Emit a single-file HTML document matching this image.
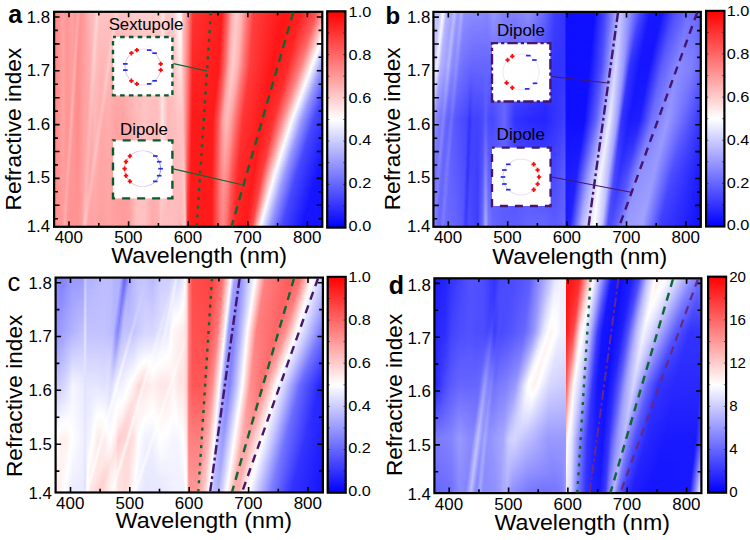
<!DOCTYPE html><html><head><meta charset="utf-8"><style>html,body{margin:0;padding:0;background:#fff;width:750px;height:540px;overflow:hidden}.hm{position:absolute;overflow:hidden}.hm i{position:absolute;left:0;width:100%;height:2.6px;display:block}svg{position:absolute;left:0;top:0}text{font-family:"Liberation Sans",sans-serif;fill:#000}</style></head><body><div class="hm" style="left:54.1px;top:11.8px;width:268.2px;height:215.0px"><i style="top:-1px;background:linear-gradient(90deg,#ff8585 -1px,#ff8585 0px,#ff8f8f 4px,#ffa3a3 9px,#ff9494 13px,#ffa3a3 18px,#ff9797 21.5px,#ff9797 22px,#ffa7a7 24.5px,#ff9696 26.5px,#ff9494 27px,#ff9898 29.5px,#ffb3b3 35px,#ffc0c0 40px,#ffd5d5 43px,#ffd4d4 43.5px,#ffc3c3 46px,#ffc2c2 46.5px,#ffc2c2 59.5px,#ffd6d6 62.5px,#ffc2c2 65.5px,#ffc2c2 70px,#ffcccc 82px,#ffcccc 104px,#ffd3d3 107px,#ffe4e4 109px,#ffd0d0 111px,#ffc8c8 113.5px,#ffcccc 119.5px,#ffcdcd 120px,#fff5f5 124px,#ffffff 125.4px,#f8f8ff 126.5px,#f8f8ff 127px,#ffffff 127.2px,#ffd0d0 128.5px,#ffc1c1 129px,#ff8d8d 134px,#ff3a3a 138.5px,#ff3333 139px,#ff1b1b 168px,#ff6868 174px,#ffaeae 178px,#ffcbcb 183px,#ffb1b1 188px,#ff7a7a 193px,#ff3d3d 200px,#ff1414 231px,#ff1f1f 246px,#ff4b4b 261.5px,#ff4e4e 262px,#ff9c9c 269px)"></i><i style="top:1px;background:linear-gradient(90deg,#ff8585 -1px,#ff8585 0px,#ff8f8f 4px,#ffa3a3 9px,#ff9494 13px,#ffa3a3 18px,#ff9797 21.5px,#ffa7a7 24px,#ffa6a6 24.5px,#ff9595 26.5px,#ff9898 29.5px,#ffb2b2 35px,#ffbfbf 40px,#ffd6d6 43px,#ffc2c2 46px,#ffc1c1 46.5px,#ffc1c1 59px,#ffd4d4 62px,#ffd4d4 62.5px,#ffc3c3 65px,#ffc1c1 65.5px,#ffc1c1 70px,#ffcccc 82px,#ffcccc 104px,#ffd3d3 107px,#ffe2e2 108.5px,#ffe4e4 109px,#ffd0d0 111px,#ffc8c8 113.5px,#ffcbcb 119.5px,#ffcdcd 120px,#fff5f5 124px,#ffffff 125.6px,#f9f9ff 126.5px,#fafaff 127px,#ffffff 127.2px,#ffd0d0 128.5px,#ffc1c1 129px,#ff8c8c 134px,#ff3a3a 138.5px,#ff3232 139px,#ff1a1a 167.5px,#ff1c1c 168px,#ff6262 173.5px,#ffa8a8 177.5px,#ffafaf 178px,#ffcaca 182.5px,#ffcbcb 183px,#ffb0b0 188px,#ff7878 193px,#ff3f3f 199.5px,#ff3d3d 200px,#ff1414 230.5px,#ff1f1f 245.5px,#ff4d4d 261px,#ff5050 261.5px,#ffa4a4 269px)"></i><i style="top:3px;background:linear-gradient(90deg,#ff8585 -1px,#ff8585 0px,#ff8f8f 4px,#ffa3a3 9px,#ff9494 13px,#ffa2a2 18px,#ff9797 21.5px,#ffa8a8 24px,#ff9494 26.5px,#ff9999 29.5px,#ffb2b2 35px,#ffc0c0 40px,#ffc9c9 41px,#ffd5d5 43px,#ffc1c1 46px,#ffc1c1 58.5px,#ffc1c1 59px,#ffd4d4 62px,#ffc1c1 65px,#ffc1c1 70px,#ffcbcb 82px,#ffcccc 104px,#ffd3d3 107px,#ffe2e2 108.5px,#ffe4e4 109px,#ffd0d0 111px,#ffc8c8 113.5px,#ffcbcb 119.5px,#ffcccc 120px,#fff4f4 124px,#ffffff 125.7px,#fafaff 126.5px,#fbfbff 127px,#ffffff 127.1px,#ffd0d0 128.5px,#ffc1c1 129px,#ff8b8b 134px,#ff3939 138.5px,#ff3232 139px,#ff1a1a 167.5px,#ff1e1e 168px,#ff6464 173.5px,#ffaaaa 177.5px,#ffafaf 178px,#ffcbcb 182.5px,#ffb3b3 187.5px,#ff7c7c 192.5px,#ff3e3e 199.5px,#ff1414 230px,#ff1f1f 245px,#ff4f4f 260.5px,#ff5353 261px,#ffacac 269px)"></i><i style="top:5px;background:linear-gradient(90deg,#ff8585 -1px,#ff8585 0px,#ff8f8f 4px,#ffa3a3 9px,#ff9494 13px,#ffa2a2 18px,#ff9797 21.5px,#ffa7a7 24px,#ff9393 26.5px,#ff9a9a 30px,#ffb2b2 35px,#ffbebe 39.5px,#ffd4d4 42.5px,#ffd4d4 43px,#ffc1c1 46px,#ffc0c0 58.5px,#ffd4d4 61.5px,#ffc1c1 64.5px,#ffc0c0 70px,#ffcbcb 82px,#ffcbcb 104px,#ffd3d3 107px,#ffe2e2 108.5px,#ffe4e4 109px,#ffd0d0 111px,#ffc6c6 114px,#ffcbcb 119.5px,#ffcccc 120px,#fff3f3 124px,#ffffff 125.9px,#fbfbff 126.5px,#fcfcff 127px,#ffffff 127.1px,#ffcfcf 128.5px,#ffc1c1 129px,#ff8b8b 134px,#ff3838 138.5px,#ff3131 139px,#ff1a1a 167.5px,#ff6565 173.5px,#ffacac 177.5px,#ffcccc 182.5px,#ffb2b2 187.5px,#ff7a7a 192.5px,#ff3d3d 199.5px,#ff1414 229.5px,#ff2020 244.5px,#ff5151 260px,#ff5555 260.5px,#ffb4b4 269px)"></i><i style="top:7px;background:linear-gradient(90deg,#ff8585 -1px,#ff8585 0px,#ff8f8f 4px,#ffa3a3 9px,#ff9494 13px,#ffa2a2 18px,#ff9898 21px,#ff9999 21.5px,#ffa6a6 23.5px,#ffa6a6 24px,#ff9595 26px,#ff9393 26.5px,#ff9a9a 30px,#ffb2b2 35px,#ffbdbd 39.5px,#ffd4d4 42.5px,#ffc1c1 45.5px,#ffc0c0 46px,#ffc0c0 58px,#ffc1c1 58.5px,#ffd2d2 61px,#ffd3d3 61.5px,#ffc0c0 64.5px,#ffc0c0 70px,#ffcaca 82px,#ffcbcb 104px,#ffd3d3 107px,#ffe2e2 108.5px,#ffe4e4 109px,#ffd0d0 111px,#ffc6c6 114px,#ffcbcb 119.5px,#ffcccc 120px,#fff2f2 124px,#ffffff 126.1px,#fdfdff 126.5px,#fdfdff 127px,#ffffff 127px,#ffcfcf 128.5px,#ffc1c1 129px,#ff8a8a 134px,#ff3737 138.5px,#ff3131 139px,#ff1a1a 167.5px,#ff6767 173.5px,#ffaeae 177.5px,#ffcaca 182px,#ffcbcb 182.5px,#ffb0b0 187.5px,#ff7979 192.5px,#ff3d3d 199.5px,#ff1414 229px,#ff2020 244px,#ff5454 259.5px,#ffbdbd 269px)"></i><i style="top:9px;background:linear-gradient(90deg,#ff8585 -1px,#ff8585 0px,#ff8f8f 4px,#ffa3a3 9px,#ff9494 13px,#ffa2a2 18px,#ff9898 21px,#ffa7a7 23.5px,#ff9494 26px,#ff9393 26.5px,#ff9a9a 30px,#ffb1b1 35px,#ffbdbd 39.5px,#ffcbcb 41px,#ffd5d5 42.5px,#ffc0c0 45.5px,#ffbfbf 58px,#ffd3d3 61px,#ffbfbf 64px,#ffbfbf 70px,#ffcaca 82px,#ffcbcb 104px,#ffd1d1 106.5px,#ffd4d4 107px,#ffe3e3 108.5px,#ffe4e4 109px,#ffcfcf 111px,#ffc6c6 114px,#ffcaca 119.5px,#ffcccc 120px,#fff1f1 124px,#ffffff 126.3px,#fefeff 126.5px,#ffffff 127px,#ffffff 127px,#ffcfcf 128.5px,#ffc1c1 129px,#ff8989 134px,#ff3636 138.5px,#ff3030 139px,#ff1a1a 167px,#ff1c1c 167.5px,#ff6969 173.5px,#ffa7a7 177px,#ffaeae 177.5px,#ffcbcb 182px,#ffcaca 182.5px,#ffb3b3 187px,#ff7c7c 192px,#ff3f3f 199px,#ff1414 228.5px,#ff2020 243.5px,#ff5656 259px,#ffc5c5 269px)"></i><i style="top:11px;background:linear-gradient(90deg,#ff8585 -1px,#ff8585 0px,#ff8f8f 4px,#ffa3a3 9px,#ff9494 13px,#ffa2a2 18px,#ff9898 21px,#ffa9a9 23.5px,#ff9393 26px,#ff9393 26.5px,#ff9b9b 30px,#ffb1b1 35px,#ffbcbc 39px,#ffbebe 39.5px,#ffcccc 41px,#ffd4d4 42.5px,#ffbfbf 45.5px,#ffbfbf 57.5px,#ffd1d1 60.5px,#ffd1d1 61px,#ffc0c0 63.5px,#ffbebe 64px,#ffbebe 70px,#ffcaca 82px,#ffcbcb 104px,#ffd1d1 106.5px,#ffd4d4 107px,#ffe3e3 108.5px,#ffe4e4 109px,#ffcfcf 111px,#ffc5c5 114px,#ffcaca 119.5px,#ffcbcb 120px,#fff0f0 124px,#ffffff 126.5px,#fffefe 127px,#ffcece 128.5px,#ffc1c1 129px,#ff8888 134px,#ff3535 138.5px,#ff3030 139px,#ff1a1a 167px,#ff1d1d 167.5px,#ff6363 173px,#ffa9a9 177px,#ffafaf 177.5px,#ffcccc 182px,#ffb3b3 187px,#ff7a7a 192px,#ff3d3d 199px,#ff1414 228px,#ff2121 243px,#ff5858 258.5px,#ffcdcd 269px)"></i><i style="top:13px;background:linear-gradient(90deg,#ff8585 -1px,#ff8585 0px,#ff8f8f 4px,#ffa3a3 9px,#ff9494 13px,#ffa2a2 18px,#ff9999 21px,#ffa8a8 23.5px,#ffa2a2 24px,#ff9292 26px,#ff9b9b 30px,#ffb1b1 35px,#ffbbbb 39px,#ffd3d3 42px,#ffd2d2 42.5px,#ffc1c1 45px,#ffbfbf 45.5px,#ffbfbf 57.5px,#ffd2d2 60.5px,#ffbebe 63.5px,#ffbebe 70px,#ffc9c9 82px,#ffcaca 104px,#ffd1d1 106.5px,#ffd4d4 107px,#ffe3e3 108.5px,#ffe4e4 109px,#ffcfcf 111px,#ffc5c5 114px,#ffcaca 119.5px,#ffcbcb 120px,#ffefef 124px,#fffefe 126.5px,#fffdfd 127px,#ffc1c1 129px,#ff8888 134px,#ff3535 138.5px,#ff2f2f 139px,#ff1a1a 167px,#ff6464 173px,#ffabab 177px,#ffcaca 181.5px,#ffcbcb 182px,#ffb1b1 187px,#ff7979 192px,#ff3d3d 199px,#ff1414 227.5px,#ff2222 243px,#ff5a5a 258px,#ffd6d6 269px)"></i><i style="top:15px;background:linear-gradient(90deg,#ff8585 -1px,#ff8585 0px,#ff8f8f 4px,#ffa3a3 9px,#ff9494 13px,#ffa1a1 18px,#ff9999 20.5px,#ff9a9a 21px,#ffa8a8 23px,#ffa7a7 23.5px,#ffa0a0 24px,#ff9494 25.5px,#ff9292 26px,#ff9b9b 30px,#ffb0b0 35px,#ffbbbb 39px,#ffcdcd 41px,#ffd4d4 42px,#ffbfbf 45px,#ffbfbf 45.5px,#ffbebe 57px,#ffd1d1 60px,#ffbebe 63px,#ffbdbd 70px,#ffc9c9 82px,#ffcaca 104px,#ffd1d1 106.5px,#ffe3e3 108.5px,#ffe4e4 109px,#ffcfcf 111px,#ffc5c5 114px,#ffc9c9 119.5px,#ffcbcb 120px,#ffeeee 124px,#fffcfc 126.5px,#fffcfc 127px,#ffc1c1 129px,#ff8787 134px,#ff3434 138.5px,#ff2f2f 139px,#ff1a1a 167px,#ff6666 173px,#ffadad 177px,#ffcbcb 181.5px,#ffcbcb 182px,#ffb4b4 186.5px,#ff7878 192px,#ff3f3f 198.5px,#ff3d3d 199px,#ff1414 227px,#ff2222 242.5px,#ff5a5a 257px,#ff5c5c 257.5px,#ffdede 269px)"></i><i style="top:17px;background:linear-gradient(90deg,#ff8585 -1px,#ff8585 0px,#ff8f8f 4px,#ffa3a3 9px,#ff9494 13px,#ffa1a1 18px,#ff9999 20.5px,#ffa9a9 23px,#ff9393 25.5px,#ff9292 26px,#ff9b9b 30px,#ffb0b0 35px,#ffbbbb 39px,#ffcece 41px,#ffd4d4 42px,#ffbebe 45px,#ffbebe 56.5px,#ffbfbf 57px,#ffcfcf 59.5px,#ffd0d0 60px,#ffbdbd 63px,#ffbdbd 70px,#ffc9c9 82px,#ffcaca 104px,#ffd1d1 106.5px,#ffe3e3 108.5px,#ffe4e4 109px,#ffd3d3 110.5px,#ffcfcf 111px,#ffc4c4 114px,#ffc9c9 119.5px,#ffcaca 120px,#ffeded 124px,#fffbfb 126.5px,#fffafa 127px,#ffc1c1 129px,#ff8686 134px,#ff3333 138.5px,#ff2f2f 139px,#ff1b1b 167px,#ff6868 173px,#ffaeae 177px,#ffcccc 181.5px,#ffb3b3 186.5px,#ff7b7b 191.5px,#ff3e3e 198.5px,#ff1414 226.5px,#ff2222 242px,#ff5c5c 256.5px,#ff5f5f 257px,#ffe6e6 269px)"></i><i style="top:19px;background:linear-gradient(90deg,#ff8585 -1px,#ff8585 0px,#ff8f8f 4px,#ffa3a3 9px,#ff9494 13px,#ffa1a1 18px,#ff9999 20.5px,#ffaaaa 23px,#ff9e9e 24px,#ff9292 25.5px,#ff9292 26px,#ff9b9b 30px,#ffb0b0 35px,#ffb9b9 38.5px,#ffd2d2 41.5px,#ffd2d2 42px,#ffbebe 45px,#ffbdbd 56.5px,#ffd1d1 59.5px,#ffbcbc 62.5px,#ffbcbc 70px,#ffc8c8 82px,#ffc9c9 104px,#ffd0d0 106.5px,#ffe4e4 108.5px,#ffe4e4 109px,#ffd3d3 110.5px,#ffcfcf 111px,#ffc4c4 114px,#ffc9c9 119.5px,#ffcaca 120px,#ffecec 124px,#fffafa 126.5px,#fff9f9 127px,#ffc1c1 129px,#ff8585 134px,#ff3232 138.5px,#ff2e2e 139px,#ff1a1a 166.5px,#ff1c1c 167px,#ff6262 172.5px,#ffa8a8 176.5px,#ffafaf 177px,#ffcccc 181.5px,#ffb2b2 186.5px,#ff7a7a 191.5px,#ff3d3d 198.5px,#ff1414 226px,#ff2323 241.5px,#ff5e5e 256px,#ff6262 256.5px,#ffefef 269px)"></i><i style="top:21px;background:linear-gradient(90deg,#ff8585 -1px,#ff8585 0px,#ff8f8f 4px,#ffa3a3 9px,#ff9494 13px,#ffa1a1 18px,#ff9a9a 20.5px,#ffa9a9 23px,#ff9c9c 24px,#ff9191 25.5px,#ff9b9b 30px,#ffb0b0 35px,#ffb9b9 38.5px,#ffd3d3 41.5px,#ffd1d1 42px,#ffbfbf 44.5px,#ffbebe 45px,#ffbdbd 56px,#ffcfcf 59px,#ffcfcf 59.5px,#ffbdbd 62px,#ffbcbc 62.5px,#ffbcbc 70px,#ffc8c8 82px,#ffc9c9 104px,#ffd0d0 106.5px,#ffe4e4 108.5px,#ffe4e4 109px,#ffd3d3 110.5px,#ffcfcf 111px,#ffc4c4 114px,#ffc9c9 119.5px,#ffcaca 120px,#ffebeb 124px,#fff8f8 126.5px,#fff8f8 127px,#ffc1c1 129px,#ff8585 134px,#ff3131 138.5px,#ff2e2e 139px,#ff1a1a 166.5px,#ff1e1e 167px,#ff6464 172.5px,#ffaaaa 176.5px,#ffb0b0 177px,#ffcaca 181px,#ffcbcb 181.5px,#ffb0b0 186.5px,#ff7878 191.5px,#ff3f3f 198px,#ff3d3d 198.5px,#ff1515 225.5px,#ff2323 241px,#ff6060 255.5px,#ff6464 256px,#fff7f7 269px)"></i><i style="top:23px;background:linear-gradient(90deg,#ff8585 -1px,#ff8585 0px,#ff8f8f 4px,#ffa3a3 9px,#ff9494 13px,#ffa1a1 18px,#ff9a9a 20px,#ff9b9b 20.5px,#ffa9a9 22.5px,#ffa8a8 23px,#ff9b9b 24px,#ff9191 25.5px,#ff9c9c 30px,#ffafaf 35px,#ffb9b9 38.5px,#ffd4d4 41.5px,#ffbdbd 44.5px,#ffbdbd 56px,#ffd0d0 59px,#ffbbbb 62px,#ffbbbb 70px,#ffc7c7 82px,#ffcaca 91px,#ffc9c9 104px,#ffd0d0 106.5px,#ffe4e4 108.5px,#ffe4e4 109px,#ffd2d2 110.5px,#ffcfcf 111px,#ffc4c4 114px,#ffc9c9 120px,#ffeaea 124px,#fff7f7 126.5px,#fff6f6 127px,#ffc1c1 129px,#ff8484 134px,#ff3131 138.5px,#ff2d2d 139px,#ff1a1a 166.5px,#ff6565 172.5px,#ffacac 176.5px,#ffcbcb 181px,#ffb3b3 186px,#ff7c7c 191px,#ff3e3e 198px,#ff1515 225px,#ff2323 240.5px,#ff6262 255px,#ffffff 269px,#ffffff 269px)"></i><i style="top:25px;background:linear-gradient(90deg,#ff8585 -1px,#ff8585 0px,#ff8f8f 4px,#ffa3a3 9px,#ff9494 13px,#ffa0a0 18px,#ff9a9a 20px,#ffaaaa 22.5px,#ffa6a6 23px,#ff9a9a 24px,#ff9292 25px,#ff9191 25.5px,#ff9c9c 30px,#ffafaf 35px,#ffb7b7 38px,#ffbaba 38.5px,#ffd1d1 41px,#ffd2d2 41.5px,#ffbdbd 44.5px,#ffbdbd 55.5px,#ffcfcf 58.5px,#ffbbbb 61.5px,#ffbbbb 70px,#ffc7c7 82px,#ffcaca 91px,#ffc9c9 104px,#ffd0d0 106.5px,#ffe4e4 108.5px,#ffe4e4 109px,#ffd2d2 110.5px,#ffcfcf 111px,#ffc3c3 114px,#ffc9c9 120px,#ffe9e9 124px,#fff6f6 126.5px,#fff5f5 127px,#ffc1c1 129px,#ff8383 134px,#ff3030 138.5px,#ff2d2d 139px,#ff1a1a 166.5px,#ff6767 172.5px,#ffaeae 176.5px,#ffcccc 181px,#ffb2b2 186px,#ff7a7a 191px,#ff3d3d 198px,#ff1515 225px,#ff2323 240px,#ff6565 254.5px,#ffffff 268.3px,#f7f7ff 269px)"></i><i style="top:27px;background:linear-gradient(90deg,#ff8585 -1px,#ff8585 0px,#ff8f8f 4px,#ffa3a3 9px,#ff9494 13px,#ffa0a0 18px,#ff9a9a 20px,#ffabab 22.5px,#ff9898 24px,#ff9090 25px,#ff9191 25.5px,#ff9c9c 30px,#ffafaf 35px,#ffb7b7 38px,#ffd2d2 41px,#ffd1d1 41.5px,#ffbfbf 44px,#ffbdbd 44.5px,#ffbcbc 55px,#ffbdbd 55.5px,#ffcdcd 58px,#ffcece 58.5px,#ffbaba 61.5px,#ffbaba 70px,#ffc7c7 82px,#ffc9c9 91px,#ffc8c8 104px,#ffd0d0 106.5px,#ffe5e5 108.5px,#ffe4e4 109px,#ffd2d2 110.5px,#ffcfcf 111px,#ffc3c3 114px,#ffc9c9 120px,#ffe8e8 124px,#fff5f5 126.5px,#fff4f4 127px,#ffc1c1 129px,#ff8282 134px,#ff2f2f 138.5px,#ff2c2c 139px,#ff1a1a 166px,#ff1c1c 166.5px,#ff6969 172.5px,#ffa7a7 176px,#ffafaf 176.5px,#ffcaca 180.5px,#ffcbcb 181px,#ffb0b0 186px,#ff7979 191px,#ff3d3d 198px,#ff1515 224.5px,#ff2424 239.5px,#ff6767 254px,#ffffff 267.6px,#f0f0ff 269px)"></i><i style="top:29px;background:linear-gradient(90deg,#ff8585 -1px,#ff8585 0px,#ff8f8f 4px,#ffa3a3 9px,#ff9494 13px,#ffa0a0 18px,#ff9b9b 20px,#ffa9a9 22px,#ffaaaa 22.5px,#ff9797 24px,#ff9090 25px,#ff9c9c 30px,#ffafaf 35px,#ffb7b7 38px,#ffd3d3 41px,#ffbdbd 44px,#ffbcbc 44.5px,#ffbbbb 47px,#ffbcbc 55px,#ffcfcf 58px,#ffb9b9 61px,#ffb9b9 70px,#ffc6c6 82px,#ffc9c9 91px,#ffc8c8 104px,#ffd0d0 106.5px,#ffe5e5 108.5px,#ffe4e4 109px,#ffd2d2 110.5px,#ffc3c3 114px,#ffc9c9 120px,#ffe7e7 124px,#fff3f3 126.5px,#fff3f3 127px,#ffc1c1 129px,#ff8282 134px,#ff2e2e 138.5px,#ff2c2c 139px,#ff1a1a 166px,#ff1d1d 166.5px,#ff6363 172px,#ffa9a9 176px,#ffafaf 176.5px,#ffcbcb 180.5px,#ffcaca 181px,#ffb3b3 185.5px,#ff7c7c 190.5px,#ff3f3f 197.5px,#ff1515 224px,#ff2424 239px,#ff6969 253.5px,#fffcfc 266.5px,#ffffff 266.8px,#e8e8ff 269px)"></i><i style="top:31px;background:linear-gradient(90deg,#ff8585 -1px,#ff8585 0px,#ff8f8f 4px,#ffa3a3 9px,#ff9494 13px,#ffa0a0 18px,#ff9b9b 19.5px,#ff9c9c 20px,#ffaaaa 22px,#ffa9a9 22.5px,#ff9595 24px,#ff9090 25px,#ff9c9c 30px,#ffb7b7 38px,#ffd3d3 41px,#ffbcbc 44px,#ffbaba 47px,#ffbcbc 54.5px,#ffcdcd 57.5px,#ffcdcd 58px,#ffbbbb 60.5px,#ffb9b9 61px,#ffb9b9 70px,#ffc6c6 82px,#ffc9c9 91px,#ffc8c8 104px,#ffd0d0 106.5px,#ffe5e5 108.5px,#ffe4e4 109px,#ffd2d2 110.5px,#ffc2c2 114px,#ffc8c8 120px,#ffe6e6 124px,#fff2f2 126.5px,#fff1f1 127px,#ffc1c1 129px,#ff8181 134px,#ff2d2d 138.5px,#ff2b2b 139px,#ff1a1a 166px,#ff6565 172px,#ffabab 176px,#ffcccc 180.5px,#ffb3b3 185.5px,#ff7b7b 190.5px,#ff3d3d 197.5px,#ff1515 223.5px,#ff2424 238.5px,#ff6b6b 253px,#ffffff 266px,#ffffff 266px,#e0e0ff 269px)"></i><i style="top:33px;background:linear-gradient(90deg,#ff8585 -1px,#ff8585 0px,#ff8f8f 4px,#ffa3a3 9px,#ff9494 13px,#ffa0a0 18px,#ff9b9b 19.5px,#ffabab 22px,#ffa7a7 22.5px,#ff9494 24px,#ff9090 24.5px,#ff9090 25px,#ff9d9d 30px,#ffb5b5 37.5px,#ffb8b8 38px,#ffd0d0 40.5px,#ffd2d2 41px,#ffbcbc 44px,#ffbaba 47px,#ffbcbc 54.5px,#ffcece 57.5px,#ffb8b8 60.5px,#ffb8b8 70px,#ffc6c6 82px,#ffc9c9 91px,#ffc7c7 104px,#ffd0d0 106.5px,#ffe5e5 108.5px,#ffe3e3 109px,#ffd1d1 110.5px,#ffc2c2 114px,#ffc8c8 120px,#ffe5e5 124px,#fff1f1 126.5px,#fff0f0 127px,#ffc1c1 129px,#ff8080 134px,#ff2c2c 138.5px,#ff2b2b 139px,#ff1a1a 166px,#ff6666 172px,#ffadad 176px,#ffcbcb 180.5px,#ffb1b1 185.5px,#ff7979 190.5px,#ff3d3d 197.5px,#ff1515 223px,#ff2626 238.5px,#ff6b6b 252px,#ff6e6e 252.5px,#fffcfc 265px,#ffffff 265.3px,#d9d9ff 269px)"></i><i style="top:35px;background:linear-gradient(90deg,#ff8585 -1px,#ff8585 0px,#ff8f8f 4px,#ffa3a3 9px,#ff9494 13px,#ff9f9f 18px,#ff9b9b 19.5px,#ffacac 22px,#ff9393 24px,#ff8f8f 24.5px,#ff9d9d 30px,#ffb5b5 37.5px,#ffd1d1 40.5px,#ffd0d0 41px,#ffbdbd 43.5px,#ffbaba 46.5px,#ffbbbb 54px,#ffcdcd 57px,#ffcbcb 57.5px,#ffb9b9 60px,#ffb8b8 60.5px,#ffb8b8 70px,#ffc5c5 82px,#ffc9c9 91px,#ffc7c7 104px,#ffd0d0 106.5px,#ffe5e5 108.5px,#ffe3e3 109px,#ffd1d1 110.5px,#ffc2c2 114px,#ffc8c8 120px,#ffe4e4 124px,#ffefef 126.5px,#ffefef 127px,#ffc1c1 129px,#ff7f7f 134px,#ff2c2c 138.5px,#ff2a2a 139px,#ff1b1b 166px,#ff6868 172px,#ffaeae 176px,#ffcaca 180px,#ffcbcb 180.5px,#ffb4b4 185px,#ff7878 190.5px,#ff3f3f 197px,#ff3d3d 197.5px,#ff1515 222.5px,#ff2626 238px,#ff6d6d 251.5px,#ff7070 252px,#ffffff 264.5px,#ffffff 264.5px,#d1d1ff 269px)"></i><i style="top:37px;background:linear-gradient(90deg,#ff8585 -1px,#ff8585 0px,#ff8f8f 4px,#ffa3a3 9px,#ff9494 13px,#ff9f9f 18px,#ff9c9c 19.5px,#ffaaaa 21.5px,#ffabab 22px,#ff9191 24px,#ff8f8f 24.5px,#ff9d9d 30px,#ffb5b5 37.5px,#ffd1d1 40.5px,#ffbcbc 43.5px,#ffb9b9 46.5px,#ffbaba 53.5px,#ffbbbb 54px,#ffcccc 56.5px,#ffcdcd 57px,#ffb8b8 60px,#ffb7b7 70px,#ffc5c5 82px,#ffc8c8 91px,#ffc7c7 104px,#ffd0d0 106.5px,#ffe6e6 108.5px,#ffe3e3 109px,#ffd1d1 110.5px,#ffc2c2 114px,#ffc7c7 120px,#ffe3e3 124px,#ffeeee 126.5px,#ffeeee 127px,#ffc0c0 129px,#ff7f7f 134px,#ff2b2b 138.5px,#ff2a2a 139px,#ff1a1a 165.5px,#ff1c1c 166px,#ff6262 171.5px,#ffa8a8 175.5px,#ffafaf 176px,#ffcbcb 180px,#ffb3b3 185px,#ff7b7b 190px,#ff3e3e 197px,#ff1515 222px,#ff2626 237.5px,#ff6f6f 251px,#ff7373 251.5px,#fffcfc 263.5px,#ffffff 263.8px,#cacaff 269px)"></i><i style="top:39px;background:linear-gradient(90deg,#ff8585 -1px,#ff8585 0px,#ff8f8f 4px,#ffa3a3 9px,#ff9494 13px,#ff9e9e 17.5px,#ff9d9d 19.5px,#ffabab 21.5px,#ffaaaa 22px,#ff9090 24px,#ff8e8e 24.5px,#ffb3b3 37px,#ffb5b5 37.5px,#ffd0d0 40.5px,#ffbcbc 43.5px,#ffb9b9 46.5px,#ffbaba 53.5px,#ffcdcd 56.5px,#ffb8b8 59.5px,#ffb7b7 70px,#ffc4c4 82px,#ffc8c8 91px,#ffc7c7 104px,#ffd0d0 106.5px,#ffe6e6 108.5px,#ffe3e3 109px,#ffd1d1 110.5px,#ffc1c1 114px,#ffc7c7 120px,#ffe2e2 124px,#ffeded 126.5px,#ffecec 127px,#ffc0c0 129px,#ff7e7e 134px,#ff2a2a 138.5px,#ff1a1a 165.5px,#ff1e1e 166px,#ff6464 171.5px,#ffaaaa 175.5px,#ffb0b0 176px,#ffcccc 180px,#ffb2b2 185px,#ff7a7a 190px,#ff3d3d 197px,#ff1515 221.5px,#ff2626 237px,#ff7171 250.5px,#ffffff 263px,#ffffff 263px,#c2c2ff 269px)"></i><i style="top:41px;background:linear-gradient(90deg,#ff8585 -1px,#ff8585 0px,#ff8f8f 4px,#ffa3a3 9px,#ff9494 13px,#ff9e9e 17.5px,#ff9c9c 19px,#ffacac 21.5px,#ffa8a8 22px,#ff8f8f 24px,#ff8e8e 24.5px,#ffb3b3 37px,#ffcece 40px,#ffcfcf 40.5px,#ffbbbb 43.5px,#ffb8b8 46.5px,#ffb9b9 53px,#ffcccc 56px,#ffcbcb 56.5px,#ffb7b7 59.5px,#ffb6b6 70px,#ffc4c4 82px,#ffc8c8 91px,#ffc6c6 104px,#ffcfcf 106.5px,#ffe6e6 108.5px,#ffe3e3 109px,#ffd1d1 110.5px,#ffc1c1 114px,#ffc7c7 120px,#ffe1e1 124px,#ffecec 126.5px,#ffebeb 127px,#ffc0c0 129px,#ff7d7d 134px,#ff2929 138.5px,#ff1a1a 165.5px,#ff6565 171.5px,#ffacac 175.5px,#ffcaca 179.5px,#ffcbcb 180px,#ffb0b0 185px,#ff7878 190px,#ff3d3d 197px,#ff1515 221px,#ff2727 236.5px,#ff7373 250px,#fffcfc 262px,#ffffff 262.3px,#babaff 269px)"></i><i style="top:43px;background:linear-gradient(90deg,#ff8585 -1px,#ff8585 0px,#ff8f8f 4px,#ffa3a3 9px,#ff9494 13px,#ff9e9e 17.5px,#ff9c9c 19px,#ffadad 21.5px,#ff8d8d 24px,#ffb2b2 37px,#ffcfcf 40px,#ffcccc 41px,#ffbcbc 43px,#ffb8b8 46.5px,#ffb9b9 53px,#ffcdcd 56px,#ffb7b7 59px,#ffb5b5 70px,#ffc4c4 82px,#ffc8c8 91px,#ffc6c6 104px,#ffcfcf 106.5px,#ffe6e6 108.5px,#ffe3e3 109px,#ffd1d1 110.5px,#ffc1c1 114px,#ffc6c6 120px,#ffe0e0 124px,#ffeaea 126.5px,#ffeaea 127px,#ffc0c0 129px,#ff7c7c 134px,#ff2929 138.5px,#ff1a1a 165.5px,#ff6767 171.5px,#ffaeae 175.5px,#ffcbcb 179.5px,#ffb3b3 184.5px,#ff7c7c 189.5px,#ff3e3e 196.5px,#ff1515 220.5px,#ff2727 236px,#ff7676 249.5px,#ffffff 261.5px,#ffffff 261.5px,#b3b3ff 269px)"></i><i style="top:45px;background:linear-gradient(90deg,#ff8585 -1px,#ff8585 0px,#ff8f8f 4px,#ffa3a3 9px,#ff9494 13px,#ff9e9e 17.5px,#ff9d9d 19px,#ffabab 21px,#ffacac 21.5px,#ff8d8d 24px,#ffb2b2 37px,#ffcfcf 40px,#ffcbcb 41px,#ffbbbb 43px,#ffb7b7 46.5px,#ffb8b8 52.5px,#ffcccc 55.5px,#ffcaca 56px,#ffb7b7 58.5px,#ffb6b6 59px,#ffb5b5 70px,#ffc3c3 82px,#ffc8c8 91px,#ffc6c6 104px,#ffd0d0 106.5px,#ffe6e6 108.5px,#ffe3e3 109px,#ffd1d1 110.5px,#ffc0c0 114px,#ffc6c6 120px,#ffdfdf 124px,#ffe9e9 126.5px,#ffe9e9 127px,#ffc0c0 129px,#ff7b7b 134px,#ff2828 138.5px,#ff1a1a 165px,#ff1c1c 165.5px,#ff6969 171.5px,#ffa7a7 175px,#ffafaf 175.5px,#ffcccc 179.5px,#ffb2b2 184.5px,#ff7a7a 189.5px,#ff3d3d 196.5px,#ff1515 220px,#ff2727 235.5px,#ff7878 249px,#fffcfc 260.5px,#ffffff 260.8px,#ababff 269px)"></i><i style="top:47px;background:linear-gradient(90deg,#ff8585 -1px,#ff8585 0px,#ff8f8f 4px,#ffa3a3 9px,#ff9494 13px,#ff9e9e 17.5px,#ff9e9e 19px,#ffacac 21px,#ffabab 21.5px,#ff9090 23.5px,#ff8d8d 24px,#ffb0b0 36.5px,#ffb3b3 37px,#ffcbcb 39.5px,#ffcece 40px,#ffc9c9 41px,#ffbbbb 43px,#ffb6b6 47px,#ffb9b9 52.5px,#ffcbcb 55px,#ffcccc 55.5px,#ffb6b6 58.5px,#ffb4b4 70px,#ffc3c3 82px,#ffc7c7 91px,#ffc6c6 104px,#ffd0d0 106.5px,#ffe6e6 108.5px,#ffe3e3 109px,#ffd1d1 110.5px,#ffc0c0 114px,#ffc6c6 120px,#ffdede 124px,#ffe8e8 126.5px,#ffe7e7 127px,#ffc0c0 129px,#ff7b7b 134px,#ff2828 138.5px,#ff1a1a 165px,#ff1d1d 165.5px,#ff6363 171px,#ffa9a9 175px,#ffafaf 175.5px,#ffcaca 179px,#ffcbcb 179.5px,#ffb1b1 184.5px,#ff7979 189.5px,#ff3d3d 196.5px,#ff1515 219.5px,#ff2727 235px,#ff7a7a 248.5px,#ffffff 260px,#ffffff 260px,#a4a4ff 269px)"></i><i style="top:49px;background:linear-gradient(90deg,#ff8585 -1px,#ff8585 0px,#ff8f8f 4px,#ffa3a3 9px,#ff9494 13px,#ff9e9e 17.5px,#ff9d9d 18.5px,#ffadad 21px,#ffa9a9 21.5px,#ff8f8f 23.5px,#ff8d8d 24px,#ffb0b0 36.5px,#ffcccc 39.5px,#ffcdcd 40px,#ffc8c8 41px,#ffbcbc 42.5px,#ffbbbb 43px,#ffb6b6 47px,#ffb7b7 52px,#ffcccc 55px,#ffb6b6 58px,#ffb4b4 61px,#ffb4b4 70px,#ffc3c3 82px,#ffc7c7 90.5px,#ffc5c5 104px,#ffd0d0 106.5px,#ffe6e6 108.5px,#ffe3e3 109px,#ffd1d1 110.5px,#ffc0c0 114px,#ffc5c5 120px,#ffdddd 124px,#ffe7e7 126.5px,#ffe6e6 127px,#ffc0c0 129px,#ff7a7a 134px,#ff2727 138.5px,#ff1a1a 165px,#ff6565 171px,#ffabab 175px,#ffcbcb 179px,#ffcaca 179.5px,#ffb3b3 184px,#ff7c7c 189px,#ff3f3f 196px,#ff1515 219px,#ff2828 234.5px,#ff7979 247.5px,#ff7d7d 248px,#ffffff 259.3px,#fdfdff 259.5px,#9c9cff 269px)"></i><i style="top:51px;background:linear-gradient(90deg,#ff8585 -1px,#ff8585 0px,#ff8f8f 4px,#ffa3a3 9px,#ff9494 13px,#ff9d9d 17.5px,#ff9c9c 18.5px,#ffaeae 21px,#ff8e8e 23.5px,#ff8d8d 24px,#ffb0b0 36.5px,#ffcdcd 39.5px,#ffc7c7 41px,#ffbbbb 42.5px,#ffb5b5 47px,#ffb7b7 51.5px,#ffcaca 54.5px,#ffcbcb 55px,#ffb5b5 58px,#ffb3b3 61px,#ffb3b3 70px,#ffc2c2 82px,#ffc7c7 90.5px,#ffc5c5 104px,#ffd0d0 106.5px,#ffe6e6 108.5px,#ffe3e3 109px,#ffd1d1 110.5px,#ffc0c0 114px,#ffc4c4 119.5px,#ffc5c5 120px,#ffdcdc 124px,#ffe5e5 126.5px,#ffe5e5 127px,#ffc0c0 129px,#ff7979 134px,#ff2727 138.5px,#ff1a1a 165px,#ff6666 171px,#ffadad 175px,#ffcccc 179px,#ffb3b3 184px,#ff7b7b 189px,#ff3d3d 196px,#ff1515 218.5px,#ff2a2a 234.5px,#ff7b7b 247px,#ff7f7f 247.5px,#fffefe 258.5px,#ffffff 258.6px,#9696ff 269px)"></i><i style="top:53px;background:linear-gradient(90deg,#ff8585 -1px,#ff8585 0px,#ff8f8f 4px,#ffa3a3 9px,#ff9494 13px,#ff9d9d 18.5px,#ffacac 20.5px,#ffadad 21px,#ff9393 23px,#ff8d8d 23.5px,#ff8d8d 24px,#ffaeae 36px,#ffb0b0 36.5px,#ffcccc 39.5px,#ffc6c6 41px,#ffbbbb 42.5px,#ffb5b5 47px,#ffb7b7 51.5px,#ffcccc 54.5px,#ffb5b5 57.5px,#ffb2b2 61px,#ffb3b3 70px,#ffc2c2 82px,#ffc7c7 90.5px,#ffc5c5 104px,#ffd0d0 106.5px,#ffe6e6 108.5px,#ffe3e3 109px,#ffd1d1 110.5px,#ffbfbf 114px,#ffc4c4 119.5px,#ffc5c5 120px,#ffdcdc 124px,#ffe4e4 126.5px,#ffe4e4 127px,#ffc0c0 129px,#ff7878 134px,#ff2e2e 138px,#ff2626 138.5px,#ff1a1a 164.5px,#ff1b1b 165px,#ff6868 171px,#ffaeae 175px,#ffcbcb 179px,#ffb1b1 184px,#ff7979 189px,#ff3d3d 196px,#ff1515 218px,#ff2a2a 234px,#ff7d7d 246.5px,#ffffff 257.8px,#fdfdff 258px,#9c9cff 267.5px,#9191ff 269px)"></i><i style="top:55px;background:linear-gradient(90deg,#ff8585 -1px,#ff8585 0px,#ff8f8f 4px,#ffa3a3 9px,#ff9494 13px,#ff9f9f 18.5px,#ffadad 20.5px,#ffacac 21px,#ff9191 23px,#ff8d8d 23.5px,#ff8c8c 24px,#ffaeae 36px,#ffc9c9 39px,#ffcbcb 39.5px,#ffc5c5 41px,#ffbaba 42.5px,#ffb5b5 47px,#ffb6b6 51px,#ffcaca 54px,#ffc9c9 54.5px,#ffb6b6 57px,#ffb5b5 57.5px,#ffb2b2 61px,#ffb2b2 70px,#ffc1c1 82px,#ffc6c6 90.5px,#ffc4c4 104px,#ffd0d0 106.5px,#ffe6e6 108.5px,#ffe3e3 109px,#ffd1d1 110.5px,#ffbfbf 114px,#ffc4c4 119.5px,#ffc5c5 120px,#ffdbdb 124px,#ffe3e3 126.5px,#ffe2e2 127px,#ffc0c0 129px,#ff7878 134px,#ff2d2d 138px,#ff2626 138.5px,#ff1a1a 164.5px,#ff1e1e 165px,#ff6464 170.5px,#ffaaaa 174.5px,#ffcaca 178.5px,#ffcaca 179px,#ffb2b2 183.5px,#ff7b7b 188.5px,#ff3e3e 195.5px,#ff1515 217.5px,#ff2a2a 233.5px,#ff7f7f 246px,#fffefe 257px,#ffffff 257.1px,#9a9aff 267px,#8c8cff 269px)"></i><i style="top:57px;background:linear-gradient(90deg,#ff8585 -1px,#ff8585 0px,#ff8f8f 4px,#ffa3a3 9px,#ff9494 13px,#ff9d9d 18px,#ffaeae 20.5px,#ffaaaa 21px,#ff9090 23px,#ff8c8c 24px,#ff9f9f 30px,#ffaeae 36px,#ffcaca 39px,#ffc6c6 40.5px,#ffbaba 42.5px,#ffb4b4 47px,#ffb6b6 51px,#ffcaca 54px,#ffb5b5 57px,#ffb1b1 61px,#ffb1b1 70px,#ffc1c1 82px,#ffc6c6 90.5px,#ffc4c4 104px,#ffd0d0 106.5px,#ffe2e2 108px,#ffe5e5 108.5px,#ffe3e3 109px,#ffd1d1 110.5px,#ffbfbf 114px,#ffc4c4 120px,#ffdada 124px,#ffe1e1 126.5px,#ffe1e1 127px,#ffc0c0 129px,#ff7777 134px,#ff2c2c 138px,#ff2525 138.5px,#ff1a1a 164px,#ff1a1a 164.5px,#ff6767 170.5px,#ffadad 174.5px,#ffcaca 178.5px,#ffb0b0 183.5px,#ff7878 188.5px,#ff3c3c 195.5px,#ff1515 217.5px,#ff2b2b 233px,#ff7d7d 245px,#ff8181 245.5px,#ffffff 256.3px,#fdfdff 256.5px,#9c9cff 266px,#8787ff 269px)"></i><i style="top:59px;background:linear-gradient(90deg,#ff8585 -1px,#ff8585 0px,#ff8f8f 4px,#ffa3a3 9px,#ff9494 13px,#ff9d9d 18px,#ffafaf 20.5px,#ff8f8f 23px,#ff8c8c 24px,#ff9f9f 30px,#ffadad 36px,#ffcbcb 39px,#ffc3c3 41px,#ffbbbb 42px,#ffb4b4 47px,#ffb5b5 50.5px,#ffcaca 53.5px,#ffb5b5 56.5px,#ffb4b4 57px,#ffb1b1 61px,#ffb1b1 69.5px,#ffc1c1 82px,#ffc6c6 90.5px,#ffc4c4 104px,#ffd0d0 106.5px,#ffe2e2 108px,#ffe5e5 108.5px,#ffe3e3 109px,#ffd1d1 110.5px,#ffbebe 114px,#ffc4c4 120px,#ffd9d9 124px,#ffe0e0 126.5px,#ffe0e0 127px,#ff7676 134px,#ff2b2b 138px,#ff2525 138.5px,#ff1a1a 164px,#ff1d1d 164.5px,#ff6262 170px,#ffa9a9 174px,#ffaeae 174.5px,#ffc9c9 178px,#ffc9c9 178.5px,#ffb1b1 183px,#ff7a7a 188px,#ff3d3d 195px,#ff1515 217px,#ff2c2c 232.5px,#ff8484 245px,#ffffff 255.6px,#fbfbff 256px,#9a9aff 265.5px,#8282ff 269px)"></i><i style="top:61px;background:linear-gradient(90deg,#ff8585 -1px,#ff8585 0px,#ff8f8f 4px,#ffa3a3 9px,#ff9494 13px,#ff9d9d 17.5px,#ffadad 20px,#ffaeae 20.5px,#ff8e8e 23px,#ff8c8c 24px,#ff9f9f 30px,#ffabab 35.5px,#ffaeae 36px,#ffc7c7 38.5px,#ffcaca 39px,#ffc2c2 41px,#ffbaba 42px,#ffb3b3 47px,#ffb6b6 50.5px,#ffc8c8 53px,#ffc8c8 53.5px,#ffb4b4 56.5px,#ffb0b0 61px,#ffb0b0 69.5px,#ffc0c0 82px,#ffc6c6 90.5px,#ffc4c4 104px,#ffd0d0 106.5px,#ffe2e2 108px,#ffe5e5 108.5px,#ffe3e3 109px,#ffd0d0 110.5px,#ffbebe 114px,#ffc4c4 120px,#ffd8d8 124px,#ffdfdf 126.5px,#ffdfdf 127px,#ff7d7d 133.5px,#ff2a2a 138px,#ff2424 138.5px,#ff1a1a 164px,#ff6565 170px,#ffacac 174px,#ffcaca 178px,#ffaeae 183px,#ff7777 188px,#ff3b3b 195px,#ff1515 216.5px,#ff2c2c 232px,#ff8181 244px,#ffffff 254.9px,#fdfdff 255px,#9c9cff 264.5px,#7d7dff 269px)"></i><i style="top:63px;background:linear-gradient(90deg,#ff8585 -1px,#ff8585 0px,#ff8f8f 4px,#ffa3a3 9px,#ff9494 13px,#ff9c9c 17.5px,#ffaeae 20px,#ffacac 20.5px,#ff9292 22.5px,#ff8e8e 23px,#ff8c8c 24px,#ff9f9f 30px,#ffabab 35.5px,#ffc7c7 38.5px,#ffc9c9 39px,#ffc1c1 41px,#ffbaba 42px,#ffb3b3 47px,#ffb4b4 50px,#ffc9c9 53px,#ffb5b5 56px,#ffb0b0 61px,#ffb0b0 69.5px,#ffc0c0 82px,#ffc6c6 90.5px,#ffc3c3 104px,#ffd0d0 106.5px,#ffe2e2 108px,#ffe5e5 108.5px,#ffe3e3 109px,#ffd0d0 110.5px,#ffbebe 114px,#ffc3c3 120px,#ffd7d7 124px,#ffdede 126.5px,#ffdddd 127px,#ff7d7d 133.5px,#ff2a2a 138px,#ff2424 138.5px,#ff1a1a 163.5px,#ff1d1d 164px,#ff6161 169.5px,#ffa7a7 173.5px,#ffadad 174px,#ffc7c7 177.5px,#ffc8c8 178px,#ffb0b0 182.5px,#ff7979 187.5px,#ff3c3c 194.5px,#ff1515 216px,#ff2d2d 231.5px,#ff8383 243.5px,#fffefe 254px,#ffffff 254.1px,#9a9aff 264px,#7878ff 269px)"></i><i style="top:65px;background:linear-gradient(90deg,#ff8585 -1px,#ff8585 0px,#ff8f8f 4px,#ffa3a3 9px,#ff9494 13px,#ff9c9c 17.5px,#ffafaf 20px,#ffabab 20.5px,#ff9191 22.5px,#ff8c8c 24px,#ff9f9f 30px,#ffabab 35.5px,#ffc8c8 38.5px,#ffc2c2 40.5px,#ffbaba 42px,#ffb2b2 47px,#ffb3b3 49.5px,#ffc7c7 52.5px,#ffc7c7 53px,#ffb4b4 56px,#ffafaf 61px,#ffafaf 69.5px,#ffc0c0 82px,#ffc5c5 90.5px,#ffc3c3 104px,#ffcccc 106px,#ffd0d0 106.5px,#ffe2e2 108px,#ffe5e5 108.5px,#ffe3e3 109px,#ffd0d0 110.5px,#ffbebe 114px,#ffc3c3 120px,#ffd6d6 124px,#ffdcdc 126.5px,#ffdcdc 127px,#ffc7c7 128.5px,#ff7c7c 133.5px,#ff2929 138px,#ff2323 138.5px,#ff1a1a 163.5px,#ff6363 169.5px,#ffaaaa 173.5px,#ffc8c8 177.5px,#ffadad 182.5px,#ff7676 187.5px,#ff3b3b 194.5px,#ff1616 216px,#ff2b2b 230.5px,#ff2d2d 231px,#ff8585 243px,#ffffff 253.4px,#fdfdff 253.5px,#9c9cff 263px,#7373ff 269px)"></i><i style="top:67px;background:linear-gradient(90deg,#ff8585 -1px,#ff8585 0px,#ff8f8f 4px,#ffa3a3 9px,#ff9494 13px,#ff9b9b 17px,#ff9c9c 17.5px,#ffa2a2 18px,#ffb0b0 20px,#ff9090 22.5px,#ff8c8c 24px,#ffa0a0 30px,#ffabab 35.5px,#ffc8c8 38.5px,#ffc1c1 40.5px,#ffbaba 41.5px,#ffb2b2 47px,#ffb3b3 49.5px,#ffc8c8 52.5px,#ffb4b4 55.5px,#ffaeae 61px,#ffaeae 69.5px,#ffbfbf 82px,#ffc5c5 90.5px,#ffc2c2 98px,#ffc3c3 104px,#ffcccc 106px,#ffd0d0 106.5px,#ffe3e3 108px,#ffe5e5 108.5px,#ffe3e3 109px,#ffd0d0 110.5px,#ffbdbd 114px,#ffc3c3 120px,#ffd5d5 124px,#ffdbdb 127px,#ffc0c0 129px,#ff7b7b 133.5px,#ff2828 138px,#ff2323 138.5px,#ff1a1a 163px,#ff1c1c 163.5px,#ff5f5f 169px,#ffa5a5 173px,#ffacac 173.5px,#ffc6c6 177px,#ffc7c7 177.5px,#ffafaf 182px,#ff7878 187px,#ff3b3b 194px,#ff1616 215.5px,#ff2b2b 230px,#ff2e2e 230.5px,#ff8383 242px,#fffefe 252.5px,#ffffff 252.6px,#9a9aff 262.5px,#6d6dff 269px)"></i><i style="top:69px;background:linear-gradient(90deg,#ff8585 -1px,#ff8585 0px,#ff8f8f 4px,#ffa3a3 9px,#ff9494 13px,#ff9b9b 17px,#ffaeae 19.5px,#ffaeae 20px,#ff8f8f 22.5px,#ff8c8c 24px,#ffa0a0 30px,#ffa9a9 35px,#ffabab 35.5px,#ffc4c4 38px,#ffc7c7 38.5px,#ffbaba 41.5px,#ffb1b1 47px,#ffb2b2 49px,#ffc7c7 52px,#ffb4b4 55.5px,#ffaeae 61px,#ffaeae 69.5px,#ffbfbf 82px,#ffc5c5 90.5px,#ffc2c2 98px,#ffc3c3 104px,#ffcccc 106px,#ffe3e3 108px,#ffe5e5 108.5px,#ffe3e3 109px,#ffd0d0 110.5px,#ffbdbd 114px,#ffc2c2 120px,#ffd4d4 124px,#ffd9d9 127px,#ffc0c0 129px,#ff7a7a 133.5px,#ff2727 138px,#ff2222 138.5px,#ff1a1a 163px,#ff6262 169px,#ffa9a9 173px,#ffc7c7 177px,#ffacac 182px,#ff7575 187px,#ff3a3a 194px,#ff1616 215px,#ff2c2c 229.5px,#ff2e2e 230px,#ff8585 241.5px,#ffffff 251.9px,#fefeff 252px,#9d9dff 261.5px,#6868ff 269px)"></i><i style="top:71px;background:linear-gradient(90deg,#ff8585 -1px,#ff8585 0px,#ff8f8f 4px,#ffa3a3 9px,#ff9494 13px,#ff9b9b 17px,#ffafaf 19.5px,#ffadad 20px,#ff9393 22px,#ff8f8f 22.5px,#ff8c8c 24px,#ffa0a0 30px,#ffa9a9 35px,#ffc5c5 38px,#ffc6c6 38.5px,#ffbaba 41.5px,#ffb1b1 47px,#ffb3b3 49px,#ffc5c5 51.5px,#ffc6c6 52px,#ffb4b4 55px,#ffadad 61px,#ffadad 70px,#ffbebe 82px,#ffc5c5 91px,#ffc2c2 103.5px,#ffcccc 106px,#ffe3e3 108px,#ffe5e5 108.5px,#ffe2e2 109px,#ffd0d0 110.5px,#ffbdbd 114px,#ffc2c2 120px,#ffd3d3 124px,#ffd8d8 127px,#ffc0c0 129px,#ff7a7a 133.5px,#ff2626 138px,#ff2222 138.5px,#ff1a1a 162.5px,#ff1b1b 163px,#ff6565 169px,#ffabab 173px,#ffc6c6 177px,#ffadad 181.5px,#ff7777 186.5px,#ff3a3a 193.5px,#ff1616 214.5px,#ff2c2c 229px,#ff2f2f 229.5px,#ff8787 241px,#fffefe 251px,#ffffff 251.1px,#9a9aff 261px,#6363ff 269px)"></i><i style="top:73px;background:linear-gradient(90deg,#ff8585 -1px,#ff8585 0px,#ff8f8f 4px,#ffa3a3 9px,#ff9494 13px,#ff9b9b 17px,#ffa5a5 18px,#ffb0b0 19.5px,#ff9191 22px,#ff8c8c 24px,#ffa0a0 30px,#ffa8a8 35px,#ffc6c6 38px,#ffbaba 41.5px,#ffb0b0 47px,#ffb1b1 48.5px,#ffc7c7 51.5px,#ffb4b4 54.5px,#ffadad 61px,#ffadad 70px,#ffbebe 82px,#ffc5c5 91px,#ffc1c1 103.5px,#ffc2c2 104px,#ffcccc 106px,#ffe3e3 108px,#ffe5e5 108.5px,#ffe2e2 109px,#ffd0d0 110.5px,#ffbcbc 114px,#ffc2c2 120px,#ffd2d2 124px,#ffd7d7 127px,#ffc0c0 129px,#ff7171 134px,#ff2525 138px,#ff2121 138.5px,#ff1a1a 162.5px,#ff1e1e 163px,#ff6060 168.5px,#ffa7a7 172.5px,#ffc5c5 176.5px,#ffc4c4 177px,#ffaaaa 181.5px,#ff7474 186.5px,#ff3c3c 193px,#ff3939 193.5px,#ff1717 214.5px,#ff2c2c 228.5px,#ff3030 229px,#ff8484 240px,#ffffff 250.4px,#fefeff 250.5px,#9898ff 260.5px,#5e5eff 269px)"></i><i style="top:75px;background:linear-gradient(90deg,#ff8585 -1px,#ff8585 0px,#ff8f8f 4px,#ffa3a3 9px,#ff9494 13px,#ff9a9a 16.5px,#ff9b9b 17px,#ffa6a6 18px,#ffb1b1 19.5px,#ff9191 22px,#ff8c8c 24px,#ffa0a0 30px,#ffa8a8 35px,#ffc6c6 38px,#ffbaba 41px,#ffb0b0 47px,#ffb2b2 48.5px,#ffc4c4 51px,#ffc4c4 51.5px,#ffb5b5 54px,#ffb3b3 54.5px,#ffacac 61px,#ffacac 70px,#ffbebe 82px,#ffc5c5 91px,#ffc1c1 98px,#ffc1c1 103.5px,#ffc2c2 104px,#ffcccc 106px,#ffe3e3 108px,#ffe5e5 108.5px,#ffe2e2 109px,#ffd5d5 110px,#ffd0d0 110.5px,#ffbcbc 114px,#ffc2c2 120px,#ffd1d1 124px,#ffd6d6 127px,#ffc0c0 129px,#ff7070 134px,#ff2525 138px,#ff2121 138.5px,#ff1a1a 162px,#ff1b1b 162.5px,#ff6363 168.5px,#ffaaaa 172.5px,#ffc5c5 176.5px,#ffacac 181px,#ff7676 186px,#ff3939 193px,#ff1717 214px,#ff2d2d 228px,#ff3030 228.5px,#ff8686 239.5px,#fffefe 249.5px,#ffffff 249.6px,#9a9aff 259.5px,#5959ff 269px)"></i><i style="top:77px;background:linear-gradient(90deg,#ff8585 -1px,#ff8585 0px,#ff8f8f 4px,#ffa3a3 9px,#ff9494 13px,#ff9a9a 16.5px,#ff9c9c 17px,#ffa8a8 18px,#ffafaf 19px,#ffafaf 19.5px,#ff9090 22px,#ff8b8b 24px,#ffa1a1 30px,#ffa7a7 34.5px,#ffa9a9 35px,#ffc2c2 37.5px,#ffc4c4 38px,#ffbbbb 40.5px,#ffafaf 47px,#ffb0b0 48px,#ffc5c5 51px,#ffb3b3 54px,#ffacac 61px,#ffacac 70px,#ffbdbd 82px,#ffc5c5 91px,#ffc1c1 98px,#ffc1c1 103.5px,#ffc1c1 104px,#ffcbcb 106px,#ffe3e3 108px,#ffe5e5 108.5px,#ffe2e2 109px,#ffd5d5 110px,#ffd0d0 110.5px,#ffbcbc 114px,#ffc1c1 120px,#ffd0d0 124px,#ffd4d4 127px,#ffc0c0 129px,#ff6f6f 134px,#ff2424 138px,#ff2020 138.5px,#ff1a1a 162px,#ff1d1d 162.5px,#ff5f5f 168px,#ffa5a5 172px,#ffabab 172.5px,#ffc4c4 176px,#ffc3c3 176.5px,#ffadad 180.5px,#ff7474 186px,#ff3b3b 192.5px,#ff3838 193px,#ff1717 213.5px,#ff2d2d 227.5px,#ff3131 228px,#ff8989 239px,#ffffff 248.9px,#fefeff 249px,#9898ff 259px,#5454ff 269px)"></i><i style="top:79px;background:linear-gradient(90deg,#ff8585 -1px,#ff8585 0px,#ff8f8f 4px,#ffa3a3 9px,#ff9494 13px,#ff9999 16.5px,#ffa9a9 18px,#ffb0b0 19px,#ffaeae 19.5px,#ff9494 21.5px,#ff9090 22px,#ff8b8b 24px,#ffa1a1 30px,#ffa7a7 34.5px,#ffaaaa 35px,#ffc2c2 37.5px,#ffc3c3 38px,#ffbaba 40.5px,#ffafaf 47px,#ffb2b2 48px,#ffc4c4 50.5px,#ffc3c3 51px,#ffb3b3 53.5px,#ffabab 61px,#ffabab 70px,#ffbdbd 82px,#ffc4c4 91px,#ffc1c1 98px,#ffc1c1 103.5px,#ffc1c1 104px,#ffcbcb 106px,#ffe4e4 108px,#ffe5e5 108.5px,#ffe2e2 109px,#ffd4d4 110px,#ffd0d0 110.5px,#ffbcbc 114px,#ffc1c1 120px,#ffcfcf 124px,#ffd3d3 127px,#ffc0c0 129px,#ff6f6f 134px,#ff2323 138px,#ff2020 138.5px,#ff1a1a 161.5px,#ff1a1a 162px,#ff6262 168px,#ffa9a9 172px,#ffc4c4 176px,#ffabab 180.5px,#ff7575 185.5px,#ff3838 192.5px,#ff1717 213px,#ff2e2e 227px,#ff3131 227.5px,#ff8686 238px,#fffdfd 248px,#ffffff 248.2px,#9a9aff 258px,#4f4fff 269px)"></i><i style="top:81px;background:linear-gradient(90deg,#ff8585 -1px,#ff8585 0px,#ff8f8f 4px,#ffa3a3 9px,#ff9494 13px,#ff9999 16.5px,#ffaaaa 18px,#ffb1b1 19px,#ff9292 21.5px,#ff8b8b 24px,#ffa1a1 30px,#ffa6a6 34.5px,#ffc3c3 37.5px,#ffb9b9 40.5px,#ffaeae 47px,#ffb0b0 47.5px,#ffc2c2 50px,#ffc3c3 50.5px,#ffb2b2 53.5px,#ffb2b2 55px,#ffaaaa 61px,#ffabab 70px,#ffbdbd 82px,#ffc4c4 91px,#ffc0c0 98px,#ffc0c0 103.5px,#ffc1c1 104px,#ffcbcb 106px,#ffe4e4 108px,#ffe5e5 108.5px,#ffe2e2 109px,#ffd4d4 110px,#ffd0d0 110.5px,#ffbbbb 114px,#ffc1c1 120px,#ffcece 124px,#ffd2d2 127px,#ffc0c0 129px,#ff6e6e 134px,#ff2222 138px,#ff1f1f 138.5px,#ff1a1a 161.5px,#ff1d1d 162px,#ff5e5e 167.5px,#ffa4a4 171.5px,#ffaaaa 172px,#ffc2c2 175.5px,#ffc3c3 176px,#ffacac 180px,#ff7373 185.5px,#ff3a3a 192px,#ff3737 192.5px,#ff1818 213px,#ff2e2e 226.5px,#ff8888 237.5px,#ffffff 247.4px,#fefeff 247.5px,#9898ff 257.5px,#4a4aff 269px)"></i><i style="top:83px;background:linear-gradient(90deg,#ff8585 -1px,#ff8585 0px,#ff8f8f 4px,#ffa3a3 9px,#ff9494 13px,#ff9898 16px,#ff9a9a 16.5px,#ffabab 18px,#ffb1b1 19px,#ff9191 21.5px,#ff8b8b 24px,#ffa1a1 30px,#ffa7a7 34.5px,#ffc3c3 37.5px,#ffb9b9 40.5px,#ffbaba 41px,#ffaeae 47px,#ffc3c3 50px,#ffb1b1 53px,#ffb2b2 55px,#ffaaaa 61px,#ffaaaa 70px,#ffbcbc 82px,#ffc4c4 91px,#ffc0c0 98px,#ffc0c0 103.5px,#ffc1c1 104px,#ffcbcb 106px,#ffe4e4 108px,#ffe4e4 108.5px,#ffe2e2 109px,#ffd4d4 110px,#ffd0d0 110.5px,#ffbbbb 114px,#ffc0c0 120px,#ffcdcd 124px,#ffd1d1 127px,#ffc0c0 129px,#ff6d6d 134px,#ff2121 138px,#ff1f1f 138.5px,#ff1a1a 161.5px,#ff6060 167.5px,#ffa7a7 171.5px,#ffc3c3 175.5px,#ffa9a9 180px,#ff7474 185px,#ff3737 192px,#ff1818 212.5px,#ff2f2f 226px,#ff8b8b 237px,#fffdfd 246.5px,#ffffff 246.7px,#9a9aff 256.5px,#4848ff 268.5px,#4747ff 269px)"></i><i style="top:85px;background:linear-gradient(90deg,#ff8585 -1px,#ff8585 0px,#ff8f8f 4px,#ffa3a3 9px,#ff9494 13px,#ff9898 16px,#ff9b9b 16.5px,#ffb0b0 18.5px,#ffb0b0 19px,#ff9696 21px,#ff9191 21.5px,#ff8b8b 24px,#ffa1a1 30px,#ffa7a7 34.5px,#ffbfbf 37px,#ffc2c2 37.5px,#ffb9b9 40px,#ffb9b9 41px,#ffaeae 46.5px,#ffafaf 47px,#ffc1c1 49.5px,#ffc2c2 50px,#ffb1b1 53px,#ffb1b1 55px,#ffa9a9 61px,#ffa9a9 70px,#ffbcbc 82px,#ffc4c4 91px,#ffc0c0 98px,#ffc0c0 103.5px,#ffc0c0 104px,#ffcbcb 106px,#ffe4e4 108px,#ffe4e4 108.5px,#ffe2e2 109px,#ffd4d4 110px,#ffd0d0 110.5px,#ffbbbb 114px,#ffc0c0 120px,#ffcccc 124px,#ffcfcf 127px,#ffc0c0 129px,#ff6c6c 134px,#ff2020 138px,#ff1f1f 138.5px,#ff1a1a 161px,#ff1c1c 161.5px,#ff5c5c 167px,#ff6363 167.5px,#ffa2a2 171px,#ffa9a9 171.5px,#ffc1c1 175px,#ffc2c2 175.5px,#ffaaaa 179.5px,#ff7272 185px,#ff3939 191.5px,#ff1818 212px,#ff2f2f 225.5px,#ff8888 236px,#ffffff 245.9px,#fefeff 246px,#9898ff 256px,#4a4aff 267.5px,#4545ff 269px)"></i><i style="top:87px;background:linear-gradient(90deg,#ff8585 -1px,#ff8585 0px,#ff8f8f 4px,#ffa3a3 9px,#ff9494 13px,#ff9898 16px,#ffb1b1 18.5px,#ffaeae 19px,#ff9494 21px,#ff9191 21.5px,#ff8b8b 24px,#ffa1a1 30px,#ffa5a5 34px,#ffacac 35px,#ffc0c0 37px,#ffc1c1 37.5px,#ffb8b8 40px,#ffb9b9 41px,#ffaeae 46.5px,#ffc2c2 49.5px,#ffb0b0 52.5px,#ffb1b1 55px,#ffa9a9 61px,#ffa9a9 70px,#ffbbbb 82px,#ffc4c4 91px,#ffbfbf 98px,#ffbfbf 103.5px,#ffc0c0 104px,#ffcbcb 106px,#ffe4e4 108px,#ffe4e4 108.5px,#ffe2e2 109px,#ffd4d4 110px,#ffd0d0 110.5px,#ffbaba 114px,#ffc0c0 120px,#ffcbcb 124px,#ffcece 126.5px,#ffcece 127px,#ffc4c4 128.5px,#ffc0c0 129px,#ff6c6c 134px,#ff2020 138px,#ff1e1e 138.5px,#ff1a1a 161px,#ff5f5f 167px,#ffa6a6 171px,#ffc2c2 175px,#ffa8a8 179.5px,#ff7373 184.5px,#ff3737 191.5px,#ff1818 211.5px,#ff2f2f 225px,#ff8a8a 235.5px,#fffdfd 245px,#ffffff 245.2px,#9b9bff 255px,#4848ff 267px,#4343ff 269px)"></i><i style="top:89px;background:linear-gradient(90deg,#ff8585 -1px,#ff8585 0px,#ff8f8f 4px,#ffa3a3 9px,#ff9494 13px,#ff9898 16px,#ffb2b2 18.5px,#ff9393 21px,#ff8b8b 24px,#ffa2a2 30px,#ffa5a5 34px,#ffadad 35px,#ffc1c1 37px,#ffb7b7 40px,#ffb9b9 41px,#ffaeae 46px,#ffb2b2 47px,#ffc1c1 49px,#ffc0c0 49.5px,#ffb0b0 52px,#ffb1b1 55px,#ffa8a8 61px,#ffa8a8 70px,#ffbbbb 82px,#ffc3c3 91px,#ffbfbf 98px,#ffbfbf 103.5px,#ffc0c0 104px,#ffcbcb 106px,#ffe4e4 108px,#ffe4e4 108.5px,#ffe2e2 109px,#ffd4d4 110px,#ffbaba 114px,#ffbfbf 120px,#ffcaca 124px,#ffcdcd 126.5px,#ffcdcd 127px,#ffc4c4 128.5px,#ffc0c0 129px,#ff7373 133.5px,#ff1f1f 138px,#ff1e1e 138.5px,#ff1a1a 160.5px,#ff1b1b 161px,#ff6262 167px,#ffa8a8 171px,#ffbfbf 174.5px,#ffc1c1 175px,#ffa9a9 179px,#ff7575 184px,#ff3838 191px,#ff1818 211.5px,#ff3030 224.5px,#ff8888 234.5px,#ffffff 244.4px,#fefeff 244.5px,#9898ff 254.5px,#4747ff 266.5px,#4141ff 269px)"></i><i style="top:91px;background:linear-gradient(90deg,#ff8585 -1px,#ff8585 0px,#ff8f8f 4px,#ffa3a3 9px,#ff9494 13px,#ff9797 15.5px,#ff9999 16px,#ffb0b0 18px,#ffb1b1 18.5px,#ff9292 21px,#ff8b8b 24px,#ffa2a2 30px,#ffa5a5 34px,#ffc0c0 37px,#ffb6b6 40px,#ffb9b9 41px,#ffafaf 46px,#ffc1c1 49px,#ffafaf 52px,#ffb0b0 55px,#ffa8a8 61px,#ffa8a8 70px,#ffbbbb 82px,#ffc3c3 91px,#ffbfbf 98px,#ffbfbf 103.5px,#ffbfbf 104px,#ffcbcb 106px,#ffe5e5 108px,#ffe2e2 109px,#ffd4d4 110px,#ffbaba 114px,#ffbfbf 120px,#ffc9c9 124px,#ffcccc 126.5px,#ffcccc 127px,#ffc4c4 128.5px,#ffc0c0 129px,#ff7373 133.5px,#ff1e1e 138px,#ff1a1a 160.5px,#ff5d5d 166.5px,#ffa4a4 170.5px,#ffc0c0 174.5px,#ffa7a7 179px,#ff7272 184px,#ff3636 191px,#ff1818 211px,#ff3131 224px,#ff8a8a 234px,#fffdfd 243.5px,#ffffff 243.7px,#9b9bff 253.5px,#4949ff 265.5px,#4040ff 269px)"></i><i style="top:93px;background:linear-gradient(90deg,#ff8585 -1px,#ff8585 0px,#ff8f8f 4px,#ffa3a3 9px,#ff9494 13px,#ff9797 15.5px,#ff9a9a 16px,#ffb1b1 18px,#ffb0b0 18.5px,#ff9696 20.5px,#ff9292 21px,#ff8b8b 24px,#ffa2a2 30px,#ffa6a6 34px,#ffbdbd 36.5px,#ffbfbf 37px,#ffb6b6 39.5px,#ffb9b9 41px,#ffafaf 45.5px,#ffb5b5 47px,#ffc0c0 48.5px,#ffafaf 51.5px,#ffb0b0 55px,#ffa7a7 61px,#ffa7a7 70px,#ffbaba 82px,#ffc3c3 91px,#ffbfbf 98px,#ffbfbf 103.5px,#ffbfbf 104px,#ffcaca 106px,#ffe5e5 108px,#ffe2e2 109px,#ffd4d4 110px,#ffbaba 114px,#ffbfbf 120px,#ffc8c8 124px,#ffcaca 126.5px,#ffcaca 127px,#ffc4c4 128.5px,#ffc0c0 129px,#ff7272 133.5px,#ff1d1d 138px,#ff1b1b 160.5px,#ff6060 166.5px,#ffa6a6 170.5px,#ffc0c0 174.5px,#ffa8a8 178.5px,#ff7474 183.5px,#ff3737 190.5px,#ff1818 210.5px,#ff3131 223.5px,#ff8c8c 233.5px,#ffffff 242.9px,#fefeff 243px,#9898ff 253px,#4747ff 265px,#3e3eff 269px)"></i><i style="top:95px;background:linear-gradient(90deg,#ff8585 -1px,#ff8585 0px,#ff8f8f 4px,#ffa3a3 9px,#ff9494 13px,#ff9797 15.5px,#ffb2b2 18px,#ffaeae 18.5px,#ff9595 20.5px,#ff8b8b 24px,#ffa2a2 30px,#ffa4a4 33.5px,#ffaeae 35px,#ffbebe 36.5px,#ffbebe 37px,#ffb5b5 39.5px,#ffb8b8 41px,#ffafaf 45px,#ffb0b0 45.5px,#ffb7b7 47px,#ffbebe 48px,#ffbfbf 48.5px,#ffaeae 51.5px,#ffafaf 55px,#ffa6a6 61px,#ffa6a6 69.5px,#ffbaba 82px,#ffc2c2 90.5px,#ffbebe 98px,#ffbebe 103.5px,#ffbfbf 104px,#ffcaca 106px,#ffe5e5 108px,#ffe2e2 109px,#ffd3d3 110px,#ffb9b9 114px,#ffbfbf 120px,#ffc7c7 124px,#ffc9c9 126.5px,#ffc9c9 127px,#ffc0c0 129px,#ff6868 134px,#ff1c1c 138px,#ff1a1a 160px,#ff1d1d 160.5px,#ff5c5c 166px,#ffa2a2 170px,#ffa7a7 170.5px,#ffbfbf 174px,#ffbebe 174.5px,#ffa5a5 178.5px,#ff7171 183.5px,#ff3535 190.5px,#ff1818 210px,#ff3232 223px,#ff8989 232.5px,#fffdfd 242px,#ffffff 242.2px,#9b9bff 252px,#4949ff 264px,#3c3cff 269px)"></i><i style="top:97px;background:linear-gradient(90deg,#ff8585 -1px,#ff8585 0px,#ff8f8f 4px,#ffa3a3 9px,#ff9494 13px,#ff9797 15.5px,#ffb3b3 18px,#ff9393 20.5px,#ff8b8b 24px,#ffa2a2 30px,#ffa4a4 33.5px,#ffafaf 35px,#ffbebe 36.5px,#ffb4b4 39.5px,#ffb8b8 41px,#ffafaf 45px,#ffb8b8 47px,#ffc0c0 48px,#ffadad 51px,#ffafaf 55px,#ffa6a6 61px,#ffa6a6 70px,#ffbaba 82px,#ffc3c3 91px,#ffbebe 98px,#ffbebe 103.5px,#ffbfbf 104px,#ffcaca 106px,#ffe5e5 108px,#ffe2e2 109px,#ffd3d3 110px,#ffb9b9 114px,#ffbebe 120px,#ffc6c6 124px,#ffc8c8 126.5px,#ffc0c0 129px,#ff6868 134px,#ff1c1c 138px,#ff1a1a 160px,#ff5e5e 166px,#ffa5a5 170px,#ffbfbf 174px,#ffa7a7 178px,#ff7373 183px,#ff3636 190px,#ff1919 210px,#ff3232 222.5px,#ff8b8b 232px,#ffffff 241.4px,#fefeff 241.5px,#9999ff 251.5px,#4747ff 263.5px,#3a3aff 269px)"></i><i style="top:99px;background:linear-gradient(90deg,#ff8585 -1px,#ff8585 0px,#ff8f8f 4px,#ffa3a3 9px,#ff9494 13px,#ff9696 15px,#ff9898 15.5px,#ffafaf 17.5px,#ffb2b2 18px,#ff9393 20.5px,#ff8a8a 24px,#ffa3a3 30px,#ffa5a5 33.5px,#ffbdbd 36.5px,#ffb4b4 39.5px,#ffb8b8 41px,#ffb0b0 44.5px,#ffb7b7 46.5px,#ffbdbd 47.5px,#ffbdbd 48px,#ffaeae 50.5px,#ffadad 51px,#ffafaf 55px,#ffa5a5 61px,#ffa5a5 69.5px,#ffb9b9 82px,#ffc2c2 90.5px,#ffbebe 98px,#ffbebe 103.5px,#ffbebe 104px,#ffcaca 106px,#ffe5e5 108px,#ffe2e2 109px,#ffd3d3 110px,#ffb9b9 114px,#ffbebe 120px,#ffc5c5 124px,#ffc7c7 127px,#ffc0c0 129px,#ff6767 134px,#ff1b1b 138px,#ff1a1a 159.5px,#ff1c1c 160px,#ff5b5b 165.5px,#ffa0a0 169.5px,#ffa6a6 170px,#ffbdbd 173.5px,#ffbdbd 174px,#ffa4a4 178px,#ff7171 183px,#ff3434 190px,#ff1919 209.5px,#ff3333 222px,#ff8e8e 231.5px,#fffdfd 240.5px,#ffffff 240.7px,#9b9bff 250.5px,#4949ff 262.5px,#3939ff 269px)"></i><i style="top:101px;background:linear-gradient(90deg,#ff8585 -1px,#ff8585 0px,#ff8f8f 4px,#ffa3a3 9px,#ff9494 13px,#ff9696 15px,#ff9999 15.5px,#ffb0b0 17.5px,#ffb0b0 18px,#ff9797 20px,#ff9393 20.5px,#ff8a8a 24px,#ffa3a3 30px,#ffa5a5 33.5px,#ffb0b0 35px,#ffbaba 36px,#ffbcbc 36.5px,#ffb3b3 39px,#ffb8b8 41px,#ffb0b0 44.5px,#ffbebe 47.5px,#ffacac 50.5px,#ffaeae 55px,#ffa5a5 61px,#ffa5a5 69.5px,#ffb9b9 82px,#ffc2c2 90.5px,#ffbdbd 98px,#ffbdbd 103.5px,#ffbebe 104px,#ffcaca 106px,#ffe5e5 108px,#ffe2e2 109px,#ffd3d3 110px,#ffb8b8 114px,#ffbebe 120px,#ffc4c4 124px,#ffc5c5 127px,#ffc0c0 129px,#ff6666 134px,#ff1b1b 138px,#ff1a1a 159.5px,#ff5d5d 165.5px,#ffa4a4 169.5px,#ffbebe 173.5px,#ffa5a5 177.5px,#ff7272 182.5px,#ff3535 189.5px,#ff1919 209px,#ff3434 221.5px,#ff8b8b 230.5px,#ffffff 240px,#fefeff 240px,#9999ff 250px,#4747ff 262px,#3737ff 269px)"></i><i style="top:103px;background:linear-gradient(90deg,#ff8585 -1px,#ff8585 0px,#ff8f8f 4px,#ffa3a3 9px,#ff9494 13px,#ff9696 15px,#ffb1b1 17.5px,#ffafaf 18px,#ff9595 20px,#ff8a8a 24px,#ffa3a3 30px,#ffa3a3 33px,#ffb1b1 35px,#ffbbbb 36px,#ffb2b2 39px,#ffb8b8 41px,#ffb0b0 44px,#ffbdbd 47px,#ffacac 50px,#ffaeae 55px,#ffa4a4 61px,#ffa4a4 69.5px,#ffb8b8 82px,#ffc2c2 91px,#ffbdbd 98px,#ffbdbd 103.5px,#ffbebe 104px,#ffcaca 106px,#ffe5e5 108px,#ffe2e2 109px,#ffd3d3 110px,#ffb8b8 114px,#ffbdbd 120px,#ffc3c3 124px,#ffc4c4 127px,#ffc0c0 129px,#ff1a1a 138px,#ff1a1a 159px,#ff1c1c 159.5px,#ff5959 165px,#ff6060 165.5px,#ff9f9f 169px,#ffa5a5 169.5px,#ffbcbc 173px,#ffbcbc 173.5px,#ffa3a3 177.5px,#ff7070 182.5px,#ff3333 189.5px,#ff1919 208.5px,#ff3434 221px,#ff8d8d 230px,#fffcfc 239px,#ffffff 239.2px,#9b9bff 249px,#4949ff 261px,#3535ff 269px)"></i><i style="top:105px;background:linear-gradient(90deg,#ff8585 -1px,#ff8585 0px,#ff8f8f 4px,#ffa3a3 9px,#ff9494 13px,#ff9696 15px,#ffb2b2 17.5px,#ff9494 20px,#ff8a8a 24px,#ffa3a3 30px,#ffa3a3 33px,#ffb1b1 35px,#ffbcbc 36px,#ffb1b1 39px,#ffb7b7 41px,#ffb1b1 44px,#ffbcbc 46.5px,#ffbcbc 47px,#ffabab 50px,#ffaeae 55px,#ffa4a4 61px,#ffa4a4 69.5px,#ffb8b8 82px,#ffc2c2 91px,#ffbdbd 98px,#ffbdbd 103.5px,#ffbebe 104px,#ffcaca 106px,#ffe4e4 108px,#ffe2e2 109px,#ffd3d3 110px,#ffb8b8 114px,#ffc3c3 124px,#ffc2c2 128.5px,#ffc0c0 129px,#ff1a1a 138px,#ff1a1a 159px,#ff5b5b 165px,#ffa2a2 169px,#ffbdbd 173px,#ffa4a4 177px,#ff7171 182px,#ff3434 189px,#ff1a1a 208.5px,#ff3232 220px,#ff3535 220.5px,#ff9090 229.5px,#ffffff 238.5px,#ffffff 238.5px,#9999ff 248.5px,#4747ff 260.5px,#3434ff 269px)"></i><i style="top:107px;background:linear-gradient(90deg,#ff8585 -1px,#ff8585 0px,#ff8f8f 4px,#ffa3a3 9px,#ff9494 13px,#ff9696 14.5px,#ff9797 15px,#ffaeae 17px,#ffb1b1 17.5px,#ff9494 20px,#ff8a8a 24px,#ffa3a3 30px,#ffa4a4 33px,#ffbaba 36px,#ffb1b1 39px,#ffb7b7 41px,#ffb1b1 43.5px,#ffbdbd 46.5px,#ffaaaa 49.5px,#ffadad 55px,#ffa3a3 61px,#ffa3a3 69.5px,#ffb8b8 82px,#ffc2c2 91px,#ffbdbd 98px,#ffbdbd 103.5px,#ffbdbd 104px,#ffcaca 106px,#ffe4e4 108px,#ffe1e1 109px,#ffd3d3 110px,#ffb8b8 114px,#ffc2c2 124px,#ffc0c0 129px,#ff2121 137.5px,#ff1a1a 138px,#ff1b1b 159px,#ff5e5e 165px,#ffa4a4 169px,#ffbcbc 173px,#ffa2a2 177px,#ff6f6f 182px,#ff3333 189px,#ff1a1a 208px,#ff3232 219.5px,#ff3535 220px,#ff9292 229px,#ffffff 237.8px,#fcfcff 238px,#9797ff 248px,#4949ff 259.5px,#3232ff 269px)"></i><i style="top:109px;background:linear-gradient(90deg,#ff8585 -1px,#ff8585 0px,#ff8f8f 4px,#ffa3a3 9px,#ff9494 13px,#ff9595 14.5px,#ff9999 15px,#ffafaf 17px,#ffafaf 17.5px,#ff9797 19.5px,#ff9494 20px,#ff8a8a 24px,#ffa3a3 30px,#ffa5a5 33px,#ffb8b8 35.5px,#ffbaba 36px,#ffb1b1 38.5px,#ffb7b7 41px,#ffb2b2 43px,#ffbdbd 46px,#ffabab 49px,#ffaaaa 49.5px,#ffadad 55px,#ffa3a3 61px,#ffa3a3 69.5px,#ffb8b8 82px,#ffc1c1 90.5px,#ffbcbc 98px,#ffbcbc 103.5px,#ffbdbd 104px,#ffcaca 106px,#ffe4e4 108px,#ffe1e1 109px,#ffd3d3 110px,#ffb8b8 114px,#ffc2c2 124px,#ffc1c1 129px,#ff2020 137.5px,#ff1a1a 138px,#ff1a1a 158.5px,#ff1b1b 159px,#ff5f5f 165px,#ff9c9c 168.5px,#ffa3a3 169px,#ffb9b9 172.5px,#ffbaba 173px,#ff9f9f 177px,#ff6d6d 182px,#ff3434 188.5px,#ff1a1a 207.5px,#ff3535 219.5px,#ff8d8d 228px,#fffefe 237px,#ffffff 237.1px,#9a9aff 247px,#4848ff 259px,#3030ff 269px)"></i><i style="top:111px;background:linear-gradient(90deg,#ff8585 -1px,#ff8585 0px,#ff8f8f 4px,#ffa2a2 9px,#ff9494 13px,#ff9595 14.5px,#ffb0b0 17px,#ffa9a9 18px,#ff9696 19.5px,#ff8b8b 24px,#ffa3a3 30px,#ffa3a3 32.5px,#ffb0b0 34.5px,#ffb9b9 35.5px,#ffb9b9 36px,#ffb0b0 38.5px,#ffb6b6 41px,#ffb2b2 43px,#ffbebe 46px,#ffb5b5 47px,#ffa9a9 49px,#ffadad 55px,#ffa3a3 61px,#ffa3a3 69.5px,#ffb8b8 82px,#ffc1c1 90.5px,#ffbcbc 98px,#ffbcbc 103.5px,#ffbdbd 104px,#ffcaca 106px,#ffdede 107.5px,#ffe3e3 108px,#ffe0e0 109px,#ffd2d2 110px,#ffb8b8 114px,#ffc1c1 124px,#ffc2c2 129px,#ff1f1f 137.5px,#ff1a1a 138px,#ff1a1a 158.5px,#ff1c1c 159px,#ff5858 164.5px,#ff9d9d 168.5px,#ffa2a2 169px,#ffb9b9 172.5px,#ffb8b8 173px,#ffa2a2 176.5px,#ff6f6f 181.5px,#ff3232 188.5px,#ff1a1a 207.5px,#ff3535 219px,#ff8e8e 227.5px,#ffffff 236.5px,#ffffff 236.5px,#9999ff 246.5px,#4747ff 258.5px,#2f2fff 269px)"></i><i style="top:113px;background:linear-gradient(90deg,#ff8585 -1px,#ff8585 0px,#ff8f8f 4px,#ffa2a2 9px,#ff9494 13px,#ff9696 14.5px,#ffb1b1 17px,#ffa8a8 18px,#ff9595 19.5px,#ff8b8b 24px,#ffa3a3 30px,#ffa3a3 32.5px,#ffb9b9 35.5px,#ffafaf 38.5px,#ffb6b6 41px,#ffb2b2 42.5px,#ffbfbf 45.5px,#ffaaaa 48.5px,#ffadad 55px,#ffa3a3 61px,#ffa3a3 69.5px,#ffb8b8 82px,#ffc1c1 90.5px,#ffbbbb 98px,#ffbcbc 103.5px,#ffbcbc 104px,#ffc9c9 106px,#ffdede 107.5px,#ffe2e2 108px,#ffdfdf 109px,#ffd2d2 110px,#ffb8b8 114px,#ffc1c1 124px,#ffc2c2 129px,#ff6060 134px,#ff1f1f 137.5px,#ff1a1a 138px,#ff1a1a 158.5px,#ff1c1c 159px,#ff5959 164.5px,#ff9d9d 168.5px,#ffb8b8 172.5px,#ffa0a0 176.5px,#ff6c6c 181.5px,#ff3232 188.5px,#ff1a1a 207px,#ff3535 218.5px,#ff8f8f 227px,#ffffff 235.9px,#fdfdff 236px,#9898ff 246px,#4747ff 258px,#2d2dff 269px)"></i><i style="top:115px;background:linear-gradient(90deg,#ff8585 -1px,#ff8585 0px,#ff9090 4px,#ffa2a2 9px,#ff9494 13px,#ff9595 14px,#ff9797 14.5px,#ffadad 16.5px,#ffb0b0 17px,#ff9595 19.5px,#ff8b8b 24px,#ffa3a3 30px,#ffa4a4 32.5px,#ffb9b9 35.5px,#ffaeae 38.5px,#ffb6b6 41px,#ffb3b3 42.5px,#ffbebe 45px,#ffbebe 45.5px,#ffb1b1 47px,#ffa9a9 48.5px,#ffacac 55px,#ffa3a3 61px,#ffa2a2 69.5px,#ffb9b9 82px,#ffc1c1 90.5px,#ffbbbb 98px,#ffbbbb 103.5px,#ffbcbc 104px,#ffc5c5 105.5px,#ffc9c9 106px,#ffdddd 107.5px,#ffe2e2 108px,#ffdfdf 109px,#ffd2d2 110px,#ffb8b8 114px,#ffc1c1 124px,#ffc3c3 129px,#ffbaba 129.5px,#ff5f5f 134px,#ff1e1e 137.5px,#ff1a1a 138px,#ff1a1a 158.5px,#ff1c1c 159px,#ff5959 164.5px,#ff9d9d 168.5px,#ffb7b7 172.5px,#ff9e9e 176.5px,#ff6a6a 181.5px,#ff3232 188px,#ff1a1a 206.5px,#ff3535 218px,#ff9090 226.5px,#ffffff 235.3px,#fcfcff 235.5px,#9797ff 245.5px,#4949ff 257px,#2c2cff 269px)"></i><i style="top:117px;background:linear-gradient(90deg,#ff8585 -1px,#ff8585 0px,#ff9090 4px,#ffa2a2 9px,#ff9494 13px,#ff9595 14px,#ff9898 14.5px,#ffafaf 16.5px,#ffaeae 17px,#ff9898 19px,#ff9595 19.5px,#ff8b8b 24px,#ffa3a3 30px,#ffa4a4 32.5px,#ffb8b8 35.5px,#ffaeae 38.5px,#ffb5b5 41px,#ffb3b3 42px,#ffc0c0 45px,#ffaeae 47px,#ffa8a8 48px,#ffacac 55px,#ffa3a3 61px,#ffa2a2 70px,#ffb9b9 82px,#ffc2c2 91px,#ffbbbb 98px,#ffbbbb 103.5px,#ffbcbc 104px,#ffc5c5 105.5px,#ffc9c9 106px,#ffdddd 107.5px,#ffe1e1 108px,#ffdede 109px,#ffd1d1 110px,#ffb8b8 114px,#ffc1c1 124px,#ffc3c3 129px,#ffbbbb 129.5px,#ff5e5e 134px,#ff1d1d 137.5px,#ff1a1a 138px,#ff1a1a 158.5px,#ff1d1d 159px,#ff5a5a 164.5px,#ff9d9d 168.5px,#ffb4b4 172px,#ffb5b5 172.5px,#ff9b9b 176.5px,#ff6c6c 181px,#ff3131 188px,#ff1a1a 206.5px,#ff3535 217.5px,#ff9292 226px,#fffefe 234.5px,#ffffff 234.6px,#9696ff 245px,#4848ff 256.5px,#2a2aff 269px)"></i><i style="top:119px;background:linear-gradient(90deg,#ff8585 -1px,#ff8585 0px,#ff9090 4px,#ffa2a2 9px,#ff9494 13px,#ff9595 14px,#ffb0b0 16.5px,#ffa3a3 18px,#ff9797 19px,#ff8b8b 24px,#ffa3a3 30px,#ffa3a3 32px,#ffb7b7 35px,#ffb7b7 35.5px,#ffaeae 38px,#ffaeae 38.5px,#ffb5b5 41px,#ffb4b4 42px,#ffc0c0 44.5px,#ffbebe 45px,#ffacac 47px,#ffa8a8 48px,#ffacac 55px,#ffa3a3 61px,#ffa2a2 70px,#ffacac 76px,#ffb9b9 82px,#ffc2c2 91px,#ffbaba 98px,#ffbbbb 103.5px,#ffbbbb 104px,#ffc4c4 105.5px,#ffc9c9 106px,#ffdddd 107.5px,#ffe0e0 108px,#ffdddd 109px,#ffd1d1 110px,#ffb8b8 114px,#ffc3c3 129px,#ffbcbc 129.5px,#ff5d5d 134px,#ff1d1d 137.5px,#ff1a1a 138px,#ff1a1a 158.5px,#ff1d1d 159px,#ff5b5b 164.5px,#ff9d9d 168.5px,#ffb3b3 172px,#ffb3b3 172.5px,#ff9d9d 176px,#ff6a6a 181px,#ff3333 187.5px,#ff3030 188px,#ff1a1a 206px,#ff3535 217px,#ff8d8d 225px,#ffffff 234px,#fefeff 234px,#9999ff 244px,#4747ff 256px,#2929ff 269px)"></i><i style="top:121px;background:linear-gradient(90deg,#ff8585 -1px,#ff8686 0px,#ff9090 4px,#ffa1a1 9px,#ff9494 13px,#ff9595 14px,#ffb0b0 16.5px,#ff9696 19px,#ff8b8b 24px,#ffa3a3 30px,#ffa3a3 32px,#ffb7b7 35px,#ffadad 38px,#ffb4b4 40.5px,#ffb4b4 41.5px,#ffc0c0 44.5px,#ffa7a7 47.5px,#ffacac 55px,#ffa3a3 61px,#ffa2a2 70px,#ffacac 76px,#ffb9b9 82px,#ffc1c1 90.5px,#ffbaba 98px,#ffbbbb 103.5px,#ffbbbb 104px,#ffc4c4 105.5px,#ffdcdc 107.5px,#ffe0e0 108px,#ffdcdc 109px,#ffd0d0 110px,#ffb8b8 114px,#ffc3c3 129px,#ffbdbd 129.5px,#ff5c5c 134px,#ff1c1c 137.5px,#ff1a1a 138px,#ff1a1a 158.5px,#ff5b5b 164.5px,#ff9c9c 168.5px,#ffb2b2 172px,#ff9b9b 176px,#ff6868 181px,#ff3131 187.5px,#ff1a1a 206px,#ff3535 216.5px,#ff3a3a 217px,#ff8e8e 224.5px,#ffffff 233.4px,#fdfdff 233.5px,#9898ff 243.5px,#4747ff 255.5px,#2727ff 269px)"></i><i style="top:123px;background:linear-gradient(90deg,#ff8585 -1px,#ff8686 0px,#ff9090 4px,#ffa1a1 9px,#ff9595 12.5px,#ff9494 13.5px,#ff9797 14px,#ffadad 16px,#ffafaf 16.5px,#ff9696 19px,#ff8c8c 24px,#ffa3a3 30px,#ffa3a3 32px,#ffb8b8 35px,#ffacac 38px,#ffb6b6 41.5px,#ffc1c1 44px,#ffbebe 44.5px,#ffa8a8 47px,#ffacac 55px,#ffa2a2 61px,#ffa2a2 70px,#ffabab 76px,#ffb9b9 82px,#ffc1c1 90.5px,#ffbaba 98px,#ffbaba 103.5px,#ffbbbb 104px,#ffc3c3 105.5px,#ffdcdc 107.5px,#ffdfdf 108px,#ffdcdc 109px,#ffd0d0 110px,#ffb8b8 114px,#ffc3c3 129px,#ffbfbf 129.5px,#ff5b5b 134px,#ff1b1b 137.5px,#ff1a1a 138px,#ff1a1a 158.5px,#ff5555 164px,#ff9595 168px,#ff9b9b 168.5px,#ffb2b2 172px,#ff9a9a 176px,#ff6a6a 180.5px,#ff3030 187.5px,#ff1a1a 205.5px,#ff3636 216px,#ff3939 216.5px,#ff8f8f 224px,#fffdfd 232.5px,#ffffff 232.7px,#9797ff 243px,#4949ff 254.5px,#2626ff 269px)"></i><i style="top:125px;background:linear-gradient(90deg,#ff8585 -1px,#ff8686 0px,#ff9090 4px,#ffa1a1 9px,#ff9595 12.5px,#ff9494 13.5px,#ff9898 14px,#ffaeae 16px,#ffadad 16.5px,#ff9999 18.5px,#ff9696 19px,#ff8c8c 24px,#ffa3a3 30px,#ffa4a4 32px,#ffb7b7 35px,#ffacac 38px,#ffb3b3 40.5px,#ffc0c0 43.5px,#ffc0c0 44px,#ffa7a7 47px,#ffabab 55px,#ffa2a2 61px,#ffa2a2 70px,#ffabab 76px,#ffb9b9 82px,#ffc1c1 90.5px,#ffb9b9 98px,#ffbaba 103.5px,#ffbbbb 104px,#ffc3c3 105.5px,#ffdcdc 107.5px,#ffdede 108px,#ffdbdb 109px,#ffd0d0 110px,#ffb9b9 114px,#ffc3c3 129px,#ffc0c0 129.5px,#ff5a5a 134px,#ff1b1b 137.5px,#ff1a1a 158.5px,#ff5656 164px,#ff9595 168px,#ff9b9b 168.5px,#ffb0b0 172px,#ff9797 176px,#ff6868 180.5px,#ff3131 187px,#ff1a1a 205px,#ff3636 215.5px,#ff3939 216px,#ff9090 223.5px,#fffefe 232px,#ffffff 232.1px,#9696ff 242.5px,#4848ff 254px,#2424ff 269px)"></i><i style="top:127px;background:linear-gradient(90deg,#ff8686 -1px,#ff8686 0px,#ff8f8f 3.5px,#ffa1a1 9px,#ff9595 12.5px,#ff9494 13.5px,#ffafaf 16px,#ffa3a3 17.5px,#ff9797 18.5px,#ff8c8c 24px,#ffa3a3 30px,#ffa5a5 32px,#ffb6b6 34.5px,#ffb6b6 35px,#ffacac 38px,#ffb3b3 40.5px,#ffc2c2 43.5px,#ffa8a8 46.5px,#ffa6a6 47px,#ffabab 55px,#ffa2a2 61px,#ffa1a1 70px,#ffabab 76px,#ffbaba 82px,#ffc1c1 90.5px,#ffb9b9 98px,#ffbaba 103.5px,#ffbaba 104px,#ffc3c3 105.5px,#ffdbdb 107.5px,#ffdede 108px,#ffdada 109px,#ffcfcf 110px,#ffb9b9 114px,#ffc0c0 124px,#ffc0c0 127px,#ffc3c3 129px,#ffc1c1 129.5px,#ff5959 134px,#ff1a1a 137.5px,#ff1a1a 158.5px,#ff5656 164px,#ff9595 168px,#ffadad 171.5px,#ffaeae 172px,#ff9595 176px,#ff6565 180.5px,#ff2f2f 187px,#ff1a1a 205px,#ff3939 215.5px,#ff9191 223px,#ffffff 231.4px,#fefeff 231.5px,#9898ff 241.5px,#4747ff 253.5px,#2323ff 269px)"></i><i style="top:129px;background:linear-gradient(90deg,#ff8686 -1px,#ff8686 0px,#ff8f8f 3.5px,#ffa1a1 9px,#ff9595 12.5px,#ff9595 13.5px,#ffafaf 16px,#ff9797 18.5px,#ff8c8c 24px,#ffa3a3 30px,#ffa3a3 31.5px,#ffb7b7 34.5px,#ffabab 37.5px,#ffacac 38px,#ffb1b1 40px,#ffb8b8 41px,#ffc1c1 43px,#ffc0c0 43.5px,#ffa7a7 46.5px,#ffabab 55px,#ffa2a2 61px,#ffa1a1 70px,#ffaaaa 76px,#ffbaba 82px,#ffc1c1 90.5px,#ffb8b8 98px,#ffb9b9 103.5px,#ffbaba 104px,#ffc2c2 105.5px,#ffdbdb 107.5px,#ffdddd 108px,#ffdada 109px,#ffcfcf 110px,#ffb9b9 114px,#ffc2c2 129.5px,#ff5858 134px,#ff1a1a 137.5px,#ff1a1a 158.5px,#ff5757 164px,#ff9595 168px,#ffadad 171.5px,#ffacac 172px,#ff9797 175.5px,#ff6363 180.5px,#ff2e2e 187px,#ff1a1a 204.5px,#ff3939 215px,#ff8c8c 222px,#ffffff 230.8px,#fdfdff 231px,#9898ff 241px,#4747ff 253px,#2121ff 269px)"></i><i style="top:131px;background:linear-gradient(90deg,#ff8686 -1px,#ff8686 0px,#ff8f8f 3.5px,#ffa1a1 9px,#ff9494 13px,#ff9696 13.5px,#ffacac 15.5px,#ffaeae 16px,#ff9797 18.5px,#ff8c8c 24px,#ffa3a3 30px,#ffa3a3 31.5px,#ffb7b7 34.5px,#ffaaaa 37.5px,#ffb1b1 40px,#ffbaba 41px,#ffc2c2 43px,#ffa8a8 46px,#ffa7a7 46.5px,#ffabab 55px,#ffa2a2 61px,#ffa1a1 70px,#ffaaaa 76px,#ffbaba 82px,#ffc1c1 90.5px,#ffb8b8 98px,#ffb9b9 103.5px,#ffbaba 104px,#ffc2c2 105.5px,#ffdbdb 107.5px,#ffdcdc 108px,#ffd9d9 109px,#ffcece 110px,#ffb9b9 114px,#ffc0c0 127px,#ffc3c3 129.5px,#ff5757 134px,#ff1a1a 137.5px,#ff1a1a 158.5px,#ff5757 164px,#ff9595 168px,#ffacac 171.5px,#ff9595 175.5px,#ff6565 180px,#ff2f2f 186.5px,#ff1a1a 204.5px,#ff3838 214.5px,#ff8e8e 221.5px,#fffdfd 230px,#ffffff 230.2px,#9797ff 240.5px,#4848ff 252px,#2020ff 269px)"></i><i style="top:133px;background:linear-gradient(90deg,#ff8686 -1px,#ff8686 0px,#ff8f8f 3.5px,#ffa0a0 9px,#ff9494 13px,#ffaeae 15.5px,#ffacac 16px,#ff9999 18px,#ff9797 18.5px,#ff8d8d 24px,#ffa2a2 29.5px,#ffa4a4 31.5px,#ffb7b7 34.5px,#ffaaaa 37.5px,#ffafaf 39.5px,#ffbbbb 41px,#ffc3c3 42.5px,#ffc0c0 43px,#ffaaaa 45.5px,#ffa7a7 46.5px,#ffabab 55px,#ffa2a2 61px,#ffa1a1 70px,#ffaaaa 76px,#ffbaba 82px,#ffc1c1 90.5px,#ffb8b8 98px,#ffb9b9 103.5px,#ffb9b9 104px,#ffc2c2 105.5px,#ffdada 107.5px,#ffdcdc 108px,#ffd8d8 109px,#ffcece 110px,#ffb9b9 114px,#ffbfbf 127px,#ffc4c4 129.5px,#ff5555 134px,#ff1a1a 137.5px,#ff1b1b 158.5px,#ff5858 164px,#ff9595 168px,#ffabab 171.5px,#ff9393 175.5px,#ff6363 180px,#ff2e2e 186.5px,#ff1a1a 204px,#ff3838 214px,#ff8f8f 221px,#ffffff 229.5px,#ffffff 229.5px,#9999ff 239.5px,#4848ff 251.5px,#1e1eff 269px)"></i><i style="top:135px;background:linear-gradient(90deg,#ff8686 -1px,#ff8686 0px,#ff8f8f 3.5px,#ffa0a0 9px,#ff9494 13px,#ffafaf 15.5px,#ff9898 18px,#ff8d8d 24px,#ffa2a2 29.5px,#ffa4a4 31.5px,#ffb5b5 34px,#ffb6b6 34.5px,#ffaaaa 37.5px,#ffb0b0 39.5px,#ffbdbd 41px,#ffc2c2 42.5px,#ffa9a9 45.5px,#ffa6a6 46.5px,#ffabab 55px,#ffa2a2 61px,#ffa1a1 70px,#ffaaaa 76px,#ffbaba 82px,#ffc1c1 90.5px,#ffb7b7 98px,#ffb9b9 103.5px,#ffc1c1 105.5px,#ffdada 107.5px,#ffdbdb 108px,#ffd8d8 109px,#ffcdcd 110px,#ffb9b9 114px,#ffbfbf 127px,#ffc4c4 129.5px,#ff5454 134px,#ff2020 137px,#ff1a1a 137.5px,#ff1b1b 158.5px,#ff5959 164px,#ff9494 168px,#ffa8a8 171px,#ffa9a9 171.5px,#ff9191 175.5px,#ff6161 180px,#ff3030 186px,#ff2d2d 186.5px,#ff1a1a 203.5px,#ff3838 213.5px,#ff9090 220.5px,#ffffff 228.9px,#fefeff 229px,#9898ff 239px,#4747ff 251px,#1c1cff 269px)"></i><i style="top:137px;background:linear-gradient(90deg,#ff8686 -1px,#ff8686 0px,#ff8f8f 3.5px,#ffa0a0 9px,#ff9595 13px,#ffaeae 15.5px,#ff9797 18px,#ff8d8d 24px,#ffa2a2 29.5px,#ffa5a5 31.5px,#ffb6b6 34px,#ffaaaa 37px,#ffadad 39px,#ffbfbf 41px,#ffc4c4 42px,#ffaaaa 45px,#ffa6a6 46.5px,#ffaaaa 55px,#ffa2a2 61px,#ffa0a0 70px,#ffa9a9 76px,#ffbbbb 82px,#ffc1c1 90.5px,#ffb7b7 98px,#ffb8b8 103.5px,#ffc1c1 105.5px,#ffdada 107.5px,#ffdada 108px,#ffd7d7 109px,#ffcdcd 110px,#ffb9b9 114px,#ffbfbf 127px,#ffc4c4 129.5px,#ffbaba 130px,#ff5e5e 133.5px,#ff5353 134px,#ff1f1f 137px,#ff1a1a 137.5px,#ff1a1a 158px,#ff1b1b 158.5px,#ff5353 163.5px,#ff8e8e 167.5px,#ff9393 168px,#ffa7a7 171px,#ffa7a7 171.5px,#ff9393 175px,#ff6363 179.5px,#ff2e2e 186px,#ff1a1a 203.5px,#ff3838 213px,#ff9191 220px,#fffcfc 228px,#ffffff 228.3px,#9797ff 238.5px,#4747ff 250.5px,#1b1bff 269px)"></i><i style="top:139px;background:linear-gradient(90deg,#ff8686 -1px,#ff8686 0px,#ff8f8f 3.5px,#ffa0a0 9px,#ff9595 12.5px,#ff9696 13px,#ffacac 15px,#ffadad 15.5px,#ff9a9a 17.5px,#ff9797 18px,#ff8d8d 24px,#ffa2a2 29.5px,#ffa3a3 31px,#ffb7b7 34px,#ffa9a9 37px,#ffacac 38.5px,#ffc3c3 41.5px,#ffc2c2 42px,#ffacac 44.5px,#ffa6a6 46.5px,#ffaaaa 55px,#ffa2a2 61px,#ffa0a0 70px,#ffa9a9 76px,#ffbbbb 82px,#ffc1c1 90.5px,#ffb7b7 98px,#ffb8b8 103.5px,#ffc0c0 105.5px,#ffd9d9 107.5px,#ffdada 108px,#ffd6d6 109px,#ffd0d0 109.5px,#ffcdcd 110px,#ffb9b9 114px,#ffbfbf 127px,#ffc5c5 129.5px,#ffbcbc 130px,#ff5d5d 133.5px,#ff5252 134px,#ff1f1f 137px,#ff1a1a 137.5px,#ff1a1a 158px,#ff1c1c 158.5px,#ff5454 163.5px,#ff8e8e 167.5px,#ffa7a7 171px,#ff9191 175px,#ff6161 179.5px,#ff2d2d 186px,#ff1a1a 203px,#ff3939 212.5px,#ff8c8c 219px,#fffdfd 227.5px,#ffffff 227.7px,#9696ff 238px,#4848ff 249.5px,#1919ff 269px)"></i><i style="top:141px;background:linear-gradient(90deg,#ff8686 -1px,#ff8686 0px,#ffa0a0 9px,#ff9595 12.5px,#ff9898 13px,#ffadad 15px,#ffacac 15.5px,#ff9999 17.5px,#ff8d8d 24px,#ffa2a2 29.5px,#ffa3a3 31px,#ffb7b7 34px,#ffa8a8 37px,#ffacac 38.5px,#ffc2c2 41px,#ffc4c4 41.5px,#ffaaaa 44.5px,#ffa6a6 46.5px,#ffaaaa 55px,#ffa2a2 61px,#ffa0a0 70px,#ffa9a9 76px,#ffbbbb 82px,#ffc1c1 90.5px,#ffb6b6 98px,#ffb8b8 103.5px,#ffc0c0 105.5px,#ffd9d9 107.5px,#ffd9d9 108px,#ffd5d5 109px,#ffcfcf 109.5px,#ffcccc 110px,#ffb9b9 114px,#ffbfbf 127px,#ffc5c5 129.5px,#ffbdbd 130px,#ff5c5c 133.5px,#ff5151 134px,#ff1e1e 137px,#ff1a1a 137.5px,#ff1a1a 158px,#ff1c1c 158.5px,#ff5454 163.5px,#ff8e8e 167.5px,#ffa6a6 171px,#ff8f8f 175px,#ff5e5e 179.5px,#ff2e2e 185.5px,#ff1a1a 203px,#ff3939 212px,#ff3e3e 212.5px,#ffffff 227px,#ffffff 227px,#9999ff 237px,#4747ff 249px,#1818ff 269px)"></i><i style="top:143px;background:linear-gradient(90deg,#ff8686 -1px,#ff8787 0px,#ff9f9f 9px,#ff9595 12.5px,#ffafaf 15px,#ff9797 17.5px,#ff8e8e 24px,#ffa2a2 29.5px,#ffa4a4 31px,#ffb5b5 33.5px,#ffb7b7 34px,#ffa9a9 36.5px,#ffa8a8 37px,#ffaaaa 38px,#ffc4c4 41px,#ffc2c2 41.5px,#ffacac 44px,#ffa6a6 46.5px,#ffaaaa 55px,#ffa1a1 61px,#ffa0a0 70px,#ffa9a9 76px,#ffbbbb 82px,#ffc2c2 90.5px,#ffb6b6 98px,#ffb7b7 103.5px,#ffc0c0 105.5px,#ffd9d9 107.5px,#ffd5d5 109px,#ffcfcf 109.5px,#ffcccc 110px,#ffb9b9 114px,#ffbfbf 127px,#ffc5c5 129.5px,#ffbebe 130px,#ff5b5b 133.5px,#ff5050 134px,#ff1d1d 137px,#ff1a1a 137.5px,#ff1a1a 158px,#ff1d1d 158.5px,#ff5454 163.5px,#ff8e8e 167.5px,#ffa4a4 171px,#ff8d8d 175px,#ff6161 179px,#ff2c2c 185.5px,#ff1a1a 202.5px,#ff3939 211.5px,#ff3d3d 212px,#ffffff 226.4px,#fefeff 226.5px,#9898ff 236.5px,#4747ff 248.5px,#1616ff 269px)"></i><i style="top:145px;background:linear-gradient(90deg,#ff8686 -1px,#ff8787 0px,#ff9f9f 9px,#ff9696 12.5px,#ffaeae 15px,#ff9797 17.5px,#ff8e8e 24px,#ffa2a2 29.5px,#ffa5a5 31px,#ffb6b6 33.5px,#ffb6b6 34px,#ffa8a8 36.5px,#ffa9a9 37.5px,#ffabab 38px,#ffc1c1 40.5px,#ffc4c4 41px,#ffaaaa 44px,#ffa5a5 47px,#ffaaaa 55px,#ffa1a1 61px,#ffa0a0 69.5px,#ffa8a8 76px,#ffbbbb 82px,#ffc2c2 90.5px,#ffb5b5 98px,#ffb7b7 103.5px,#ffbfbf 105.5px,#ffd8d8 107.5px,#ffd4d4 109px,#ffcece 109.5px,#ffb9b9 114px,#ffbebe 127px,#ffc5c5 129.5px,#ffc0c0 130px,#ff5a5a 133.5px,#ff4f4f 134px,#ff1d1d 137px,#ff1a1a 137.5px,#ff1a1a 158px,#ff1d1d 158.5px,#ff5555 163.5px,#ff8d8d 167.5px,#ffa1a1 170.5px,#ffa2a2 171px,#ff8f8f 174.5px,#ff5e5e 179px,#ff2b2b 185.5px,#ff1a1a 202px,#ff3939 211px,#ff3d3d 211.5px,#fffcfc 225.5px,#ffffff 225.8px,#9797ff 236px,#4747ff 248px,#1414ff 269px)"></i><i style="top:147px;background:linear-gradient(90deg,#ff8787 -1px,#ff8787 0px,#ff9f9f 9px,#ff9696 12px,#ff9797 12.5px,#ffacac 14.5px,#ffacac 15px,#ff9999 17px,#ff9797 17.5px,#ff8e8e 24px,#ffa2a2 29.5px,#ffa3a3 30.5px,#ffb7b7 33.5px,#ffa8a8 36.5px,#ffa9a9 37.5px,#ffc3c3 40.5px,#ffc1c1 41px,#ffabab 43.5px,#ffa5a5 47px,#ffa9a9 55px,#ffa1a1 61px,#ff9f9f 69.5px,#ffa8a8 76px,#ffbcbc 82px,#ffc2c2 90.5px,#ffb5b5 98px,#ffb7b7 103.5px,#ffbfbf 105.5px,#ffd8d8 107.5px,#ffd3d3 109px,#ffcdcd 109.5px,#ffbaba 114px,#ffbebe 127px,#ffc5c5 129.5px,#ffc1c1 130px,#ff5959 133.5px,#ff4e4e 134px,#ff1c1c 137px,#ff1a1a 137.5px,#ff1a1a 158px,#ff5656 163.5px,#ff8d8d 167.5px,#ffa1a1 170.5px,#ff8d8d 174.5px,#ff5c5c 179px,#ff2c2c 185px,#ff1a1a 202px,#ff3d3d 211px,#fffefe 225px,#ffffff 225.1px,#9696ff 235.5px,#4848ff 247px,#1515ff 268px,#1414ff 269px)"></i><i style="top:149px;background:linear-gradient(90deg,#ff8787 -1px,#ff8787 0px,#ff9f9f 9px,#ff9696 12px,#ff9d9d 13px,#ffadad 14.5px,#ffabab 15px,#ff9898 17px,#ff8e8e 24px,#ffa2a2 29.5px,#ffa3a3 30.5px,#ffb7b7 33.5px,#ffa7a7 36.5px,#ffa8a8 37px,#ffaaaa 37.5px,#ffc0c0 40px,#ffc2c2 40.5px,#ffabab 43.5px,#ffa4a4 47px,#ffa9a9 55px,#ffa1a1 61px,#ff9f9f 69.5px,#ffa8a8 76px,#ffbcbc 82px,#ffc2c2 90.5px,#ffb5b5 98px,#ffb7b7 103.5px,#ffbfbf 105.5px,#ffd8d8 107.5px,#ffd3d3 109px,#ffcdcd 109.5px,#ffbaba 114px,#ffbebe 127px,#ffc5c5 129.5px,#ffc2c2 130px,#ff5858 133.5px,#ff4d4d 134px,#ff1b1b 137px,#ff1a1a 137.5px,#ff1a1a 158px,#ff5050 163px,#ff8c8c 167.5px,#ffa0a0 170.5px,#ff8b8b 174.5px,#ff5a5a 179px,#ff2b2b 185px,#ff1a1a 201.5px,#ff3c3c 210.5px,#ff9292 216.5px,#ffffff 224.5px,#ffffff 224.5px,#9999ff 234.5px,#4747ff 246.5px,#1515ff 267.5px,#1414ff 269px)"></i><i style="top:151px;background:linear-gradient(90deg,#ff8787 -1px,#ff8787 0px,#ff9f9f 9px,#ff9696 12px,#ff9e9e 13px,#ffaeae 14.5px,#ff9696 17px,#ff8e8e 24px,#ffa4a4 30.5px,#ffb7b7 33.5px,#ffa8a8 36px,#ffa8a8 37px,#ffc2c2 40px,#ffbcbc 41px,#ffabab 43px,#ffa4a4 47px,#ffa9a9 55px,#ffa1a1 61px,#ff9f9f 69.5px,#ffa7a7 76px,#ffbcbc 82px,#ffc2c2 91px,#ffb4b4 98px,#ffb6b6 103.5px,#ffbebe 105.5px,#ffd7d7 107.5px,#ffd2d2 109px,#ffcccc 109.5px,#ffbaba 114px,#ffbebe 127px,#ffc5c5 129.5px,#ffc4c4 130px,#ff5757 133.5px,#ff4c4c 134px,#ff1b1b 137px,#ff1a1a 137.5px,#ff1a1a 158px,#ff5151 163px,#ff8787 167px,#ff8c8c 167.5px,#ff9f9f 170.5px,#ff8989 174.5px,#ff5c5c 178.5px,#ff2d2d 184.5px,#ff2a2a 185px,#ff1a1a 201.5px,#ff3c3c 210px,#ff8d8d 215.5px,#ffffff 223.9px,#fdfdff 224px,#9898ff 234px,#4747ff 246px,#1414ff 267px,#1414ff 269px)"></i><i style="top:153px;background:linear-gradient(90deg,#ff8787 -1px,#ff8787 0px,#ff9f9f 9px,#ff9898 12px,#ffadad 14.5px,#ff9696 17px,#ff8e8e 24px,#ffa5a5 30.5px,#ffb6b6 33px,#ffb6b6 33.5px,#ffacac 35px,#ffa6a6 36.5px,#ffbfbf 39.5px,#ffbfbf 40px,#ffbaba 41px,#ffadad 42.5px,#ffabab 43px,#ffa4a4 47px,#ffa9a9 55px,#ffa1a1 61px,#ff9f9f 69.5px,#ffa7a7 76px,#ffbcbc 82px,#ffc2c2 91px,#ffb4b4 98px,#ffb6b6 103.5px,#ffbebe 105.5px,#ffd6d6 107.5px,#ffd1d1 109px,#ffcccc 109.5px,#ffbaba 114px,#ffbebe 127px,#ffc6c6 130px,#ff5656 133.5px,#ff4b4b 134px,#ff1a1a 137px,#ff1a1a 158px,#ff5151 163px,#ff8686 167px,#ff9c9c 170px,#ff9d9d 170.5px,#ff8787 174.5px,#ff5a5a 178.5px,#ff2b2b 184.5px,#ff1a1a 201px,#ff3c3c 209.5px,#ff8e8e 215px,#fffcfc 223px,#ffffff 223.3px,#9797ff 233.5px,#4747ff 245.5px,#1515ff 266px,#1414ff 269px)"></i><i style="top:155px;background:linear-gradient(90deg,#ff8787 -1px,#ff8787 0px,#ff9e9e 9px,#ff9898 11.5px,#ff9d9d 12.5px,#ffacac 14px,#ffacac 14.5px,#ff9898 16.5px,#ff9696 17px,#ff8f8f 24px,#ffa5a5 30.5px,#ffb6b6 33px,#ffb6b6 33.5px,#ffa7a7 36px,#ffa7a7 36.5px,#ffbfbf 39.5px,#ffb8b8 41px,#ffacac 42.5px,#ffa4a4 47px,#ffa9a9 55px,#ffa1a1 61px,#ff9f9f 69.5px,#ffa7a7 76px,#ffbcbc 82px,#ffc2c2 91px,#ffb4b4 98px,#ffb6b6 103.5px,#ffbebe 105.5px,#ffd6d6 107.5px,#ffd1d1 109px,#ffcbcb 109.5px,#ffbaba 114px,#ffbdbd 127px,#ffc6c6 130px,#ff5555 133.5px,#ff4a4a 134px,#ff1a1a 137px,#ff1a1a 158px,#ff5252 163px,#ff8686 167px,#ff9b9b 170px,#ff9b9b 170.5px,#ff8989 174px,#ff5858 178.5px,#ff2a2a 184.5px,#ff1a1a 200.5px,#ff3c3c 209px,#ff8f8f 214.5px,#fffefe 222.5px,#ffffff 222.6px,#9a9aff 232.5px,#4848ff 244.5px,#1515ff 265.5px,#1414ff 269px)"></i><i style="top:157px;background:linear-gradient(90deg,#ff8787 -1px,#ff8787 0px,#ff9e9e 9px,#ff9898 11.5px,#ffa2a2 13px,#ffadad 14px,#ffaaaa 14.5px,#ff9797 16.5px,#ff8f8f 24px,#ffa3a3 30px,#ffb7b7 33px,#ffa6a6 36px,#ffbebe 39px,#ffb5b5 41px,#ffadad 42px,#ffa4a4 47px,#ffa8a8 55px,#ffa1a1 61px,#ff9f9f 69.5px,#ffa7a7 76px,#ffbcbc 82px,#ffc2c2 91px,#ffb3b3 98px,#ffb5b5 103.5px,#ffbebe 105.5px,#ffd5d5 107.5px,#ffd0d0 109px,#ffcbcb 109.5px,#ffbaba 114px,#ffbdbd 127px,#ffc6c6 130px,#ffb8b8 130.5px,#ff5454 133.5px,#ff4949 134px,#ff1a1a 137px,#ff1a1a 158px,#ff5252 163px,#ff8686 167px,#ff9b9b 170px,#ff8787 174px,#ff5a5a 178px,#ff2b2b 184px,#ff1a1a 200.5px,#ff3c3c 208.5px,#ff9191 214px,#ffffff 221.9px,#fefeff 222px,#9999ff 232px,#4a4aff 243.5px,#4747ff 244px,#1414ff 265px,#1414ff 269px)"></i><i style="top:159px;background:linear-gradient(90deg,#ff8787 -1px,#ff8787 0px,#ff9e9e 9px,#ff9898 11.5px,#ffaeae 14px,#ff9696 16.5px,#ff9696 18px,#ff8f8f 24px,#ffa3a3 30px,#ffb7b7 33px,#ffaaaa 35px,#ffa7a7 36px,#ffbcbc 38.5px,#ffbdbd 39px,#ffacac 42px,#ffa3a3 47px,#ffa8a8 55px,#ffa1a1 61px,#ff9e9e 69.5px,#ffa6a6 76px,#ffbdbd 82px,#ffc2c2 91px,#ffb3b3 98px,#ffb5b5 103.5px,#ffbdbd 105.5px,#ffd5d5 107.5px,#ffcfcf 109px,#ffcaca 109.5px,#ffbaba 114px,#ffbdbd 127px,#ffc6c6 130px,#ffbaba 130.5px,#ff5252 133.5px,#ff4848 134px,#ff1a1a 137px,#ff1a1a 158px,#ff5353 163px,#ff8686 167px,#ff9a9a 170px,#ff8585 174px,#ff5757 178px,#ff2929 184px,#ff1a1a 200px,#ff3c3c 208px,#ff4242 208.5px,#ff9292 213.5px,#ffffff 221.3px,#fdfdff 221.5px,#9898ff 231.5px,#4949ff 243px,#1515ff 264px,#1414ff 269px)"></i><i style="top:161px;background:linear-gradient(90deg,#ff8787 -1px,#ff8787 0px,#ff9e9e 9px,#ff9999 11.5px,#ffaaaa 13.5px,#ffacac 14px,#ff9696 16.5px,#ff9696 18px,#ff8f8f 24px,#ffa2a2 29.5px,#ffb7b7 33px,#ffa7a7 35.5px,#ffa9a9 36px,#ffbebe 38.5px,#ffacac 41.5px,#ffa3a3 47px,#ffa8a8 55px,#ffa1a1 61px,#ff9e9e 69.5px,#ffa6a6 76px,#ffbdbd 82px,#ffc2c2 91px,#ffb2b2 98px,#ffb5b5 103.5px,#ffbdbd 105.5px,#ffd4d4 107.5px,#ffcece 109px,#ffcaca 109.5px,#ffbaba 114px,#ffbdbd 127px,#ffc6c6 130px,#ffbbbb 130.5px,#ff5151 133.5px,#ff4747 134px,#ff1a1a 137px,#ff1b1b 158px,#ff5353 163px,#ff8585 167px,#ff9898 170px,#ff8383 174px,#ff5656 178px,#ff2929 184px,#ff1a1a 199.5px,#ff3c3c 207.5px,#ff4141 208px,#ff9393 213px,#ffffff 220.8px,#fcfcff 221px,#9b9bff 230.5px,#4949ff 242.5px,#1515ff 263.5px,#1414ff 269px)"></i><i style="top:163px;background:linear-gradient(90deg,#ff8787 -1px,#ff8888 0px,#ff9e9e 9px,#ff9999 11px,#ff9a9a 11.5px,#ffabab 13.5px,#ffabab 14px,#ff9898 16px,#ff9696 16.5px,#ff9696 18px,#ff8f8f 24px,#ffa2a2 29.5px,#ffb6b6 32.5px,#ffb6b6 33px,#ffa9a9 35px,#ffa8a8 35.5px,#ffbbbb 38px,#ffbbbb 38.5px,#ffacac 41.5px,#ffa3a3 47px,#ffa8a8 55px,#ffa0a0 61px,#ff9e9e 69.5px,#ffa6a6 76px,#ffbdbd 82px,#ffc2c2 91px,#ffb2b2 98px,#ffb4b4 103.5px,#ffbdbd 105.5px,#ffd3d3 107.5px,#ffcece 109px,#ffc9c9 109.5px,#ffbaba 114px,#ffbdbd 127px,#ffc6c6 130px,#ffbdbd 130.5px,#ff5050 133.5px,#ff4646 134px,#ff1f1f 136.5px,#ff1a1a 137px,#ff1b1b 158px,#ff5353 163px,#ff8585 167px,#ff9797 170px,#ff8181 174px,#ff5454 178px,#ff2a2a 183.5px,#ff2828 184px,#ff1a1a 199.5px,#ff4040 207.5px,#ff9292 212.5px,#ffffff 220.2px,#fbfbff 220.5px,#9a9aff 230px,#4848ff 242px,#1515ff 263px,#1414ff 269px)"></i><i style="top:165px;background:linear-gradient(90deg,#ff8787 -1px,#ff8888 0px,#ff9d9d 9px,#ff9999 11px,#ffadad 13.5px,#ffaaaa 14px,#ff9696 16px,#ff9090 24px,#ffa2a2 29.5px,#ffb6b6 32.5px,#ffb5b5 33px,#ffa9a9 35px,#ffacac 36px,#ffbcbc 38px,#ffacac 41px,#ffa3a3 47px,#ffa8a8 55px,#ffa0a0 61px,#ff9e9e 70px,#ffa5a5 76px,#ffbdbd 82px,#ffc2c2 91px,#ffb2b2 98px,#ffb5b5 104px,#ffbdbd 105.5px,#ffcfcf 107px,#ffd3d3 107.5px,#ffcdcd 109px,#ffc9c9 109.5px,#ffbaba 114px,#ffbdbd 127px,#ffc6c6 130px,#ffbebe 130.5px,#ff4f4f 133.5px,#ff4545 134px,#ff1e1e 136.5px,#ff1a1a 137px,#ff1b1b 158px,#ff4d4d 162.5px,#ff8585 167px,#ff9595 169.5px,#ff9696 170px,#ff8484 173.5px,#ff5353 178px,#ff2929 183.5px,#ff1a1a 199px,#ff3e3e 207px,#ff9191 212px,#fffefe 219.5px,#ffffff 219.6px,#9a9aff 229.5px,#4848ff 241.5px,#1414ff 262.5px,#1414ff 269px)"></i><i style="top:167px;background:linear-gradient(90deg,#ff8787 -1px,#ff8888 0px,#ff9d9d 8.5px,#ff9999 11px,#ffadad 13.5px,#ff9595 16px,#ff9696 18px,#ff9090 24px,#ffa2a2 29.5px,#ffb7b7 32.5px,#ffabab 34.5px,#ffaaaa 35px,#ffabab 35.5px,#ffbbbb 37.5px,#ffacac 40.5px,#ffa3a3 47px,#ffa8a8 55px,#ffa0a0 61px,#ff9e9e 70px,#ffa5a5 76px,#ffbdbd 82px,#ffc2c2 91px,#ffb1b1 98px,#ffb5b5 104px,#ffbcbc 105.5px,#ffcece 107px,#ffd2d2 107.5px,#ffcccc 109px,#ffc8c8 109.5px,#ffbbbb 114px,#ffbcbc 127px,#ffc7c7 130px,#ffc0c0 130.5px,#ff4e4e 133.5px,#ff4444 134px,#ff1e1e 136.5px,#ff1a1a 137px,#ff1b1b 158px,#ff4d4d 162.5px,#ff7f7f 166.5px,#ff9595 169.5px,#ff9595 170px,#ff8383 173.5px,#ff5656 177.5px,#ff2828 183.5px,#ff1a1a 199px,#ff3e3e 206.5px,#ff4444 207px,#ff9090 211.5px,#ffffff 219px,#ffffff 219px,#9999ff 229px,#4848ff 241px,#1414ff 262px,#1414ff 269px)"></i><i style="top:169px;background:linear-gradient(90deg,#ff8888 -1px,#ff8888 0px,#ff9c9c 8.5px,#ff9a9a 11px,#ffacac 13.5px,#ff9595 16px,#ff9696 18px,#ff9090 24px,#ffa2a2 29.5px,#ffb8b8 32.5px,#ffadad 34px,#ffabab 35px,#ffacac 35.5px,#ffb8b8 37px,#ffbaba 37.5px,#ffabab 40.5px,#ffa2a2 47px,#ffa7a7 55px,#ffa0a0 61px,#ff9d9d 70px,#ffa5a5 76px,#ffbebe 82px,#ffc2c2 91px,#ffb1b1 98px,#ffb4b4 104px,#ffbcbc 105.5px,#ffcece 107px,#ffd1d1 107.5px,#ffc8c8 109.5px,#ffbbbb 114px,#ffbcbc 127px,#ffc7c7 130px,#ffc2c2 130.5px,#ff4d4d 133.5px,#ff4242 134px,#ff1d1d 136.5px,#ff1a1a 137px,#ff1b1b 158px,#ff4d4d 162.5px,#ff7f7f 166.5px,#ff9494 169.5px,#ff9494 170px,#ff8282 173.5px,#ff5555 177.5px,#ff2828 183.5px,#ff1a1a 198.5px,#ff3e3e 206px,#ff4343 206.5px,#ff9090 211px,#ffffff 218.5px,#ffffff 218.5px,#9999ff 228.5px,#4b4bff 240px,#4747ff 240.5px,#1515ff 261px,#1414ff 269px)"></i><i style="top:171px;background:linear-gradient(90deg,#ff8888 -1px,#ff8888 0px,#ff9c9c 8.5px,#ff9999 10.5px,#ff9b9b 11px,#ffabab 13px,#ffabab 13.5px,#ff9797 15.5px,#ff9595 16px,#ff9696 18px,#ff9090 24px,#ffa0a0 29px,#ffb7b7 32.5px,#ffadad 34px,#ffadad 35px,#ffaeae 35.5px,#ffbaba 37px,#ffaaaa 40px,#ffabab 41px,#ffa2a2 47px,#ffa7a7 55px,#ffa0a0 61px,#ff9d9d 70px,#ffa5a5 76px,#ffbebe 82px,#ffc2c2 91px,#ffb1b1 98px,#ffb4b4 104px,#ffbcbc 105.5px,#ffcece 107px,#ffd1d1 107.5px,#ffc7c7 109.5px,#ffbbbb 114px,#ffbcbc 127px,#ffc7c7 130px,#ffc4c4 130.5px,#ff4b4b 133.5px,#ff4141 134px,#ff1c1c 136.5px,#ff1a1a 137px,#ff1b1b 158px,#ff4d4d 162.5px,#ff7f7f 166.5px,#ff9494 169.5px,#ff9393 170px,#ff8282 173.5px,#ff5454 177.5px,#ff2828 183.5px,#ff1a1a 198px,#ff1a1a 198.5px,#ff4141 206px,#ff8f8f 210.5px,#ffffff 217.9px,#fefeff 218px,#9898ff 228px,#4a4aff 239.5px,#4747ff 240px,#1515ff 260.5px,#1414ff 269px)"></i><i style="top:173px;background:linear-gradient(90deg,#ff8888 -1px,#ff8888 0px,#ff9c9c 8.5px,#ff9999 10.5px,#ffacac 13px,#ff9696 15.5px,#ff9090 24px,#ffa0a0 29px,#ffb6b6 32px,#ffb6b6 32.5px,#ffaeae 34px,#ffaeae 35px,#ffb8b8 36.5px,#ffb8b8 37px,#ffabab 39.5px,#ffabab 41px,#ffa2a2 47px,#ffa7a7 55px,#ffa0a0 61px,#ff9d9d 70px,#ffa4a4 76px,#ffbebe 82px,#ffc2c2 91px,#ffb0b0 98px,#ffb4b4 104px,#ffbcbc 105.5px,#ffcdcd 107px,#ffd0d0 107.5px,#ffc7c7 109.5px,#ffbbbb 114px,#ffbcbc 127px,#ffc7c7 130px,#ffc6c6 130.5px,#ff4a4a 133.5px,#ff4040 134px,#ff1c1c 136.5px,#ff1a1a 137px,#ff1b1b 158px,#ff4d4d 162.5px,#ff7f7f 166.5px,#ff9393 169.5px,#ff9292 170px,#ff8080 173.5px,#ff5353 177.5px,#ff2929 183px,#ff1a1a 198px,#ff3f3f 205.5px,#ff8e8e 210px,#ffffff 217.4px,#fdfdff 217.5px,#9c9cff 227px,#4a4aff 239px,#1515ff 260px,#1414ff 269px)"></i><i style="top:175px;background:linear-gradient(90deg,#ff8888 -1px,#ff8888 0px,#ff9c9c 8.5px,#ff9a9a 10.5px,#ffadad 13px,#ff9595 15.5px,#ff9696 18px,#ff9191 24px,#ffa0a0 29px,#ffb6b6 32px,#ffb6b6 32.5px,#ffafaf 33.5px,#ffafaf 35px,#ffb9b9 36.5px,#ffa9a9 39.5px,#ffaaaa 41px,#ffa2a2 47px,#ffa7a7 55px,#ffa0a0 61px,#ff9d9d 70px,#ffa4a4 76px,#ffbebe 82px,#ffc2c2 91px,#ffb0b0 98px,#ffb3b3 104px,#ffbbbb 105.5px,#ffcdcd 107px,#ffcfcf 107.5px,#ffc6c6 109.5px,#ffbbbb 114px,#ffbcbc 127px,#ffc8c8 130.5px,#ff4949 133.5px,#ff3f3f 134px,#ff1b1b 136.5px,#ff1a1a 137px,#ff1b1b 158px,#ff4d4d 162.5px,#ff7f7f 166.5px,#ff9393 169.5px,#ff7f7f 173.5px,#ff5151 177.5px,#ff2828 183px,#ff1a1a 197.5px,#ff3f3f 205px,#ff4646 205.5px,#ff8d8d 209.5px,#fffbfb 216.5px,#ffffff 216.9px,#9c9cff 226.5px,#4949ff 238.5px,#1414ff 259.5px,#1414ff 269px)"></i><i style="top:177px;background:linear-gradient(90deg,#ff8888 -1px,#ff8888 0px,#ff9c9c 8.5px,#ff9b9b 10.5px,#ffabab 12.5px,#ffacac 13px,#ff9595 15.5px,#ff9696 18px,#ff9191 24px,#ffa0a0 29px,#ffb7b7 32px,#ffb2b2 33px,#ffb1b1 35px,#ffb8b8 36px,#ffb7b7 36.5px,#ffa9a9 39px,#ffaaaa 41px,#ffa2a2 47px,#ffa7a7 55px,#ffa0a0 61px,#ff9d9d 70px,#ffa4a4 76px,#ffbebe 82px,#ffc2c2 91px,#ffafaf 98px,#ffb3b3 104px,#ffb7b7 105px,#ffcdcd 107px,#ffcfcf 107.5px,#ffc6c6 109.5px,#ffbbbb 114px,#ffbbbb 127px,#ffc8c8 130.5px,#ffb4b4 131px,#ff4848 133.5px,#ff3e3e 134px,#ff1b1b 136.5px,#ff1b1b 158px,#ff4d4d 162.5px,#ff7f7f 166.5px,#ff9292 169.5px,#ff8181 173px,#ff5050 177.5px,#ff2727 183px,#ff1a1a 197.5px,#ff3f3f 204.5px,#ff4444 205px,#ff8c8c 209px,#fffbfb 216px,#ffffff 216.3px,#9b9bff 226px,#4949ff 238px,#1414ff 259px,#1414ff 269px)"></i><i style="top:179px;background:linear-gradient(90deg,#ff8888 -1px,#ff8888 0px,#ff9c9c 8.5px,#ff9a9a 10px,#ff9c9c 10.5px,#ffacac 12.5px,#ffabab 13px,#ff9797 15px,#ff9595 15.5px,#ff9595 18px,#ff9191 24px,#ffa0a0 29px,#ffaaaa 30px,#ffb7b7 32px,#ffb2b2 33px,#ffb2b2 34.5px,#ffb2b2 35px,#ffb8b8 36px,#ffa8a8 39px,#ffaaaa 41px,#ffa1a1 47px,#ffa6a6 55px,#ffa0a0 61px,#ff9c9c 70px,#ffa4a4 76px,#ffbfbf 82px,#ffc2c2 91px,#ffafaf 98px,#ffb3b3 104px,#ffb7b7 105px,#ffcdcd 107px,#ffcece 107.5px,#ffc5c5 109.5px,#ffbbbb 114px,#ffbbbb 127px,#ffc8c8 130.5px,#ffb6b6 131px,#ff4646 133.5px,#ff3d3d 134px,#ff1a1a 136.5px,#ff1b1b 158px,#ff4d4d 162.5px,#ff7f7f 166.5px,#ff9292 169.5px,#ff8080 173px,#ff4f4f 177.5px,#ff2727 183px,#ff1a1a 197px,#ff4242 204.5px,#ff9393 209px,#fffcfc 215.5px,#ffffff 215.8px,#9b9bff 225.5px,#4949ff 237.5px,#1515ff 258px,#1414ff 269px)"></i><i style="top:181px;background:linear-gradient(90deg,#ff8888 -1px,#ff8888 0px,#ff9b9b 8.5px,#ff9a9a 10px,#ffadad 12.5px,#ff9595 15px,#ff9191 24px,#ffa1a1 29px,#ffaaaa 30px,#ffb7b7 32px,#ffb4b4 32.5px,#ffb3b3 34.5px,#ffb4b4 35px,#ffb8b8 35.5px,#ffa7a7 38.5px,#ffa9a9 41px,#ffa1a1 47px,#ffa6a6 55px,#ffa0a0 61px,#ff9c9c 70px,#ffa3a3 76px,#ffbfbf 82px,#ffc2c2 91px,#ffafaf 98px,#ffb2b2 104px,#ffb6b6 105px,#ffcccc 107px,#ffcece 107.5px,#ffc5c5 109.5px,#ffbbbb 114px,#ffbbbb 127px,#ffc8c8 130.5px,#ffb8b8 131px,#ff4545 133.5px,#ff1a1a 136.5px,#ff1b1b 158px,#ff4e4e 162.5px,#ff7f7f 166.5px,#ff9191 169.5px,#ff7f7f 173px,#ff5252 177px,#ff2929 182.5px,#ff1a1a 196.5px,#ff1b1b 197px,#ff4141 204px,#ff9393 208.5px,#fffdfd 215px,#ffffff 215.2px,#9a9aff 225px,#4848ff 237px,#1515ff 257.5px,#1414ff 269px)"></i><i style="top:183px;background:linear-gradient(90deg,#ff8888 -1px,#ff8888 0px,#ff9b9b 8.5px,#ff9a9a 10px,#ffaeae 12.5px,#ff9595 15px,#ff9595 18px,#ff9191 24px,#ff9f9f 28.5px,#ffb5b5 31.5px,#ffb7b7 32px,#ffb5b5 34.5px,#ffb7b7 35.5px,#ffa7a7 38.5px,#ffa9a9 41px,#ffa1a1 47px,#ffa6a6 55px,#ffa0a0 61px,#ff9c9c 70px,#ffa3a3 76px,#ffbfbf 82px,#ffc2c2 91px,#ffaeae 98px,#ffb2b2 104px,#ffb6b6 105px,#ffcccc 107px,#ffcdcd 107.5px,#ffc4c4 109.5px,#ffbbbb 114px,#ffbdbd 120px,#ffbbbb 127px,#ffc8c8 130.5px,#ffbaba 131px,#ff4444 133.5px,#ff1a1a 136.5px,#ff1b1b 158px,#ff4e4e 162.5px,#ff7e7e 166.5px,#ff9090 169.5px,#ff7e7e 173px,#ff5151 177px,#ff2828 182.5px,#ff1a1a 196.5px,#ff4141 203.5px,#ff4848 204px,#ff9292 208px,#fffefe 214.5px,#ffffff 214.6px,#fafaff 215px,#9a9aff 224.5px,#4848ff 236.5px,#1515ff 257px,#1414ff 269px)"></i><i style="top:185px;background:linear-gradient(90deg,#ff8888 -1px,#ff8989 0px,#ff9b9b 8.5px,#ff9b9b 10px,#ffacac 12px,#ffacac 12.5px,#ff9898 14.5px,#ff9494 15px,#ff9595 18px,#ff9191 24px,#ff9f9f 28.5px,#ffb6b6 31.5px,#ffb7b7 35px,#ffa6a6 38px,#ffa9a9 41px,#ffa1a1 47px,#ffa6a6 55px,#ff9f9f 61px,#ff9c9c 70px,#ffa3a3 76px,#ffbfbf 82px,#ffc2c2 91px,#ffaeae 98px,#ffb2b2 104px,#ffb6b6 105px,#ffcccc 107px,#ffcccc 107.5px,#ffc4c4 109.5px,#ffbbbb 114px,#ffbdbd 120px,#ffbbbb 127px,#ffc8c8 130.5px,#ffbcbc 131px,#ff4242 133.5px,#ff1a1a 136.5px,#ff1b1b 158px,#ff4e4e 162.5px,#ff7e7e 166.5px,#ff8f8f 169.5px,#ff7d7d 173px,#ff4f4f 177px,#ff2727 182.5px,#ff1a1a 196px,#ff4040 203px,#ff4646 203.5px,#ff9191 207.5px,#ffffff 214px,#ffffff 214px,#9999ff 224px,#4747ff 236px,#1414ff 256.5px,#1414ff 269px)"></i><i style="top:187px;background:linear-gradient(90deg,#ff8888 -1px,#ff8989 0px,#ff9393 4px,#ff9b9b 8.5px,#ff9a9a 9.5px,#ff9c9c 10px,#ffadad 12px,#ffabab 12.5px,#ff9696 14.5px,#ff9494 15px,#ff9595 18px,#ff9292 24px,#ff9f9f 28.5px,#ffacac 30px,#ffb7b7 31.5px,#ffb8b8 32px,#ffb8b8 34.5px,#ffa7a7 37.5px,#ffa6a6 38px,#ffa8a8 41px,#ffa1a1 47px,#ffa6a6 55px,#ff9f9f 61px,#ff9c9c 70px,#ffa2a2 76px,#ffbfbf 82px,#ffc2c2 91px,#ffadad 98px,#ffb2b2 104px,#ffb5b5 105px,#ffcbcb 107px,#ffcccc 107.5px,#ffc3c3 109.5px,#ffbbbb 114px,#ffbdbd 120px,#ffbaba 124px,#ffbbbb 127px,#ffc8c8 130.5px,#ffbebe 131px,#ff4141 133.5px,#ff1a1a 136.5px,#ff1b1b 158px,#ff7e7e 166.5px,#ff8e8e 169.5px,#ff7c7c 173px,#ff4e4e 177px,#ff2626 182.5px,#ff1a1a 196px,#ff4444 203px,#ff9090 207px,#ffffff 213.5px,#fefeff 213.5px,#9999ff 223.5px,#4a4aff 235px,#4747ff 235.5px,#1414ff 256px,#1414ff 269px)"></i><i style="top:189px;background:linear-gradient(90deg,#ff8989 -1px,#ff8989 0px,#ff9393 4px,#ff9b9b 8.5px,#ff9a9a 9.5px,#ffaeae 12px,#ff9595 14.5px,#ff9292 24px,#ff9f9f 28.5px,#ffadad 30px,#ffb8b8 31.5px,#ffb9b9 32px,#ffb7b7 34.5px,#ffa5a5 37.5px,#ffa8a8 41px,#ffa1a1 47px,#ffa5a5 55px,#ff9f9f 61px,#ff9b9b 70px,#ffa2a2 76px,#ffbfbf 82px,#ffc2c2 91px,#ffadad 98px,#ffb1b1 104px,#ffb5b5 105px,#ffcbcb 107px,#ffcbcb 107.5px,#ffc3c3 109.5px,#ffbcbc 114px,#ffbdbd 120px,#ffbaba 124px,#ffbaba 127px,#ffc8c8 130.5px,#ffc0c0 131px,#ff4040 133.5px,#ff1e1e 136px,#ff1a1a 136.5px,#ff1b1b 158px,#ff7d7d 166.5px,#ff8d8d 169.5px,#ff7a7a 173px,#ff4d4d 177px,#ff2626 182.5px,#ff1a1a 195.5px,#ff4242 202.5px,#ff8f8f 206.5px,#ffffff 212.9px,#fefeff 213px,#9898ff 223px,#4a4aff 234.5px,#4747ff 235px,#1414ff 255.5px,#1414ff 269px)"></i><i style="top:191px;background:linear-gradient(90deg,#ff8989 -1px,#ff8989 0px,#ff9393 4px,#ff9b9b 9.5px,#ffafaf 12px,#ff9494 14.5px,#ff9292 24px,#ff9f9f 28.5px,#ffbaba 31.5px,#ffbaba 34px,#ffb5b5 34.5px,#ffa5a5 37px,#ffa7a7 41px,#ffa0a0 47px,#ffa5a5 55px,#ff9f9f 61px,#ff9b9b 70px,#ffa2a2 76px,#ffc0c0 82px,#ffc1c1 91px,#ffadad 98px,#ffb1b1 104px,#ffb5b5 105px,#ffcbcb 107px,#ffc2c2 109.5px,#ffbcbc 114px,#ffbdbd 120px,#ffbaba 124px,#ffbaba 127px,#ffc8c8 130.5px,#ffc3c3 131px,#ff3e3e 133.5px,#ff1e1e 136px,#ff1a1a 136.5px,#ff1b1b 158px,#ff7878 166px,#ff7d7d 166.5px,#ff8b8b 169px,#ff8c8c 169.5px,#ff7d7d 172.5px,#ff4c4c 177px,#ff2727 182px,#ff1a1a 195px,#ff1b1b 195.5px,#ff4242 202px,#ff4949 202.5px,#ff8e8e 206px,#ffffff 212.4px,#fdfdff 212.5px,#9898ff 222.5px,#4a4aff 234px,#1515ff 254.5px,#1414ff 269px)"></i><i style="top:193px;background:linear-gradient(90deg,#ff8989 -1px,#ff8989 0px,#ff9393 4px,#ff9c9c 9.5px,#ffadad 11.5px,#ffadad 12px,#ffa1a1 13px,#ff9494 14.5px,#ff9292 24px,#ffa0a0 28.5px,#ffbcbc 31.5px,#ffbcbc 33.5px,#ffafaf 35px,#ffa5a5 37px,#ffa7a7 41px,#ffa0a0 47px,#ffa5a5 55px,#ff9f9f 61px,#ff9b9b 70px,#ffa2a2 76px,#ffc0c0 82px,#ffc1c1 91px,#ffacac 98px,#ffb1b1 104px,#ffb4b4 105px,#ffcaca 107px,#ffc2c2 109.5px,#ffbcbc 114px,#ffbdbd 120px,#ffbaba 124px,#ffbaba 127px,#ffc8c8 130.5px,#ffc5c5 131px,#ff3d3d 133.5px,#ff1d1d 136px,#ff1a1a 136.5px,#ff1b1b 158px,#ff7878 166px,#ff8b8b 169px,#ff8c8c 169.5px,#ff7c7c 172.5px,#ff4f4f 176.5px,#ff2626 182px,#ff1a1a 195px,#ff4242 201.5px,#ff4747 202px,#ff8d8d 205.5px,#fffafa 211.5px,#ffffff 211.8px,#fdfdff 212px,#9797ff 222px,#4949ff 233.5px,#1515ff 254px,#1414ff 269px)"></i><i style="top:195px;background:linear-gradient(90deg,#ff8989 -1px,#ff9b9b 9px,#ff9d9d 9.5px,#ffaeae 11.5px,#ffacac 12px,#ff9696 14px,#ff9494 14.5px,#ff9292 24px,#ff9e9e 28px,#ffb2b2 30.5px,#ffbdbd 31.5px,#ffbdbd 33.5px,#ffb1b1 34.5px,#ffa4a4 36.5px,#ffa7a7 41px,#ffa0a0 47px,#ffa5a5 55px,#ff9f9f 61px,#ff9b9b 70px,#ffa1a1 76px,#ffc0c0 82px,#ffc1c1 91px,#ffacac 98px,#ffb0b0 104px,#ffb4b4 105px,#ffcaca 107px,#ffc1c1 109.5px,#ffbcbc 114px,#ffbdbd 120px,#ffb9b9 124px,#ffbaba 127px,#ffc8c8 130.5px,#ffc8c8 131px,#ff3c3c 133.5px,#ff1d1d 136px,#ff1a1a 136.5px,#ff1b1b 158px,#ff7878 166px,#ff8a8a 169px,#ff8b8b 169.5px,#ff7b7b 172.5px,#ff4e4e 176.5px,#ff2525 182px,#ff1a1a 194.5px,#ff1b1b 195px,#ff4545 201.5px,#ff9595 205.5px,#fffbfb 211px,#ffffff 211.3px,#fcfcff 211.5px,#9b9bff 221px,#4949ff 233px,#1515ff 253.5px,#1414ff 269px)"></i><i style="top:197px;background:linear-gradient(90deg,#ff8989 -1px,#ff8989 0px,#ff9393 4px,#ff9a9a 9px,#ffafaf 11.5px,#ff9595 14px,#ff9393 24px,#ff9e9e 28px,#ffb0b0 30px,#ffbcbc 31px,#ffbebe 31.5px,#ffbebe 33px,#ffafaf 34.5px,#ffa5a5 36px,#ffa4a4 36.5px,#ffa6a6 41px,#ffa0a0 47px,#ffa5a5 55px,#ff9f9f 61px,#ff9b9b 70px,#ffa1a1 76px,#ffc0c0 82px,#ffc1c1 91px,#ffacac 98px,#ffb0b0 104px,#ffb4b4 105px,#ffcaca 107px,#ffc1c1 109.5px,#ffbcbc 114px,#ffbdbd 120px,#ffb9b9 126.5px,#ffcaca 131px,#ff3b3b 133.5px,#ff1c1c 136px,#ff1a1a 136.5px,#ff1b1b 158px,#ff7878 166px,#ff8a8a 169px,#ff8a8a 169.5px,#ff7a7a 172.5px,#ff4d4d 176.5px,#ff2525 182px,#ff1a1a 194.5px,#ff4444 201px,#ff9595 205px,#fffcfc 210.5px,#ffffff 210.7px,#fbfbff 211px,#9a9aff 220.5px,#4848ff 232.5px,#1414ff 253px,#1414ff 269px)"></i><i style="top:199px;background:linear-gradient(90deg,#ff8989 -1px,#ff9b9b 9px,#ffafaf 11.5px,#ff9494 14px,#ff9393 24px,#ff9e9e 28px,#ffb1b1 30px,#ffbebe 31px,#ffc0c0 31.5px,#ffbebe 33px,#ffb1b1 34px,#ffa4a4 36px,#ffa6a6 41px,#ffa0a0 47px,#ffa5a5 55px,#ff9f9f 61px,#ff9b9b 70px,#ffa1a1 76px,#ffc0c0 82px,#ffc1c1 91px,#ffabab 98px,#ffb0b0 104px,#ffb3b3 105px,#ffc9c9 107px,#ffc1c1 109px,#ffbcbc 113.5px,#ffbdbd 120px,#ffb9b9 126.5px,#ffcaca 131px,#ffb0b0 131.5px,#ff3a3a 133.5px,#ff1c1c 136px,#ff1a1a 136.5px,#ff1b1b 158px,#ff7777 166px,#ff8989 169px,#ff8989 169.5px,#ff7979 172.5px,#ff4b4b 176.5px,#ff2727 181.5px,#ff1a1a 194px,#ff4343 200.5px,#ff4b4b 201px,#ff9494 204.5px,#fffdfd 210px,#ffffff 210.1px,#fbfbff 210.5px,#9a9aff 220px,#4848ff 232px,#1414ff 252.5px,#1414ff 269px)"></i><i style="top:201px;background:linear-gradient(90deg,#ff8989 -1px,#ff8989 0px,#ff9393 4px,#ff9a9a 8.5px,#ff9c9c 9px,#ffadad 11px,#ffaeae 11.5px,#ff9c9c 13px,#ff9494 14px,#ff9393 24px,#ff9e9e 28px,#ffacac 29.5px,#ffc1c1 31px,#ffc1c1 32.5px,#ffaeae 34px,#ffa4a4 35.5px,#ffa4a4 36px,#ffa6a6 41px,#ff9f9f 47px,#ffa4a4 55px,#ff9f9f 61px,#ff9a9a 70px,#ffa0a0 76px,#ffc1c1 82px,#ffc1c1 91px,#ffabab 98px,#ffb0b0 104px,#ffb3b3 105px,#ffc9c9 107px,#ffc0c0 109px,#ffbcbc 113.5px,#ffbdbd 120px,#ffb9b9 126.5px,#ffcaca 131px,#ffb2b2 131.5px,#ff3939 133.5px,#ff1b1b 136px,#ff1a1a 136.5px,#ff1b1b 158px,#ff7777 166px,#ff8989 169px,#ff7878 172.5px,#ff4a4a 176.5px,#ff2626 181.5px,#ff1a1a 193.5px,#ff1b1b 194px,#ff4343 200px,#ff4949 200.5px,#ff9393 204px,#fffefe 209.5px,#ffffff 209.6px,#9999ff 219.5px,#4848ff 231.5px,#1515ff 251.5px,#1414ff 269px)"></i><i style="top:203px;background:linear-gradient(90deg,#ff8989 -1px,#ff8989 0px,#ff9494 4px,#ff9a9a 8.5px,#ffaeae 11px,#ffacac 11.5px,#ff9696 13.5px,#ff9494 14px,#ff9393 24px,#ff9f9f 28px,#ffa8a8 29px,#ffc2c2 31px,#ffc2c2 32px,#ffc0c0 32.5px,#ffacac 34px,#ffa3a3 35.5px,#ffa5a5 41px,#ff9f9f 47px,#ffa4a4 55px,#ff9f9f 61px,#ff9a9a 70px,#ffa0a0 76px,#ffc1c1 82px,#ffc1c1 91px,#ffaaaa 98px,#ffafaf 104px,#ffb3b3 105px,#ffc9c9 107px,#ffc0c0 109px,#ffbcbc 114px,#ffbdbd 120px,#ffb9b9 126.5px,#ffb9b9 127px,#ffcaca 131px,#ffb4b4 131.5px,#ff5555 133px,#ff3838 133.5px,#ff1b1b 136px,#ff1b1b 158px,#ff7777 166px,#ff8888 169px,#ff7676 172.5px,#ff4949 176.5px,#ff2525 181.5px,#ff1a1a 193.5px,#ff4646 200px,#ff9292 203.5px,#ffffff 209px,#ffffff 209px,#9999ff 219px,#4747ff 231px,#1515ff 251px,#1414ff 269px)"></i><i style="top:205px;background:linear-gradient(90deg,#ff8989 -1px,#ff8a8a 0px,#ff9494 4px,#ff9999 8.5px,#ffb0b0 11px,#ff9595 13.5px,#ff9393 24px,#ff9f9f 28px,#ffa9a9 29px,#ffbfbf 30.5px,#ffc4c4 31px,#ffc4c4 32px,#ffaaaa 34px,#ffa3a3 35px,#ffa5a5 41px,#ff9f9f 47px,#ffa4a4 55px,#ff9a9a 70px,#ffa0a0 76px,#ffc1c1 82px,#ffc1c1 91px,#ffaaaa 98px,#ffb1b1 104.5px,#ffb2b2 105px,#ffc8c8 107px,#ffbfbf 109px,#ffbcbc 114px,#ffbdbd 120px,#ffb8b8 124px,#ffb8b8 126.5px,#ffb9b9 127px,#ffcaca 131px,#ffb7b7 131.5px,#ff5454 133px,#ff3737 133.5px,#ff1a1a 136px,#ff1b1b 158px,#ff7777 166px,#ff8888 169px,#ff7979 172px,#ff4848 176.5px,#ff2424 181.5px,#ff1a1a 193px,#ff1b1b 193.5px,#ff4545 199.5px,#ff9191 203px,#ffffff 208.5px,#fefeff 208.5px,#9898ff 218.5px,#4a4aff 230px,#4747ff 230.5px,#1515ff 250.5px,#1414ff 269px)"></i><i style="top:207px;background:linear-gradient(90deg,#ff8989 -1px,#ff8a8a 0px,#ff9494 4px,#ff9a9a 8.5px,#ffb0b0 11px,#ff9494 13.5px,#ff9494 24px,#ff9d9d 27.5px,#ffa0a0 28px,#ffabab 29px,#ffc2c2 30.5px,#ffc5c5 31px,#ffc5c5 31.5px,#ffc1c1 32px,#ffadad 33.5px,#ffa5a5 34.5px,#ffa3a3 35px,#ffa4a4 41px,#ff9f9f 47px,#ffa4a4 55px,#ff9a9a 70px,#ffa0a0 76px,#ffc1c1 82px,#ffc1c1 91px,#ffaaaa 98px,#ffb0b0 104.5px,#ffb2b2 105px,#ffc8c8 107px,#ffbfbf 109px,#ffbdbd 120px,#ffb8b8 124px,#ffb8b8 126.5px,#ffb9b9 127px,#ffcaca 131px,#ffb9b9 131.5px,#ff5454 133px,#ff3636 133.5px,#ff1a1a 136px,#ff1b1b 158px,#ff7777 166px,#ff8787 169px,#ff7878 172px,#ff4b4b 176px,#ff2424 181.5px,#ff1a1a 193px,#ff4545 199px,#ff4d4d 199.5px,#ff9090 202.5px,#ffffff 207.9px,#fefeff 208px,#9898ff 218px,#4a4aff 229.5px,#1414ff 250px,#1414ff 269px)"></i><i style="top:209px;background:linear-gradient(90deg,#ff8989 -1px,#ff8a8a 0px,#ff9494 4px,#ff9898 8px,#ff9b9b 8.5px,#ffaeae 10.5px,#ffaeae 11px,#ff9797 13px,#ff9494 13.5px,#ff9494 24px,#ff9d9d 27.5px,#ffa6a6 28.5px,#ffc5c5 30.5px,#ffc7c7 31px,#ffc6c6 31.5px,#ffaaaa 33.5px,#ffa3a3 34.5px,#ffa4a4 41px,#ff9f9f 47px,#ffa4a4 55px,#ff9a9a 70px,#ff9f9f 76px,#ffc1c1 82px,#ffc1c1 91px,#ffa9a9 98px,#ffb0b0 104.5px,#ffb2b2 105px,#ffc7c7 107px,#ffbebe 109px,#ffbdbd 120px,#ffb8b8 124px,#ffb8b8 126.5px,#ffb9b9 127px,#ffcaca 131px,#ffbcbc 131.5px,#ff5353 133px,#ff3535 133.5px,#ff1a1a 136px,#ff1b1b 158px,#ff7777 166px,#ff8686 169px,#ff7777 172px,#ff4a4a 176px,#ff2525 181px,#ff1a1a 192.5px,#ff4444 198.5px,#ff4a4a 199px,#ff8e8e 202px,#fff9f9 207px,#ffffff 207.4px,#fdfdff 207.5px,#9898ff 217.5px,#4949ff 229px,#1414ff 249.5px,#1414ff 269px)"></i><i style="top:211px;background:linear-gradient(90deg,#ff8a8a -1px,#ff8a8a 0px,#ff9494 4px,#ff9898 8px,#ffafaf 10.5px,#ffadad 11px,#ff9696 13px,#ff9494 13.5px,#ff9494 24px,#ff9d9d 27.5px,#ffa1a1 28px,#ffc7c7 30.5px,#ffc8c8 31px,#ffc3c3 31.5px,#ffa8a8 33.5px,#ffa3a3 34.5px,#ffa4a4 41px,#ff9e9e 47px,#ffa3a3 55px,#ff9999 70px,#ff9f9f 76px,#ffc2c2 82px,#ffc1c1 91px,#ffa9a9 98px,#ffb0b0 104.5px,#ffb2b2 105px,#ffc6c6 107px,#ffbebe 109px,#ffbdbd 120px,#ffb8b8 124px,#ffb8b8 126.5px,#ffb8b8 127px,#ffcaca 131px,#ffbfbf 131.5px,#ff5252 133px,#ff3434 133.5px,#ff1a1a 136px,#ff1b1b 158px,#ff7676 166px,#ff8686 169px,#ff7676 172px,#ff4848 176px,#ff2424 181px,#ff1a1a 192px,#ff1b1b 192.5px,#ff4848 198.5px,#ff9898 202px,#fffafa 206.5px,#ffffff 206.8px,#fcfcff 207px,#9797ff 217px,#4949ff 228.5px,#1414ff 249px,#1414ff 269px)"></i><i style="top:213px;background:linear-gradient(90deg,#ff8a8a -1px,#ff8a8a 0px,#ff9494 4px,#ff9898 8px,#ffb0b0 10.5px,#ff9595 13px,#ff9494 24px,#ff9d9d 27.5px,#ffa3a3 28px,#ffc3c3 30px,#ffc9c9 30.5px,#ffc7c7 31px,#ffa6a6 33.5px,#ffa3a3 34px,#ffa3a3 41px,#ff9e9e 47px,#ffa3a3 55px,#ff9999 70px,#ff9f9f 76px,#ffc2c2 82px,#ffc1c1 91px,#ffa9a9 98px,#ffafaf 104.5px,#ffb2b2 105px,#ffc6c6 107px,#ffbdbd 109px,#ffbdbd 120px,#ffb8b8 124px,#ffb8b8 126.5px,#ffb8b8 127px,#ffcaca 131px,#ffc3c3 131.5px,#ff5252 133px,#ff3232 133.5px,#ff1a1a 136px,#ff1b1b 158px,#ff7676 166px,#ff8585 169px,#ff7575 172px,#ff4747 176px,#ff2424 181px,#ff1a1a 192px,#ff4747 198px,#ff8c8c 201px,#fffbfb 206px,#ffffff 206.3px,#fcfcff 206.5px,#9b9bff 216px,#4949ff 228px,#1515ff 248px,#1414ff 269px)"></i><i style="top:215px;background:linear-gradient(90deg,#ff8a8a -1px,#ff8a8a 0px,#ff9494 4px,#ff9898 8px,#ffb0b0 10.5px,#ff9494 13px,#ff9494 24px,#ff9e9e 27.5px,#ffc5c5 30px,#ffcaca 30.5px,#ffc6c6 31px,#ffa5a5 33.5px,#ffa3a3 34px,#ffa3a3 41px,#ff9e9e 47px,#ffa3a3 55px,#ff9999 70px,#ff9f9f 76px,#ffc2c2 82px,#ffc1c1 91px,#ffa8a8 98px,#ffafaf 104.5px,#ffb2b2 105px,#ffc5c5 107px,#ffbdbd 109px,#ffbdbd 120px,#ffb8b8 124px,#ffb8b8 126.5px,#ffb8b8 127px,#ffcaca 131px,#ffc4c4 131.5px,#ff5252 133px,#ff3232 133.5px,#ff1a1a 136px,#ff1b1b 158px,#ff7676 166px,#ff8484 169px,#ff7474 172px,#ff4747 176px,#ff2424 181px,#ff1a1a 192px,#ff4a4a 198px,#ff9191 201px,#ffffff 206px,#fefeff 206px,#9898ff 216px,#4a4aff 227.5px,#4747ff 228px,#1414ff 248px,#1414ff 269px)"></i></div><div class="hm" style="left:433.4px;top:11.9px;width:267.4px;height:214.9px"><i style="top:-1px;background:linear-gradient(90deg,#ccccff -1px,#c3c3ff 6.5px,#fafaff 10px,#f4f4ff 10.5px,#e2e2ff 11.5px,#b8b8ff 13.5px,#b4b4ff 14px,#a4a4ff 18.5px,#bdbdff 21.5px,#b9b9ff 22px,#9d9dff 24.5px,#9a9aff 25.5px,#aeaeff 28.5px,#9292ff 31.5px,#8f8fff 32.5px,#8a8aff 41.5px,#8a8aff 48.5px,#8585ff 54.5px,#9999ff 60.5px,#8080ff 72px,#8080ff 81.5px,#8f8fff 95.5px,#6666ff 111.5px,#3e3eff 121.5px,#3333ff 131.5px,#3030ff 132px,#1212ff 133px,#0f0fff 133.5px,#0f0fff 161.5px,#4c4cff 172.5px,#c1c1ff 187.5px,#8f8fff 196.5px,#4d4dff 206.5px,#1a1aff 216.5px,#1919ff 217px,#1414ff 228.5px,#4c4cff 241.5px,#7070ff 256.5px,#6666ff 268px)"></i><i style="top:1px;background:linear-gradient(90deg,#ccccff -1px,#c4c4ff 6px,#c5c5ff 6.5px,#f5f5ff 9.5px,#f9f9ff 10px,#b5b5ff 13.5px,#a4a4ff 18.5px,#babaff 21px,#bcbcff 21.5px,#9b9bff 24.5px,#9a9aff 25.5px,#adadff 28.5px,#8f8fff 31.5px,#8e8eff 32.5px,#8888ff 41.5px,#8888ff 48.5px,#8484ff 54.5px,#9797ff 60.5px,#7f7fff 71.5px,#7e7eff 81.5px,#8d8dff 95.5px,#6565ff 111.5px,#3d3dff 121.5px,#3333ff 131.5px,#3030ff 132px,#1212ff 133px,#0f0fff 133.5px,#1010ff 161.5px,#4d4dff 172.5px,#c2c2ff 187.5px,#8e8eff 196.5px,#4a4aff 206.5px,#1919ff 216.5px,#1414ff 228px,#4d4dff 241px,#7171ff 256px,#6666ff 268px)"></i><i style="top:3px;background:linear-gradient(90deg,#ccccff -1px,#c3c3ff 6px,#c9c9ff 6.5px,#f8f8ff 9.5px,#f4f4ff 10px,#b8b8ff 13px,#b4b4ff 13.5px,#a4a4ff 18px,#a6a6ff 18.5px,#bcbcff 21px,#b9b9ff 21.5px,#9c9cff 24px,#9a9aff 24.5px,#9b9bff 25.5px,#ababff 28px,#aaaaff 28.5px,#9191ff 31px,#8c8cff 32.5px,#8787ff 41.5px,#8787ff 48.5px,#8282ff 54.5px,#9595ff 60.5px,#7e7eff 71.5px,#7d7dff 81.5px,#8b8bff 95.5px,#6464ff 111.5px,#3d3dff 121.5px,#3333ff 131.5px,#3030ff 132px,#1212ff 133px,#0f0fff 133.5px,#1111ff 161.5px,#4e4eff 172.5px,#c2c2ff 187px,#c2c2ff 187.5px,#9090ff 196px,#4a4aff 206px,#1919ff 216px,#1414ff 227.5px,#4d4dff 240.5px,#7272ff 255.5px,#6767ff 268px)"></i><i style="top:5px;background:linear-gradient(90deg,#ccccff -1px,#c4c4ff 6px,#f3f3ff 9px,#f9f9ff 9.5px,#b5b5ff 13px,#a3a3ff 18px,#bcbcff 21px,#9999ff 24px,#9898ff 25px,#ababff 28px,#8e8eff 31px,#8c8cff 32px,#8686ff 41px,#8686ff 48.5px,#8181ff 54.5px,#9393ff 60.5px,#7d7dff 71.5px,#7c7cff 81.5px,#8989ff 95.5px,#6262ff 111.5px,#3c3cff 121.5px,#3333ff 131.5px,#3030ff 132px,#1212ff 133px,#0f0fff 133.5px,#0f0fff 161px,#4c4cff 172px,#c4c4ff 187px,#8f8fff 196px,#4a4aff 205.5px,#1919ff 215.5px,#1515ff 227.5px,#4e4eff 240px,#7272ff 255px,#6767ff 268px)"></i><i style="top:7px;background:linear-gradient(90deg,#ccccff -1px,#c3c3ff 5.5px,#c8c8ff 6px,#f6f6ff 9px,#f4f4ff 9.5px,#d8d8ff 11px,#b9b9ff 12.5px,#b4b4ff 13px,#a4a4ff 17.5px,#a5a5ff 18px,#babaff 20.5px,#b9b9ff 21px,#9b9bff 23.5px,#9898ff 24px,#9898ff 25px,#a8a8ff 27.5px,#a9a9ff 28px,#9090ff 30.5px,#8c8cff 31px,#8b8bff 32px,#8484ff 41px,#8484ff 48.5px,#8080ff 54.5px,#9191ff 60.5px,#7c7cff 71.5px,#7a7aff 81.5px,#8787ff 95.5px,#6161ff 111.5px,#3c3cff 121.5px,#3333ff 131.5px,#3030ff 132px,#1212ff 133px,#0f0fff 133.5px,#1010ff 161px,#4c4cff 172px,#c2c2ff 186.5px,#c4c4ff 187px,#9292ff 195.5px,#4a4aff 205px,#1919ff 215px,#1919ff 215.5px,#1515ff 227px,#4e4eff 239.5px,#7373ff 254.5px,#6767ff 268px)"></i><i style="top:9px;background:linear-gradient(90deg,#ccccff -1px,#c3c3ff 5.5px,#f9f9ff 9px,#b5b5ff 12.5px,#a3a3ff 17.5px,#bbbbff 20.5px,#9898ff 23.5px,#9696ff 24.5px,#9898ff 25px,#a8a8ff 27.5px,#a6a6ff 28px,#8d8dff 30.5px,#8989ff 32px,#8383ff 41px,#8383ff 48px,#7f7fff 54.5px,#8f8fff 60.5px,#7b7bff 71.5px,#7979ff 81.5px,#8585ff 95.5px,#6060ff 111.5px,#3c3cff 121.5px,#3333ff 131.5px,#3030ff 132px,#1212ff 133px,#0f0fff 133.5px,#0f0fff 160.5px,#4e4eff 172px,#c4c4ff 186.5px,#c4c4ff 187px,#9191ff 195.5px,#4747ff 205px,#1818ff 215px,#1515ff 226.5px,#4f4fff 239px,#7575ff 254.5px,#6868ff 268px)"></i><i style="top:11px;background:linear-gradient(90deg,#ccccff -1px,#c3c3ff 5px,#c7c7ff 5.5px,#f4f4ff 8.5px,#f4f4ff 9px,#babaff 12px,#b4b4ff 12.5px,#a3a3ff 17px,#a4a4ff 17.5px,#b9b9ff 20px,#b8b8ff 20.5px,#9b9bff 23px,#9797ff 23.5px,#9595ff 24.5px,#a8a8ff 27.5px,#8b8bff 30.5px,#8888ff 32px,#8282ff 41px,#8282ff 48px,#7e7eff 54.5px,#8d8dff 60.5px,#7a7aff 71.5px,#7878ff 81.5px,#8383ff 95.5px,#5e5eff 111.5px,#3b3bff 121.5px,#3333ff 131.5px,#3030ff 132px,#1212ff 133px,#0f0fff 133.5px,#0f0fff 160.5px,#4b4bff 171.5px,#c6c6ff 186.5px,#8f8fff 195.5px,#4646ff 204.5px,#1818ff 214.5px,#1515ff 226px,#4f4fff 238.5px,#7676ff 254px,#6868ff 268px)"></i><i style="top:13px;background:linear-gradient(90deg,#ccccff -1px,#c3c3ff 5px,#f7f7ff 8.5px,#d4d4ff 10.5px,#b5b5ff 12px,#b3b3ff 12.5px,#a3a3ff 17px,#babaff 20px,#9797ff 23px,#9696ff 24.5px,#a5a5ff 27px,#a5a5ff 27.5px,#8d8dff 30px,#8989ff 30.5px,#8787ff 32px,#8080ff 41px,#8080ff 48px,#7d7dff 54px,#8b8bff 60.5px,#7979ff 71.5px,#7676ff 81.5px,#8181ff 95.5px,#5d5dff 111.5px,#3b3bff 121.5px,#3333ff 131.5px,#3030ff 132px,#1212ff 133px,#0f0fff 133.5px,#1010ff 160.5px,#4c4cff 171.5px,#c5c5ff 186px,#c6c6ff 186.5px,#9292ff 195px,#4646ff 204px,#1818ff 214px,#1515ff 225.5px,#4f4fff 238px,#7777ff 253.5px,#6868ff 268px)"></i><i style="top:15px;background:linear-gradient(90deg,#ccccff -1px,#c4c4ff 4.5px,#c6c6ff 5px,#f3f3ff 8px,#f4f4ff 8.5px,#bbbbff 11.5px,#b4b4ff 12px,#a3a3ff 16.5px,#a4a4ff 17px,#b8b8ff 19.5px,#b8b8ff 20px,#9a9aff 22.5px,#9696ff 23px,#9494ff 24px,#a6a6ff 27px,#8a8aff 30px,#8686ff 31.5px,#7f7fff 40.5px,#7f7fff 48px,#7c7cff 54px,#8989ff 60.5px,#7878ff 71.5px,#7575ff 81.5px,#8080ff 95.5px,#5c5cff 111.5px,#3a3aff 121.5px,#3333ff 131.5px,#3030ff 132px,#1212ff 133px,#0f0fff 133.5px,#0f0fff 160px,#4d4dff 171.5px,#c7c7ff 186px,#c5c5ff 186.5px,#9090ff 195px,#4646ff 203.5px,#1818ff 214px,#1414ff 225px,#5252ff 238px,#7878ff 253px,#6e6eff 264px,#6868ff 268px)"></i><i style="top:17px;background:linear-gradient(90deg,#ccccff -1px,#c3c3ff 4.5px,#f6f6ff 8px,#efefff 8.5px,#b6b6ff 11.5px,#b3b3ff 12px,#a3a3ff 16.5px,#b9b9ff 19.5px,#9797ff 22.5px,#9393ff 24px,#a4a4ff 27px,#8888ff 30px,#8585ff 31.5px,#7e7eff 40.5px,#7e7eff 48px,#7a7aff 54px,#8888ff 60.5px,#7777ff 71.5px,#7474ff 81.5px,#7e7eff 95.5px,#5a5aff 111.5px,#3a3aff 121.5px,#3333ff 131.5px,#3030ff 132px,#1212ff 133px,#0f0fff 133.5px,#1010ff 160px,#4f4fff 171.5px,#c8c8ff 186px,#9393ff 194.5px,#4343ff 203.5px,#1818ff 213.5px,#1414ff 224.5px,#5252ff 237.5px,#7979ff 252.5px,#6e6eff 264px,#6868ff 268px)"></i><i style="top:19px;background:linear-gradient(90deg,#ccccff -1px,#c4c4ff 4px,#c5c5ff 4.5px,#f1f1ff 7.5px,#f4f4ff 8px,#b4b4ff 11.5px,#a3a3ff 16.5px,#b7b7ff 19px,#b8b8ff 19.5px,#9595ff 22.5px,#9494ff 24px,#a3a3ff 26.5px,#a1a1ff 27px,#8989ff 29.5px,#8383ff 31.5px,#7c7cff 40.5px,#7c7cff 48px,#7979ff 54px,#8686ff 60.5px,#7676ff 71.5px,#7272ff 81.5px,#7c7cff 95.5px,#5959ff 111.5px,#3a3aff 121.5px,#3333ff 131.5px,#3030ff 132px,#1212ff 133px,#0f0fff 133.5px,#1111ff 160px,#4c4cff 171px,#c7c7ff 185.5px,#c8c8ff 186px,#9191ff 194.5px,#4242ff 203px,#1818ff 213px,#1414ff 224px,#5353ff 237px,#7979ff 252px,#7070ff 263.5px,#6868ff 268px)"></i><i style="top:21px;background:linear-gradient(90deg,#ccccff -1px,#c4c4ff 4px,#c9c9ff 4.5px,#f4f4ff 7.5px,#efefff 8px,#b7b7ff 11px,#b3b3ff 11.5px,#a3a3ff 16px,#a8a8ff 17px,#b8b8ff 19px,#b5b5ff 19.5px,#9696ff 22px,#9494ff 22.5px,#9292ff 23.5px,#a3a3ff 26.5px,#8686ff 29.5px,#8282ff 31.5px,#7b7bff 40.5px,#7878ff 54px,#8484ff 60.5px,#7575ff 71.5px,#7171ff 81.5px,#7a7aff 95.5px,#5858ff 111.5px,#3939ff 121.5px,#3333ff 131.5px,#3030ff 132px,#1212ff 133px,#0f0fff 133.5px,#0f0fff 159.5px,#4d4dff 171px,#cacaff 185.5px,#9494ff 194px,#4242ff 202.5px,#1717ff 212.5px,#1414ff 223.5px,#5353ff 236.5px,#7a7aff 251.5px,#7171ff 263px,#6868ff 268px)"></i><i style="top:23px;background:linear-gradient(90deg,#ccccff -1px,#c5c5ff 4px,#efefff 7px,#f4f4ff 7.5px,#b4b4ff 11px,#a2a2ff 16px,#b8b8ff 19px,#9494ff 22px,#9191ff 23.5px,#a0a0ff 26px,#a1a1ff 26.5px,#8585ff 29.5px,#8282ff 31px,#7a7aff 40px,#7777ff 54px,#8282ff 60.5px,#7474ff 71.5px,#7070ff 81.5px,#7878ff 95.5px,#5656ff 111.5px,#3939ff 121.5px,#3333ff 131.5px,#3030ff 132px,#1212ff 133px,#0f0fff 133.5px,#1010ff 159.5px,#4e4eff 171px,#c8c8ff 185px,#cacaff 185.5px,#9393ff 194px,#4242ff 202px,#1717ff 212.5px,#1616ff 223.5px,#5454ff 236px,#7b7bff 251px,#7171ff 263px,#6868ff 268px)"></i><i style="top:25px;background:linear-gradient(90deg,#ccccff -1px,#c4c4ff 3.5px,#c8c8ff 4px,#f2f2ff 7px,#efefff 7.5px,#b8b8ff 10.5px,#b3b3ff 11px,#a3a3ff 15.5px,#a7a7ff 16.5px,#b7b7ff 18.5px,#b5b5ff 19px,#9696ff 21.5px,#9393ff 22px,#9090ff 23px,#9292ff 23.5px,#a0a0ff 26px,#9e9eff 26.5px,#8686ff 29px,#8080ff 31px,#7979ff 40px,#7676ff 54px,#8080ff 60px,#7373ff 71.5px,#6e6eff 81.5px,#7676ff 95.5px,#5555ff 111.5px,#3939ff 121.5px,#3333ff 131.5px,#3030ff 132px,#1212ff 133px,#0f0fff 133.5px,#0f0fff 159px,#1111ff 159.5px,#4c4cff 170.5px,#cacaff 185px,#cacaff 185.5px,#9595ff 193.5px,#3f3fff 202px,#1717ff 212px,#1515ff 223px,#5454ff 235.5px,#7c7cff 250.5px,#7373ff 262.5px,#6868ff 268px)"></i><i style="top:27px;background:linear-gradient(90deg,#ccccff -1px,#c4c4ff 3.5px,#f4f4ff 7px,#b4b4ff 10.5px,#a2a2ff 15.5px,#b8b8ff 18.5px,#9393ff 21.5px,#8f8fff 23px,#a0a0ff 26px,#8383ff 29px,#7f7fff 31px,#7777ff 40px,#7575ff 54px,#7e7eff 60px,#7272ff 71.5px,#6d6dff 81.5px,#7474ff 95.5px,#5454ff 111.5px,#3838ff 121.5px,#3333ff 131.5px,#3030ff 132px,#1212ff 133px,#0f0fff 133.5px,#0f0fff 159px,#4c4cff 170.5px,#ccccff 185px,#9494ff 193.5px,#3f3fff 201.5px,#1717ff 211.5px,#1515ff 222.5px,#5555ff 235px,#7d7dff 250.5px,#7373ff 262.5px,#6868ff 268px)"></i><i style="top:29px;background:linear-gradient(90deg,#ccccff -1px,#c5c5ff 3px,#c8c8ff 3.5px,#f1f1ff 6.5px,#f0f0ff 7px,#b9b9ff 10px,#b3b3ff 10.5px,#a2a2ff 15px,#a3a3ff 15.5px,#b6b6ff 18px,#b5b5ff 18.5px,#9595ff 21px,#9191ff 21.5px,#8f8fff 23px,#9d9dff 25.5px,#9d9dff 26px,#8282ff 29px,#7e7eff 31px,#7676ff 40px,#7474ff 54px,#7c7cff 60px,#7171ff 71.5px,#6c6cff 81.5px,#7272ff 95.5px,#5252ff 111.5px,#3838ff 121.5px,#3333ff 131.5px,#3030ff 132px,#1212ff 133px,#0f0fff 133.5px,#1010ff 159px,#4e4eff 170.5px,#cacaff 184.5px,#ccccff 185px,#9696ff 193px,#3e3eff 201px,#1717ff 211px,#1515ff 222px,#5555ff 234.5px,#7e7eff 250px,#7474ff 262px,#6868ff 268px)"></i><i style="top:31px;background:linear-gradient(90deg,#ccccff -1px,#c4c4ff 3px,#f3f3ff 6.5px,#b4b4ff 10px,#a2a2ff 15px,#b7b7ff 18px,#9292ff 21px,#8e8eff 22.5px,#9d9dff 25.5px,#8282ff 28.5px,#7d7dff 30.5px,#7474ff 40px,#7272ff 54px,#7b7bff 60px,#6a6aff 81.5px,#7070ff 95.5px,#5151ff 111.5px,#3737ff 121.5px,#3333ff 131.5px,#3030ff 132px,#1212ff 133px,#0f0fff 133.5px,#0f0fff 158.5px,#4b4bff 170px,#cdcdff 184.5px,#cbcbff 185px,#9595ff 193px,#3f3fff 200.5px,#1616ff 211px,#1515ff 221.5px,#5656ff 234px,#7f7fff 249.5px,#7575ff 262px,#6868ff 268px)"></i><i style="top:33px;background:linear-gradient(90deg,#ccccff -1px,#c5c5ff 2.5px,#c7c7ff 3px,#efefff 6px,#f0f0ff 6.5px,#b9b9ff 9.5px,#b3b3ff 10px,#a2a2ff 14.5px,#a3a3ff 15px,#b5b5ff 17.5px,#b5b5ff 18px,#9595ff 20.5px,#9090ff 21px,#8d8dff 22.5px,#9c9cff 25.5px,#8080ff 28.5px,#7c7cff 30.5px,#7373ff 39.5px,#7171ff 54px,#7979ff 60px,#6969ff 81.5px,#6e6eff 95.5px,#5050ff 111.5px,#3737ff 121.5px,#3333ff 131.5px,#3030ff 132px,#1212ff 133px,#0f0fff 133.5px,#1010ff 158.5px,#4c4cff 170px,#ceceff 184.5px,#9393ff 193px,#4040ff 200px,#3b3bff 200.5px,#1616ff 210.5px,#1414ff 221px,#5757ff 233.5px,#8080ff 249px,#7676ff 261.5px,#6868ff 268px)"></i><i style="top:35px;background:linear-gradient(90deg,#ccccff -1px,#c5c5ff 2.5px,#f2f2ff 6px,#ebebff 6.5px,#b5b5ff 9.5px,#b2b2ff 10px,#a2a2ff 14.5px,#b6b6ff 17.5px,#9191ff 20.5px,#8d8dff 22px,#8d8dff 22.5px,#9a9aff 25px,#9999ff 25.5px,#8181ff 28px,#7a7aff 30.5px,#7272ff 40px,#7070ff 54px,#7777ff 60px,#6868ff 81.5px,#6d6dff 95.5px,#4e4eff 111.5px,#3737ff 121.5px,#3333ff 131.5px,#3030ff 132px,#1212ff 133px,#0f0fff 133.5px,#1111ff 158.5px,#4d4dff 170px,#cdcdff 184px,#ceceff 184.5px,#9696ff 192.5px,#3b3bff 200px,#1616ff 210px,#1414ff 220.5px,#5757ff 233px,#8181ff 248.5px,#7777ff 261px,#6868ff 268px)"></i><i style="top:37px;background:linear-gradient(90deg,#ccccff -1px,#c6c6ff 2px,#c7c7ff 2.5px,#eeeeff 5.5px,#f0f0ff 6px,#b3b3ff 9.5px,#a2a2ff 14.5px,#b4b4ff 17px,#b5b5ff 17.5px,#9090ff 20.5px,#8c8cff 22px,#9a9aff 25px,#7f7fff 28px,#7979ff 30.5px,#7070ff 39.5px,#6f6fff 54px,#7575ff 60px,#6666ff 81.5px,#6b6bff 95.5px,#4d4dff 111.5px,#3636ff 121.5px,#3333ff 131.5px,#3030ff 132px,#1212ff 133px,#0f0fff 133.5px,#0f0fff 158px,#4f4fff 170px,#d0d0ff 184px,#9494ff 192.5px,#3b3bff 199.5px,#1616ff 209.5px,#1414ff 220px,#5858ff 232.5px,#8282ff 248px,#7878ff 261px,#6868ff 268px)"></i><i style="top:39px;background:linear-gradient(90deg,#ccccff -1px,#c6c6ff 2px,#cacaff 2.5px,#f1f1ff 5.5px,#ececff 6px,#b6b6ff 9px,#b2b2ff 9.5px,#a2a2ff 14px,#b5b5ff 17px,#b1b1ff 17.5px,#9191ff 20px,#8e8eff 20.5px,#8b8bff 22px,#9898ff 25px,#7d7dff 28px,#7878ff 30.5px,#6f6fff 39.5px,#6e6eff 54px,#7373ff 60px,#6565ff 81.5px,#6969ff 95.5px,#4c4cff 111.5px,#3636ff 121.5px,#3333ff 131.5px,#3030ff 132px,#1212ff 133px,#0f0fff 133.5px,#1010ff 158px,#4c4cff 169.5px,#cdcdff 183.5px,#d0d0ff 184px,#9797ff 192px,#3c3cff 199px,#1616ff 209px,#1414ff 219.5px,#5858ff 232px,#8383ff 247.5px,#7979ff 260.5px,#6868ff 268px)"></i><i style="top:41px;background:linear-gradient(90deg,#ccccff -1px,#c7c7ff 2px,#ededff 5px,#f0f0ff 5.5px,#b3b3ff 9px,#a2a2ff 14px,#b5b5ff 17px,#8f8fff 20px,#8b8bff 21.5px,#8b8bff 22px,#9797ff 24.5px,#9595ff 25px,#7e7eff 27.5px,#7777ff 30px,#6e6eff 39.5px,#6d6dff 53.5px,#7171ff 60px,#6c6cff 71.5px,#6464ff 81.5px,#6767ff 95.5px,#4a4aff 111.5px,#3535ff 121.5px,#3333ff 131.5px,#3030ff 132px,#1212ff 133px,#0f0fff 133.5px,#0f0fff 157.5px,#1111ff 158px,#4d4dff 169.5px,#d0d0ff 183.5px,#d0d0ff 184px,#9696ff 192px,#3c3cff 198.5px,#3838ff 199px,#1515ff 209px,#1414ff 219px,#5959ff 231.5px,#8484ff 247px,#7a7aff 260.5px,#6868ff 268px)"></i><i style="top:43px;background:linear-gradient(90deg,#ccccff -1px,#c7c7ff 1.5px,#cacaff 2px,#efefff 5px,#ececff 5.5px,#b7b7ff 8.5px,#b2b2ff 9px,#a1a1ff 13.5px,#a3a3ff 14px,#b4b4ff 16.5px,#b1b1ff 17px,#9191ff 19.5px,#8e8eff 20px,#8989ff 21.5px,#9797ff 24.5px,#7b7bff 27.5px,#7676ff 30px,#6c6cff 39.5px,#6c6cff 53.5px,#6f6fff 60px,#6b6bff 71.5px,#6262ff 81.5px,#6565ff 95.5px,#3535ff 121.5px,#3333ff 131.5px,#3030ff 132px,#1212ff 133px,#0f0fff 133.5px,#0f0fff 157.5px,#4e4eff 169.5px,#d2d2ff 183.5px,#9999ff 191.5px,#3737ff 198.5px,#1515ff 208.5px,#1616ff 219px,#5959ff 231px,#8484ff 246.5px,#7b7bff 260px,#6868ff 268px)"></i><i style="top:45px;background:linear-gradient(90deg,#ccccff -1px,#c7c7ff 1.5px,#f1f1ff 5px,#b3b3ff 8.5px,#a1a1ff 13.5px,#b5b5ff 16.5px,#8e8eff 19.5px,#8989ff 21.5px,#9494ff 24px,#9494ff 24.5px,#7a7aff 27.5px,#7575ff 30px,#6b6bff 39px,#6a6aff 53.5px,#6d6dff 60px,#6a6aff 71.5px,#6161ff 81.5px,#6363ff 95.5px,#3535ff 121.5px,#3333ff 131.5px,#3030ff 132px,#1212ff 133px,#0f0fff 133.5px,#1010ff 157.5px,#4c4cff 169px,#d0d0ff 183px,#d2d2ff 183.5px,#9797ff 191.5px,#3737ff 198px,#1515ff 208px,#1515ff 218.5px,#5a5aff 230.5px,#8686ff 246.5px,#7c7cff 259.5px,#6868ff 268px)"></i><i style="top:47px;background:linear-gradient(90deg,#ccccff -1px,#c8c8ff 1px,#cacaff 1.5px,#eeeeff 4.5px,#ededff 5px,#b7b7ff 8px,#b2b2ff 8.5px,#a1a1ff 13px,#a2a2ff 13.5px,#b3b3ff 16px,#b2b2ff 16.5px,#9191ff 19px,#8d8dff 19.5px,#8888ff 21px,#9494ff 24px,#9191ff 24.5px,#7b7bff 27px,#7373ff 30px,#6a6aff 39px,#6969ff 53.5px,#6b6bff 60px,#6969ff 71.5px,#6060ff 81.5px,#6161ff 95.5px,#3434ff 121.5px,#3333ff 131.5px,#3030ff 132px,#1212ff 133px,#0f0fff 133.5px,#0f0fff 157px,#1111ff 157.5px,#4c4cff 169px,#d3d3ff 183px,#d1d1ff 183.5px,#9a9aff 191px,#9494ff 191.5px,#3838ff 197.5px,#3535ff 198px,#1515ff 207.5px,#1515ff 218px,#5a5aff 230px,#8787ff 246px,#7d7dff 259.5px,#6868ff 268px)"></i><i style="top:49px;background:linear-gradient(90deg,#ccccff -1px,#c8c8ff 1px,#f1f1ff 4.5px,#b3b3ff 8px,#a1a1ff 13px,#b5b5ff 16px,#8d8dff 19px,#8787ff 21px,#9393ff 24px,#7878ff 27px,#7272ff 30px,#6868ff 39px,#6868ff 71.5px,#5e5eff 81.5px,#5f5fff 95.5px,#3434ff 121.5px,#3333ff 131.5px,#3030ff 132px,#1212ff 133px,#0f0fff 133.5px,#1010ff 157px,#4e4eff 169px,#d4d4ff 183px,#9898ff 191px,#3939ff 197px,#3434ff 197.5px,#1515ff 207.5px,#1515ff 217.5px,#5b5bff 229.5px,#8888ff 245.5px,#7e7eff 259px,#6868ff 268px)"></i><i style="top:51px;background:linear-gradient(90deg,#ccccff -1px,#c9c9ff 0.5px,#cbcbff 1px,#ededff 4px,#ededff 4.5px,#b8b8ff 7.5px,#b2b2ff 8px,#a1a1ff 12.5px,#a2a2ff 13px,#b3b3ff 15.5px,#b2b2ff 16px,#9191ff 18.5px,#8c8cff 19px,#8787ff 21px,#9191ff 23.5px,#9090ff 24px,#7777ff 27px,#7171ff 30px,#6767ff 39px,#6767ff 71.5px,#5d5dff 81.5px,#5d5dff 95.5px,#3333ff 121.5px,#3333ff 131.5px,#3030ff 132px,#1212ff 133px,#0f0fff 133.5px,#1111ff 157px,#4b4bff 168.5px,#d3d3ff 182.5px,#d4d4ff 183px,#9b9bff 190.5px,#9595ff 191px,#3434ff 197px,#1515ff 207px,#1414ff 217px,#5b5bff 229px,#8989ff 245px,#7e7eff 259px,#6868ff 268px)"></i><i style="top:53px;background:linear-gradient(90deg,#ccccff -1px,#c9c9ff 0.5px,#efefff 4px,#e9e9ff 4.5px,#b4b4ff 7.5px,#b1b1ff 8px,#a0a0ff 12.5px,#b4b4ff 15.5px,#8d8dff 18.5px,#8686ff 20.5px,#9191ff 23.5px,#7777ff 26.5px,#7070ff 29.5px,#6666ff 38.5px,#6666ff 71.5px,#5c5cff 81.5px,#5c5cff 95.5px,#3333ff 121.5px,#3333ff 131.5px,#3030ff 132px,#1212ff 133px,#0f0fff 133.5px,#0f0fff 156.5px,#4c4cff 168.5px,#d6d6ff 182.5px,#9a9aff 190.5px,#3434ff 196.5px,#1515ff 206.5px,#1414ff 216.5px,#5c5cff 228.5px,#8a8aff 244.5px,#7f7fff 258.5px,#6767ff 268px)"></i><i style="top:55px;background:linear-gradient(90deg,#cacaff -1px,#c8c8ff 0.5px,#e9e9ff 3.5px,#ececff 4px,#b0b0ff 7.5px,#9f9fff 12.5px,#b0b0ff 15px,#b1b1ff 15.5px,#8a8aff 18.5px,#8585ff 20.5px,#8f8fff 23.5px,#7575ff 26.5px,#6f6fff 29.5px,#6464ff 38.5px,#6666ff 71.5px,#5a5aff 81.5px,#5a5aff 95.5px,#3333ff 121.5px,#3333ff 131.5px,#3030ff 132px,#1212ff 133px,#0f0fff 133.5px,#1010ff 156.5px,#4f4fff 168.5px,#d4d4ff 182px,#d6d6ff 182.5px,#9696ff 190.5px,#3838ff 196px,#3232ff 196.5px,#1515ff 206px,#1515ff 216px,#5c5cff 228px,#8a8aff 244px,#7f7fff 258px,#6565ff 268px)"></i><i style="top:57px;background:linear-gradient(90deg,#c8c8ff -1px,#c7c7ff 0px,#c9c9ff 0.5px,#e8e8ff 3.5px,#e6e6ff 4px,#b3b3ff 7px,#aeaeff 7.5px,#9e9eff 12px,#9f9fff 12.5px,#afafff 15px,#adadff 15.5px,#8c8cff 18px,#8888ff 18.5px,#8484ff 20.5px,#8e8eff 23px,#8c8cff 23.5px,#7676ff 26px,#6e6eff 29.5px,#6262ff 38.5px,#6666ff 71.5px,#5959ff 81.5px,#5858ff 95.5px,#3333ff 121.5px,#3434ff 131.5px,#3131ff 132px,#1212ff 133px,#0f0fff 133.5px,#0f0fff 156px,#1111ff 156.5px,#4d4dff 168px,#d7d7ff 182px,#d5d5ff 182.5px,#9a9aff 190px,#3333ff 196px,#1515ff 206px,#1616ff 216px,#5e5eff 228px,#8b8bff 244px,#7e7eff 258px,#6363ff 268px)"></i><i style="top:59px;background:linear-gradient(90deg,#c6c6ff -1px,#c5c5ff 0px,#e7e7ff 3.5px,#e1e1ff 4px,#aeaeff 7px,#acacff 7.5px,#9b9bff 12px,#afafff 15px,#8888ff 18px,#8282ff 20px,#8e8eff 23px,#7373ff 26px,#6c6cff 29.5px,#6161ff 38px,#6565ff 53.5px,#6262ff 59.5px,#6666ff 71.5px,#5757ff 81.5px,#5656ff 95.5px,#3f3fff 111.5px,#3333ff 121.5px,#3434ff 131.5px,#3131ff 132px,#1212ff 133px,#0f0fff 133.5px,#0f0fff 156px,#4f4fff 168px,#d5d5ff 181.5px,#d8d8ff 182px,#9797ff 190px,#3636ff 195.5px,#3232ff 196px,#1515ff 205.5px,#1616ff 215.5px,#5e5eff 227.5px,#8b8bff 243.5px,#7d7dff 257.5px,#6161ff 268px)"></i><i style="top:61px;background:linear-gradient(90deg,#c4c4ff -1px,#c4c4ff 0px,#e1e1ff 3px,#e3e3ff 3.5px,#ababff 7px,#9b9bff 12px,#ababff 14.5px,#ababff 15px,#8686ff 18px,#8181ff 20px,#8b8bff 22.5px,#8b8bff 23px,#7272ff 26px,#5f5fff 38px,#6161ff 50.5px,#6464ff 53.5px,#6161ff 59.5px,#6666ff 71.5px,#5656ff 81.5px,#5454ff 95.5px,#3e3eff 111.5px,#3333ff 121.5px,#3535ff 131.5px,#3131ff 132px,#1212ff 133px,#0f0fff 133.5px,#1010ff 156px,#5252ff 168px,#d8d8ff 181.5px,#d7d7ff 182px,#9a9aff 189.5px,#9393ff 190px,#3a3aff 195px,#3333ff 195.5px,#1515ff 205px,#1616ff 215px,#5f5fff 227px,#8c8cff 243px,#7c7cff 257.5px,#5f5fff 268px)"></i><i style="top:63px;background:linear-gradient(90deg,#c2c2ff -1px,#c4c4ff 0px,#e0e0ff 3px,#dedeff 3.5px,#aeaeff 6.5px,#a9a9ff 7px,#9898ff 11.5px,#aaaaff 14.5px,#a7a7ff 15px,#8787ff 17.5px,#8484ff 18px,#7f7fff 19.5px,#8b8bff 22.5px,#8888ff 23px,#7272ff 25.5px,#7070ff 26px,#5c5cff 38px,#5f5fff 41.5px,#6060ff 50.5px,#6464ff 53.5px,#6060ff 59.5px,#6666ff 71.5px,#5454ff 81.5px,#5252ff 95.5px,#3d3dff 111.5px,#3333ff 121.5px,#3535ff 131.5px,#3232ff 132px,#1212ff 133px,#0f0fff 133.5px,#0f0fff 155.5px,#1111ff 156px,#5151ff 167.5px,#dadaff 181.5px,#9898ff 189.5px,#3434ff 195px,#1616ff 204.5px,#1616ff 214.5px,#5f5fff 226.5px,#8c8cff 242.5px,#7b7bff 257px,#5d5dff 268px)"></i><i style="top:65px;background:linear-gradient(90deg,#c0c0ff -1px,#c0c0ff -0.5px,#dedeff 3px,#a9a9ff 6.5px,#a7a7ff 7px,#9797ff 11.5px,#a9a9ff 14.5px,#8383ff 17.5px,#7e7eff 19.5px,#8a8aff 22.5px,#7070ff 25.5px,#6262ff 35px,#5b5bff 38px,#5e5eff 41px,#5f5fff 50px,#6363ff 53.5px,#6060ff 56.5px,#5f5fff 59.5px,#6666ff 71.5px,#5353ff 81.5px,#5050ff 95.5px,#3b3bff 111.5px,#3333ff 121.5px,#3535ff 131.5px,#3232ff 132px,#1212ff 133px,#0f0fff 133.5px,#1010ff 155.5px,#5353ff 167.5px,#d9d9ff 181px,#d9d9ff 181.5px,#9b9bff 189px,#9494ff 189.5px,#3838ff 194.5px,#3232ff 195px,#1616ff 204.5px,#1818ff 214.5px,#6161ff 226.5px,#8d8dff 242.5px,#7a7aff 257px,#5b5bff 268px)"></i><i style="top:67px;background:linear-gradient(90deg,#bebeff -1px,#c0c0ff -0.5px,#d9d9ff 2.5px,#dbdbff 3px,#a6a6ff 6.5px,#9696ff 11px,#9696ff 11.5px,#a6a6ff 14px,#a5a5ff 14.5px,#8585ff 17px,#8181ff 17.5px,#7d7dff 19.5px,#8888ff 22px,#8787ff 22.5px,#6e6eff 25.5px,#6060ff 35px,#5959ff 38px,#5c5cff 41px,#5e5eff 50px,#6363ff 53.5px,#5f5fff 56.5px,#5e5eff 59.5px,#6666ff 71.5px,#5151ff 81.5px,#4e4eff 95.5px,#3a3aff 111.5px,#3333ff 121.5px,#3636ff 131.5px,#3333ff 132px,#1313ff 133px,#0f0fff 133.5px,#1111ff 155.5px,#5656ff 167.5px,#dcdcff 181px,#9999ff 189px,#3333ff 194.5px,#1616ff 204px,#1717ff 214px,#6161ff 226px,#8e8eff 242px,#7979ff 256.5px,#5959ff 268px)"></i><i style="top:69px;background:linear-gradient(90deg,#bdbdff -1px,#d8d8ff 2.5px,#d5d5ff 3px,#a8a8ff 6px,#a4a4ff 6.5px,#9393ff 11px,#a5a5ff 14px,#8181ff 17px,#7f7fff 17.5px,#7b7bff 19px,#8787ff 22px,#6e6eff 25px,#6767ff 28.5px,#5f5fff 35px,#5757ff 38px,#5b5bff 41px,#5d5dff 50px,#6262ff 53px,#5d5dff 56.5px,#5d5dff 59.5px,#6666ff 71.5px,#5050ff 81.5px,#4c4cff 95.5px,#3939ff 111.5px,#3333ff 121.5px,#3636ff 131.5px,#3333ff 132px,#1313ff 133px,#0f0fff 133.5px,#0f0fff 155px,#5454ff 167px,#dadaff 180.5px,#dbdbff 181px,#9b9bff 188.5px,#9595ff 189px,#3636ff 194px,#3232ff 194.5px,#1616ff 203.5px,#1717ff 213.5px,#6262ff 225.5px,#8e8eff 241.5px,#7878ff 256.5px,#5757ff 268px)"></i><i style="top:71px;background:linear-gradient(90deg,#bbbbff -1px,#d6d6ff 2.5px,#a4a4ff 6px,#a0a0ff 7px,#9292ff 11px,#a2a2ff 14px,#7f7fff 17px,#7a7aff 19px,#8686ff 22px,#6c6cff 25px,#5d5dff 35px,#5555ff 38px,#5a5aff 41px,#5c5cff 50px,#6262ff 53px,#5c5cff 56.5px,#5c5cff 59.5px,#6666ff 71.5px,#4e4eff 81.5px,#4a4aff 95.5px,#3838ff 111.5px,#3333ff 121.5px,#3636ff 131.5px,#3333ff 132px,#1313ff 133px,#0f0fff 133.5px,#1010ff 155px,#5656ff 167px,#ddddff 180.5px,#9a9aff 188.5px,#3a3aff 193.5px,#3333ff 194px,#1717ff 203px,#1818ff 213px,#6262ff 225px,#8e8eff 241px,#7777ff 256px,#5555ff 268px)"></i><i style="top:73px;background:linear-gradient(90deg,#babaff -1px,#c3c3ff 0px,#d1d1ff 2px,#d2d2ff 2.5px,#a1a1ff 6px,#9191ff 10.5px,#9191ff 11px,#a0a0ff 13.5px,#9e9eff 14px,#8080ff 16.5px,#7d7dff 17px,#7979ff 19px,#8484ff 21.5px,#8383ff 22px,#6d6dff 24.5px,#6b6bff 25px,#5d5dff 34.5px,#5353ff 37.5px,#5959ff 41px,#5b5bff 50px,#6262ff 53px,#5b5bff 56.5px,#5a5aff 59.5px,#6666ff 71.5px,#4d4dff 81.5px,#4949ff 95.5px,#3737ff 112px,#3333ff 121.5px,#3737ff 131.5px,#3434ff 132px,#1313ff 133px,#0f0fff 133.5px,#0f0fff 154.5px,#1111ff 155px,#5555ff 166.5px,#dbdbff 180px,#dcdcff 180.5px,#9c9cff 188px,#9696ff 188.5px,#3535ff 193.5px,#1616ff 203px,#1919ff 213px,#6464ff 225px,#8f8fff 241px,#7676ff 256px,#5353ff 268px)"></i><i style="top:75px;background:linear-gradient(90deg,#babaff -1px,#d0d0ff 2px,#cdcdff 2.5px,#a3a3ff 5.5px,#9f9fff 6px,#8e8eff 10.5px,#a0a0ff 13.5px,#7c7cff 16.5px,#7777ff 18.5px,#8484ff 21.5px,#6b6bff 24.5px,#5b5bff 34.5px,#5151ff 37.5px,#5757ff 41px,#5a5aff 50px,#6161ff 53px,#5b5bff 56px,#5959ff 59.5px,#6666ff 71.5px,#4b4bff 82px,#4747ff 95.5px,#3636ff 112px,#3333ff 121.5px,#3737ff 131.5px,#3434ff 132px,#1313ff 133px,#0f0fff 133.5px,#0f0fff 154.5px,#5757ff 166.5px,#dedeff 180px,#dbdbff 180.5px,#9a9aff 188px,#3939ff 193px,#3232ff 193.5px,#1717ff 202.5px,#1919ff 212.5px,#6464ff 224.5px,#9090ff 240.5px,#7575ff 255.5px,#5151ff 268px)"></i><i style="top:77px;background:linear-gradient(90deg,#b9b9ff -1px,#c2c2ff 0px,#ceceff 2px,#9f9fff 5.5px,#8e8eff 10px,#8d8dff 10.5px,#9c9cff 13px,#9c9cff 13.5px,#7a7aff 16.5px,#7676ff 18.5px,#8181ff 21.5px,#6969ff 24.5px,#5a5aff 34.5px,#4f4fff 37.5px,#5656ff 41px,#5959ff 50px,#6161ff 53px,#5a5aff 56px,#5858ff 59.5px,#6666ff 71.5px,#4949ff 82px,#4545ff 95.5px,#3535ff 111.5px,#3333ff 121.5px,#3737ff 131.5px,#3434ff 132px,#1313ff 133px,#0f0fff 133.5px,#1010ff 154.5px,#5a5aff 166.5px,#dcdcff 179.5px,#dedeff 180px,#9797ff 188px,#3333ff 193px,#1717ff 202px,#1919ff 212px,#6565ff 224px,#9090ff 240px,#7474ff 255.5px,#4f4fff 268px)"></i><i style="top:79px;background:linear-gradient(90deg,#b9b9ff -1px,#c1c1ff 0px,#cacaff 2px,#9c9cff 5.5px,#8b8bff 10px,#9b9bff 13px,#9898ff 13.5px,#7b7bff 16px,#7878ff 16.5px,#7474ff 18px,#8181ff 21px,#7f7fff 21.5px,#6969ff 24px,#6767ff 24.5px,#5858ff 34.5px,#4d4dff 37.5px,#5454ff 40.5px,#5757ff 50px,#6161ff 53px,#5959ff 56px,#5757ff 59.5px,#6666ff 71.5px,#4848ff 82px,#4343ff 95.5px,#3333ff 111.5px,#3333ff 121.5px,#3838ff 131.5px,#3535ff 132px,#1313ff 133px,#0f0fff 133.5px,#0f0fff 154px,#1111ff 154.5px,#5858ff 166px,#dfdfff 179.5px,#ddddff 180px,#9a9aff 187.5px,#9292ff 188px,#3737ff 192.5px,#3232ff 193px,#1818ff 201.5px,#1919ff 211.5px,#6464ff 223.5px,#9191ff 239.5px,#7373ff 255px,#4d4dff 268px)"></i><i style="top:81px;background:linear-gradient(90deg,#b8b8ff -1px,#c8c8ff 1.5px,#c5c5ff 2px,#9e9eff 5px,#9a9aff 5.5px,#8b8bff 9.5px,#8989ff 10px,#9a9aff 13px,#7777ff 16px,#7373ff 18px,#8080ff 21px,#6767ff 24px,#5757ff 34.5px,#4b4bff 37.5px,#5353ff 40.5px,#5353ff 45.5px,#5656ff 50px,#6060ff 53px,#5858ff 56px,#5656ff 59.5px,#6666ff 71.5px,#4646ff 82px,#4141ff 95.5px,#3232ff 111.5px,#3333ff 121.5px,#3838ff 131.5px,#3535ff 132px,#1313ff 133px,#0f0fff 133.5px,#0f0fff 154px,#5a5aff 166px,#e0e0ff 179.5px,#9898ff 187.5px,#3b3bff 192px,#3333ff 192.5px,#1717ff 201.5px,#1b1bff 211.5px,#6767ff 223.5px,#9191ff 239.5px,#7272ff 255px,#4b4bff 268px)"></i><i style="top:83px;background:linear-gradient(90deg,#b8b8ff -1px,#bcbcff -0.5px,#c6c6ff 1.5px,#9a9aff 5px,#8989ff 9.5px,#8989ff 10px,#9797ff 12.5px,#9696ff 13px,#7979ff 15.5px,#7575ff 16px,#7272ff 18px,#7e7eff 20.5px,#7d7dff 21px,#6565ff 24px,#5555ff 34.5px,#4949ff 37.5px,#5252ff 40.5px,#5252ff 45.5px,#5555ff 50px,#6060ff 53px,#5656ff 56px,#5555ff 59.5px,#6666ff 71.5px,#4545ff 81.5px,#3f3fff 95.5px,#3131ff 111.5px,#3333ff 121.5px,#3939ff 131.5px,#3535ff 132px,#1313ff 133px,#0f0fff 133.5px,#0f0fff 153.5px,#1111ff 154px,#5d5dff 166px,#dfdfff 179px,#dfdfff 179.5px,#9b9bff 187px,#9393ff 187.5px,#3535ff 192px,#3232ff 192.5px,#1717ff 201px,#1a1aff 211px,#6767ff 223px,#9292ff 239px,#7171ff 254.5px,#4949ff 268px)"></i><i style="top:85px;background:linear-gradient(90deg,#b7b7ff -1px,#bdbdff 0px,#c2c2ff 1.5px,#9797ff 5px,#8686ff 9.5px,#9696ff 12.5px,#7575ff 15.5px,#7373ff 16px,#7070ff 17.5px,#7d7dff 20.5px,#6565ff 23.5px,#5454ff 34.5px,#4848ff 37.5px,#5151ff 40.5px,#5151ff 45.5px,#5454ff 50px,#6060ff 53px,#5555ff 56px,#5454ff 59.5px,#6666ff 71.5px,#4444ff 81.5px,#3d3dff 95.5px,#3030ff 111.5px,#3939ff 131.5px,#3636ff 132px,#1313ff 133px,#0f0fff 133.5px,#0f0fff 153.5px,#5b5bff 165.5px,#e2e2ff 179px,#9999ff 187px,#3939ff 191.5px,#3232ff 192px,#1818ff 200.5px,#1a1aff 210.5px,#6767ff 222.5px,#9393ff 238.5px,#7070ff 254.5px,#4747ff 268px)"></i><i style="top:87px;background:linear-gradient(90deg,#b6b6ff -1px,#c0c0ff 1px,#bebeff 1.5px,#9999ff 4.5px,#9595ff 5px,#8686ff 9px,#8585ff 9.5px,#9494ff 12.5px,#7272ff 15.5px,#6f6fff 17.5px,#7c7cff 20.5px,#6363ff 23.5px,#5353ff 34px,#4747ff 37px,#4646ff 37.5px,#4f4fff 40.5px,#4f4fff 45.5px,#5353ff 50px,#5f5fff 53px,#5454ff 56px,#5353ff 59.5px,#6666ff 71.5px,#4242ff 82px,#3b3bff 95.5px,#2f2fff 111.5px,#3939ff 131.5px,#3636ff 132px,#1313ff 133px,#0f0fff 133.5px,#0f0fff 153px,#1010ff 153.5px,#5e5eff 165.5px,#e0e0ff 178.5px,#e1e1ff 179px,#9c9cff 186.5px,#9494ff 187px,#3333ff 191.5px,#1818ff 200px,#1b1bff 210px,#6a6aff 222.5px,#9393ff 238px,#7070ff 254px,#4545ff 268px)"></i><i style="top:89px;background:linear-gradient(90deg,#b5b5ff -1px,#bebeff 1px,#9595ff 4.5px,#8484ff 9px,#8484ff 9.5px,#9292ff 12px,#8f8fff 12.5px,#7474ff 15px,#7171ff 15.5px,#6e6eff 17.5px,#7a7aff 20px,#7979ff 20.5px,#6464ff 23px,#6262ff 23.5px,#5252ff 34px,#4444ff 37px,#4e4eff 40.5px,#4e4eff 45.5px,#5252ff 50px,#5f5fff 53px,#5353ff 56px,#5151ff 59.5px,#6666ff 71.5px,#4040ff 82px,#3939ff 95.5px,#2e2eff 111.5px,#3a3aff 131.5px,#3636ff 132px,#1313ff 133px,#0f0fff 133.5px,#0f0fff 153px,#5c5cff 165px,#e3e3ff 178.5px,#9999ff 186.5px,#3737ff 191px,#3232ff 191.5px,#1818ff 200px,#1c1cff 210px,#6a6aff 222px,#9494ff 238px,#6e6eff 254px,#4444ff 268px)"></i><i style="top:91px;background:linear-gradient(90deg,#b3b3ff -1px,#b9b9ff 0px,#babaff 1px,#9292ff 4.5px,#8181ff 9px,#9191ff 12px,#7070ff 15px,#6c6cff 17px,#7a7aff 20px,#6161ff 23px,#5050ff 34px,#4242ff 37px,#4d4dff 40.5px,#4d4dff 45px,#5151ff 49.5px,#5e5eff 53px,#5252ff 56px,#5050ff 59.5px,#6666ff 71.5px,#3f3fff 82px,#2d2dff 111.5px,#3a3aff 131.5px,#3737ff 132px,#1313ff 133px,#0f0fff 133.5px,#0f0fff 153px,#5e5eff 165px,#e1e1ff 178px,#e3e3ff 178.5px,#9c9cff 186px,#9595ff 186.5px,#3c3cff 190.5px,#3333ff 191px,#1818ff 199.5px,#1c1cff 209.5px,#6a6aff 221.5px,#9595ff 237.5px,#6e6eff 253.5px,#4242ff 268px)"></i><i style="top:93px;background:linear-gradient(90deg,#b2b2ff -1px,#b8b8ff 0.5px,#b6b6ff 1px,#9494ff 4px,#9090ff 4.5px,#8181ff 8.5px,#8080ff 9px,#8e8eff 11.5px,#8e8eff 12px,#6e6eff 15px,#6b6bff 17px,#7878ff 20px,#6060ff 23px,#4f4fff 34px,#4040ff 37px,#4b4bff 40px,#4b4bff 45px,#5050ff 49.5px,#5e5eff 53px,#5151ff 56px,#4f4fff 59.5px,#6666ff 71.5px,#3d3dff 82px,#2b2bff 111.5px,#3a3aff 131.5px,#3737ff 132px,#1313ff 133px,#0f0fff 133.5px,#0f0fff 152.5px,#1010ff 153px,#6161ff 165px,#e4e4ff 178px,#e2e2ff 178.5px,#9a9aff 186px,#3535ff 190.5px,#3232ff 191px,#1919ff 199px,#1c1cff 209px,#6a6aff 221px,#9595ff 237px,#6c6cff 253.5px,#4040ff 268px)"></i><i style="top:95px;background:linear-gradient(90deg,#b1b1ff -1px,#b6b6ff 0.5px,#9090ff 4px,#7e7eff 8.5px,#8d8dff 11.5px,#8989ff 12px,#6e6eff 14.5px,#6c6cff 15px,#6969ff 16.5px,#7777ff 19.5px,#7575ff 20px,#6060ff 22.5px,#5e5eff 23px,#4d4dff 34px,#3e3eff 37px,#4a4aff 40px,#4a4aff 45px,#4f4fff 49.5px,#5d5dff 53px,#5050ff 56px,#4e4eff 59.5px,#6666ff 71.5px,#3b3bff 82px,#2a2aff 111.5px,#3b3bff 131.5px,#3737ff 132px,#1313ff 133px,#0f0fff 133.5px,#0f0fff 152.5px,#5f5fff 164.5px,#e2e2ff 177.5px,#e5e5ff 178px,#9696ff 186px,#3a3aff 190px,#3232ff 190.5px,#1919ff 198.5px,#1c1cff 208.5px,#6d6dff 221px,#9595ff 236.5px,#6c6cff 253px,#3e3eff 268px)"></i><i style="top:97px;background:linear-gradient(90deg,#afafff -1px,#b2b2ff -0.5px,#b3b3ff 0.5px,#8e8eff 4px,#7c7cff 8.5px,#8b8bff 11.5px,#6b6bff 14.5px,#6767ff 16.5px,#7676ff 19.5px,#5e5eff 22.5px,#4c4cff 34px,#3c3cff 37px,#4949ff 40px,#4949ff 45px,#4d4dff 49.5px,#5c5cff 52.5px,#5d5dff 53px,#4f4fff 56px,#4d4dff 59.5px,#6666ff 71.5px,#3a3aff 82px,#2929ff 111.5px,#3b3bff 131.5px,#3838ff 132px,#1313ff 133px,#0f0fff 133.5px,#0f0fff 152.5px,#6262ff 164.5px,#e5e5ff 177.5px,#e4e4ff 178px,#9b9bff 185.5px,#9191ff 186px,#3333ff 190px,#1919ff 198.5px,#1e1eff 208.5px,#6d6dff 220.5px,#9696ff 236.5px,#6a6aff 253px,#3c3cff 268px)"></i><i style="top:99px;background:linear-gradient(90deg,#adadff -1px,#b1b1ff 0px,#aeaeff 0.5px,#8b8bff 4px,#7c7cff 8px,#7c7cff 8.5px,#8888ff 11px,#8787ff 11.5px,#6c6cff 14px,#6969ff 14.5px,#6767ff 16.5px,#7373ff 19px,#7373ff 19.5px,#5c5cff 22.5px,#4b4bff 33.5px,#3b3bff 37px,#4747ff 40px,#4747ff 45px,#4c4cff 49.5px,#5c5cff 52.5px,#5c5cff 53px,#4e4eff 56px,#4c4cff 59.5px,#6666ff 71.5px,#3838ff 82px,#2828ff 111.5px,#3b3bff 131.5px,#3838ff 132px,#1313ff 133px,#0f0fff 133.5px,#0f0fff 152px,#1111ff 152.5px,#6565ff 164.5px,#e7e7ff 177.5px,#9797ff 185.5px,#3838ff 189.5px,#3232ff 190px,#1919ff 198px,#1d1dff 208px,#6d6dff 220px,#9797ff 236px,#6a6aff 252.5px,#3a3aff 268px)"></i><i style="top:101px;background:linear-gradient(90deg,#ababff -1px,#afafff 0px,#8c8cff 3.5px,#7979ff 8px,#8888ff 11px,#6969ff 14px,#6767ff 14.5px,#6464ff 16px,#7373ff 19px,#5c5cff 22px,#4a4aff 33.5px,#3a3aff 36.5px,#3939ff 37px,#4646ff 40px,#4646ff 45px,#4b4bff 49.5px,#5c5cff 52.5px,#5b5bff 53px,#4d4dff 56px,#4b4bff 59.5px,#6666ff 71.5px,#3737ff 82px,#2727ff 111.5px,#3333ff 121.5px,#3c3cff 131.5px,#3838ff 132px,#1313ff 133px,#0f0fff 133.5px,#0f0fff 152px,#6363ff 164px,#e6e6ff 177px,#e6e6ff 177.5px,#9b9bff 185px,#9292ff 185.5px,#3d3dff 189px,#3333ff 189.5px,#1919ff 197.5px,#1e1eff 207.5px,#6d6dff 219.5px,#9797ff 235.5px,#6969ff 252px,#3838ff 268px)"></i><i style="top:103px;background:linear-gradient(90deg,#a9a9ff -1px,#acacff -0.5px,#ababff 0px,#8989ff 3.5px,#7979ff 7.5px,#7878ff 8px,#8585ff 11px,#6666ff 14px,#6363ff 16px,#7272ff 19px,#5a5aff 22px,#4848ff 33.5px,#3737ff 36.5px,#3838ff 37px,#4545ff 40px,#4545ff 44.5px,#4a4aff 49.5px,#5b5bff 52.5px,#5b5bff 53px,#4d4dff 55.5px,#4949ff 59.5px,#6666ff 71.5px,#3636ff 81.5px,#3535ff 82px,#2c2cff 95.5px,#2626ff 111.5px,#3333ff 121.5px,#3c3cff 131.5px,#3939ff 132px,#1313ff 133px,#0f0fff 133.5px,#0f0fff 151.5px,#1010ff 152px,#6565ff 164px,#e9e9ff 177px,#9999ff 185px,#3636ff 189px,#3232ff 189.5px,#1a1aff 197px,#1e1eff 207px,#7070ff 219.5px,#9797ff 235px,#6868ff 252px,#3636ff 268px)"></i><i style="top:105px;background:linear-gradient(90deg,#a7a7ff -1px,#aaaaff -0.5px,#a7a7ff 0px,#8787ff 3.5px,#7777ff 7.5px,#7777ff 8px,#8383ff 10.5px,#8181ff 11px,#6767ff 13.5px,#6464ff 14px,#6363ff 16px,#7070ff 18.5px,#6f6fff 19px,#5858ff 22px,#4747ff 33.5px,#3535ff 36.5px,#4242ff 39.5px,#4343ff 44.5px,#4949ff 49.5px,#5b5bff 52.5px,#4c4cff 55.5px,#4848ff 59.5px,#6666ff 71.5px,#3535ff 81.5px,#3434ff 82px,#2a2aff 95.5px,#2525ff 111.5px,#3333ff 121.5px,#3d3dff 131.5px,#3939ff 132px,#1313ff 133px,#0f0fff 133.5px,#0f0fff 151.5px,#1111ff 152px,#6464ff 163.5px,#e7e7ff 176.5px,#e8e8ff 177px,#9c9cff 184.5px,#9393ff 185px,#3b3bff 188.5px,#3232ff 189px,#1919ff 197px,#1f1fff 207px,#7070ff 219px,#9898ff 235px,#3434ff 268px)"></i><i style="top:107px;background:linear-gradient(90deg,#a5a5ff -1px,#a8a8ff -0.5px,#a4a4ff 0px,#8888ff 3px,#8080ff 4.5px,#7575ff 7.5px,#8383ff 10.5px,#6464ff 13.5px,#6060ff 15.5px,#7070ff 18.5px,#5858ff 21.5px,#4646ff 33.5px,#3333ff 36.5px,#4242ff 39.5px,#4242ff 44.5px,#4949ff 49.5px,#5c5cff 52.5px,#4b4bff 55.5px,#4848ff 59.5px,#6666ff 71.5px,#3434ff 81.5px,#3333ff 82px,#2929ff 95.5px,#2424ff 111.5px,#3333ff 121.5px,#3d3dff 131.5px,#3a3aff 132px,#1313ff 133px,#0f0fff 133.5px,#0f0fff 151.5px,#6666ff 163.5px,#ebebff 176.5px,#9999ff 184.5px,#3434ff 188.5px,#1a1aff 196.5px,#1f1fff 206.5px,#7171ff 218.5px,#9999ff 234.5px,#3333ff 268px)"></i><i style="top:109px;background:linear-gradient(90deg,#a4a4ff -1px,#a6a6ff -0.5px,#8686ff 3px,#7676ff 7px,#7575ff 7.5px,#8282ff 10px,#8282ff 10.5px,#7676ff 11.5px,#6363ff 13.5px,#6161ff 15px,#6161ff 15.5px,#6f6fff 18px,#7070ff 18.5px,#5858ff 21.5px,#4646ff 33.5px,#3333ff 36.5px,#4242ff 39.5px,#4242ff 44.5px,#4949ff 49.5px,#5d5dff 52.5px,#4c4cff 55.5px,#4848ff 59.5px,#6565ff 71.5px,#3535ff 81.5px,#3434ff 82px,#2b2bff 95.5px,#2525ff 111.5px,#3434ff 121.5px,#3e3eff 131.5px,#3b3bff 132px,#1414ff 133px,#1010ff 133.5px,#1010ff 151px,#1212ff 151.5px,#6767ff 163px,#e9e9ff 176px,#e8e8ff 176.5px,#9c9cff 184px,#9292ff 184.5px,#3b3bff 188px,#3333ff 188.5px,#1b1bff 196px,#2121ff 206px,#7272ff 218px,#9999ff 234px,#3232ff 268px)"></i><i style="top:111px;background:linear-gradient(90deg,#a3a3ff -1px,#a4a4ff -0.5px,#8686ff 3px,#7575ff 7px,#8383ff 10px,#8080ff 10.5px,#6565ff 13px,#6363ff 13.5px,#6161ff 15px,#7070ff 18px,#6f6fff 18.5px,#5a5aff 21px,#5959ff 21.5px,#4646ff 33.5px,#3333ff 36.5px,#4242ff 39.5px,#4242ff 44.5px,#4a4aff 49.5px,#5f5fff 52.5px,#4d4dff 55.5px,#4949ff 59.5px,#6565ff 71.5px,#3535ff 82px,#2c2cff 95.5px,#2727ff 111.5px,#3f3fff 131.5px,#3c3cff 132px,#1414ff 133px,#1010ff 133.5px,#1111ff 150.5px,#1111ff 151px,#6b6bff 163px,#e8e8ff 175.5px,#eaeaff 176px,#9f9fff 183.5px,#9898ff 184px,#3535ff 188px,#1c1cff 195.5px,#2222ff 205.5px,#7373ff 217.5px,#9999ff 233.5px,#6464ff 250.5px,#3131ff 268px)"></i><i style="top:113px;background:linear-gradient(90deg,#a2a2ff -1px,#a2a2ff -0.5px,#8585ff 3px,#7575ff 7px,#8383ff 10px,#6464ff 13px,#6161ff 15px,#7272ff 18px,#5a5aff 21px,#4747ff 33px,#4646ff 33.5px,#3434ff 36px,#3333ff 36.5px,#4242ff 39.5px,#4242ff 44.5px,#4a4aff 49.5px,#6060ff 52.5px,#4e4eff 55.5px,#4a4aff 59.5px,#6565ff 71.5px,#3636ff 82px,#2e2eff 95.5px,#2828ff 111.5px,#4040ff 131.5px,#3d3dff 132px,#1515ff 133px,#1111ff 133.5px,#1111ff 150.5px,#6b6bff 162.5px,#ececff 175.5px,#9d9dff 183.5px,#3b3bff 187.5px,#3535ff 188px,#1d1dff 195.5px,#2424ff 205px,#7474ff 217px,#9999ff 233px,#6363ff 250px,#3030ff 268px)"></i><i style="top:115px;background:linear-gradient(90deg,#a1a1ff -1px,#a0a0ff -0.5px,#8484ff 3px,#7676ff 6.5px,#7676ff 7px,#8282ff 9.5px,#8181ff 10px,#6767ff 12.5px,#6464ff 13px,#6262ff 14.5px,#6363ff 15px,#7171ff 17.5px,#7171ff 18px,#5a5aff 21px,#4848ff 33px,#3434ff 36px,#3333ff 36.5px,#4242ff 39.5px,#4242ff 44.5px,#4b4bff 49.5px,#6262ff 52.5px,#4f4fff 55.5px,#4b4bff 59.5px,#6464ff 71.5px,#3838ff 82px,#2f2fff 95.5px,#2929ff 111.5px,#4242ff 131.5px,#3e3eff 132px,#1515ff 133px,#1111ff 133.5px,#1212ff 150px,#1313ff 150.5px,#6b6bff 162px,#ebebff 175px,#e9e9ff 175.5px,#a0a0ff 183px,#9696ff 183.5px,#3636ff 187.5px,#1e1eff 195px,#2626ff 204.5px,#7575ff 216.5px,#9999ff 232.5px,#6262ff 249.5px,#2f2fff 268px)"></i><i style="top:117px;background:linear-gradient(90deg,#a0a0ff -1px,#9b9bff 0px,#8585ff 2.5px,#7e7eff 4px,#7575ff 6.5px,#8383ff 9.5px,#6565ff 12.5px,#6262ff 14.5px,#7272ff 17.5px,#5b5bff 20.5px,#4848ff 33px,#3333ff 36px,#3434ff 36.5px,#4242ff 39.5px,#4141ff 44.5px,#4b4bff 49.5px,#6363ff 52.5px,#5050ff 55.5px,#4b4bff 59.5px,#6464ff 71.5px,#3939ff 82px,#2b2bff 111.5px,#4343ff 131.5px,#3f3fff 132px,#1515ff 133px,#1111ff 133.5px,#1212ff 150px,#7070ff 162px,#e9e9ff 174.5px,#ebebff 175px,#a2a2ff 182.5px,#9b9bff 183px,#3c3cff 187px,#3636ff 187.5px,#1f1fff 194.5px,#2727ff 204px,#7777ff 216px,#9999ff 232px,#6161ff 249px,#2e2eff 268px)"></i><i style="top:119px;background:linear-gradient(90deg,#9e9eff -1px,#9999ff 0px,#8484ff 2.5px,#7d7dff 4px,#7676ff 6px,#7575ff 6.5px,#8383ff 9.5px,#7272ff 11px,#6464ff 12.5px,#6363ff 14px,#6363ff 14.5px,#7373ff 17.5px,#5b5bff 20.5px,#4848ff 33px,#3333ff 36px,#4242ff 39px,#4141ff 44.5px,#4c4cff 49.5px,#6464ff 52.5px,#5050ff 55.5px,#4c4cff 59.5px,#6363ff 71.5px,#3a3aff 82px,#2c2cff 111.5px,#4444ff 131.5px,#4040ff 132px,#1616ff 133px,#1212ff 133.5px,#1313ff 149.5px,#1515ff 150px,#7070ff 161.5px,#ededff 174.5px,#a0a0ff 182.5px,#3838ff 187px,#2020ff 194px,#2929ff 203.5px,#2b2bff 204px,#7878ff 215.5px,#9999ff 231.5px,#6060ff 248.5px,#2d2dff 268px)"></i><i style="top:121px;background:linear-gradient(90deg,#9d9dff -1px,#9b9bff -0.5px,#8383ff 2.5px,#7c7cff 4px,#7575ff 6px,#7676ff 6.5px,#8282ff 9px,#8181ff 9.5px,#6767ff 12px,#6363ff 14px,#7272ff 17px,#7272ff 17.5px,#5b5bff 20.5px,#4848ff 33px,#3232ff 36px,#4242ff 39px,#4141ff 44.5px,#4c4cff 49.5px,#6666ff 52.5px,#5151ff 55.5px,#4d4dff 59.5px,#6363ff 71.5px,#3c3cff 81.5px,#3434ff 95.5px,#2d2dff 111.5px,#4545ff 131.5px,#4141ff 132px,#1616ff 133px,#1212ff 133.5px,#1313ff 149px,#1414ff 149.5px,#7070ff 161px,#ececff 174px,#eaeaff 174.5px,#a3a3ff 182px,#9a9aff 182.5px,#3d3dff 186.5px,#3838ff 187px,#2121ff 194px,#2c2cff 203.5px,#7979ff 215px,#9999ff 231px,#5f5fff 248px,#2c2cff 268px)"></i><i style="top:123px;background:linear-gradient(90deg,#9b9bff -1px,#9999ff -0.5px,#8282ff 2.5px,#7b7bff 4px,#7575ff 6px,#8383ff 9px,#6565ff 12px,#6363ff 14px,#7474ff 17px,#5c5cff 20px,#4949ff 33px,#3131ff 36px,#4343ff 39px,#4141ff 44.5px,#4d4dff 49.5px,#6767ff 52.5px,#5252ff 55.5px,#4e4eff 59.5px,#6363ff 71.5px,#3d3dff 81.5px,#3535ff 95.5px,#2f2fff 111.5px,#4646ff 131.5px,#4242ff 132px,#1717ff 133px,#1212ff 133.5px,#1414ff 149px,#7474ff 161px,#ebebff 173.5px,#ececff 174px,#a6a6ff 181.5px,#9e9eff 182px,#3939ff 186.5px,#2121ff 193.5px,#2d2dff 203px,#7a7aff 214.5px,#9999ff 230.5px,#5e5eff 247.5px,#2b2bff 268px)"></i><i style="top:125px;background:linear-gradient(90deg,#9999ff -1px,#9898ff -0.5px,#8181ff 2.5px,#7a7aff 4px,#7676ff 5.5px,#7575ff 6px,#8282ff 8.5px,#8282ff 9px,#6d6dff 11px,#6565ff 12px,#6363ff 13.5px,#6464ff 14px,#7373ff 17px,#5c5cff 20px,#4a4aff 32.5px,#4848ff 33px,#3232ff 36px,#4343ff 39px,#4141ff 44.5px,#4d4dff 49.5px,#6969ff 52.5px,#5353ff 55.5px,#4f4fff 59.5px,#6262ff 71.5px,#3e3eff 81.5px,#3030ff 111.5px,#3a3aff 121.5px,#4747ff 131.5px,#4343ff 132px,#1717ff 133px,#1313ff 133.5px,#1515ff 148.5px,#1616ff 149px,#7474ff 160.5px,#eeeeff 173.5px,#a3a3ff 181.5px,#3e3eff 186px,#3939ff 186.5px,#2323ff 193px,#2f2fff 202.5px,#7b7bff 214px,#9999ff 230px,#5e5eff 247px,#2a2aff 268px)"></i><i style="top:127px;background:linear-gradient(90deg,#9797ff -1px,#9696ff -0.5px,#8383ff 2px,#7979ff 4px,#7575ff 5.5px,#8383ff 8.5px,#8080ff 9px,#6767ff 11.5px,#6363ff 13.5px,#7474ff 16.5px,#7272ff 17px,#5e5eff 19.5px,#5c5cff 20px,#4a4aff 32.5px,#4848ff 33px,#3434ff 35.5px,#3232ff 36px,#4343ff 39px,#4040ff 44.5px,#4e4eff 49.5px,#6a6aff 52.5px,#5454ff 55.5px,#4f4fff 59.5px,#6262ff 71.5px,#3f3fff 81.5px,#3131ff 111.5px,#3b3bff 121.5px,#4848ff 131.5px,#4444ff 132px,#1818ff 133px,#1313ff 133.5px,#1515ff 148.5px,#7474ff 160px,#ededff 173px,#ebebff 173.5px,#a6a6ff 181px,#9d9dff 181.5px,#3b3bff 186px,#2424ff 192.5px,#3030ff 202px,#7c7cff 213.5px,#9999ff 229.5px,#5d5dff 246.5px,#2929ff 268px)"></i><i style="top:129px;background:linear-gradient(90deg,#9696ff -1px,#9494ff -0.5px,#8282ff 2px,#7878ff 4px,#7474ff 5.5px,#8484ff 8.5px,#6565ff 11.5px,#6464ff 13.5px,#7575ff 16.5px,#5d5dff 19.5px,#4a4aff 32.5px,#3333ff 35.5px,#3232ff 36px,#4343ff 39px,#4040ff 44.5px,#4e4eff 49.5px,#6c6cff 52.5px,#6a6aff 53px,#5555ff 55.5px,#5050ff 59.5px,#6262ff 71.5px,#4040ff 81.5px,#3333ff 111.5px,#3b3bff 121.5px,#4949ff 131.5px,#4646ff 132px,#1818ff 133px,#1414ff 133.5px,#1616ff 148px,#1818ff 148.5px,#7474ff 159.5px,#ececff 172.5px,#ededff 173px,#a9a9ff 180.5px,#a2a2ff 181px,#3f3fff 185.5px,#3a3aff 186px,#2424ff 192.5px,#3232ff 201.5px,#7e7eff 213px,#9999ff 229px,#5c5cff 246px,#2828ff 268px)"></i><i style="top:131px;background:linear-gradient(90deg,#9494ff -1px,#9393ff -0.5px,#8181ff 2px,#7979ff 3.5px,#7575ff 5px,#7575ff 5.5px,#8282ff 8px,#8282ff 8.5px,#6d6dff 10.5px,#6565ff 11.5px,#6565ff 13.5px,#7474ff 16px,#7474ff 16.5px,#5e5eff 19.5px,#4a4aff 32.5px,#3333ff 35.5px,#3333ff 36px,#4242ff 38.5px,#4040ff 44.5px,#4f4fff 49.5px,#6d6dff 52.5px,#6b6bff 53px,#5656ff 55.5px,#5555ff 56px,#5151ff 59.5px,#6161ff 71.5px,#4141ff 82px,#3434ff 111.5px,#3c3cff 121.5px,#4b4bff 131.5px,#4747ff 132px,#1919ff 133px,#1414ff 133.5px,#1616ff 147.5px,#1717ff 148px,#7979ff 159.5px,#efefff 172.5px,#a7a7ff 180.5px,#4545ff 185px,#3c3cff 185.5px,#2525ff 192px,#3333ff 201px,#7f7fff 212.5px,#9999ff 228.5px,#5b5bff 245.5px,#2727ff 268px)"></i><i style="top:133px;background:linear-gradient(90deg,#9292ff -1px,#9191ff -0.5px,#8383ff 1.5px,#7979ff 3.5px,#7474ff 5px,#8383ff 8px,#8080ff 8.5px,#6767ff 11px,#6565ff 11.5px,#6464ff 13px,#7575ff 16px,#7373ff 16.5px,#5f5fff 19px,#5e5eff 19.5px,#4b4bff 32.5px,#3232ff 35.5px,#3333ff 36px,#4343ff 38.5px,#4040ff 44.5px,#4f4fff 49.5px,#6f6fff 52.5px,#6c6cff 53px,#5757ff 55.5px,#5555ff 56px,#5252ff 59.5px,#6161ff 71.5px,#4242ff 82px,#3535ff 111.5px,#3d3dff 121.5px,#4c4cff 131.5px,#4848ff 132px,#1919ff 133px,#1414ff 133.5px,#1717ff 147.5px,#7979ff 159px,#eeeeff 172px,#ededff 172.5px,#a9a9ff 180px,#a1a1ff 180.5px,#4040ff 185px,#3c3cff 185.5px,#2727ff 191.5px,#3535ff 200.5px,#7e7eff 211.5px,#8080ff 212px,#9999ff 228px,#5a5aff 245px,#2626ff 268px)"></i><i style="top:135px;background:linear-gradient(90deg,#9191ff -1px,#9090ff -0.5px,#8282ff 1.5px,#7878ff 3.5px,#7474ff 5px,#8383ff 8px,#6666ff 11px,#6565ff 13px,#7676ff 16px,#5f5fff 19px,#4b4bff 32.5px,#3232ff 35.5px,#4343ff 38.5px,#4040ff 44.5px,#5050ff 49.5px,#7070ff 52.5px,#6e6eff 53px,#5858ff 55.5px,#5656ff 56px,#5252ff 59.5px,#6060ff 71.5px,#4343ff 82px,#3737ff 111.5px,#3e3eff 121.5px,#4d4dff 131.5px,#4949ff 132px,#1919ff 133px,#1515ff 133.5px,#1717ff 147px,#1919ff 147.5px,#ededff 171.5px,#eeeeff 172px,#acacff 179.5px,#a5a5ff 180px,#4646ff 184.5px,#3d3dff 185px,#2828ff 191px,#3737ff 200px,#7f7fff 211px,#8181ff 211.5px,#9999ff 227.5px,#5959ff 244.5px,#2525ff 268px)"></i><i style="top:137px;background:linear-gradient(90deg,#8f8fff -1px,#8e8eff -0.5px,#8181ff 1.5px,#7777ff 3.5px,#7474ff 4.5px,#7575ff 5px,#8282ff 7.5px,#8181ff 8px,#6868ff 10.5px,#6666ff 11px,#6666ff 13px,#7575ff 15.5px,#7575ff 16px,#5f5fff 19px,#4b4bff 32.5px,#3131ff 35.5px,#4444ff 38.5px,#3f3fff 44.5px,#5050ff 49.5px,#7272ff 52.5px,#6f6fff 53px,#5858ff 55.5px,#5757ff 56px,#5353ff 59.5px,#6060ff 71.5px,#4444ff 82px,#3838ff 111.5px,#3f3fff 121.5px,#4e4eff 131.5px,#4a4aff 132px,#1a1aff 133px,#1515ff 133.5px,#1818ff 147px,#f0f0ff 171.5px,#aaaaff 179.5px,#4141ff 184.5px,#3d3dff 185px,#2828ff 191px,#3a3aff 200px,#8181ff 210.5px,#9999ff 227px,#5757ff 244.5px,#2424ff 268px)"></i><i style="top:139px;background:linear-gradient(90deg,#8d8dff -1px,#8d8dff -0.5px,#7878ff 3px,#7474ff 4.5px,#8383ff 7.5px,#6666ff 10.5px,#6666ff 11px,#6565ff 12.5px,#7777ff 15.5px,#6060ff 18.5px,#4b4bff 32.5px,#3232ff 35.5px,#4444ff 38.5px,#3f3fff 44.5px,#5151ff 49.5px,#7373ff 52.5px,#7171ff 53px,#5959ff 55.5px,#5858ff 56px,#5454ff 59.5px,#6060ff 71.5px,#4545ff 82px,#4242ff 95.5px,#3939ff 111.5px,#3f3fff 121.5px,#4f4fff 131.5px,#4b4bff 132px,#1a1aff 133px,#1616ff 133.5px,#1919ff 146.5px,#1b1bff 147px,#efefff 171px,#eeeeff 171.5px,#adadff 179px,#a4a4ff 179.5px,#4747ff 184px,#3f3fff 184.5px,#2929ff 190.5px,#3c3cff 199.5px,#8282ff 210px,#9999ff 226.5px,#5656ff 244px,#2424ff 268px)"></i><i style="top:141px;background:linear-gradient(90deg,#8c8cff -1px,#8b8bff -0.5px,#7777ff 3px,#7474ff 4px,#7474ff 4.5px,#8282ff 7.5px,#6666ff 10.5px,#6666ff 12.5px,#7777ff 15.5px,#6060ff 18.5px,#4c4cff 32px,#4a4aff 32.5px,#3434ff 35px,#3232ff 35.5px,#4444ff 38.5px,#3f3fff 44.5px,#5151ff 49.5px,#7575ff 52.5px,#7272ff 53px,#5a5aff 55.5px,#5959ff 56px,#5555ff 59.5px,#5f5fff 71.5px,#4747ff 82px,#4343ff 95.5px,#3b3bff 111.5px,#4040ff 121.5px,#5050ff 131.5px,#4c4cff 132px,#1b1bff 133px,#1616ff 133.5px,#1919ff 146px,#1a1aff 146.5px,#8282ff 158px,#eeeeff 170.5px,#f0f0ff 171px,#afafff 178.5px,#a9a9ff 179px,#4242ff 184px,#2b2bff 190px,#3d3dff 199px,#8383ff 209.5px,#9999ff 226px,#5555ff 243.5px,#2323ff 268px)"></i><i style="top:143px;background:linear-gradient(90deg,#8b8bff -1px,#8a8aff -0.5px,#7676ff 3px,#7373ff 4px,#8282ff 7px,#8080ff 7.5px,#6868ff 10px,#6666ff 10.5px,#6565ff 12px,#7777ff 15px,#7676ff 15.5px,#6262ff 18px,#6060ff 18.5px,#4d4dff 32px,#3333ff 35px,#3333ff 35.5px,#4444ff 38.5px,#3f3fff 44.5px,#5252ff 49.5px,#7676ff 52.5px,#7474ff 53px,#5b5bff 55.5px,#5a5aff 56px,#5555ff 59.5px,#5f5fff 71.5px,#4848ff 82px,#4545ff 95.5px,#3c3cff 111.5px,#4141ff 121.5px,#5151ff 131.5px,#4d4dff 132px,#1b1bff 133px,#1616ff 133.5px,#1a1aff 146px,#8282ff 157.5px,#f1f1ff 170.5px,#adadff 178.5px,#4848ff 183.5px,#4040ff 184px,#2c2cff 189.5px,#2b2bff 190px,#3e3eff 198.5px,#8585ff 209px,#9999ff 225.5px,#5454ff 243px,#2222ff 268px)"></i><i style="top:145px;background:linear-gradient(90deg,#8989ff -1px,#8888ff -0.5px,#7575ff 3px,#7373ff 4px,#8282ff 7px,#6666ff 10px,#6666ff 10.5px,#6565ff 12px,#7878ff 15px,#6161ff 18px,#4d4dff 32px,#3333ff 35px,#3333ff 35.5px,#4343ff 38px,#4444ff 38.5px,#3f3fff 44.5px,#4040ff 45px,#5252ff 49.5px,#7878ff 52.5px,#7575ff 53px,#5c5cff 55.5px,#5b5bff 56px,#5656ff 59.5px,#5f5fff 71.5px,#4949ff 82px,#4646ff 95.5px,#3d3dff 111.5px,#4242ff 121.5px,#5252ff 131.5px,#4e4eff 132px,#1c1cff 133px,#1717ff 133.5px,#1a1aff 145.5px,#1c1cff 146px,#8282ff 157px,#f1f1ff 170px,#efefff 170.5px,#b0b0ff 178px,#4343ff 183.5px,#2c2cff 189.5px,#4040ff 198px,#8686ff 208.5px,#9999ff 225px,#5353ff 242.5px,#2121ff 268px)"></i><i style="top:147px;background:linear-gradient(90deg,#8888ff -1px,#8787ff -0.5px,#7373ff 3.5px,#7373ff 4px,#8080ff 6.5px,#8181ff 7px,#6666ff 10px,#6666ff 12px,#7676ff 14.5px,#7777ff 15px,#6161ff 18px,#4d4dff 32px,#3232ff 35px,#4444ff 38px,#3f3fff 44.5px,#4040ff 45px,#5353ff 49.5px,#7979ff 52.5px,#7777ff 53px,#5d5dff 55.5px,#5b5bff 56px,#5757ff 59.5px,#5e5eff 71.5px,#4a4aff 82px,#4848ff 95.5px,#3f3fff 112px,#4242ff 121.5px,#5454ff 131.5px,#4f4fff 132px,#1c1cff 133px,#1717ff 133.5px,#1b1bff 145.5px,#8686ff 157px,#f0f0ff 169.5px,#f1f1ff 170px,#b3b3ff 177.5px,#acacff 178px,#4949ff 183px,#4242ff 183.5px,#2d2dff 189px,#4141ff 197.5px,#8787ff 208px,#9999ff 224.5px,#5252ff 242px,#2020ff 268px)"></i><i style="top:149px;background:linear-gradient(90deg,#8686ff -1px,#8686ff -0.5px,#7272ff 3.5px,#8181ff 6.5px,#7f7fff 7px,#6868ff 9.5px,#6666ff 10px,#6565ff 11.5px,#7878ff 14.5px,#7676ff 15px,#6363ff 17.5px,#6262ff 18px,#4d4dff 32px,#3131ff 35px,#4545ff 38px,#3e3eff 44.5px,#4040ff 45px,#5353ff 49.5px,#7b7bff 52.5px,#7878ff 53px,#5e5eff 55.5px,#5c5cff 56px,#5858ff 59.5px,#5e5eff 71.5px,#4b4bff 82px,#4949ff 95.5px,#4040ff 112px,#4343ff 121.5px,#5555ff 131.5px,#5050ff 132px,#1d1dff 133px,#1818ff 133.5px,#1b1bff 145px,#1e1eff 145.5px,#8787ff 156.5px,#f2f2ff 169.5px,#b1b1ff 177.5px,#4444ff 183px,#2e2eff 188.5px,#4343ff 197px,#8888ff 207.5px,#9999ff 224px,#5151ff 241.5px,#1f1fff 268px)"></i><i style="top:151px;background:linear-gradient(90deg,#8585ff -1px,#8585ff -0.5px,#7373ff 3px,#7272ff 3.5px,#8181ff 6.5px,#6767ff 9.5px,#6666ff 10px,#6666ff 11.5px,#7979ff 14.5px,#6262ff 17.5px,#4d4dff 32px,#3131ff 35px,#4545ff 38px,#3e3eff 44.5px,#4040ff 45px,#5454ff 49.5px,#7c7cff 52.5px,#7979ff 53px,#5f5fff 55.5px,#5d5dff 56px,#5858ff 59.5px,#5d5dff 71.5px,#4d4dff 81.5px,#4b4bff 95.5px,#4141ff 112px,#4444ff 121.5px,#5656ff 131.5px,#5151ff 132px,#1d1dff 133px,#1818ff 133.5px,#1c1cff 144.5px,#1c1cff 145px,#8787ff 156px,#f2f2ff 169px,#f0f0ff 169.5px,#b3b3ff 177px,#4a4aff 182.5px,#4343ff 183px,#3030ff 188px,#2f2fff 188.5px,#4444ff 196.5px,#8a8aff 207px,#9999ff 223.5px,#9898ff 224px,#5151ff 241px,#1e1eff 268px)"></i><i style="top:153px;background:linear-gradient(90deg,#8484ff -1px,#8383ff -0.5px,#7272ff 3px,#7373ff 3.5px,#8080ff 6px,#7f7fff 6.5px,#6969ff 9px,#6666ff 10px,#6767ff 11.5px,#7878ff 14px,#7878ff 14.5px,#6363ff 17.5px,#4f4fff 31.5px,#4d4dff 32px,#3535ff 34.5px,#3232ff 35px,#4545ff 38px,#3e3eff 44.5px,#4040ff 45px,#5454ff 49.5px,#7e7eff 52.5px,#7b7bff 53px,#6060ff 55.5px,#5e5eff 56px,#5959ff 59.5px,#5d5dff 71.5px,#4e4eff 81.5px,#4c4cff 95.5px,#4343ff 112px,#4545ff 121.5px,#5757ff 131.5px,#5252ff 132px,#1d1dff 133px,#1818ff 133.5px,#1c1cff 144.5px,#8b8bff 156px,#f1f1ff 168.5px,#f2f2ff 169px,#b6b6ff 176.5px,#b0b0ff 177px,#4545ff 182.5px,#3030ff 188px,#4646ff 196px,#8b8bff 206.5px,#9999ff 223px,#9898ff 223.5px,#5050ff 240.5px,#1d1dff 268px)"></i><i style="top:155px;background:linear-gradient(90deg,#8383ff -1px,#8282ff -0.5px,#7171ff 3px,#8181ff 6px,#6868ff 9px,#6666ff 10px,#6666ff 11px,#7979ff 14px,#6464ff 17px,#4f4fff 31.5px,#4c4cff 32px,#3434ff 34.5px,#3232ff 35px,#4545ff 38px,#3e3eff 44.5px,#4040ff 45px,#5555ff 49.5px,#7f7fff 52.5px,#7c7cff 53px,#6060ff 55.5px,#5f5fff 56px,#5a5aff 59.5px,#5d5dff 71.5px,#4f4fff 81.5px,#4e4eff 95.5px,#4444ff 111.5px,#4545ff 121.5px,#5858ff 131.5px,#5353ff 132px,#1e1eff 133px,#1919ff 133.5px,#1d1dff 144px,#1e1eff 144.5px,#8b8bff 155.5px,#f4f4ff 168.5px,#b4b4ff 176.5px,#4b4bff 182px,#4545ff 182.5px,#3131ff 187.5px,#4a4aff 196px,#8c8cff 206px,#9999ff 222.5px,#9898ff 223px,#4f4fff 240px,#1c1cff 268px)"></i><i style="top:157px;background:linear-gradient(90deg,#8181ff -1px,#8181ff -0.5px,#7171ff 3px,#8080ff 6px,#6767ff 9px,#6666ff 10px,#6767ff 11px,#7979ff 14px,#6464ff 17px,#4f4fff 31.5px,#3333ff 34.5px,#3333ff 35px,#4444ff 37.5px,#4545ff 38px,#3e3eff 44.5px,#3f3fff 45px,#5555ff 49.5px,#8181ff 52.5px,#7e7eff 53px,#6161ff 55.5px,#5b5bff 59.5px,#5c5cff 71.5px,#5050ff 81.5px,#4f4fff 95.5px,#4545ff 112px,#4646ff 121.5px,#5959ff 131.5px,#5555ff 132px,#1e1eff 133px,#1919ff 133.5px,#1e1eff 144px,#8b8bff 155px,#f3f3ff 168px,#f1f1ff 168.5px,#b7b7ff 176px,#4646ff 182px,#3232ff 187px,#4b4bff 195.5px,#8d8dff 205.5px,#9999ff 222px,#9898ff 222.5px,#4e4eff 239.5px,#1b1bff 268px)"></i><i style="top:159px;background:linear-gradient(90deg,#8080ff -1px,#7e7eff 0px,#7171ff 2.5px,#7272ff 3px,#7f7fff 5.5px,#7e7eff 6px,#6969ff 8.5px,#6666ff 9.5px,#6868ff 11px,#7979ff 13.5px,#7878ff 14px,#6464ff 17px,#4f4fff 31.5px,#3232ff 34.5px,#3333ff 35px,#4545ff 37.5px,#3d3dff 44.5px,#3f3fff 45px,#5656ff 49.5px,#8282ff 52.5px,#7f7fff 53px,#6262ff 55.5px,#5b5bff 59.5px,#5c5cff 71.5px,#5151ff 81.5px,#5151ff 95.5px,#4747ff 112px,#4747ff 121.5px,#5a5aff 131.5px,#5656ff 132px,#1f1fff 133px,#1919ff 133.5px,#1e1eff 143.5px,#2121ff 144px,#9090ff 155px,#f2f2ff 167.5px,#f3f3ff 168px,#b9b9ff 175.5px,#b3b3ff 176px,#4c4cff 181.5px,#4646ff 182px,#3434ff 186.5px,#3333ff 187px,#4c4cff 195px,#8e8eff 205px,#9999ff 221.5px,#9898ff 222px,#4d4dff 239px,#1a1aff 268px)"></i><i style="top:161px;background:linear-gradient(90deg,#7f7fff -1px,#7d7dff 0px,#7171ff 2.5px,#8080ff 5.5px,#6868ff 8.5px,#6666ff 9.5px,#6666ff 10.5px,#7a7aff 13.5px,#6565ff 16.5px,#4f4fff 31.5px,#3232ff 34.5px,#4646ff 37.5px,#3d3dff 44.5px,#3f3fff 45px,#5656ff 49.5px,#8484ff 52.5px,#8181ff 53px,#6363ff 55.5px,#5c5cff 59.5px,#5c5cff 71.5px,#5252ff 81.5px,#5252ff 95.5px,#4848ff 111.5px,#4848ff 121.5px,#5b5bff 131.5px,#5656ff 132px,#1f1fff 133px,#1a1aff 133.5px,#1f1fff 143.5px,#8f8fff 154.5px,#f5f5ff 167.5px,#b8b8ff 175.5px,#4747ff 181.5px,#3434ff 186.5px,#4d4dff 194.5px,#8f8fff 204.5px,#9999ff 221px,#9999ff 221.5px,#4c4cff 238.5px,#1919ff 268px)"></i><i style="top:163px;background:linear-gradient(90deg,#7f7fff -1px,#7f7fff -0.5px,#7171ff 2.5px,#7f7fff 5.5px,#6767ff 8.5px,#6666ff 9.5px,#6767ff 10.5px,#7a7aff 13.5px,#6565ff 16.5px,#5050ff 31.5px,#3232ff 34.5px,#4646ff 37.5px,#3d3dff 44.5px,#3f3fff 45px,#5757ff 49.5px,#8585ff 52.5px,#8282ff 53px,#6464ff 55.5px,#5c5cff 59.5px,#5c5cff 71.5px,#5252ff 81.5px,#5353ff 95.5px,#4949ff 111.5px,#4848ff 121.5px,#5c5cff 131.5px,#5757ff 132px,#1f1fff 133px,#1a1aff 133.5px,#1f1fff 143px,#2222ff 143.5px,#9393ff 154.5px,#f4f4ff 167px,#f3f3ff 167.5px,#babaff 175px,#b4b4ff 175.5px,#4c4cff 181px,#4747ff 181.5px,#3535ff 186px,#4e4eff 194px,#8f8fff 204px,#9999ff 221px,#4c4cff 238px,#1919ff 268px)"></i><i style="top:165px;background:linear-gradient(90deg,#7e7eff -1px,#7e7eff -0.5px,#7272ff 2.5px,#7f7fff 5px,#7e7eff 5.5px,#6a6aff 8px,#6666ff 9.5px,#6868ff 10.5px,#7979ff 13px,#7979ff 13.5px,#6565ff 16.5px,#5d5dff 23.5px,#4f4fff 31.5px,#3232ff 34.5px,#4747ff 37.5px,#3d3dff 44.5px,#3f3fff 45px,#5858ff 49.5px,#8787ff 52.5px,#8383ff 53px,#6565ff 55.5px,#5d5dff 59.5px,#5c5cff 71.5px,#5353ff 81.5px,#5353ff 95.5px,#4a4aff 111.5px,#4949ff 121.5px,#5c5cff 131.5px,#5757ff 132px,#1f1fff 133px,#1a1aff 133.5px,#1f1fff 142.5px,#1f1fff 143px,#9292ff 154px,#f6f6ff 167px,#b9b9ff 175px,#4848ff 181px,#3636ff 185.5px,#3636ff 186px,#4e4eff 193.5px,#9090ff 203.5px,#9a9aff 220.5px,#4b4bff 237.5px,#1919ff 268px)"></i><i style="top:167px;background:linear-gradient(90deg,#7e7eff -1px,#7c7cff 0px,#7272ff 2px,#7373ff 2.5px,#8080ff 5px,#6969ff 8px,#6666ff 9.5px,#6969ff 10.5px,#7a7aff 13px,#6666ff 16px,#6565ff 16.5px,#5151ff 31px,#4f4fff 31.5px,#3636ff 34px,#3333ff 34.5px,#4747ff 37.5px,#3d3dff 44.5px,#3f3fff 45px,#5959ff 49.5px,#8888ff 52.5px,#8585ff 53px,#6666ff 55.5px,#5d5dff 59.5px,#5c5cff 71.5px,#5353ff 81.5px,#5454ff 95.5px,#4b4bff 111.5px,#4a4aff 121.5px,#5c5cff 131.5px,#5757ff 132px,#1f1fff 133px,#1a1aff 133.5px,#1f1fff 142.5px,#2222ff 143px,#9595ff 154px,#f4f4ff 166.5px,#f4f4ff 167px,#bcbcff 174.5px,#b5b5ff 175px,#4c4cff 180.5px,#4747ff 181px,#3636ff 185.5px,#4f4fff 193px,#9090ff 203px,#9a9aff 220px,#4b4bff 237px,#1818ff 268px)"></i><i style="top:169px;background:linear-gradient(90deg,#7d7dff -1px,#7d7dff -0.5px,#7373ff 2px,#8080ff 5px,#6868ff 8px,#6666ff 9.5px,#6666ff 10px,#7b7bff 13px,#6666ff 16px,#5d5dff 23.5px,#5151ff 31px,#4e4eff 31.5px,#3535ff 34px,#3434ff 34.5px,#4545ff 37px,#4747ff 37.5px,#3d3dff 44.5px,#3f3fff 45px,#5959ff 49.5px,#8a8aff 52.5px,#8686ff 53px,#6666ff 55.5px,#5e5eff 59.5px,#5c5cff 71.5px,#5353ff 81.5px,#5555ff 95.5px,#4c4cff 111.5px,#4b4bff 121.5px,#5d5dff 131.5px,#5858ff 132px,#1f1fff 133px,#1a1aff 133.5px,#1f1fff 142px,#2020ff 142.5px,#9494ff 153.5px,#f6f6ff 166.5px,#babaff 174.5px,#4848ff 180.5px,#3838ff 185px,#5252ff 193px,#9090ff 202.5px,#9b9bff 219.5px,#4b4bff 236.5px,#1818ff 268px)"></i><i style="top:171px;background:linear-gradient(90deg,#7c7cff -1px,#7373ff 2px,#7f7fff 4.5px,#7e7eff 5px,#6a6aff 7.5px,#6868ff 8px,#6666ff 9.5px,#6868ff 10px,#7979ff 12.5px,#7a7aff 13px,#6666ff 16px,#5e5eff 23px,#5151ff 31px,#3535ff 34px,#3535ff 34.5px,#4646ff 37px,#4747ff 37.5px,#3d3dff 44.5px,#4040ff 45px,#5a5aff 49.5px,#8b8bff 52.5px,#8888ff 53px,#6767ff 55.5px,#5e5eff 59.5px,#5c5cff 71.5px,#5454ff 81.5px,#5656ff 95.5px,#4e4eff 111.5px,#4c4cff 121.5px,#5d5dff 131.5px,#5858ff 132px,#1f1fff 133px,#1a1aff 133.5px,#1f1fff 142px,#2323ff 142.5px,#9898ff 153.5px,#f5f5ff 166px,#f5f5ff 166.5px,#bdbdff 174px,#b6b6ff 174.5px,#4c4cff 180px,#4747ff 180.5px,#3939ff 184.5px,#3939ff 185px,#5252ff 192.5px,#9090ff 202px,#9b9bff 219px,#4949ff 236.5px,#1717ff 268px)"></i><i style="top:173px;background:linear-gradient(90deg,#7c7cff -1px,#7474ff 2px,#7f7fff 4.5px,#7d7dff 5px,#6969ff 7.5px,#6666ff 9.5px,#7a7aff 12.5px,#6666ff 16px,#5e5eff 23px,#5252ff 31px,#3434ff 34px,#3636ff 34.5px,#4747ff 37px,#3d3dff 44.5px,#4040ff 45px,#5b5bff 49.5px,#8d8dff 52.5px,#8989ff 53px,#6868ff 55.5px,#5e5eff 59.5px,#5c5cff 71.5px,#5454ff 81.5px,#5656ff 95.5px,#4c4cff 121.5px,#5e5eff 131.5px,#5959ff 132px,#1f1fff 133px,#1a1aff 133.5px,#2020ff 141.5px,#2121ff 142px,#9797ff 153px,#f7f7ff 166px,#bbbbff 174px,#4848ff 180px,#3939ff 184.5px,#5353ff 192px,#9191ff 202px,#9b9bff 218.5px,#4848ff 236px,#1717ff 268px)"></i><i style="top:175px;background:linear-gradient(90deg,#7b7bff -1px,#7b7bff -0.5px,#7474ff 1.5px,#8080ff 4.5px,#6868ff 7.5px,#6666ff 9px,#6666ff 9.5px,#7b7bff 12.5px,#6767ff 15.5px,#5f5fff 23px,#5252ff 31px,#3434ff 34px,#4848ff 37px,#3d3dff 44.5px,#4040ff 45px,#5b5bff 49.5px,#8e8eff 52.5px,#8a8aff 53px,#6969ff 55.5px,#5f5fff 60px,#5c5cff 71.5px,#5454ff 81.5px,#5757ff 95.5px,#4d4dff 121.5px,#5e5eff 131.5px,#5959ff 132px,#1f1fff 133px,#1a1aff 133.5px,#2020ff 141.5px,#2424ff 142px,#9a9aff 153px,#f6f6ff 165.5px,#f5f5ff 166px,#bebeff 173.5px,#b7b7ff 174px,#4c4cff 179.5px,#4848ff 180px,#3a3aff 184px,#5353ff 191.5px,#9292ff 201.5px,#9c9cff 218px,#4848ff 235.5px,#1717ff 268px)"></i><i style="top:177px;background:linear-gradient(90deg,#7b7bff -1px,#7474ff 1.5px,#7f7fff 4.5px,#6868ff 7.5px,#6666ff 9px,#6767ff 9.5px,#7979ff 12px,#7a7aff 12.5px,#6767ff 15.5px,#5f5fff 23px,#5252ff 31px,#3434ff 34px,#4848ff 37px,#3d3dff 44.5px,#4040ff 45px,#5c5cff 49.5px,#9090ff 52.5px,#8c8cff 53px,#6a6aff 55.5px,#5f5fff 60px,#5c5cff 71.5px,#5555ff 81.5px,#5858ff 95.5px,#4e4eff 121.5px,#5e5eff 131.5px,#5959ff 132px,#1f1fff 133px,#1a1aff 133.5px,#2121ff 141.5px,#9999ff 152.5px,#f7f7ff 165.5px,#bcbcff 173.5px,#4949ff 179.5px,#3c3cff 183.5px,#3c3cff 184px,#5454ff 191px,#9292ff 201px,#9c9cff 217.5px,#4747ff 235px,#1616ff 268px)"></i><i style="top:179px;background:linear-gradient(90deg,#7a7aff -1px,#7575ff 1.5px,#7f7fff 4px,#7d7dff 4.5px,#6a6aff 7px,#6666ff 9px,#7a7aff 12px,#7979ff 12.5px,#6767ff 15.5px,#5f5fff 23px,#5353ff 30.5px,#5151ff 31px,#3535ff 34px,#4949ff 37px,#3d3dff 44.5px,#4040ff 45px,#5d5dff 49.5px,#9191ff 52.5px,#8d8dff 53px,#6b6bff 55.5px,#5f5fff 60px,#5c5cff 71.5px,#5555ff 81.5px,#5959ff 95.5px,#4f4fff 121.5px,#5f5fff 131.5px,#5a5aff 132px,#1f1fff 133px,#1a1aff 133.5px,#2020ff 141px,#9d9dff 152.5px,#f7f7ff 165px,#f6f6ff 165.5px,#c0c0ff 173px,#b8b8ff 173.5px,#4c4cff 179px,#4848ff 179.5px,#3c3cff 183.5px,#5757ff 191px,#9292ff 200.5px,#9d9dff 217px,#4747ff 234.5px,#1616ff 268px)"></i><i style="top:181px;background:linear-gradient(90deg,#7a7aff -1px,#7575ff 1px,#8080ff 4px,#6969ff 7px,#6666ff 9px,#7b7bff 12px,#6868ff 15px,#5f5fff 23px,#5353ff 30.5px,#5151ff 31px,#3838ff 33.5px,#3636ff 34px,#4949ff 37px,#3d3dff 44.5px,#4040ff 45px,#5d5dff 49.5px,#9393ff 52.5px,#8f8fff 53px,#6c6cff 55.5px,#6060ff 60px,#5c5cff 71.5px,#5656ff 81.5px,#5959ff 95.5px,#4f4fff 121.5px,#5f5fff 131.5px,#5a5aff 132px,#1f1fff 133px,#1a1aff 133.5px,#2222ff 141px,#a0a0ff 152.5px,#f6f6ff 164.5px,#f8f8ff 165px,#bdbdff 173px,#5151ff 178.5px,#4949ff 179px,#3d3dff 183px,#5757ff 190.5px,#9393ff 200px,#9d9dff 216.5px,#4646ff 234px,#1616ff 268px)"></i><i style="top:183px;background:linear-gradient(90deg,#7979ff -1px,#7575ff 1px,#7f7fff 4px,#6969ff 7px,#6666ff 8.5px,#6767ff 9px,#7b7bff 12px,#6868ff 15px,#6060ff 23px,#5454ff 30.5px,#5151ff 31px,#3737ff 33.5px,#3636ff 34px,#4848ff 36.5px,#4949ff 37px,#3d3dff 44.5px,#5e5eff 49.5px,#9494ff 52.5px,#9090ff 53px,#6c6cff 55.5px,#6060ff 60px,#5656ff 81.5px,#5a5aff 95.5px,#5050ff 121.5px,#6060ff 131.5px,#5a5aff 132px,#1f1fff 133px,#1a1aff 133.5px,#2121ff 140.5px,#a0a0ff 152px,#f8f8ff 164.5px,#f6f6ff 165px,#c1c1ff 172.5px,#4c4cff 178.5px,#4949ff 179px,#3f3fff 182.5px,#3f3fff 183px,#5858ff 190px,#9393ff 199.5px,#9d9dff 216px,#4646ff 233.5px,#1515ff 268px)"></i><i style="top:185px;background:linear-gradient(90deg,#7878ff -1px,#7575ff 1px,#7f7fff 3.5px,#7e7eff 4px,#6b6bff 6.5px,#6666ff 8.5px,#6868ff 9px,#7a7aff 11.5px,#7a7aff 12px,#6868ff 15px,#6161ff 22.5px,#5454ff 30.5px,#3737ff 33.5px,#3737ff 34px,#4848ff 36.5px,#4949ff 37px,#3d3dff 44.5px,#5f5fff 49.5px,#9696ff 52.5px,#9292ff 53px,#6d6dff 55.5px,#6060ff 60px,#5656ff 81.5px,#5b5bff 95.5px,#5151ff 121.5px,#6060ff 131.5px,#5b5bff 132px,#1f1fff 133px,#1a1aff 133.5px,#2222ff 140.5px,#a3a3ff 152px,#f7f7ff 164px,#f9f9ff 164.5px,#c4c4ff 172px,#bebeff 172.5px,#5151ff 178px,#4949ff 178.5px,#4040ff 182px,#3f3fff 182.5px,#5858ff 189.5px,#9393ff 199px,#9e9eff 215.5px,#4646ff 233px,#1515ff 268px)"></i><i style="top:187px;background:linear-gradient(90deg,#7878ff -1px,#7575ff 0.5px,#7f7fff 3.5px,#6a6aff 6.5px,#6666ff 8.5px,#7b7bff 11.5px,#6969ff 14.5px,#6868ff 15px,#6161ff 22.5px,#5454ff 30.5px,#3636ff 33.5px,#4949ff 36.5px,#3d3dff 44.5px,#6060ff 49.5px,#9797ff 52.5px,#9393ff 53px,#6e6eff 55.5px,#6161ff 60px,#5757ff 81.5px,#5c5cff 95.5px,#5252ff 121.5px,#6060ff 131.5px,#5b5bff 132px,#1f1fff 133px,#1a1aff 133.5px,#2121ff 140px,#a2a2ff 151.5px,#f9f9ff 164px,#c3c3ff 172px,#4c4cff 178px,#4949ff 178.5px,#4040ff 182px,#5959ff 189px,#9393ff 198.5px,#9e9eff 215px,#4545ff 232.5px,#1414ff 268px)"></i><i style="top:189px;background:linear-gradient(90deg,#7777ff -1px,#7575ff 0.5px,#7f7fff 3.5px,#6969ff 6.5px,#6666ff 8.5px,#7b7bff 11.5px,#6969ff 14.5px,#6161ff 22.5px,#5454ff 30.5px,#3636ff 33.5px,#4a4aff 36.5px,#3d3dff 44.5px,#6060ff 49.5px,#9999ff 52.5px,#9494ff 53px,#6f6fff 55.5px,#6161ff 60px,#5757ff 81.5px,#5d5dff 95.5px,#5858ff 111.5px,#5252ff 121.5px,#6161ff 131.5px,#5b5bff 132px,#1f1fff 133px,#1a1aff 133.5px,#2323ff 140px,#a6a6ff 151.5px,#f8f8ff 163.5px,#f9f9ff 164px,#c5c5ff 171.5px,#bfbfff 172px,#5151ff 177.5px,#4a4aff 178px,#4141ff 181.5px,#4242ff 182px,#5959ff 188.5px,#9393ff 198px,#9e9eff 214.5px,#4444ff 232.5px,#1414ff 268px)"></i><i style="top:191px;background:linear-gradient(90deg,#7777ff -1px,#7575ff 0.5px,#7e7eff 3px,#7e7eff 3.5px,#6c6cff 6px,#6767ff 8px,#6767ff 8.5px,#7a7aff 11px,#7b7bff 11.5px,#6969ff 14.5px,#6262ff 22.5px,#5454ff 30.5px,#3636ff 33.5px,#4a4aff 36.5px,#3d3dff 44.5px,#6161ff 49.5px,#9a9aff 52.5px,#9696ff 53px,#7070ff 55.5px,#6161ff 60px,#5757ff 81.5px,#5d5dff 95.5px,#5959ff 111.5px,#5353ff 121.5px,#6161ff 131.5px,#5c5cff 132px,#2020ff 133px,#1a1aff 133.5px,#2121ff 139.5px,#a4a4ff 151px,#fafaff 163.5px,#c4c4ff 171.5px,#4c4cff 177.5px,#4343ff 181px,#4242ff 181.5px,#5c5cff 188.5px,#9595ff 198px,#9f9fff 214px,#4343ff 232px,#1414ff 268px)"></i><i style="top:193px;background:linear-gradient(90deg,#7676ff -1px,#7676ff 0.5px,#7f7fff 3px,#6b6bff 6px,#6767ff 8px,#6868ff 8.5px,#7b7bff 11px,#7a7aff 11.5px,#6a6aff 14px,#6262ff 22.5px,#5555ff 30px,#5454ff 30.5px,#3a3aff 33px,#3737ff 33.5px,#4b4bff 36.5px,#3d3dff 44.5px,#6262ff 49.5px,#9c9cff 52.5px,#9797ff 53px,#7171ff 55.5px,#6262ff 60px,#5858ff 81.5px,#5e5eff 95.5px,#5a5aff 111.5px,#5454ff 121.5px,#6161ff 131.5px,#5c5cff 132px,#2020ff 133px,#1a1aff 133.5px,#2121ff 139px,#2424ff 139.5px,#a8a8ff 151px,#f9f9ff 163px,#fafaff 163.5px,#c6c6ff 171px,#c0c0ff 171.5px,#5151ff 177px,#4a4aff 177.5px,#4343ff 181px,#4444ff 181.5px,#5d5dff 188px,#9595ff 197.5px,#9f9fff 213.5px,#4343ff 231.5px,#1313ff 268px)"></i><i style="top:195px;background:linear-gradient(90deg,#7676ff -1px,#7575ff 0px,#8080ff 3px,#6a6aff 6px,#6666ff 8px,#7c7cff 11px,#6969ff 14px,#6262ff 22.5px,#5656ff 30px,#5353ff 30.5px,#3a3aff 33px,#3838ff 33.5px,#4b4bff 36.5px,#3d3dff 44.5px,#6262ff 49.5px,#9d9dff 52.5px,#9999ff 53px,#7171ff 55.5px,#6262ff 60px,#5858ff 81.5px,#5f5fff 96px,#5b5bff 111.5px,#5555ff 121.5px,#6262ff 131.5px,#5c5cff 132px,#2020ff 133px,#1a1aff 133.5px,#2222ff 139px,#a7a7ff 150.5px,#fbfbff 163px,#c5c5ff 171px,#4c4cff 177px,#4a4aff 177.5px,#4444ff 181px,#5b5bff 187px,#9696ff 197px,#a0a0ff 213px,#4242ff 231px,#1313ff 268px)"></i><i style="top:197px;background:linear-gradient(90deg,#7575ff -1px,#7575ff 0px,#7f7fff 3px,#6a6aff 6px,#6767ff 8px,#7b7bff 11px,#6969ff 14px,#6363ff 22px,#5656ff 30px,#5353ff 30.5px,#3939ff 33px,#3939ff 33.5px,#4a4aff 36px,#4b4bff 36.5px,#3d3dff 44.5px,#6363ff 49.5px,#9f9fff 52.5px,#9a9aff 53px,#7272ff 55.5px,#6363ff 60px,#5959ff 81.5px,#6060ff 96px,#5c5cff 111.5px,#5555ff 121.5px,#6262ff 131.5px,#5d5dff 132px,#2020ff 133px,#1a1aff 133.5px,#2222ff 138.5px,#2424ff 139px,#ababff 150.5px,#fafaff 162.5px,#fafaff 163px,#c8c8ff 170.5px,#c2c2ff 171px,#5151ff 176.5px,#4b4bff 177px,#4545ff 180.5px,#5e5eff 187px,#9696ff 196.5px,#a0a0ff 212.5px,#4242ff 230.5px,#1313ff 268px)"></i><i style="top:199px;background:linear-gradient(90deg,#7474ff -1px,#7575ff 0px,#7f7fff 2.5px,#7d7dff 3px,#6b6bff 5.5px,#6767ff 7.5px,#6868ff 8px,#7a7aff 10.5px,#7a7aff 11px,#6b6bff 13.5px,#6a6aff 14px,#6363ff 22px,#5656ff 30px,#3939ff 33px,#3a3aff 33.5px,#4b4bff 36px,#4b4bff 36.5px,#3d3dff 44.5px,#6464ff 49.5px,#a0a0ff 52.5px,#9c9cff 53px,#7373ff 55.5px,#6363ff 60px,#5c5cff 71.5px,#5959ff 81.5px,#6060ff 96px,#5e5eff 111.5px,#5656ff 121.5px,#6363ff 131.5px,#5d5dff 132px,#2020ff 133px,#1a1aff 133.5px,#2222ff 138.5px,#aeaeff 150.5px,#fcfcff 162.5px,#c7c7ff 170.5px,#4c4cff 176.5px,#4a4aff 177px,#4646ff 180px,#5e5eff 186.5px,#9696ff 196px,#a0a0ff 212px,#4141ff 230px,#1212ff 268px)"></i><i style="top:201px;background:linear-gradient(90deg,#7474ff -1px,#7474ff -0.5px,#7f7fff 2.5px,#6b6bff 5.5px,#6767ff 7.5px,#7c7cff 10.5px,#6a6aff 13.5px,#6464ff 22px,#5656ff 30px,#3838ff 33px,#4c4cff 36px,#3d3dff 44.5px,#6464ff 49.5px,#a2a2ff 52.5px,#9d9dff 53px,#7474ff 55.5px,#6363ff 60px,#5c5cff 71.5px,#5959ff 81.5px,#6161ff 95.5px,#5f5fff 111.5px,#5757ff 121.5px,#6363ff 131.5px,#5d5dff 132px,#2020ff 133px,#1a1aff 133.5px,#2222ff 138px,#2525ff 138.5px,#adadff 150px,#fbfbff 162px,#fbfbff 162.5px,#c9c9ff 170px,#c3c3ff 170.5px,#5151ff 176px,#4b4bff 176.5px,#4747ff 180px,#5f5fff 186px,#9797ff 195.5px,#a1a1ff 211.5px,#4141ff 229.5px,#1212ff 268px)"></i><i style="top:203px;background:linear-gradient(90deg,#7373ff -1px,#7f7fff 2.5px,#6a6aff 5.5px,#6767ff 7.5px,#7b7bff 10.5px,#6a6aff 13.5px,#6464ff 22px,#5757ff 30px,#3838ff 33px,#4c4cff 36px,#3d3dff 44.5px,#6565ff 49.5px,#a3a3ff 52.5px,#9e9eff 53px,#7575ff 55.5px,#6464ff 60px,#5c5cff 71.5px,#5a5aff 81.5px,#6262ff 95.5px,#6060ff 111.5px,#5858ff 121.5px,#6363ff 131.5px,#5e5eff 132px,#2020ff 133px,#1a1aff 133.5px,#2323ff 138px,#b0b0ff 150px,#fdfdff 162px,#c8c8ff 170px,#4c4cff 176px,#4848ff 179.5px,#6262ff 186px,#9797ff 195px,#a1a1ff 211px,#4040ff 229px,#1111ff 268px)"></i><i style="top:205px;background:linear-gradient(90deg,#7373ff -1px,#7f7fff 2px,#7e7eff 2.5px,#6c6cff 5px,#6868ff 7px,#6b6bff 8px,#7a7aff 10px,#7b7bff 10.5px,#6a6aff 13.5px,#6464ff 22px,#5656ff 30px,#3939ff 33px,#4d4dff 36px,#3d3dff 44.5px,#6666ff 49.5px,#a5a5ff 52.5px,#a0a0ff 53px,#7676ff 55.5px,#6464ff 60px,#5c5cff 71.5px,#5a5aff 81.5px,#6363ff 95.5px,#6161ff 111.5px,#5959ff 121.5px,#6464ff 131.5px,#5e5eff 132px,#2020ff 133px,#1a1aff 133.5px,#2222ff 137.5px,#2626ff 138px,#b0b0ff 149.5px,#fcfcff 161.5px,#fcfcff 162px,#cacaff 169.5px,#c4c4ff 170px,#5151ff 175.5px,#4b4bff 176px,#4848ff 179px,#6060ff 185px,#9797ff 194.5px,#a1a1ff 210.5px,#4040ff 228.5px,#1111ff 268px)"></i><i style="top:207px;background:linear-gradient(90deg,#7272ff -1px,#7f7fff 2px,#6b6bff 5px,#6767ff 7px,#6c6cff 8px,#7b7bff 10px,#6b6bff 13px,#6464ff 22px,#5858ff 29.5px,#5656ff 30px,#3c3cff 32.5px,#3a3aff 33px,#4d4dff 36px,#3d3dff 44.5px,#6767ff 49.5px,#a6a6ff 52.5px,#a1a1ff 53px,#7676ff 55.5px,#6464ff 60px,#5c5cff 71.5px,#5b5bff 81.5px,#6363ff 95.5px,#6262ff 111.5px,#5959ff 121.5px,#6464ff 131.5px,#5e5eff 132px,#2020ff 133px,#1a1aff 133.5px,#2323ff 137.5px,#b3b3ff 149.5px,#fefeff 161.5px,#c9c9ff 169.5px,#4c4cff 175.5px,#4a4aff 179px,#6363ff 185px,#9797ff 194px,#a2a2ff 210px,#a1a1ff 210.5px,#4040ff 228px,#1111ff 268px)"></i><i style="top:209px;background:linear-gradient(90deg,#7272ff -1px,#7f7fff 2px,#6b6bff 5px,#6868ff 7px,#7c7cff 10px,#6a6aff 13px,#6565ff 21.5px,#5858ff 29.5px,#5555ff 30px,#3c3cff 32.5px,#3a3aff 33px,#4b4bff 35.5px,#4d4dff 36px,#3d3dff 44.5px,#6767ff 49.5px,#a7a7ff 52.5px,#a3a3ff 53px,#7777ff 55.5px,#6565ff 60px,#5c5cff 71.5px,#5b5bff 81.5px,#6464ff 95.5px,#6363ff 111.5px,#5a5aff 121.5px,#6565ff 131.5px,#5f5fff 132px,#2020ff 133px,#1a1aff 133.5px,#2323ff 137px,#2626ff 137.5px,#b2b2ff 149px,#fdfdff 161px,#fcfcff 161.5px,#ccccff 169px,#c5c5ff 169.5px,#5151ff 175px,#4c4cff 175.5px,#4b4bff 178.5px,#6363ff 184.5px,#9898ff 194px,#a2a2ff 209.5px,#a1a1ff 210px,#3e3eff 228px,#1010ff 268px)"></i><i style="top:211px;background:linear-gradient(90deg,#7272ff -1px,#7e7eff 1.5px,#7e7eff 2px,#6b6bff 5px,#6868ff 7px,#7a7aff 9.5px,#7b7bff 10px,#6a6aff 13px,#6666ff 21.5px,#5858ff 29.5px,#3b3bff 32.5px,#3b3bff 33px,#4c4cff 35.5px,#4d4dff 36px,#3d3dff 44.5px,#6868ff 49.5px,#a9a9ff 52.5px,#a4a4ff 53px,#7878ff 55.5px,#6565ff 60px,#5c5cff 71.5px,#5b5bff 81.5px,#6565ff 95.5px,#6464ff 111.5px,#5b5bff 121.5px,#6565ff 131.5px,#5f5fff 132px,#2020ff 133px,#1b1bff 133.5px,#2424ff 137px,#b6b6ff 149px,#fefeff 161px,#cacaff 169px,#4c4cff 175px,#4b4bff 178px,#4d4dff 178.5px,#6464ff 184px,#9999ff 193.5px,#a2a2ff 209px,#a2a2ff 209.5px,#3e3eff 227.5px,#1010ff 268px)"></i><i style="top:213px;background:linear-gradient(90deg,#7272ff -1px,#7f7fff 1.5px,#7d7dff 2px,#6c6cff 4.5px,#6868ff 6.5px,#6c6cff 7.5px,#7b7bff 9.5px,#7a7aff 10px,#6b6bff 12.5px,#6666ff 21.5px,#5858ff 29.5px,#3b3bff 32.5px,#3c3cff 33px,#4d4dff 35.5px,#4d4dff 36px,#3d3dff 44.5px,#6969ff 49.5px,#aaaaff 52.5px,#a6a6ff 53px,#7979ff 55.5px,#6565ff 60px,#5c5cff 71.5px,#5c5cff 81.5px,#6666ff 95.5px,#6565ff 111.5px,#5c5cff 121.5px,#6565ff 131.5px,#5f5fff 132px,#2020ff 133px,#1b1bff 133.5px,#2323ff 136.5px,#2727ff 137px,#b4b4ff 148.5px,#b9b9ff 149px,#fefeff 160.5px,#fdfdff 161px,#cdcdff 168.5px,#c6c6ff 169px,#5151ff 174.5px,#4c4cff 175px,#4d4dff 178px,#6464ff 183.5px,#9999ff 193px,#a3a3ff 208.5px,#a2a2ff 209px,#3d3dff 227px,#1010ff 266.5px,#0f0fff 268px)"></i><i style="top:215px;background:linear-gradient(90deg,#7272ff -1px,#7f7fff 1.5px,#6c6cff 4.5px,#6868ff 6.5px,#6c6cff 7.5px,#7b7bff 9.5px,#6b6bff 12.5px,#6666ff 21.5px,#5959ff 29.5px,#3b3bff 32.5px,#4e4eff 35.5px,#3d3dff 44.5px,#6969ff 49.5px,#ababff 52.5px,#a6a6ff 53px,#7979ff 55.5px,#6666ff 60px,#5c5cff 72px,#5c5cff 81.5px,#6666ff 96px,#6666ff 111.5px,#5c5cff 121.5px,#6666ff 131.5px,#6060ff 132px,#2020ff 133px,#1b1bff 133.5px,#2323ff 136.5px,#b6b6ff 148.5px,#fefeff 160.5px,#cdcdff 168.5px,#4f4fff 174.5px,#4c4cff 175px,#4c4cff 177.5px,#6666ff 183.5px,#9898ff 192.5px,#a3a3ff 208.5px,#3e3eff 226.5px,#0f0fff 266.5px,#0f0fff 268px)"></i></div><div class="hm" style="left:55.6px;top:277.6px;width:267.3px;height:214.9px"><i style="top:-1px;background:linear-gradient(90deg,#8f8fff -1px,#8080ff 5.5px,#9999ff 16.5px,#9999ff 23.5px,#9e9eff 27px,#a1a1ff 27.5px,#ccccff 29px,#b2b2ff 31px,#b3b3ff 34.5px,#bdbdff 48.5px,#bcbcff 54.5px,#b2b2ff 59.5px,#b1b1ff 64.5px,#6767ff 68.5px,#6161ff 69px,#8c8cff 72px,#a8a8ff 73.5px,#b8b8ff 77.5px,#c2c2ff 82.5px,#c2c2ff 89.5px,#b8b8ff 96.5px,#ccccff 104.5px,#ccccff 112.5px,#d7d7ff 118px,#eaeaff 120.5px,#dadaff 122.5px,#d9d9ff 123px,#ececff 127.5px,#ffffff 128.7px,#ffe3e3 130.5px,#ffd3d3 131px,#ff9191 132.5px,#ff7e7e 133px,#ff4c4c 136.5px,#ff4343 156px,#ff4343 156.5px,#ff7272 166.5px,#ffffff 174.8px,#fcfcff 175px,#aeaeff 178px,#a3a3ff 178.5px,#9090ff 184px,#9090ff 184.5px,#c3c3ff 191.5px,#ffffff 199.3px,#fffefe 199.5px,#ff7f7f 209.5px,#ff5c5c 234.5px,#ff7171 244.5px,#ffffff 256.5px,#fefeff 256.5px,#ceceff 266px,#c6c6ff 268px)"></i><i style="top:1px;background:linear-gradient(90deg,#8f8fff -1px,#8181ff 5.5px,#9a9aff 16.5px,#9a9aff 23.5px,#9f9fff 27px,#a2a2ff 27.5px,#cdcdff 29px,#b3b3ff 31px,#b3b3ff 34.5px,#bdbdff 48.5px,#bcbcff 54.5px,#b3b3ff 59.5px,#b3b3ff 64px,#adadff 64.5px,#9c9cff 65.5px,#6565ff 68.5px,#6767ff 69px,#9292ff 72px,#a4a4ff 73px,#a9a9ff 73.5px,#b8b8ff 77.5px,#c2c2ff 82.5px,#c3c3ff 89px,#b9b9ff 96.5px,#cdcdff 104.5px,#cdcdff 112.5px,#d8d8ff 117.5px,#ececff 120px,#d9d9ff 122.5px,#eeeeff 127.5px,#ffffff 128.6px,#ffe3e3 130.5px,#ffd3d3 131px,#ff9191 132.5px,#ff7e7e 133px,#ff4d4d 136.5px,#ff4343 156px,#ff7070 166px,#ff7575 166.5px,#fffcfc 174.5px,#ffffff 174.6px,#a7a7ff 178px,#a2a2ff 178.5px,#8f8fff 184px,#9191ff 184.5px,#c0c0ff 191px,#fefeff 199px,#ffffff 199.1px,#ff8080 209px,#ff5d5d 233.5px,#ff7373 244px,#ffffff 255.9px,#fefeff 256px,#ceceff 265.5px,#c3c3ff 268px)"></i><i style="top:3px;background:linear-gradient(90deg,#8f8fff -1px,#8282ff 5.5px,#9b9bff 16.5px,#9c9cff 23.5px,#a0a0ff 27px,#a4a4ff 27.5px,#ceceff 29px,#b4b4ff 31px,#b4b4ff 34.5px,#bdbdff 48.5px,#bcbcff 54.5px,#b3b3ff 59.5px,#b3b3ff 63.5px,#b1b1ff 64px,#6b6bff 68px,#6666ff 68.5px,#a8a8ff 73px,#b9b9ff 77.5px,#c3c3ff 82.5px,#c5c5ff 89.5px,#babaff 96.5px,#ceceff 104.5px,#cfcfff 112.5px,#d9d9ff 117px,#ececff 119.5px,#dbdbff 122px,#dbdbff 122.5px,#ececff 127px,#efefff 127.5px,#ffffff 128.6px,#ffe3e3 130.5px,#ffd3d3 131px,#ff9191 132.5px,#ff7e7e 133px,#ff4d4d 136.5px,#ff4343 156px,#ff7171 166px,#ffffff 174.4px,#fefeff 174.5px,#a2a2ff 178px,#8e8eff 184px,#c2c2ff 191px,#fdfdff 198.5px,#ffffff 198.7px,#ff8282 208.5px,#ff7f7f 209px,#ff5d5d 233px,#ff7272 243px,#ff7575 243.5px,#fffdfd 255px,#ffffff 255.5px,#cdcdff 265px,#c1c1ff 268px)"></i><i style="top:5px;background:linear-gradient(90deg,#8f8fff -1px,#8383ff 5.5px,#9c9cff 16.5px,#9d9dff 23.5px,#a2a2ff 27px,#a5a5ff 27.5px,#cfcfff 29px,#b4b4ff 31px,#b4b4ff 34.5px,#bdbdff 48.5px,#bcbcff 54.5px,#b3b3ff 59.5px,#b3b3ff 63.5px,#9595ff 65.5px,#6868ff 68px,#6c6cff 68.5px,#a5a5ff 72.5px,#a9a9ff 73px,#b9b9ff 77.5px,#c3c3ff 82.5px,#c6c6ff 89px,#bbbbff 96.5px,#ceceff 104.5px,#d0d0ff 112.5px,#dadaff 116.5px,#ededff 119px,#ebebff 119.5px,#dedeff 121.5px,#dcdcff 122px,#eeeeff 127px,#f1f1ff 127.5px,#ffffff 128.5px,#ffe2e2 130.5px,#ffd2d2 131px,#ff9191 132.5px,#ff7e7e 133px,#ff4d4d 136.5px,#ff4444 155.5px,#ff4444 156px,#ff7070 165.5px,#ff7474 166px,#fffbfb 174px,#ffffff 174.2px,#f8f8ff 174.5px,#a8a8ff 177.5px,#a1a1ff 178px,#8e8eff 183.5px,#8f8fff 184px,#bfbfff 190.5px,#ffffff 198.5px,#ffffff 198.5px,#ff7f7f 208.5px,#ff5d5d 232.5px,#ff7373 242.5px,#ff7777 243px,#fffefe 254.5px,#ffffff 254.8px,#cdcdff 264.5px,#bebeff 268px)"></i><i style="top:7px;background:linear-gradient(90deg,#8f8fff -1px,#8484ff 5.5px,#9d9dff 16.5px,#9e9eff 23.5px,#a3a3ff 27px,#a6a6ff 27.5px,#d1d1ff 29px,#b5b5ff 31px,#b5b5ff 34.5px,#bdbdff 48.5px,#bcbcff 54.5px,#b3b3ff 59.5px,#b3b3ff 63px,#b1b1ff 63.5px,#6f6fff 67.5px,#6b6bff 68px,#a3a3ff 72px,#a8a8ff 72.5px,#b9b9ff 77.5px,#c3c3ff 82.5px,#c7c7ff 88.5px,#bcbcff 96.5px,#cfcfff 104.5px,#d1d1ff 112.5px,#dbdbff 116px,#ededff 118.5px,#ededff 119px,#e0e0ff 121px,#dedeff 122px,#efefff 127px,#f2f2ff 127.5px,#ffffff 128.4px,#ffe2e2 130.5px,#ffd2d2 131px,#ff9191 132.5px,#ff7e7e 133px,#ff4d4d 136.5px,#ff4444 155.5px,#ff7171 165.5px,#ff7878 166px,#ffffff 174px,#ffffff 174px,#a2a2ff 177.5px,#8d8dff 183.5px,#c1c1ff 190.5px,#fdfdff 198px,#ffffff 198.1px,#ff8080 208px,#ff5e5e 232px,#ff7474 242px,#ffffff 254px,#ffffff 254px,#ccccff 264px,#bbbbff 268px)"></i><i style="top:9px;background:linear-gradient(90deg,#8f8fff -1px,#8585ff 5.5px,#9e9eff 16.5px,#a0a0ff 23.5px,#a4a4ff 27px,#a8a8ff 27.5px,#d2d2ff 29px,#b5b5ff 31px,#b5b5ff 34.5px,#bebeff 48.5px,#bcbcff 54.5px,#b3b3ff 59.5px,#b4b4ff 63px,#8e8eff 65.5px,#6c6cff 67.5px,#7070ff 68px,#a8a8ff 72px,#babaff 77.5px,#c4c4ff 82.5px,#c8c8ff 88px,#bebeff 96.5px,#d0d0ff 104.5px,#d2d2ff 112.5px,#dcdcff 115.5px,#ebebff 117.5px,#efefff 118.5px,#e0e0ff 121px,#e1e1ff 122px,#f1f1ff 127px,#f4f4ff 127.5px,#ffffff 128.3px,#ffe1e1 130.5px,#ffd2d2 131px,#ff9191 132.5px,#ff7e7e 133px,#ff4d4d 136.5px,#ff4444 155.5px,#ff7373 165.5px,#fffafa 173.5px,#ffffff 173.7px,#f9f9ff 174px,#a9a9ff 177px,#a1a1ff 177.5px,#8d8dff 183px,#8e8eff 183.5px,#bebeff 190px,#ffffff 197.9px,#fffefe 198px,#ff8282 207.5px,#ff7f7f 208px,#ff5e5e 231.5px,#ff7676 241.5px,#ffffff 253.5px,#ffffff 253.5px,#ccccff 263.5px,#b9b9ff 268px)"></i><i style="top:11px;background:linear-gradient(90deg,#8f8fff -1px,#8787ff 5.5px,#9f9fff 16.5px,#a1a1ff 23.5px,#a6a6ff 27px,#a9a9ff 27.5px,#d3d3ff 29px,#b6b6ff 31px,#bebeff 48.5px,#bcbcff 54.5px,#b3b3ff 59.5px,#b4b4ff 62.5px,#b1b1ff 63px,#7272ff 67px,#6f6fff 67.5px,#a7a7ff 71.5px,#ababff 72px,#aaaaff 72.5px,#babaff 77.5px,#c4c4ff 82.5px,#c9c9ff 87.5px,#bfbfff 96.5px,#d1d1ff 104.5px,#d3d3ff 112.5px,#dedeff 115.5px,#ebebff 117px,#f0f0ff 118px,#e2e2ff 120.5px,#e3e3ff 122px,#f2f2ff 127px,#f5f5ff 127.5px,#ffffff 128.2px,#ffe1e1 130.5px,#ffd1d1 131px,#ff9191 132.5px,#ff7e7e 133px,#ff4e4e 136.5px,#ff4545 155.5px,#ff7171 165px,#ff7676 165.5px,#fffefe 173.5px,#ffffff 173.5px,#a3a3ff 177px,#8c8cff 183px,#c0c0ff 190px,#fefeff 197.5px,#ffffff 197.6px,#ff7f7f 207.5px,#ff5e5e 231px,#ff7777 241px,#ffffff 252.9px,#fefeff 253px,#ceceff 262.5px,#b6b6ff 268px)"></i><i style="top:13px;background:linear-gradient(90deg,#8f8fff -1px,#8888ff 5.5px,#a0a0ff 16.5px,#a2a2ff 23.5px,#a7a7ff 27px,#aaaaff 27.5px,#d4d4ff 29px,#b6b6ff 31px,#bebeff 48.5px,#bcbcff 54.5px,#b3b3ff 59.5px,#b4b4ff 62.5px,#8f8fff 65px,#6f6fff 67px,#7474ff 67.5px,#acacff 71.5px,#ababff 72.5px,#babaff 77.5px,#cacaff 86.5px,#c0c0ff 96.5px,#d1d1ff 104.5px,#d4d4ff 112.5px,#dfdfff 115px,#f1f1ff 117.5px,#e4e4ff 120px,#e5e5ff 122px,#f4f4ff 127px,#f7f7ff 127.5px,#ffffff 128.1px,#ffe0e0 130.5px,#ffd1d1 131px,#ff9191 132.5px,#ff7e7e 133px,#ff4e4e 136.5px,#ff4545 155px,#ff4646 155.5px,#ff7272 165px,#fff9f9 173px,#ffffff 173.3px,#fbfbff 173.5px,#aaaaff 176.5px,#a0a0ff 177px,#8c8cff 182.5px,#8c8cff 183px,#bebeff 189.5px,#fcfcff 197px,#ffffff 197.2px,#ff8080 207px,#ff5e5e 230.5px,#ff7878 240.5px,#fffcfc 252px,#ffffff 252.3px,#fefeff 252.5px,#cdcdff 262px,#b3b3ff 268px)"></i><i style="top:15px;background:linear-gradient(90deg,#8f8fff -1px,#8989ff 5.5px,#a1a1ff 16.5px,#a4a4ff 23.5px,#a8a8ff 27px,#acacff 27.5px,#d5d5ff 29px,#b7b7ff 31px,#bebeff 48.5px,#bcbcff 54.5px,#b3b3ff 59.5px,#b4b4ff 62px,#b1b1ff 62.5px,#7575ff 66.5px,#7272ff 67px,#aaaaff 71px,#aeaeff 71.5px,#adadff 72.5px,#bbbbff 77.5px,#cbcbff 86px,#c1c1ff 96.5px,#d2d2ff 104.5px,#d6d6ff 112.5px,#dfdfff 114.5px,#f1f1ff 117px,#e7e7ff 119.5px,#e7e7ff 122px,#f5f5ff 127px,#f8f8ff 127.5px,#ffffff 128px,#ffe0e0 130.5px,#ffd1d1 131px,#ff9191 132.5px,#ff7e7e 133px,#ff4e4e 136.5px,#ff4545 155px,#ff7575 165px,#fffdfd 173px,#ffffff 173.1px,#a3a3ff 176.5px,#9f9fff 177px,#8b8bff 182.5px,#bfbfff 189.5px,#ffffff 197px,#ffffff 197px,#ff8282 206.5px,#ff7f7f 207px,#ff5f5f 230px,#ff7a7a 240px,#fffdfd 251.5px,#ffffff 251.8px,#cdcdff 261.5px,#b0b0ff 268px)"></i><i style="top:17px;background:linear-gradient(90deg,#8f8fff -1px,#8a8aff 5.5px,#a2a2ff 16.5px,#a5a5ff 23.5px,#aaaaff 27px,#adadff 27.5px,#d6d6ff 29px,#b8b8ff 31px,#bebeff 48.5px,#bcbcff 54.5px,#b3b3ff 59.5px,#b4b4ff 62px,#7272ff 66.5px,#afafff 71px,#aeaeff 72.5px,#bbbbff 77.5px,#ccccff 85.5px,#c8c8ff 88px,#c2c2ff 96.5px,#d3d3ff 104.5px,#d7d7ff 112px,#e2e2ff 114.5px,#f0f0ff 116.5px,#f1f1ff 117px,#e8e8ff 119.5px,#e9e9ff 122px,#f7f7ff 127px,#fafaff 127.5px,#ffffff 127.9px,#ffdfdf 130.5px,#ffd0d0 131px,#ff9090 132.5px,#ff7e7e 133px,#ff4e4e 136.5px,#ff4646 155px,#ff7373 164.5px,#ff7878 165px,#ffffff 172.8px,#fcfcff 173px,#aaaaff 176px,#9f9fff 176.5px,#8b8bff 182px,#8b8bff 182.5px,#bdbdff 189px,#fdfdff 196.5px,#ffffff 196.6px,#ff7f7f 206.5px,#ff6060 229px,#ff7c7c 239.5px,#ffffff 251px,#ffffff 251.1px,#ccccff 261px,#adadff 268px)"></i><i style="top:19px;background:linear-gradient(90deg,#8f8fff -1px,#8b8bff 5.5px,#a3a3ff 16.5px,#a6a6ff 23.5px,#ababff 27px,#aeaeff 27.5px,#d7d7ff 29px,#b8b8ff 31px,#bfbfff 48.5px,#bcbcff 54.5px,#b3b3ff 59.5px,#b4b4ff 61.5px,#b1b1ff 62px,#7777ff 66px,#7676ff 66.5px,#adadff 70.5px,#b1b1ff 71px,#afafff 72.5px,#cdcdff 85px,#c8c8ff 87.5px,#c9c9ff 89.5px,#c3c3ff 96.5px,#d4d4ff 104.5px,#d9d9ff 112px,#e1e1ff 114px,#f0f0ff 116px,#f2f2ff 116.5px,#eaeaff 119px,#ebebff 122px,#f9f9ff 127px,#fbfbff 127.5px,#ffffff 127.8px,#ffdfdf 130.5px,#ffd0d0 131px,#ff9090 132.5px,#ff7e7e 133px,#ff4e4e 136.5px,#ff4646 154.5px,#ff4747 155px,#ff7474 164.5px,#fffcfc 172.5px,#ffffff 172.6px,#a4a4ff 176px,#9e9eff 176.5px,#8a8aff 182px,#8c8cff 182.5px,#bebeff 189px,#ffffff 196.4px,#fffefe 196.5px,#ff8080 206px,#ff6060 228.5px,#ff7b7b 238.5px,#ff7e7e 239px,#ffffff 250.5px,#ffffff 250.5px,#ccccff 260.5px,#aaaaff 268px)"></i><i style="top:21px;background:linear-gradient(90deg,#8f8fff -1px,#8c8cff 5.5px,#a4a4ff 16.5px,#a8a8ff 23.5px,#acacff 27px,#afafff 27.5px,#d9d9ff 29px,#b9b9ff 31px,#bfbfff 48.5px,#bcbcff 54.5px,#b3b3ff 59.5px,#b4b4ff 61.5px,#7575ff 66px,#b2b2ff 70.5px,#b0b0ff 72.5px,#c5c5ff 82px,#ceceff 84.5px,#c9c9ff 87px,#cacaff 89.5px,#c4c4ff 96.5px,#d4d4ff 104.5px,#d8d8ff 110.5px,#e0e0ff 113.5px,#f2f2ff 116px,#ececff 118.5px,#ededff 122px,#fafaff 127px,#fcfcff 127.5px,#ffffff 127.7px,#ffdfdf 130.5px,#ffd0d0 131px,#ff9090 132.5px,#ff7e7e 133px,#ff4f4f 136.5px,#ff4747 154.5px,#ff7373 164px,#ff7777 164.5px,#ffffff 172.4px,#fdfdff 172.5px,#9f9fff 176px,#8989ff 182px,#bcbcff 188.5px,#fefeff 196px,#ffffff 196.1px,#ff8282 205.5px,#ff7f7f 206px,#ff6060 228px,#ff7c7c 238px,#ff7f7f 238.5px,#ffffff 249.9px,#fefeff 250px,#cbcbff 260px,#a7a7ff 268px)"></i><i style="top:23px;background:linear-gradient(90deg,#8f8fff -1px,#8d8dff 5.5px,#a4a4ff 16.5px,#aeaeff 27px,#b1b1ff 27.5px,#dadaff 29px,#b9b9ff 31px,#bfbfff 48.5px,#bcbcff 54.5px,#b3b3ff 59.5px,#b4b4ff 61px,#b1b1ff 61.5px,#7a7aff 65.5px,#7979ff 66px,#b0b0ff 70px,#b4b4ff 70.5px,#b1b1ff 72.5px,#c5c5ff 81.5px,#cfcfff 84px,#c9c9ff 86.5px,#cbcbff 89.5px,#c5c5ff 96.5px,#d5d5ff 104.5px,#d8d8ff 109.5px,#dfdfff 113px,#f2f2ff 115.5px,#ededff 118px,#efefff 122px,#fcfcff 127px,#fefeff 127.5px,#ffffff 127.6px,#ffdede 130.5px,#ffcfcf 131px,#ff9090 132.5px,#ff7e7e 133px,#ff4f4f 136.5px,#ff4747 154.5px,#ff7474 164px,#ff7a7a 164.5px,#fffbfb 172px,#ffffff 172.2px,#f7f7ff 172.5px,#a5a5ff 175.5px,#9e9eff 176px,#8989ff 181.5px,#8a8aff 182px,#bdbdff 188.5px,#fcfcff 195.5px,#ffffff 195.7px,#ff7f7f 205.5px,#ff6161 227.5px,#ff7d7d 237.5px,#ffffff 249.4px,#fefeff 249.5px,#cdcdff 259px,#a3a3ff 268px)"></i><i style="top:25px;background:linear-gradient(90deg,#8f8fff -1px,#8f8fff 5.5px,#a5a5ff 16.5px,#afafff 27px,#b2b2ff 27.5px,#dbdbff 29px,#babaff 31px,#bfbfff 48.5px,#bcbcff 54.5px,#b3b3ff 59.5px,#b4b4ff 61px,#7777ff 65.5px,#b5b5ff 70px,#b2b2ff 72.5px,#c3c3ff 80.5px,#cfcfff 83.5px,#c9c9ff 86px,#ccccff 89.5px,#c7c7ff 96.5px,#d6d6ff 104.5px,#d9d9ff 109px,#dfdfff 111.5px,#dfdfff 112.5px,#f2f2ff 115px,#efefff 117.5px,#f2f2ff 122.5px,#fdfdff 127px,#ffffff 127.4px,#ffffff 127.5px,#ffdede 130.5px,#ffcfcf 131px,#ff9090 132.5px,#ff7e7e 133px,#ff4f4f 136.5px,#ff4747 154px,#ff4747 154.5px,#ff7575 164px,#ffffff 172px,#ffffff 172px,#9e9eff 175.5px,#8787ff 181.5px,#bfbfff 188.5px,#ffffff 195.5px,#ffffff 195.5px,#ff8080 205px,#ff6161 227px,#ff7f7f 237px,#fffdfd 248.5px,#ffffff 248.8px,#cdcdff 258.5px,#a0a0ff 268px)"></i><i style="top:27px;background:linear-gradient(90deg,#8f8fff -1px,#9090ff 5.5px,#a6a6ff 16.5px,#b0b0ff 27px,#b3b3ff 27.5px,#dcdcff 29px,#babaff 31px,#bfbfff 48.5px,#bcbcff 54.5px,#b3b3ff 59px,#b3b3ff 60.5px,#b0b0ff 61px,#7c7cff 65px,#7c7cff 65.5px,#a6a6ff 68.5px,#b3b3ff 69.5px,#b6b6ff 70px,#b3b3ff 72.5px,#bcbcff 77px,#c2c2ff 80px,#d0d0ff 83px,#c9c9ff 85.5px,#ccccff 89.5px,#c8c8ff 96.5px,#d7d7ff 104.5px,#d9d9ff 108.5px,#e1e1ff 111px,#dfdfff 112px,#e1e1ff 112.5px,#f1f1ff 114.5px,#efefff 116.5px,#f4f4ff 122.5px,#ffffff 127px,#ffffff 127px,#fffdfd 127.5px,#ffdddd 130.5px,#ffcfcf 131px,#ff9090 132.5px,#ff7e7e 133px,#ff4f4f 136.5px,#ff4848 154px,#ff4949 154.5px,#ff7474 163.5px,#ff7979 164px,#fffafa 171.5px,#ffffff 171.7px,#f9f9ff 172px,#a5a5ff 175px,#9d9dff 175.5px,#8888ff 181px,#8989ff 181.5px,#bcbcff 188px,#fdfdff 195px,#ffffff 195.2px,#ff8282 204.5px,#ff7f7f 205px,#ff6161 226.5px,#ff8080 236.5px,#fffefe 248px,#ffffff 248.1px,#ccccff 258px,#9d9dff 268px)"></i><i style="top:29px;background:linear-gradient(90deg,#8f8fff -1px,#9191ff 5.5px,#a7a7ff 16.5px,#b2b2ff 27px,#b5b5ff 27.5px,#ddddff 29px,#bbbbff 31px,#c0c0ff 48.5px,#bcbcff 54.5px,#b3b3ff 59px,#b3b3ff 60.5px,#7a7aff 65px,#b8b8ff 69.5px,#b4b4ff 72.5px,#bdbdff 77.5px,#c2c2ff 79.5px,#d0d0ff 82.5px,#cacaff 85px,#cdcdff 89.5px,#c9c9ff 96.5px,#d7d7ff 104.5px,#dadaff 108px,#e2e2ff 110.5px,#e1e1ff 112px,#f0f0ff 114px,#f1f1ff 114.5px,#f0f0ff 116.5px,#f3f3ff 117.5px,#f6f6ff 122.5px,#ffffff 126.4px,#fffefe 127px,#fffcfc 127.5px,#ffdddd 130.5px,#ffcece 131px,#ff9090 132.5px,#ff7e7e 133px,#ff4f4f 136.5px,#ff4848 154px,#ff7575 163.5px,#fffefe 171.5px,#ffffff 171.5px,#9f9fff 175px,#8686ff 181px,#bebeff 188px,#ffffff 194.9px,#fffefe 195px,#ff7f7f 204.5px,#ff6262 226px,#ff8181 236px,#ffffff 247.5px,#ffffff 247.5px,#9999ff 268px)"></i><i style="top:31px;background:linear-gradient(90deg,#8f8fff -1px,#9292ff 5.5px,#a8a8ff 16.5px,#b3b3ff 27px,#b6b6ff 27.5px,#dedeff 29px,#bcbcff 31px,#c0c0ff 48.5px,#bcbcff 54.5px,#b3b3ff 60px,#b0b0ff 60.5px,#7d7dff 64.5px,#7f7fff 65px,#afafff 68.5px,#b6b6ff 69px,#b8b8ff 69.5px,#b6b6ff 72.5px,#bebeff 77.5px,#c1c1ff 79px,#cfcfff 81.5px,#d0d0ff 82px,#cacaff 84.5px,#ceceff 89.5px,#cacaff 96.5px,#d8d8ff 104.5px,#dbdbff 107.5px,#e2e2ff 110px,#e1e1ff 111.5px,#f1f1ff 114px,#efefff 116px,#f5f5ff 117.5px,#f8f8ff 122.5px,#ffffff 125.7px,#fffcfc 127px,#fffafa 127.5px,#ffdcdc 130.5px,#ffcece 131px,#ff9090 132.5px,#ff7e7e 133px,#ff4f4f 136.5px,#ff4848 154px,#ff7878 163.5px,#fff9f9 171px,#ffffff 171.3px,#fafaff 171.5px,#a6a6ff 174.5px,#9c9cff 175px,#8787ff 180.5px,#8787ff 181px,#bbbbff 187.5px,#fefeff 194.5px,#ffffff 194.6px,#ff8080 204px,#ff6262 225.5px,#ff8383 235.5px,#ffffff 246.9px,#fefeff 247px,#9696ff 268px)"></i><i style="top:33px;background:linear-gradient(90deg,#8f8fff -1px,#9393ff 5.5px,#a9a9ff 16.5px,#b4b4ff 27px,#b7b7ff 27.5px,#dfdfff 29px,#bcbcff 31px,#c0c0ff 48.5px,#bcbcff 54.5px,#b3b3ff 60px,#7c7cff 64.5px,#babaff 69px,#b7b7ff 72.5px,#bebeff 77.5px,#c0c0ff 78.5px,#d0d0ff 81px,#cacaff 84px,#cfcfff 89.5px,#cbcbff 96.5px,#dbdbff 106.5px,#e2e2ff 109px,#e1e1ff 111px,#f1f1ff 113.5px,#efefff 115.5px,#f7f7ff 117.5px,#fafaff 122.5px,#ffffff 124.9px,#fffafa 127px,#fff9f9 127.5px,#ffdcdc 130.5px,#ffcece 131px,#ff9090 132.5px,#ff7e7e 133px,#ff5050 136.5px,#ff4949 153.5px,#ff4949 154px,#ff7575 163px,#ff7b7b 163.5px,#fffdfd 171px,#ffffff 171.1px,#a0a0ff 174.5px,#9b9bff 175px,#8686ff 180.5px,#bdbdff 187.5px,#fcfcff 194px,#ffffff 194.2px,#ff8282 203.5px,#ff7f7f 204px,#ff6363 225px,#ff8585 235px,#ffffff 246.4px,#fefeff 246.5px,#9292ff 268px)"></i><i style="top:35px;background:linear-gradient(90deg,#8f8fff -1px,#9494ff 5.5px,#aaaaff 16.5px,#b6b6ff 27px,#b9b9ff 27.5px,#e1e1ff 29px,#bdbdff 31px,#c0c0ff 48.5px,#bcbcff 54.5px,#b3b3ff 59.5px,#afafff 60px,#7f7fff 64px,#8181ff 64.5px,#b8b8ff 68.5px,#bbbbff 69px,#b8b8ff 72.5px,#bfbfff 77.5px,#c0c0ff 78px,#d0d0ff 80.5px,#cacaff 83px,#cfcfff 89.5px,#ccccff 96.5px,#dbdbff 106px,#e3e3ff 108.5px,#e1e1ff 110.5px,#f1f1ff 113px,#efefff 115.5px,#f8f8ff 117.5px,#fcfcff 122.5px,#ffffff 124px,#fff9f9 127px,#fff7f7 127.5px,#ffdbdb 130.5px,#ffcdcd 131px,#ff9090 132.5px,#ff7e7e 133px,#ff5050 136.5px,#ff4949 153.5px,#ff7777 163px,#ffffff 170.8px,#fcfcff 171px,#a7a7ff 174px,#9c9cff 174.5px,#8686ff 180px,#8686ff 180.5px,#bbbbff 187px,#ffffff 194px,#ffffff 194px,#ff7f7f 203.5px,#ff6363 224px,#ff6363 224.5px,#ff8686 234.5px,#fffdfd 245.5px,#ffffff 245.8px,#fdfdff 246px,#8f8fff 268px)"></i><i style="top:37px;background:linear-gradient(90deg,#8f8fff -1px,#9595ff 5.5px,#ababff 16.5px,#b7b7ff 27px,#babaff 27.5px,#e2e2ff 29px,#bdbdff 31px,#c0c0ff 48.5px,#bcbcff 54.5px,#b2b2ff 59.5px,#7e7eff 64px,#bcbcff 68.5px,#b9b9ff 72.5px,#bfbfff 77.5px,#d0d0ff 80px,#c9c9ff 82.5px,#d0d0ff 89.5px,#cdcdff 96.5px,#dbdbff 105.5px,#e5e5ff 108px,#e1e1ff 110px,#f0f0ff 112.5px,#efefff 115px,#fafaff 117.5px,#fefeff 122.5px,#ffffff 123px,#fff6f6 127.5px,#ffdbdb 130.5px,#ffcdcd 131px,#ff9090 132.5px,#ff7e7e 133px,#ff5050 136.5px,#ff4a4a 153.5px,#ff7676 162.5px,#ff7a7a 163px,#fffcfc 170.5px,#ffffff 170.6px,#a0a0ff 174px,#9b9bff 174.5px,#8585ff 180px,#8787ff 180.5px,#bdbdff 187px,#fdfdff 193.5px,#ffffff 193.7px,#ff8080 203px,#ff6363 223.5px,#ff8585 233.5px,#ff8888 234px,#fffefe 245px,#ffffff 245.2px,#8b8bff 268px)"></i><i style="top:39px;background:linear-gradient(90deg,#8f8fff -1px,#9696ff 5.5px,#acacff 16.5px,#b8b8ff 27px,#bbbbff 27.5px,#e3e3ff 29px,#bebeff 31px,#c0c0ff 48.5px,#bcbcff 54.5px,#b3b3ff 59px,#8181ff 63.5px,#8383ff 64px,#babaff 68px,#bdbdff 68.5px,#babaff 72.5px,#bfbfff 77px,#d1d1ff 79.5px,#c9c9ff 82px,#d1d1ff 89.5px,#cfcfff 96.5px,#dcdcff 105px,#e5e5ff 107.5px,#e2e2ff 110px,#efefff 112px,#eeeeff 114.5px,#fcfcff 117.5px,#ffffff 121px,#fffefe 122.5px,#fff4f4 127.5px,#ffdbdb 130.5px,#ffcdcd 131px,#ff9090 132.5px,#ff7e7e 133px,#ff5050 136.5px,#ff4a4a 153px,#ff4a4a 153.5px,#ff7777 162.5px,#ff7d7d 163px,#ffffff 170.4px,#fdfdff 170.5px,#9b9bff 174px,#8585ff 179.5px,#8484ff 180px,#babaff 186.5px,#ffffff 193.4px,#fffefe 193.5px,#ff8282 202.5px,#ff7f7f 203px,#ff6464 223px,#ff8686 233px,#ff8a8a 233.5px,#ffffff 244.5px,#ffffff 244.5px,#8787ff 268px)"></i><i style="top:41px;background:linear-gradient(90deg,#8f8fff -1px,#9898ff 5.5px,#adadff 16.5px,#b9b9ff 27px,#bdbdff 27.5px,#e4e4ff 29px,#bebeff 31px,#c1c1ff 48.5px,#bcbcff 54.5px,#b4b4ff 58.5px,#b2b2ff 59px,#8484ff 63px,#8080ff 63.5px,#bdbdff 68px,#bbbbff 72.5px,#bfbfff 76.5px,#d1d1ff 79px,#c8c8ff 81.5px,#d2d2ff 89.5px,#d0d0ff 96.5px,#dbdbff 104px,#e6e6ff 107px,#e2e2ff 109.5px,#efefff 111.5px,#ededff 114px,#fefeff 117.5px,#ffffff 118.5px,#fffcfc 122.5px,#fff3f3 127.5px,#ffdada 130.5px,#ffcccc 131px,#ff9090 132.5px,#ff7e7e 133px,#ff5050 136.5px,#ff4a4a 153px,#ff7878 162.5px,#fffbfb 170px,#ffffff 170.2px,#f7f7ff 170.5px,#a1a1ff 173.5px,#9a9aff 174px,#8484ff 179.5px,#8585ff 180px,#bcbcff 186.5px,#fefeff 193px,#ffffff 193.1px,#ff8585 202px,#ff7f7f 202.5px,#ff6464 222.5px,#ff8787 232.5px,#ffffff 243.9px,#fefeff 244px,#8484ff 268px)"></i><i style="top:43px;background:linear-gradient(90deg,#8f8fff -1px,#9999ff 5.5px,#aeaeff 16.5px,#bbbbff 27px,#bebeff 27.5px,#e5e5ff 29px,#bfbfff 31px,#c1c1ff 48.5px,#bcbcff 54.5px,#b4b4ff 58.5px,#8282ff 63px,#8585ff 63.5px,#bbbbff 67.5px,#bebeff 68px,#bcbcff 72.5px,#bfbfff 75.5px,#c0c0ff 76px,#d1d1ff 78.5px,#c7c7ff 81px,#d2d2ff 89.5px,#d1d1ff 96.5px,#dbdbff 103.5px,#e6e6ff 106.5px,#e2e2ff 109px,#f1f1ff 111.5px,#ededff 112.5px,#eeeeff 114px,#ffffff 117.3px,#fffefe 117.5px,#fffafa 122.5px,#fff1f1 127.5px,#ffdada 130.5px,#ffcccc 131px,#ff9090 132.5px,#ff7e7e 133px,#ff5151 136.5px,#ff4b4b 153px,#ff7777 162px,#ff7c7c 162.5px,#ffffff 170px,#ffffff 170px,#9b9bff 173.5px,#8282ff 179.5px,#b9b9ff 186px,#fbfbff 192.5px,#ffffff 192.8px,#ff8080 202px,#ff6464 222px,#ff8989 232px,#ffffff 243.4px,#fefeff 243.5px,#8181ff 268px)"></i><i style="top:45px;background:linear-gradient(90deg,#8f8fff -1px,#afafff 16.5px,#bcbcff 27px,#bfbfff 27.5px,#e6e6ff 29px,#c0c0ff 31px,#c1c1ff 48.5px,#bcbcff 54.5px,#b5b5ff 58px,#b3b3ff 58.5px,#a5a5ff 59.5px,#8585ff 62.5px,#8282ff 63px,#bebeff 67.5px,#bfbfff 75px,#c0c0ff 75.5px,#d0d0ff 78px,#c7c7ff 80.5px,#d3d3ff 89.5px,#d2d2ff 96.5px,#dbdbff 103px,#e6e6ff 105.5px,#e2e2ff 108.5px,#f2f2ff 111px,#ececff 112.5px,#ececff 113.5px,#ffffff 117px,#fffcfc 117.5px,#fff8f8 122.5px,#fff0f0 127.5px,#ffd9d9 130.5px,#ffcccc 131px,#ff9090 132.5px,#ff7e7e 133px,#ff5151 136.5px,#ff4b4b 153px,#ff7878 162px,#fffafa 169.5px,#ffffff 169.7px,#f8f8ff 170px,#a2a2ff 173px,#9999ff 173.5px,#8383ff 179px,#8484ff 179.5px,#bbbbff 186px,#fefeff 192.5px,#ffffff 192.5px,#ff8282 201.5px,#ff7f7f 202px,#ff6565 221.5px,#ff8a8a 231.5px,#ffffff 242.9px,#fdfdff 243px,#8383ff 266.5px,#7e7eff 268px)"></i><i style="top:47px;background:linear-gradient(90deg,#8f8fff -1px,#b0b0ff 16.5px,#bdbdff 27px,#c1c1ff 27.5px,#e7e7ff 29px,#c8c8ff 30.5px,#c0c0ff 31px,#c1c1ff 48.5px,#bcbcff 54.5px,#b5b5ff 58px,#a2a2ff 59.5px,#8383ff 62.5px,#8686ff 63px,#bcbcff 67px,#bebeff 67.5px,#bfbfff 74.5px,#cfcfff 77px,#d0d0ff 77.5px,#c6c6ff 80px,#d4d4ff 89.5px,#d3d3ff 96.5px,#dcdcff 102.5px,#e7e7ff 105px,#e2e2ff 108px,#f2f2ff 110.5px,#ebebff 112.5px,#ebebff 113px,#ffffff 116.6px,#fffafa 117.5px,#ffeeee 127.5px,#ffd9d9 130.5px,#ffcbcb 131px,#ff8f8f 132.5px,#ff7e7e 133px,#ff5151 136.5px,#ff4c4c 152.5px,#ff4c4c 153px,#ff7a7a 162px,#fffefe 169.5px,#ffffff 169.5px,#9b9bff 173px,#8181ff 179px,#b8b8ff 185.5px,#fcfcff 192px,#ffffff 192.2px,#ff8585 201px,#ff7f7f 201.5px,#ff6565 221px,#ff8c8c 231px,#fffefe 242px,#ffffff 242.2px,#fdfdff 242.5px,#8282ff 266px,#7b7bff 268px)"></i><i style="top:49px;background:linear-gradient(90deg,#8f8fff -1px,#b0b0ff 16px,#bfbfff 27px,#c2c2ff 27.5px,#e8e8ff 29px,#c9c9ff 30.5px,#c1c1ff 31px,#c1c1ff 48.5px,#bcbcff 54.5px,#b6b6ff 57.5px,#b4b4ff 58px,#a0a0ff 59.5px,#8686ff 62px,#8484ff 62.5px,#bebeff 67px,#c0c0ff 68.5px,#c0c0ff 74px,#d1d1ff 76.5px,#d0d0ff 77px,#c6c6ff 79px,#c5c5ff 79.5px,#d5d5ff 89.5px,#d4d4ff 96.5px,#dcdcff 102px,#e8e8ff 104.5px,#e3e3ff 107.5px,#f1f1ff 110px,#eaeaff 112.5px,#ffffff 116.3px,#fff8f8 117.5px,#ffeded 127.5px,#ffd8d8 130.5px,#ffcbcb 131px,#ff8f8f 132.5px,#ff7e7e 133px,#ff5151 136.5px,#ff4c4c 152.5px,#ff7878 161.5px,#ff7e7e 162px,#fff9f9 169px,#ffffff 169.3px,#fafaff 169.5px,#a3a3ff 172.5px,#9999ff 173px,#8282ff 178.5px,#8282ff 179px,#babaff 185.5px,#ffffff 191.9px,#fffefe 192px,#ff8080 201px,#ff6666 220.5px,#ff8d8d 230.5px,#ffffff 241.5px,#ffffff 241.5px,#8181ff 265.5px,#7878ff 268px)"></i><i style="top:51px;background:linear-gradient(90deg,#8f8fff -1px,#a7a7ff 10.5px,#c0c0ff 27px,#c3c3ff 27.5px,#eaeaff 29px,#cacaff 30.5px,#c1c1ff 31px,#c2c2ff 48.5px,#bcbcff 54.5px,#b6b6ff 57.5px,#9d9dff 59.5px,#8484ff 62px,#8888ff 62.5px,#bdbdff 66.5px,#bfbfff 67px,#c1c1ff 68.5px,#c1c1ff 73.5px,#d2d2ff 76px,#d1d1ff 76.5px,#c5c5ff 78.5px,#c5c5ff 79px,#d6d6ff 89.5px,#d5d5ff 96.5px,#dbdbff 101px,#e8e8ff 104px,#e3e3ff 106px,#e3e3ff 107px,#f1f1ff 109.5px,#f2f2ff 110px,#eaeaff 112.5px,#ffffff 116px,#fff6f6 117.5px,#ffebeb 127.5px,#ffd8d8 130.5px,#ffcbcb 131px,#ff8f8f 132.5px,#ff7e7e 133px,#ff5151 136.5px,#ff4c4c 152.5px,#ff7a7a 161.5px,#fffdfd 169px,#ffffff 169.1px,#9c9cff 172.5px,#9898ff 173px,#8080ff 178.5px,#b7b7ff 185px,#fdfdff 191.5px,#ffffff 191.6px,#ff8282 200.5px,#ff7f7f 201px,#ff6666 220px,#ff8f8f 230px,#ffffff 241px,#ffffff 241px,#ccccff 251px,#8282ff 264.5px,#7474ff 268px)"></i><i style="top:53px;background:linear-gradient(90deg,#8f8fff -1px,#a9a9ff 10.5px,#c2c2ff 27px,#c5c5ff 27.5px,#ebebff 29px,#cbcbff 30.5px,#c2c2ff 31px,#c2c2ff 48.5px,#bdbdff 54.5px,#b8b8ff 57px,#b5b5ff 57.5px,#9b9bff 59.5px,#8888ff 61.5px,#8686ff 62px,#bfbfff 66.5px,#c2c2ff 68.5px,#c2c2ff 73px,#d4d4ff 75.5px,#c4c4ff 78px,#d7d7ff 89.5px,#d7d7ff 96.5px,#dcdcff 100.5px,#e8e8ff 103.5px,#e3e3ff 105.5px,#e3e3ff 106.5px,#f2f2ff 109.5px,#eaeaff 112px,#ebebff 112.5px,#ffffff 115.8px,#fff5f5 117.5px,#ffeaea 127.5px,#ffd7d7 130.5px,#ffcaca 131px,#ff8f8f 132.5px,#ff7e7e 133px,#ff5252 136.5px,#ff4d4d 152px,#ff4d4d 152.5px,#ff7d7d 161.5px,#ffffff 168.8px,#fbfbff 169px,#a4a4ff 172px,#9898ff 172.5px,#8181ff 178px,#8181ff 178.5px,#b9b9ff 185px,#fbfbff 191px,#ffffff 191.3px,#ff7f7f 200.5px,#ff6666 219px,#ff6767 219.5px,#ff9191 229.5px,#ffffff 240.4px,#fefeff 240.5px,#cbcbff 250.5px,#8181ff 264px,#7171ff 268px)"></i><i style="top:55px;background:linear-gradient(90deg,#9191ff -1px,#a0a0ff 5.5px,#b5b5ff 16px,#c3c3ff 27px,#c6c6ff 27.5px,#eaeaff 29px,#cbcbff 30.5px,#c3c3ff 31px,#c3c3ff 48.5px,#bebeff 54.5px,#babaff 57px,#9b9bff 59.5px,#8888ff 61.5px,#8c8cff 62px,#bfbfff 66px,#c4c4ff 68.5px,#c4c4ff 72.5px,#d7d7ff 75px,#c6c6ff 77.5px,#cfcfff 82.5px,#d9d9ff 89.5px,#d9d9ff 96.5px,#dedeff 100px,#eaeaff 102.5px,#e5e5ff 105px,#e6e6ff 106.5px,#f3f3ff 109px,#ededff 111px,#ececff 112px,#ededff 112.5px,#ffffff 115.7px,#fff5f5 117.5px,#ffeaea 127.5px,#ffd7d7 130.5px,#ffcaca 131px,#ff8f8f 132.5px,#ff7e7e 133px,#ff5252 136.5px,#ff4d4d 152px,#ff7a7a 161px,#ff8181 161.5px,#fffcfc 168.5px,#ffffff 168.6px,#f5f5ff 169px,#9e9eff 172px,#9898ff 172.5px,#8080ff 178px,#8282ff 178.5px,#b6b6ff 184.5px,#fdfdff 191px,#ffffff 191.1px,#ff8282 200px,#ff8080 200.5px,#ff6767 218.5px,#ff9090 228.5px,#fffefe 239.5px,#ffffff 239.6px,#ccccff 249.5px,#7f7fff 263.5px,#6e6eff 268px)"></i><i style="top:57px;background:linear-gradient(90deg,#9393ff -1px,#a2a2ff 5.5px,#b8b8ff 16.5px,#c5c5ff 27px,#c7c7ff 27.5px,#eaeaff 29px,#c5c5ff 31px,#c4c4ff 48.5px,#c0c0ff 54.5px,#bdbdff 56.5px,#babaff 57px,#9c9cff 59.5px,#8e8eff 61px,#8c8cff 61.5px,#c2c2ff 66px,#c6c6ff 68.5px,#c7c7ff 72px,#dadaff 74.5px,#c7c7ff 77px,#d2d2ff 82.5px,#dbdbff 89.5px,#dbdbff 96.5px,#dfdfff 99.5px,#ececff 102px,#e6e6ff 104.5px,#e7e7ff 106px,#f4f4ff 108.5px,#ededff 111px,#eeeeff 112px,#ffffff 115.4px,#fff5f5 117.5px,#ffeaea 127.5px,#ffe2e2 129px,#ffd7d7 130.5px,#ffcaca 131px,#ff8e8e 132.5px,#ff7d7d 133px,#ff5252 136.5px,#ff4d4d 152px,#ff7c7c 161px,#ffffff 168.4px,#fefeff 168.5px,#9999ff 172px,#8080ff 178px,#b8b8ff 184.5px,#ffffff 191px,#ffffff 191px,#ff8181 200px,#ff6767 218px,#ff9191 228px,#ffffff 238.9px,#fefeff 239px,#cacaff 249px,#7f7fff 262.5px,#6a6aff 268px)"></i><i style="top:59px;background:linear-gradient(90deg,#9595ff -1px,#a4a4ff 5.5px,#babaff 16.5px,#c6c6ff 27px,#c9c9ff 27.5px,#e9e9ff 29px,#c6c6ff 31px,#c5c5ff 48.5px,#c2c2ff 54.5px,#bfbfff 56.5px,#9c9cff 59.5px,#8f8fff 61px,#9292ff 61.5px,#c1c1ff 65.5px,#c8c8ff 68.5px,#c9c9ff 71.5px,#dcdcff 74px,#cacaff 76.5px,#d5d5ff 82.5px,#dedeff 89.5px,#dedeff 96.5px,#e1e1ff 99px,#eeeeff 101.5px,#e8e8ff 104px,#e9e9ff 105.5px,#f4f4ff 108px,#eeeeff 110.5px,#f0f0ff 112px,#ffffff 115.3px,#fff5f5 117.5px,#ffeaea 127px,#ffe5e5 129px,#ffdddd 129.5px,#ffd6d6 130.5px,#ffc9c9 131px,#ff8e8e 132.5px,#ff7c7c 133px,#ff5252 136.5px,#ff4e4e 151.5px,#ff4e4e 152px,#ff7b7b 160.5px,#ff8080 161px,#fffafa 168px,#ffffff 168.2px,#f8f8ff 168.5px,#a2a2ff 171.5px,#9898ff 172px,#8181ff 177.5px,#8181ff 178px,#b5b5ff 184px,#fcfcff 190.5px,#ffffff 190.7px,#ff8484 199.5px,#ff8181 200px,#ff6767 217.5px,#ff9494 227.5px,#fffefe 238px,#ffffff 238.1px,#ccccff 248px,#7d7dff 262px,#6666ff 268px)"></i><i style="top:61px;background:linear-gradient(90deg,#9797ff -1px,#bdbdff 16.5px,#c8c8ff 27px,#cacaff 27.5px,#e9e9ff 29px,#c7c7ff 31px,#c6c6ff 48.5px,#c1c1ff 56px,#bfbfff 56.5px,#9d9dff 59.5px,#9292ff 61px,#c5c5ff 65.5px,#ccccff 71px,#dedeff 73.5px,#ccccff 76px,#cdcdff 77.5px,#d8d8ff 82.5px,#e0e0ff 89px,#e0e0ff 96.5px,#e4e4ff 98.5px,#efefff 101px,#e9e9ff 103.5px,#ebebff 105px,#f4f4ff 107.5px,#f0f0ff 110px,#f1f1ff 112px,#ffffff 115.1px,#fff5f5 117.5px,#ffe8e8 129px,#ffdcdc 129.5px,#ffd6d6 130.5px,#ffc9c9 131px,#ff8d8d 132.5px,#ff7c7c 133px,#ff5252 136.5px,#ff4e4e 151.5px,#ff7d7d 160.5px,#fffefe 168px,#ffffff 168px,#9d9dff 171.5px,#9797ff 172px,#8080ff 177.5px,#8383ff 178px,#b7b7ff 184px,#fefeff 190.5px,#ffffff 190.6px,#ff8282 199.5px,#ff6868 217px,#ff9797 227px,#ffffff 237.4px,#fefeff 237.5px,#cdcdff 247px,#7d7dff 261px,#6363ff 268px)"></i><i style="top:63px;background:linear-gradient(90deg,#9999ff -1px,#bfbfff 16.5px,#c9c9ff 27px,#ccccff 27.5px,#e9e9ff 29px,#c9c9ff 31px,#c8c8ff 48.5px,#c3c3ff 56px,#9e9eff 59.5px,#9595ff 60.5px,#9898ff 61px,#c4c4ff 65px,#ceceff 70.5px,#dfdfff 72.5px,#e0e0ff 73px,#cfcfff 75.5px,#cfcfff 77px,#dbdbff 82.5px,#e2e2ff 89px,#e3e3ff 96.5px,#e6e6ff 98px,#f1f1ff 100.5px,#ebebff 103px,#ededff 105px,#f4f4ff 107px,#f1f1ff 110px,#f4f4ff 112.5px,#ffffff 115.1px,#fff5f5 117.5px,#ffeeee 122.5px,#ffeaea 126.5px,#ffecec 127.5px,#ffebeb 129px,#ffdcdc 129.5px,#ffd6d6 130.5px,#ffc8c8 131px,#ff8d8d 132.5px,#ff7b7b 133px,#ff5353 136.5px,#ff4e4e 151.5px,#ff7f7f 160.5px,#fff9f9 167.5px,#ffffff 167.8px,#fbfbff 168px,#9999ff 171.5px,#8181ff 177px,#8080ff 177.5px,#b5b5ff 183.5px,#fafaff 190px,#ffffff 190.3px,#ff8686 199px,#ff8282 199.5px,#ff6868 216.5px,#ff9595 226px,#fffefe 236.5px,#ffffff 236.6px,#cbcbff 246.5px,#7b7bff 260.5px,#5f5fff 268px)"></i><i style="top:65px;background:linear-gradient(90deg,#9a9aff -1px,#c2c2ff 16.5px,#cbcbff 27px,#cdcdff 27.5px,#e8e8ff 29px,#cacaff 31px,#c9c9ff 48px,#c6c6ff 55.5px,#c4c4ff 56px,#9e9eff 59.5px,#9898ff 60.5px,#c8c8ff 65px,#ceceff 69.5px,#d0d0ff 70px,#e1e1ff 72px,#e2e2ff 72.5px,#d1d1ff 75px,#d2d2ff 77.5px,#dedeff 82.5px,#e5e5ff 89px,#e6e6ff 96.5px,#f2f2ff 99.5px,#ededff 102.5px,#efefff 104.5px,#f5f5ff 107px,#f2f2ff 109.5px,#f5f5ff 112px,#ffffff 114.7px,#fff5f5 117.5px,#ffeded 122.5px,#ffebeb 125.5px,#ffeeee 128px,#ffe8e8 129px,#ffdcdc 129.5px,#ffd5d5 130.5px,#ffc8c8 131px,#ff8c8c 132.5px,#ff7b7b 133px,#ff5353 136.5px,#ff4f4f 151.5px,#ff7e7e 160px,#ff8383 160.5px,#fffdfd 167.5px,#ffffff 167.6px,#a0a0ff 171px,#9898ff 171.5px,#8181ff 177px,#8282ff 177.5px,#b6b6ff 183.5px,#fcfcff 190px,#ffffff 190.2px,#ff8383 199px,#ff6868 216px,#ff9797 225.5px,#ffffff 235.9px,#fefeff 236px,#cdcdff 245.5px,#7c7cff 259.5px,#5b5bff 268px)"></i><i style="top:67px;background:linear-gradient(90deg,#9c9cff -1px,#c4c4ff 16.5px,#ccccff 27px,#ceceff 27.5px,#e8e8ff 29px,#cbcbff 31px,#cbcbff 41.5px,#c8c8ff 55.5px,#9c9cff 60px,#9e9eff 60.5px,#c8c8ff 64.5px,#d0d0ff 69px,#e3e3ff 71.5px,#e3e3ff 72px,#d5d5ff 74px,#d3d3ff 74.5px,#d5d5ff 77px,#e0e0ff 82.5px,#e7e7ff 89px,#e8e8ff 96.5px,#f3f3ff 99px,#eeeeff 102px,#f0f0ff 104px,#f6f6ff 106.5px,#f4f4ff 109px,#f6f6ff 112px,#ffffff 114.5px,#fff5f5 117.5px,#ffeded 122.5px,#ffebeb 125px,#fff1f1 127.5px,#ffe5e5 129px,#ffdbdb 129.5px,#ffd5d5 130.5px,#ffc7c7 131px,#ff8b8b 132.5px,#ff7a7a 133px,#ff5353 136.5px,#ff4f4f 151px,#ff5050 151.5px,#ff7f7f 160px,#ffffff 167.4px,#fdfdff 167.5px,#9b9bff 171px,#9797ff 171.5px,#8080ff 177px,#b8b8ff 183.5px,#fefeff 190px,#ffffff 190.1px,#ff8888 198.5px,#ff8383 199px,#ff6969 215.5px,#ff9999 225px,#fffefe 235px,#ffffff 235.1px,#fdfdff 235.5px,#cbcbff 245px,#7979ff 259px,#5858ff 268px)"></i><i style="top:69px;background:linear-gradient(90deg,#9e9eff -1px,#c7c7ff 16.5px,#ceceff 27px,#d0d0ff 27.5px,#e8e8ff 29px,#cdcdff 31px,#cbcbff 54px,#c9c9ff 55.5px,#a1a1ff 59.5px,#9e9eff 60px,#cbcbff 64.5px,#d1d1ff 68.5px,#e6e6ff 71px,#e5e5ff 71.5px,#d6d6ff 73.5px,#d7d7ff 77px,#e3e3ff 82.5px,#eaeaff 89.5px,#ebebff 96px,#f5f5ff 98.5px,#f0f0ff 101px,#f1f1ff 103.5px,#f7f7ff 106px,#f5f5ff 108.5px,#f8f8ff 112px,#ffffff 114.2px,#fff5f5 117.5px,#ffeded 122.5px,#ffebeb 124.5px,#fff2f2 127px,#ffebeb 128px,#ffdbdb 129.5px,#ffd4d4 130.5px,#ffc7c7 131px,#ff8b8b 132.5px,#ff7a7a 133px,#ff5353 136.5px,#ff5050 151px,#ff8383 160px,#fffbfb 167px,#ffffff 167.2px,#f8f8ff 167.5px,#a4a4ff 170.5px,#9999ff 171px,#8181ff 176.5px,#8181ff 177px,#b6b6ff 183px,#fbfbff 189.5px,#ffffff 189.8px,#ff8585 198.5px,#ff6a6a 215px,#ff9c9c 224.5px,#ffffff 234.4px,#fefeff 234.5px,#ccccff 244px,#7777ff 258.5px,#5454ff 268px)"></i><i style="top:71px;background:linear-gradient(90deg,#a0a0ff -1px,#c9c9ff 16.5px,#d0d0ff 27px,#d1d1ff 27.5px,#e7e7ff 29px,#ceceff 31px,#ccccff 55px,#a2a2ff 59.5px,#a4a4ff 60px,#cbcbff 64px,#d2d2ff 68px,#e8e8ff 70.5px,#d8d8ff 73px,#d7d7ff 73.5px,#dadaff 77.5px,#e6e6ff 82.5px,#ededff 89.5px,#eeeeff 95.5px,#f6f6ff 98px,#f1f1ff 100.5px,#f3f3ff 103px,#f8f8ff 105.5px,#f7f7ff 108px,#fafaff 112px,#ffffff 113.8px,#fff5f5 117.5px,#ffecec 122.5px,#ffecec 124px,#fff2f2 126.5px,#ffeded 127.5px,#ffdede 129px,#ffd4d4 130.5px,#ffc7c7 131px,#ff8a8a 132.5px,#ff7979 133px,#ff5353 136.5px,#ff5050 151px,#ff8080 159.5px,#ff8686 160px,#ffffff 167px,#ffffff 167px,#9f9fff 170.5px,#9898ff 171px,#8080ff 176.5px,#8282ff 177px,#b7b7ff 183px,#fdfdff 189.5px,#ffffff 189.7px,#ff8a8a 198px,#ff8484 198.5px,#ff6a6a 214px,#ff6b6b 214.5px,#ff9a9a 223.5px,#fffefe 233.5px,#ffffff 233.7px,#fdfdff 234px,#cbcbff 243.5px,#7777ff 257.5px,#5151ff 268px)"></i><i style="top:73px;background:linear-gradient(90deg,#a2a2ff -1px,#ccccff 16.5px,#d1d1ff 27px,#d3d3ff 27.5px,#e7e7ff 29px,#cfcfff 31px,#cdcdff 55px,#a5a5ff 59.5px,#ceceff 64px,#d4d4ff 67.5px,#eaeaff 70px,#d9d9ff 72.5px,#d9d9ff 73px,#ddddff 77.5px,#e9e9ff 82.5px,#f0f0ff 89.5px,#f1f1ff 94.5px,#f7f7ff 97.5px,#f3f3ff 100px,#f9f9ff 105px,#fcfcff 112px,#ffffff 113.4px,#fff5f5 117.5px,#ffecec 122.5px,#ffeded 123.5px,#fff3f3 125.5px,#ffebeb 127.5px,#ffe1e1 128.5px,#ffd4d4 130.5px,#ffc6c6 131px,#ff8a8a 132.5px,#ff7979 133px,#ff5454 136.5px,#ff5050 150.5px,#ff5151 151px,#ff8282 159.5px,#fff9f9 166.5px,#ffffff 166.8px,#fafaff 167px,#9999ff 170.5px,#8080ff 176.5px,#b9b9ff 183px,#ffffff 189.5px,#ffffff 189.5px,#ff8787 198px,#ff8585 198.5px,#ff6a6a 213.5px,#ff6b6b 214px,#ff9c9c 223px,#ffffff 232.9px,#fefeff 233px,#ccccff 242.5px,#7575ff 257px,#4d4dff 268px)"></i><i style="top:75px;background:linear-gradient(90deg,#a4a4ff -1px,#bebeff 10.5px,#ceceff 16.5px,#d3d3ff 27px,#d4d4ff 27.5px,#e6e6ff 29px,#d1d1ff 31px,#d0d0ff 54.5px,#aaaaff 59px,#aaaaff 59.5px,#ceceff 63.5px,#d5d5ff 67px,#ececff 69.5px,#dbdbff 72px,#e0e0ff 77.5px,#ececff 82.5px,#f4f4ff 89.5px,#f4f4ff 94px,#f8f8ff 97px,#f4f4ff 99.5px,#fafaff 105px,#fefeff 112.5px,#ffffff 113.1px,#ffecec 122.5px,#fff3f3 125px,#ffe8e8 127.5px,#ffd3d3 130.5px,#ffc6c6 131px,#ff8989 132.5px,#ff7878 133px,#ff5454 136.5px,#ff5151 150.5px,#ff8181 159px,#ff8686 159.5px,#fffdfd 166.5px,#ffffff 166.6px,#a2a2ff 170px,#9898ff 170.5px,#8181ff 176px,#8181ff 176.5px,#b7b7ff 182.5px,#fcfcff 189px,#ffffff 189.3px,#ff8686 198px,#ff6b6b 213px,#ff9f9f 222.5px,#fffefe 232px,#ffffff 232.2px,#fdfdff 232.5px,#cdcdff 241.5px,#7676ff 256px,#4a4aff 268px)"></i><i style="top:77px;background:linear-gradient(90deg,#a6a6ff -1px,#c0c0ff 10.5px,#d1d1ff 16.5px,#d4d4ff 27px,#d5d5ff 27.5px,#e6e6ff 29px,#d2d2ff 31px,#d0d0ff 48.5px,#d1d1ff 54.5px,#acacff 59px,#d2d2ff 63.5px,#d6d6ff 66.5px,#ededff 69px,#dcdcff 71.5px,#e2e2ff 77.5px,#efefff 82.5px,#f7f7ff 89.5px,#fafaff 96px,#f6f6ff 99px,#ffffff 111.9px,#ffffff 112px,#ffeded 121.5px,#fff3f3 124.5px,#ffe8e8 127.5px,#ffd3d3 130.5px,#ffc5c5 131px,#ff8989 132.5px,#ff7878 133px,#ff5454 136.5px,#ff5151 150.5px,#ff8383 159px,#ffffff 166.4px,#fdfdff 166.5px,#9d9dff 170px,#9797ff 170.5px,#8080ff 176px,#8383ff 176.5px,#b9b9ff 182.5px,#fefeff 189px,#ffffff 189.1px,#ff8989 197.5px,#ff8686 198px,#ff6b6b 212.5px,#ff9e9e 221.5px,#ffffff 231.4px,#fefeff 231.5px,#cbcbff 241px,#7373ff 255.5px,#4747ff 268px)"></i><i style="top:79px;background:linear-gradient(90deg,#a8a8ff -1px,#c2c2ff 10.5px,#d3d3ff 16.5px,#d7d7ff 27.5px,#e6e6ff 29px,#d3d3ff 31px,#d1d1ff 48.5px,#d3d3ff 54px,#d1d1ff 54.5px,#b1b1ff 58.5px,#b1b1ff 59px,#d2d2ff 63px,#d8d8ff 66px,#ebebff 68px,#ededff 68.5px,#dedeff 71px,#e5e5ff 77.5px,#f1f1ff 82.5px,#fafaff 89.5px,#fbfbff 95.5px,#f7f7ff 98px,#f8f8ff 101.5px,#fcfcff 104px,#ffffff 108.7px,#fffdfd 112.5px,#ffeeee 121px,#fff4f4 123.5px,#ffe9e9 126px,#ffe7e7 127.5px,#ffd3d3 130.5px,#ffc5c5 131px,#ff8888 132.5px,#ff7777 133px,#ff5454 136.5px,#ff5252 150px,#ff5252 150.5px,#ff8585 159px,#fffbfb 166px,#ffffff 166.2px,#f7f7ff 166.5px,#9999ff 170px,#8181ff 175.5px,#8080ff 176px,#b6b6ff 182px,#ffffff 188.9px,#fffefe 189px,#ff8787 197.5px,#ff6b6b 212px,#ffa0a0 221px,#fffefe 230.5px,#ffffff 230.7px,#fdfdff 231px,#cdcdff 240px,#7474ff 254.5px,#4343ff 268px)"></i><i style="top:81px;background:linear-gradient(90deg,#aaaaff -1px,#c3c3ff 10.5px,#d5d5ff 16.5px,#d8d8ff 27.5px,#e5e5ff 29px,#d5d5ff 31px,#d5d5ff 41.5px,#d2d2ff 48.5px,#d5d5ff 54px,#b3b3ff 58.5px,#d6d6ff 63px,#d9d9ff 65.5px,#ededff 67.5px,#eeeeff 68px,#dfdfff 70.5px,#e8e8ff 77.5px,#f4f4ff 82.5px,#fefeff 89.5px,#fefeff 93px,#f9f9ff 97.5px,#f9f9ff 100.5px,#fefeff 104.5px,#ffffff 105.9px,#fffbfb 112.5px,#ffefef 120.5px,#fff4f4 123px,#ffe9e9 125.5px,#ffe7e7 127.5px,#ffd2d2 130.5px,#ffc5c5 131px,#ff8888 132.5px,#ff7676 133px,#ff5454 136.5px,#ff5252 150px,#ff5353 150.5px,#ff8484 158.5px,#ff8989 159px,#ffffff 166px,#ffffff 166px,#a0a0ff 169.5px,#9898ff 170px,#8181ff 175.5px,#8282ff 176px,#b8b8ff 182px,#fcfcff 188.5px,#ffffff 188.7px,#ff8b8b 197px,#ff8787 197.5px,#ff6b6b 211.5px,#ffa2a2 220.5px,#ffffff 229.9px,#fefeff 230px,#cbcbff 239.5px,#7272ff 254px,#4040ff 268px)"></i><i style="top:83px;background:linear-gradient(90deg,#acacff -1px,#c5c5ff 10.5px,#d8d8ff 16.5px,#d9d9ff 27px,#dadaff 27.5px,#e5e5ff 29px,#d6d6ff 31px,#d6d6ff 41.5px,#d3d3ff 48.5px,#d6d6ff 53.5px,#d1d1ff 54.5px,#b8b8ff 58px,#b8b8ff 58.5px,#d6d6ff 62.5px,#dbdbff 65px,#eeeeff 67px,#efefff 67.5px,#e2e2ff 69.5px,#e1e1ff 70px,#eaeaff 77.5px,#f7f7ff 82.5px,#ffffff 87.9px,#fffdfd 89.5px,#fffcfc 92px,#ffffff 93.7px,#fafaff 96.5px,#fbfbff 100px,#ffffff 103.7px,#fffefe 104.5px,#fff5f5 117px,#fff0f0 119.5px,#fff4f4 122.5px,#ffe9e9 125px,#ffe7e7 127.5px,#ffd2d2 130.5px,#ffc4c4 131px,#ff8787 132.5px,#ff7676 133px,#ff5454 136.5px,#ff5252 150px,#ff8585 158.5px,#fffafa 165.5px,#ffffff 165.7px,#fafaff 166px,#9b9bff 169.5px,#9797ff 170px,#8080ff 175.5px,#babaff 182px,#fefeff 188.5px,#ffffff 188.6px,#ff8888 197px,#ff6c6c 211px,#ffa5a5 220px,#fffefe 229px,#ffffff 229.2px,#fdfdff 229.5px,#ccccff 238.5px,#7272ff 253px,#3d3dff 268px)"></i><i style="top:85px;background:linear-gradient(90deg,#adadff -1px,#c7c7ff 10.5px,#dadaff 16.5px,#dadaff 27px,#dbdbff 27.5px,#e4e4ff 29px,#d7d7ff 31px,#d7d7ff 41.5px,#d4d4ff 48.5px,#d8d8ff 53.5px,#babaff 58px,#d9d9ff 62.5px,#dadaff 64px,#ddddff 64.5px,#f0f0ff 66.5px,#efefff 67px,#e3e3ff 69px,#e2e2ff 69.5px,#ededff 77.5px,#fafaff 82.5px,#ffffff 85.7px,#fff9f9 89.5px,#fff9f9 91.5px,#ffffff 94.6px,#fbfbff 96.5px,#ffffff 102px,#fff5f5 117px,#fff1f1 119px,#fff6f6 121.5px,#ffe9e9 124px,#ffe7e7 127.5px,#ffd1d1 130.5px,#ffc4c4 131px,#ff8787 132.5px,#ff7575 133px,#ff5555 136.5px,#ff5353 150px,#ff8888 158.5px,#fffdfd 165.5px,#ffffff 165.6px,#a4a4ff 169px,#9999ff 169.5px,#8181ff 175px,#8080ff 175.5px,#b7b7ff 181.5px,#fbfbff 188px,#ffffff 188.3px,#ff8d8d 196.5px,#ff8888 197px,#ff6d6d 210.5px,#ffa3a3 219px,#ffffff 228.4px,#fefeff 228.5px,#cbcbff 238px,#7070ff 252.5px,#3939ff 268px)"></i><i style="top:87px;background:linear-gradient(90deg,#afafff -1px,#c9c9ff 10.5px,#ddddff 16.5px,#dcdcff 27px,#dcdcff 27.5px,#e4e4ff 29px,#d9d9ff 31px,#d9d9ff 41.5px,#d5d5ff 48.5px,#d9d9ff 53px,#d2d2ff 54.5px,#bfbfff 57.5px,#bfbfff 58px,#dadaff 62px,#dcdcff 63.5px,#f1f1ff 66px,#e3e3ff 68.5px,#e3e3ff 69px,#f0f0ff 77.5px,#fdfdff 82.5px,#ffffff 83.8px,#fff5f5 89.5px,#fff5f5 90.5px,#fffdfd 93px,#ffffff 94.8px,#fdfdff 96.5px,#fdfdff 98.5px,#ffffff 100.3px,#fffafa 105px,#fff5f5 117px,#fff2f2 118.5px,#fff6f6 121px,#ffe9e9 123.5px,#ffe7e7 127.5px,#ffd1d1 130.5px,#ffc3c3 131px,#ff8686 132.5px,#ff7575 133px,#ff5555 136.5px,#ff5353 149.5px,#ff5454 150px,#ff8686 158px,#ff8c8c 158.5px,#ffffff 165.3px,#fcfcff 165.5px,#9f9fff 169px,#9898ff 169.5px,#8080ff 175px,#8282ff 175.5px,#b9b9ff 181.5px,#fdfdff 188px,#ffffff 188.2px,#ff8a8a 196.5px,#ff6d6d 209.5px,#ff6e6e 210px,#ffa5a5 218.5px,#fffefe 227.5px,#ffffff 227.8px,#ccccff 237px,#7070ff 251.5px,#3636ff 268px)"></i><i style="top:89px;background:linear-gradient(90deg,#b1b1ff -1px,#cbcbff 10.5px,#dfdfff 16.5px,#dedeff 27px,#e4e4ff 29px,#dadaff 31px,#dadaff 41.5px,#d7d7ff 48.5px,#dadaff 53px,#c1c1ff 57.5px,#ddddff 62px,#dedeff 63px,#f3f3ff 65.5px,#e4e4ff 68px,#e4e4ff 68.5px,#f2f2ff 77.5px,#ffffff 82px,#fffefe 82.5px,#fff1f1 89.5px,#fff1f1 90px,#fffbfb 92.5px,#fffcfc 94.5px,#ffffff 96px,#fefeff 96.5px,#ffffff 97.5px,#fff8f8 104.5px,#fff5f5 112px,#fff4f4 118px,#fff6f6 120.5px,#ffe9e9 123px,#ffe6e6 127.5px,#ffd1d1 130.5px,#ffc3c3 131px,#ff8686 132.5px,#ff7474 133px,#ff5555 136.5px,#ff5353 149.5px,#ff8888 158px,#fffcfc 165px,#ffffff 165.1px,#f7f7ff 165.5px,#9a9aff 169px,#8080ff 175px,#b6b6ff 181px,#ffffff 188px,#ffffff 188px,#ff8f8f 196px,#ff8989 196.5px,#ff6d6d 209px,#ff6e6e 209.5px,#ffa8a8 218px,#ffffff 226.9px,#fefeff 227px,#cacaff 236.5px,#7171ff 250.5px,#3333ff 268px)"></i><i style="top:91px;background:linear-gradient(90deg,#b3b3ff -1px,#cdcdff 10.5px,#e2e2ff 16.5px,#dfdfff 27.5px,#e3e3ff 29px,#dbdbff 31px,#dbdbff 41.5px,#d8d8ff 48.5px,#dcdcff 52.5px,#d6d6ff 54px,#c6c6ff 57px,#c6c6ff 57.5px,#dedeff 61.5px,#e0e0ff 62.5px,#f5f5ff 65px,#e5e5ff 67.5px,#f5f5ff 77.5px,#ffffff 80.8px,#fffafa 82.5px,#ffeeee 89px,#ffeeee 89.5px,#fffbfb 92px,#fffafa 94px,#ffffff 96.5px,#fff6f6 104.5px,#fff3f3 112px,#fff5f5 117px,#fff8f8 119.5px,#ffe8e8 122.5px,#ffe6e6 127.5px,#ffd0d0 130.5px,#ffc3c3 131px,#ff8585 132.5px,#ff7474 133px,#ff5555 136.5px,#ff5454 149.5px,#ff8787 157.5px,#ff8c8c 158px,#ffffff 165px,#ffffff 165px,#a2a2ff 168.5px,#9898ff 169px,#8181ff 174.5px,#8181ff 175px,#b8b8ff 181px,#fbfbff 187.5px,#ffffff 187.8px,#ff8c8c 196px,#ff6e6e 208.5px,#ff6f6f 209px,#ffaaaa 217.5px,#fffefe 226px,#ffffff 226.3px,#ccccff 235.5px,#6e6eff 250px,#3030ff 268px)"></i><i style="top:93px;background:linear-gradient(90deg,#b5b5ff -1px,#cfcfff 10.5px,#e4e4ff 16.5px,#e1e1ff 27.5px,#e3e3ff 29px,#ddddff 31px,#ddddff 41.5px,#d9d9ff 48.5px,#ddddff 52.5px,#c8c8ff 57px,#e1e1ff 61.5px,#e2e2ff 62px,#f5f5ff 64.5px,#e6e6ff 67px,#f8f8ff 77.5px,#ffffff 79.7px,#fff6f6 82.5px,#ffebeb 88.5px,#fff9f9 91.5px,#fff8f8 94px,#fffefe 96.5px,#fff4f4 104.5px,#fff1f1 112px,#fff4f4 116px,#fff9f9 119px,#ffe9e9 122px,#ffe6e6 127.5px,#ffd0d0 130.5px,#ffc2c2 131px,#ff8484 132.5px,#ff7373 133px,#ff5555 136.5px,#ff5454 149px,#ff5555 149.5px,#ff8989 157.5px,#fffafa 164.5px,#ffffff 164.7px,#f9f9ff 165px,#9d9dff 168.5px,#9898ff 169px,#8080ff 174.5px,#8383ff 175px,#b5b5ff 180.5px,#fdfdff 187.5px,#ffffff 187.6px,#ff8b8b 196px,#ff6e6e 208px,#ffa8a8 216.5px,#ffffff 225.4px,#fefeff 225.5px,#cdcdff 234.5px,#6f6fff 249px,#2c2cff 268px)"></i><i style="top:95px;background:linear-gradient(90deg,#b7b7ff -1px,#d1d1ff 10.5px,#e7e7ff 16.5px,#e3e3ff 29px,#dedeff 31px,#dedeff 41.5px,#dadaff 48.5px,#dedeff 52px,#d8d8ff 54px,#ccccff 56.5px,#ccccff 57px,#e4e4ff 61.5px,#f6f6ff 64px,#e7e7ff 66.5px,#fafaff 77.5px,#ffffff 79.2px,#fffefe 79.5px,#fff2f2 82.5px,#ffe8e8 87.5px,#ffeaea 88.5px,#fff7f7 90.5px,#fff8f8 91px,#fff5f5 93px,#fffcfc 96.5px,#fff1f1 104.5px,#ffefef 112px,#fff3f3 115.5px,#fff9f9 117.5px,#fff9f9 118.5px,#ffebeb 121px,#ffe8e8 122.5px,#ffe6e6 127.5px,#ffd0d0 130.5px,#ffc2c2 131px,#ff8484 132.5px,#ff7373 133px,#ff5656 136.5px,#ff5555 149px,#ff5656 149.5px,#ff8b8b 157.5px,#fffefe 164.5px,#ffffff 164.5px,#9999ff 168.5px,#8080ff 174.5px,#b7b7ff 180.5px,#ffffff 187.5px,#ffffff 187.5px,#ff8e8e 195.5px,#ff8b8b 196px,#ff6e6e 207.5px,#ffabab 216px,#fffdfd 224.5px,#ffffff 224.8px,#cbcbff 234px,#6c6cff 248.5px,#2929ff 268px)"></i><i style="top:97px;background:linear-gradient(90deg,#b9b9ff -1px,#d3d3ff 10.5px,#e9e9ff 16.5px,#e7e7ff 23.5px,#dfdfff 31px,#dfdfff 41.5px,#dbdbff 48.5px,#e0e0ff 52px,#ceceff 56.5px,#e3e3ff 60.5px,#f5f5ff 63px,#f7f7ff 63.5px,#e8e8ff 66px,#fdfdff 77.5px,#ffffff 78px,#ffeded 82.5px,#ffe5e5 87px,#ffe8e8 88px,#fff6f6 90px,#fff2f2 92.5px,#fff9f9 96.5px,#ffefef 104.5px,#ffeeee 112.5px,#fff1f1 115px,#fffbfb 117.5px,#ffeeee 120px,#ffe7e7 122.5px,#ffe6e6 127.5px,#ffcfcf 130.5px,#ffc1c1 131px,#ff8383 132.5px,#ff7272 133px,#ff5656 136.5px,#ff5555 149px,#ff8989 157px,#ff8f8f 157.5px,#ffffff 164.3px,#fcfcff 164.5px,#a0a0ff 168px,#9898ff 168.5px,#8181ff 174px,#8282ff 174.5px,#b4b4ff 180px,#fcfcff 187px,#ffffff 187.2px,#ff8c8c 195.5px,#ff6f6f 207px,#ffadad 215.5px,#ffffff 224px,#ffffff 224px,#cdcdff 233px,#6a6aff 248px,#2626ff 268px)"></i><i style="top:99px;background:linear-gradient(90deg,#bbbbff -1px,#d5d5ff 10.5px,#ececff 16.5px,#e9e9ff 23.5px,#e1e1ff 31px,#e0e0ff 41.5px,#dcdcff 48.5px,#e0e0ff 52px,#d2d2ff 56.5px,#e4e4ff 60px,#f7f7ff 62.5px,#f7f7ff 63px,#e9e9ff 65.5px,#ffffff 77.2px,#fffefe 77.5px,#ffe9e9 82.5px,#ffe2e2 86px,#ffe3e3 87px,#fff6f6 89.5px,#ffefef 92px,#fff4f4 94px,#fff7f7 96.5px,#ffeded 104.5px,#ffecec 112px,#fff0f0 114.5px,#fffbfb 117px,#ffefef 119.5px,#ffe7e7 122.5px,#ffe5e5 127.5px,#ffcfcf 130.5px,#ffc1c1 131px,#ff8383 132.5px,#ff7272 133px,#ff5656 136.5px,#ff5555 148.5px,#ff5656 149px,#ff8b8b 157px,#fffcfc 164px,#ffffff 164.1px,#9b9bff 168px,#9797ff 168.5px,#8080ff 174px,#b6b6ff 180px,#fefeff 187px,#ffffff 187.1px,#ff9090 195px,#ff8c8c 195.5px,#ff6f6f 206.5px,#ffb0b0 215px,#fffdfd 223px,#ffffff 223.3px,#cbcbff 232.5px,#6b6bff 247px,#2626ff 267px,#2525ff 268px)"></i><i style="top:101px;background:linear-gradient(90deg,#bdbdff -1px,#d7d7ff 10.5px,#eeeeff 16.5px,#eaeaff 23.5px,#e6e6ff 27.5px,#e1e1ff 29px,#e2e2ff 41.5px,#ddddff 48.5px,#e2e2ff 51.5px,#d4d4ff 56px,#e5e5ff 59.5px,#eeeeff 60.5px,#f8f8ff 62px,#f8f8ff 62.5px,#ececff 64.5px,#ebebff 65.5px,#ffffff 75.8px,#fffcfc 77.5px,#ffe5e5 82.5px,#ffdfdf 85.5px,#ffe1e1 86.5px,#fff6f6 89px,#ffecec 91.5px,#fff2f2 93.5px,#fff5f5 96.5px,#ffebeb 104.5px,#ffeaea 112px,#ffecec 113.5px,#fffafa 116px,#fffafa 116.5px,#fff8f8 117.5px,#fff0f0 119px,#ffe7e7 122.5px,#ffe5e5 127.5px,#ffcfcf 130.5px,#ffc1c1 131px,#ff8282 132.5px,#ff7171 133px,#ff5656 136.5px,#ff5656 148.5px,#ff5757 149px,#ff8e8e 157px,#ffffff 163.9px,#fefeff 164px,#a4a4ff 167.5px,#9999ff 168px,#8080ff 174px,#b8b8ff 180px,#ffffff 186.9px,#fffefe 187px,#ff8d8d 195px,#ff7070 206px,#ffaeae 214px,#ffffff 222.5px,#ffffff 222.5px,#ccccff 231.5px,#6868ff 246.5px,#2727ff 266px,#2424ff 268px)"></i><i style="top:103px;background:linear-gradient(90deg,#bfbfff -1px,#d8d8ff 10.5px,#f0f0ff 16.5px,#e8e8ff 27px,#e1e1ff 29px,#e3e3ff 31px,#e3e3ff 41px,#dfdfff 48.5px,#e2e2ff 51.5px,#d8d8ff 56px,#e6e6ff 59px,#f4f4ff 60.5px,#fafaff 61.5px,#ececff 64.5px,#f1f1ff 68px,#ffffff 74.7px,#fffbfb 76.5px,#ffe0e0 82.5px,#ffdcdc 84.5px,#ffdfdf 86px,#fff5f5 88.5px,#ffefef 89.5px,#ffe9e9 91px,#ffefef 93px,#fff3f3 96.5px,#ffe9e9 104.5px,#ffe8e8 112px,#ffeaea 113px,#fffafa 115.5px,#fff6f6 117.5px,#ffe6e6 122.5px,#ffe5e5 127.5px,#ffcece 130.5px,#ffc0c0 131px,#ff8282 132.5px,#ff7070 133px,#ff5656 136.5px,#ff5656 148.5px,#ff8c8c 156.5px,#ff9292 157px,#fffbfb 163.5px,#ffffff 163.7px,#f9f9ff 164px,#9f9fff 167.5px,#9898ff 168px,#8080ff 173.5px,#8282ff 174px,#b5b5ff 179.5px,#fdfdff 186.5px,#ffffff 186.7px,#ff9292 194.5px,#ff8d8d 195px,#ff7171 205.5px,#ffb0b0 213.5px,#fffdfd 221.5px,#ffffff 221.8px,#cacaff 231px,#6969ff 245.5px,#2525ff 265.5px,#2323ff 268px)"></i><i style="top:105px;background:linear-gradient(90deg,#c0c0ff -1px,#dadaff 10.5px,#f3f3ff 16.5px,#eaeaff 27px,#e1e1ff 29px,#e5e5ff 31px,#e5e5ff 41px,#e0e0ff 48.5px,#e4e4ff 51px,#dadaff 55.5px,#e8e8ff 58.5px,#f5f5ff 60px,#fbfbff 61px,#efefff 63.5px,#eeeeff 65.5px,#f3f3ff 68px,#ffffff 73.5px,#fff9f9 76px,#ffdbdb 82.5px,#ffd9d9 84px,#ffdddd 85.5px,#fff2f2 87.5px,#fff4f4 88px,#ffe9e9 89.5px,#ffe6e6 90.5px,#ffebeb 92px,#fff1f1 96.5px,#ffe7e7 104.5px,#ffe7e7 112px,#ffe8e8 112.5px,#fff4f4 114px,#fff9f9 115px,#fff4f4 117.5px,#ffe6e6 122.5px,#ffe5e5 127.5px,#ffcece 130.5px,#ffc0c0 131px,#ff8181 132.5px,#ff7070 133px,#ff5757 136.5px,#ff5656 148.5px,#ff8e8e 156.5px,#fffefe 163.5px,#ffffff 163.5px,#9a9aff 167.5px,#8080ff 173.5px,#b7b7ff 179.5px,#ffffff 186.5px,#ffffff 186.5px,#ff8f8f 194.5px,#ff7171 204.5px,#ff7272 205px,#ffb3b3 213px,#ffffff 221px,#ffffff 221px,#ccccff 230px,#6666ff 245px,#2424ff 265px,#2323ff 268px)"></i><i style="top:107px;background:linear-gradient(90deg,#c2c2ff -1px,#dcdcff 10.5px,#f5f5ff 16.5px,#ebebff 27px,#eaeaff 27.5px,#e0e0ff 29px,#e6e6ff 31px,#e6e6ff 41.5px,#e1e1ff 48.5px,#e5e5ff 51px,#ddddff 55.5px,#e8e8ff 58px,#f6f6ff 59.5px,#fcfcff 60.5px,#f0f0ff 63px,#f0f0ff 65.5px,#f6f6ff 68.5px,#ffffff 72.5px,#fff8f8 75.5px,#ffd7d7 83px,#ffd9d9 84.5px,#fff3f3 87px,#fff3f3 87.5px,#ffe5e5 89.5px,#fff0f0 96.5px,#ffe6e6 104.5px,#ffe6e6 111.5px,#ffe8e8 112px,#fff8f8 114px,#fff3f3 116.5px,#fff5f5 117.5px,#ffe6e6 122.5px,#ffe5e5 127.5px,#ffcece 130.5px,#ffc0c0 131px,#ff8181 132.5px,#ff7070 133px,#ff5757 136.5px,#ff5757 148px,#ff5858 148.5px,#ff9191 156.5px,#ffffff 163.3px,#fbfbff 163.5px,#a2a2ff 167px,#9999ff 167.5px,#8181ff 173px,#8181ff 173.5px,#babaff 179.5px,#fcfcff 186px,#ffffff 186.2px,#ff9494 194px,#ff8f8f 194.5px,#ff7272 204px,#ff7373 204.5px,#ffb1b1 212px,#ffffff 220.4px,#fefeff 220.5px,#cacaff 229.5px,#6868ff 244px,#2525ff 264px,#2222ff 268px)"></i><i style="top:109px;background:linear-gradient(90deg,#c5c5ff -1px,#dedeff 10.5px,#f5f5ff 16.5px,#ebebff 27px,#eaeaff 27.5px,#e1e1ff 29px,#e6e6ff 31px,#e8e8ff 41.5px,#e3e3ff 48.5px,#e6e6ff 50.5px,#dedeff 55px,#e8e8ff 57.5px,#f6f6ff 59px,#fcfcff 60px,#f2f2ff 62.5px,#f2f2ff 65.5px,#f7f7ff 68.5px,#ffffff 71.9px,#fff9f9 74.5px,#ffd7d7 82.5px,#ffdada 84px,#fff4f4 86.5px,#fff3f3 87px,#ffe6e6 89px,#ffe6e6 89.5px,#ffe9e9 90.5px,#fff1f1 96.5px,#ffe7e7 104.5px,#ffe7e7 111px,#fff8f8 113.5px,#fff2f2 116px,#fff5f5 117.5px,#ffe7e7 122.5px,#ffe6e6 127.5px,#ffcfcf 130.5px,#ffc1c1 131px,#ff8282 132.5px,#ff7070 133px,#ff5959 136.5px,#ff5959 148px,#ff8f8f 156px,#ff9595 156.5px,#fffcfc 163px,#ffffff 163.1px,#9e9eff 167px,#9999ff 167.5px,#8181ff 173px,#b8b8ff 179px,#ffffff 186px,#ffffff 186px,#ff9090 194px,#ff7474 203.5px,#ff7474 204px,#ffb2b2 211.5px,#ffffff 219.8px,#fefeff 220px,#cacaff 229px,#6868ff 243.5px,#2525ff 263.5px,#2222ff 268px)"></i><i style="top:111px;background:linear-gradient(90deg,#c7c7ff -1px,#e0e0ff 10.5px,#f6f6ff 16.5px,#ececff 27px,#eaeaff 27.5px,#e1e1ff 29px,#e6e6ff 31px,#e9e9ff 41.5px,#e5e5ff 48.5px,#e7e7ff 50.5px,#dfdfff 55px,#e8e8ff 57px,#f7f7ff 58.5px,#fcfcff 59.5px,#f3f3ff 62px,#f4f4ff 65.5px,#f8f8ff 68px,#ffffff 71.1px,#fff8f8 74px,#ffd9d9 82px,#ffdcdc 83.5px,#fff5f5 86px,#ffe7e7 88.5px,#fff2f2 96.5px,#ffe8e8 104.5px,#ffe8e8 110px,#ffe9e9 110.5px,#fff8f8 113px,#fff1f1 115px,#fff6f6 117.5px,#ffe9e9 122.5px,#ffe7e7 127.5px,#ffd0d0 130.5px,#ffc2c2 131px,#ff8282 132.5px,#ff7171 133px,#ff5a5a 136.5px,#ff5a5a 148px,#ff9191 156px,#ffffff 163px,#fefeff 163px,#9b9bff 167px,#8383ff 173px,#bbbbff 179px,#fdfdff 185.5px,#ffffff 185.7px,#ff9494 193.5px,#ff9090 194px,#ff7575 203.5px,#ffb3b3 211px,#fffdfd 219px,#ffffff 219.3px,#cacaff 228.5px,#6868ff 243px,#2525ff 263px,#2222ff 268px)"></i><i style="top:113px;background:linear-gradient(90deg,#c9c9ff -1px,#d9d9ff 5.5px,#e2e2ff 10.5px,#f6f6ff 16.5px,#ececff 27px,#ebebff 27.5px,#e1e1ff 29px,#e7e7ff 31px,#ebebff 41.5px,#e7e7ff 48px,#e8e8ff 50px,#e0e0ff 54.5px,#e8e8ff 56.5px,#f7f7ff 58px,#fcfcff 59px,#f5f5ff 61.5px,#f5f5ff 65.5px,#fafaff 68px,#ffffff 70.3px,#fff9f9 73px,#ffdbdb 81px,#ffdddd 83px,#fff6f6 85.5px,#ffe8e8 88px,#fff3f3 96.5px,#ffe9e9 104.5px,#ffe9e9 109.5px,#fff7f7 112px,#fff0f0 114.5px,#fff7f7 117.5px,#ffeaea 122.5px,#ffe8e8 127.5px,#ffd1d1 130.5px,#ffc2c2 131px,#ff8383 132.5px,#ff7171 133px,#ff5e5e 136px,#ff5c5c 136.5px,#ff5c5c 147.5px,#ff5c5c 148px,#ff9595 156px,#fffafa 162.5px,#ffffff 162.7px,#fafaff 163px,#a3a3ff 166.5px,#9b9bff 167px,#8383ff 172.5px,#8686ff 173px,#b9b9ff 178.5px,#ffffff 185.4px,#fffefe 185.5px,#ff9292 193.5px,#ff7777 203px,#ffb4b4 210.5px,#fffdfd 218.5px,#ffffff 218.8px,#cacaff 228px,#6868ff 242.5px,#2626ff 262.5px,#2222ff 268px)"></i><i style="top:115px;background:linear-gradient(90deg,#ccccff -1px,#dbdbff 5.5px,#e4e4ff 10.5px,#f6f6ff 16.5px,#ececff 27px,#ebebff 27.5px,#e1e1ff 29px,#e7e7ff 31px,#ededff 41.5px,#e9e9ff 48px,#eaeaff 50px,#e1e1ff 54.5px,#e9e9ff 56px,#fafaff 58px,#fbfbff 58.5px,#f5f5ff 61px,#f7f7ff 65.5px,#fbfbff 68px,#ffffff 69.6px,#fff9f9 72px,#ffdddd 80.5px,#ffdfdf 82.5px,#ffefef 84px,#fff6f6 85px,#ffeaea 87.5px,#fff4f4 96.5px,#ffeaea 104.5px,#ffeaea 109px,#fff9f9 111.5px,#ffefef 114px,#fff8f8 117.5px,#ffebeb 122.5px,#ffe9e9 127.5px,#ffd2d2 130.5px,#ffc3c3 131px,#ff8484 132.5px,#ff7272 133px,#ff6060 136px,#ff5d5d 136.5px,#ff5d5d 147.5px,#ff5f5f 148px,#ff9393 155.5px,#ff9898 156px,#fffdfd 162.5px,#ffffff 162.6px,#9f9fff 166.5px,#9b9bff 167px,#8484ff 172.5px,#bcbcff 178.5px,#fefeff 185px,#ffffff 185.1px,#ff9595 193px,#ff7878 202.5px,#ffb5b5 210px,#fffdfd 218px,#ffffff 218.3px,#cdcdff 227px,#6868ff 242px,#2626ff 262px,#2222ff 268px)"></i><i style="top:117px;background:linear-gradient(90deg,#ceceff -1px,#ddddff 5.5px,#e6e6ff 10.5px,#f7f7ff 16.5px,#ececff 27px,#ebebff 27.5px,#e1e1ff 29px,#e8e8ff 31px,#eeeeff 41.5px,#ebebff 50px,#e3e3ff 54px,#e5e5ff 55px,#fbfbff 57.5px,#f6f6ff 60.5px,#f9f9ff 65.5px,#fdfdff 68px,#ffffff 68.8px,#fff9f9 71.5px,#ffdede 79.5px,#ffe1e1 82px,#fff4f4 84px,#fff6f6 84.5px,#ffecec 87px,#fff6f6 96.5px,#ffebeb 104.5px,#ffecec 108.5px,#fff8f8 111px,#fff0f0 112.5px,#ffeeee 113.5px,#fff9f9 117.5px,#ffecec 122.5px,#ffeaea 127.5px,#ffd3d3 130.5px,#ffc4c4 131px,#ff8484 132.5px,#ff7373 133px,#ff6161 136px,#ff5f5f 136.5px,#ff5f5f 147.5px,#ff9595 155.5px,#ff9c9c 156px,#ffffff 162.4px,#fdfdff 162.5px,#9d9dff 166.5px,#8585ff 172px,#8787ff 172.5px,#babaff 178px,#fcfcff 184.5px,#ffffff 184.7px,#ff9898 192.5px,#ff9393 193px,#ff7a7a 202px,#ffb6b6 209.5px,#fffefe 217.5px,#ffffff 217.7px,#cdcdff 226.5px,#6868ff 241.5px,#2727ff 261.5px,#2323ff 268px)"></i><i style="top:119px;background:linear-gradient(90deg,#d0d0ff -1px,#e0e0ff 5.5px,#e7e7ff 10.5px,#f7f7ff 16.5px,#ececff 27px,#ebebff 27.5px,#e2e2ff 29px,#e8e8ff 31px,#f0f0ff 41.5px,#ededff 49.5px,#e3e3ff 54px,#e5e5ff 54.5px,#fbfbff 57px,#f6f6ff 59.5px,#fafaff 62.5px,#fbfbff 65.5px,#ffffff 67.8px,#fffafa 70.5px,#fff2f2 72.5px,#ffdfdf 79px,#ffe1e1 81px,#ffe3e3 81.5px,#fff5f5 83.5px,#fff6f6 84px,#ffeded 86px,#fff7f7 96.5px,#ffebeb 104.5px,#ffecec 107.5px,#fff8f8 110px,#fff8f8 110.5px,#ffeeee 112.5px,#fff9f9 117.5px,#ffeeee 122.5px,#ffebeb 127.5px,#ffd4d4 130.5px,#ffc5c5 131px,#ff8585 132.5px,#ff7373 133px,#ff6262 136px,#ff6060 136.5px,#ff6060 147px,#ff6060 147.5px,#ff9898 155.5px,#fffbfb 162px,#ffffff 162.2px,#f8f8ff 162.5px,#a3a3ff 166px,#9d9dff 166.5px,#8585ff 172px,#bebeff 178px,#ffffff 184.5px,#ffffff 184.5px,#ff9595 192.5px,#ff7c7c 201.5px,#ffb7b7 209px,#fffefe 217px,#ffffff 217.2px,#cdcdff 226px,#6868ff 241px,#2727ff 261px,#2323ff 268px)"></i><i style="top:121px;background:linear-gradient(90deg,#d2d2ff -1px,#e2e2ff 5.5px,#e9e9ff 10.5px,#f7f7ff 16.5px,#ececff 27px,#ebebff 27.5px,#e2e2ff 29px,#e8e8ff 31px,#eaeaff 34.5px,#f2f2ff 41.5px,#eeeeff 49.5px,#e5e5ff 54px,#fbfbff 56.5px,#f6f6ff 59px,#fcfcff 62.5px,#fcfcff 65.5px,#ffffff 67.1px,#fffdfd 68px,#fff9f9 70px,#ffefef 72.5px,#ffdede 78px,#ffe2e2 80.5px,#fff6f6 83px,#ffeeee 85.5px,#fff8f8 96.5px,#ffecec 104.5px,#ffeded 107px,#fffafa 109.5px,#ffeeee 112px,#fffafa 117.5px,#ffefef 122.5px,#ffecec 127.5px,#ffd4d4 130.5px,#ffc6c6 131px,#ff8686 132.5px,#ff7474 133px,#ff6464 136px,#ff6262 136.5px,#ff6262 147px,#ff6363 147.5px,#ff9b9b 155.5px,#fffefe 162px,#ffffff 162px,#a0a0ff 166px,#8888ff 171.5px,#8989ff 172px,#bcbcff 177.5px,#fdfdff 184px,#ffffff 184.2px,#ff9999 192px,#ff9595 192.5px,#ff7e7e 201px,#ffb9b9 208.5px,#fffefe 216.5px,#ffffff 216.7px,#cdcdff 225.5px,#6868ff 240.5px,#2929ff 260px,#2323ff 268px)"></i><i style="top:123px;background:linear-gradient(90deg,#d5d5ff -1px,#e4e4ff 5.5px,#ebebff 10.5px,#f8f8ff 16.5px,#ededff 27px,#ececff 27.5px,#e2e2ff 29px,#e9e9ff 31px,#eaeaff 34.5px,#f4f4ff 41.5px,#f0f0ff 49px,#e6e6ff 53.5px,#fbfbff 56px,#f7f7ff 58.5px,#fefeff 62.5px,#fefeff 65.5px,#ffffff 66.1px,#fffcfc 68px,#fff8f8 69.5px,#ffebeb 72.5px,#ffdede 77.5px,#ffe3e3 80px,#fff7f7 82.5px,#ffefef 85px,#fff9f9 96.5px,#ffeded 104.5px,#ffeeee 106.5px,#fff9f9 109px,#ffefef 111.5px,#ffefef 112.5px,#fffbfb 117.5px,#fff0f0 122.5px,#ffeded 127.5px,#ffd5d5 130.5px,#ffc7c7 131px,#ff8686 132.5px,#ff7474 133px,#ff6363 136.5px,#ff6363 147px,#ff9999 155px,#ff9f9f 155.5px,#ffffff 161.8px,#fcfcff 162px,#a8a8ff 165.5px,#9f9fff 166px,#8888ff 171.5px,#bfbfff 177.5px,#ffffff 183.9px,#fffefe 184px,#ff9696 192px,#ff8080 200.5px,#ff8282 201px,#ffbaba 208px,#fffefe 216px,#ffffff 216.1px,#ccccff 225px,#6868ff 240px,#2929ff 259.5px,#2323ff 268px)"></i><i style="top:125px;background:linear-gradient(90deg,#d7d7ff -1px,#e6e6ff 5.5px,#f8f8ff 16.5px,#ededff 27px,#ececff 27.5px,#e2e2ff 29px,#e9e9ff 31px,#ebebff 34.5px,#f5f5ff 41.5px,#f2f2ff 49px,#e8e8ff 53px,#fbfbff 55.5px,#f7f7ff 58px,#ffffff 62.2px,#fffefe 62.5px,#fffefe 65.5px,#fffafa 68px,#ffe8e8 72.5px,#ffdddd 76.5px,#ffe3e3 79.5px,#fff8f8 82px,#fff0f0 84.5px,#fffafa 96.5px,#ffeeee 104.5px,#fff0f0 106px,#fff9f9 108px,#fff0f0 110.5px,#fff0f0 112px,#fffcfc 117.5px,#fff2f2 122.5px,#ffeeee 127.5px,#ffd6d6 130.5px,#ffc8c8 131px,#ff8787 132.5px,#ff7575 133px,#ff6565 136.5px,#ff6565 147px,#ff9b9b 155px,#fffcfc 161.5px,#ffffff 161.6px,#a4a4ff 165.5px,#9f9fff 166px,#8a8aff 171px,#8a8aff 171.5px,#bdbdff 177px,#fefeff 183.5px,#ffffff 183.6px,#ff9999 191.5px,#ff8282 200px,#ff8484 200.5px,#ffbbbb 207.5px,#fffefe 215.5px,#ffffff 215.6px,#ccccff 224.5px,#6b6bff 239px,#2a2aff 259px,#2323ff 268px)"></i><i style="top:127px;background:linear-gradient(90deg,#d9d9ff -1px,#e9e9ff 5.5px,#f9f9ff 16.5px,#ededff 27px,#ececff 27.5px,#e2e2ff 29px,#e9e9ff 31px,#ececff 34.5px,#f7f7ff 41.5px,#f4f4ff 48.5px,#ebebff 52.5px,#fbfbff 55px,#f7f7ff 56.5px,#f7f7ff 57.5px,#ffffff 61.4px,#fffdfd 62.5px,#fffdfd 65.5px,#fff9f9 67.5px,#ffe5e5 72.5px,#ffdddd 76px,#ffe4e4 79px,#fff9f9 81.5px,#fff1f1 84px,#fffbfb 96.5px,#ffefef 104.5px,#ffefef 105px,#fffafa 107.5px,#fff1f1 110px,#fff1f1 110.5px,#fff1f1 112.5px,#fffcfc 117.5px,#fff3f3 122.5px,#ffeeee 127.5px,#ffd7d7 130.5px,#ffc9c9 131px,#ff8787 132.5px,#ff7676 133px,#ff6666 136.5px,#ff6666 146.5px,#ff6767 147px,#ff9e9e 155px,#ffffff 161.5px,#ffffff 161.5px,#a1a1ff 165.5px,#8a8aff 171px,#c0c0ff 177px,#fcfcff 183px,#ffffff 183.3px,#ff9898 191.5px,#ff8484 199.5px,#ff8585 200px,#ffbcbc 207px,#ffffff 215px,#ffffff 215.1px,#ccccff 224px,#6b6bff 238.5px,#2a2aff 258.5px,#2323ff 268px)"></i><i style="top:129px;background:linear-gradient(90deg,#dbdbff -1px,#ebebff 5.5px,#f9f9ff 16.5px,#ededff 27px,#ececff 27.5px,#e3e3ff 29px,#eaeaff 31px,#ececff 34.5px,#f9f9ff 41.5px,#f6f6ff 48.5px,#eeeeff 52px,#fbfbff 54.5px,#f6f6ff 56px,#f6f6ff 57px,#ffffff 60.8px,#fffbfb 62.5px,#fffbfb 65.5px,#fff8f8 67px,#ffe2e2 72.5px,#ffdcdc 75px,#ffe4e4 78.5px,#fff2f2 80px,#fff8f8 81px,#fff1f1 83.5px,#fffcfc 96.5px,#fff1f1 104.5px,#fffafa 107px,#fff2f2 109.5px,#fff2f2 112px,#fffdfd 117.5px,#fff4f4 122.5px,#ffefef 127.5px,#ffd8d8 130.5px,#ffcaca 131px,#ff8888 132.5px,#ff7676 133px,#ff6868 136.5px,#ff6868 146.5px,#ff9c9c 154.5px,#ffa2a2 155px,#fffbfb 161px,#ffffff 161.2px,#fafaff 161.5px,#a9a9ff 165px,#a1a1ff 165.5px,#8b8bff 171px,#bfbfff 176.5px,#ffffff 183px,#ffffff 183px,#ff9a9a 191px,#ff8787 199.5px,#ffbdbd 206.5px,#ffffff 214.5px,#ffffff 214.5px,#ccccff 223.5px,#6b6bff 238px,#2a2aff 258px,#2222ff 268px)"></i><i style="top:131px;background:linear-gradient(90deg,#dedeff -1px,#ededff 5.5px,#f9f9ff 16.5px,#ededff 27px,#ececff 27.5px,#e3e3ff 29px,#eaeaff 31px,#ededff 34.5px,#fafaff 41.5px,#f8f8ff 48px,#f0f0ff 51.5px,#fbfbff 54px,#f5f5ff 56px,#fcfcff 59.5px,#ffffff 60.6px,#fff9f9 62.5px,#fff8f8 66px,#ffdfdf 72.5px,#ffdbdb 74px,#ffe1e1 77.5px,#fff7f7 80px,#fff8f8 80.5px,#fff2f2 83px,#fffefe 96.5px,#fff3f3 103.5px,#fffafa 106px,#fff2f2 109px,#fff4f4 112.5px,#fffefe 117.5px,#fff0f0 127.5px,#ffd9d9 130.5px,#ffcaca 131px,#ff8989 132.5px,#ff7777 133px,#ff6969 136.5px,#ff6969 146.5px,#ff9f9f 154.5px,#fffdfd 161px,#ffffff 161.1px,#a5a5ff 165px,#a1a1ff 165.5px,#8c8cff 170.5px,#8e8eff 171px,#c2c2ff 176.5px,#fdfdff 182.5px,#ffffff 182.7px,#ff9e9e 190.5px,#ff9a9a 191px,#ff8888 199px,#ffffff 214px,#ffffff 214px,#ccccff 223px,#6b6bff 237.5px,#2b2bff 257.5px,#2222ff 268px)"></i><i style="top:133px;background:linear-gradient(90deg,#e0e0ff -1px,#efefff 5.5px,#fafaff 16.5px,#eeeeff 27px,#ececff 27.5px,#e3e3ff 29px,#ebebff 31px,#ededff 34.5px,#fcfcff 41.5px,#fafaff 48px,#f3f3ff 51px,#fbfbff 53.5px,#f5f5ff 55.5px,#fdfdff 59.5px,#ffffff 60.2px,#fff8f8 62.5px,#fff7f7 65.5px,#ffdddd 72px,#ffd9d9 73.5px,#ffe1e1 77px,#fff7f7 79.5px,#fff8f8 80px,#fff2f2 82.5px,#ffffff 96.5px,#fff4f4 103px,#fffbfb 105.5px,#fff3f3 108px,#fff5f5 112.5px,#ffffff 117.5px,#fff1f1 127.5px,#ffdada 130.5px,#ffcbcb 131px,#ff8989 132.5px,#ff7777 133px,#ff6b6b 136.5px,#ff6b6b 146px,#ff6b6b 146.5px,#ffa2a2 154.5px,#ffffff 160.9px,#fdfdff 161px,#a3a3ff 165px,#8d8dff 170.5px,#ffffff 182.4px,#fffefe 182.5px,#ff9b9b 190.5px,#ff8a8a 198.5px,#ffffff 213.5px,#ffffff 213.5px,#ccccff 222.5px,#6b6bff 237px,#2b2bff 257px,#2222ff 268px)"></i><i style="top:135px;background:linear-gradient(90deg,#e2e2ff -1px,#f2f2ff 5.5px,#fafaff 16px,#eeeeff 27px,#ededff 27.5px,#e3e3ff 29px,#ebebff 31px,#eeeeff 34.5px,#fefeff 41.5px,#fcfcff 47.5px,#f6f6ff 50.5px,#fbfbff 53px,#f4f4ff 55px,#fefeff 59.5px,#ffffff 59.9px,#fff6f6 62.5px,#fff4f4 65.5px,#ffd8d8 72.5px,#ffe0e0 76.5px,#fff7f7 79px,#fff2f2 81.5px,#fffbfb 89.5px,#ffffff 95.3px,#fefeff 96.5px,#ffffff 97px,#fff7f7 102.5px,#fffbfb 105px,#fff4f4 107.5px,#fff6f6 112.5px,#ffffff 117.2px,#ffffff 117.5px,#ffffff 117.9px,#fff2f2 127.5px,#ffdbdb 130.5px,#ffcccc 131px,#ff8a8a 132.5px,#ff7878 133px,#ff6c6c 136.5px,#ff6c6c 146px,#ff6e6e 146.5px,#ffa0a0 154px,#ffa5a5 154.5px,#fffbfb 160.5px,#ffffff 160.7px,#f9f9ff 161px,#a9a9ff 164.5px,#a3a3ff 165px,#8e8eff 170px,#9090ff 170.5px,#fefeff 182px,#ffffff 182.1px,#ff9e9e 190px,#ff8b8b 198px,#ffffff 213px,#ffffff 213px,#ccccff 222px,#6b6bff 236.5px,#2c2cff 256.5px,#2222ff 268px)"></i><i style="top:137px;background:linear-gradient(90deg,#e5e5ff -1px,#f4f4ff 5.5px,#fafaff 16px,#eeeeff 27px,#ededff 27.5px,#e3e3ff 29px,#ebebff 31px,#eeeeff 34.5px,#ffffff 41.3px,#fffefe 41.5px,#ffffff 43.3px,#fefeff 47.5px,#f9f9ff 50px,#fcfcff 52px,#f4f4ff 54.5px,#ffffff 59.5px,#ffffff 59.6px,#fff4f4 62.5px,#fff4f4 64px,#fff1f1 65.5px,#ffd6d6 72px,#ffe0e0 76px,#fff8f8 78.5px,#fff1f1 81px,#fffdfd 89.5px,#ffffff 93.3px,#fdfdff 96.5px,#ffffff 97.7px,#fff9f9 101.5px,#fffbfb 104px,#fff5f5 107px,#fff7f7 112.5px,#ffffff 116.8px,#fefeff 117.5px,#ffffff 118.5px,#fff3f3 127.5px,#ffdcdc 130.5px,#ffcdcd 131px,#ff8b8b 132.5px,#ff7979 133px,#ff6e6e 136.5px,#ff6e6e 146px,#ffa2a2 154px,#ffa8a8 154.5px,#fffefe 160.5px,#ffffff 160.5px,#a6a6ff 164.5px,#8e8eff 170px,#ffffff 181.8px,#fffdfd 182px,#ff9d9d 190px,#ff8d8d 197.5px,#ffffff 212.5px,#ffffff 212.5px,#ccccff 221.5px,#6b6bff 236px,#2c2cff 256px,#2222ff 268px)"></i><i style="top:139px;background:linear-gradient(90deg,#e7e7ff -1px,#f6f6ff 5.5px,#fafaff 10.5px,#fbfbff 16.5px,#f3f3ff 23.5px,#ededff 27.5px,#e3e3ff 29px,#ececff 31px,#efefff 34.5px,#ffffff 40.6px,#fffdfd 41.5px,#fffefe 47px,#ffffff 47.4px,#fbfbff 50px,#fdfdff 51.5px,#f5f5ff 54.5px,#ffffff 59.2px,#fffefe 59.5px,#fff2f2 62.5px,#ffeded 65.5px,#ffd6d6 71.5px,#ffdfdf 75.5px,#fff8f8 78px,#fff0f0 80.5px,#fff5f5 82.5px,#fffefe 89.5px,#ffffff 90.8px,#fcfcff 96.5px,#ffffff 98.4px,#fffbfb 101px,#fffcfc 103.5px,#fff6f6 106px,#fff8f8 112.5px,#ffffff 116.3px,#fdfdff 117.5px,#ffffff 119.1px,#fff4f4 127.5px,#ffdddd 130.5px,#ffcece 131px,#ff8b8b 132.5px,#ff7979 133px,#ff6f6f 136.5px,#ff7070 146px,#ffa5a5 154px,#ffffff 160.3px,#fcfcff 160.5px,#aeaeff 164px,#a5a5ff 164.5px,#9090ff 169.5px,#9191ff 170px,#fefeff 181.5px,#ffffff 181.5px,#ff9f9f 189.5px,#ff8f8f 197px,#ffffff 211.9px,#ffffff 212px,#cbcbff 221px,#6c6cff 235.5px,#2d2dff 255.5px,#2121ff 268px)"></i><i style="top:141px;background:linear-gradient(90deg,#e9e9ff -1px,#f9f9ff 5.5px,#fcfcff 10.5px,#fbfbff 16.5px,#eeeeff 27px,#ededff 27.5px,#e4e4ff 29px,#ececff 31px,#f0f0ff 34.5px,#ffffff 40.1px,#fffbfb 41.5px,#fffcfc 47px,#ffffff 48.5px,#fdfdff 49.5px,#fefeff 51px,#f6f6ff 53.5px,#f6f6ff 54.5px,#ffffff 58.8px,#fffdfd 59.5px,#fff1f1 62.5px,#ffeaea 65.5px,#ffd6d6 70.5px,#ffd7d7 72.5px,#ffdfdf 75px,#ffefef 76.5px,#fff7f7 77.5px,#ffefef 80px,#fff6f6 82.5px,#ffffff 88.9px,#ffffff 89px,#fbfbff 96px,#ffffff 98.9px,#fffdfd 100.5px,#fffdfd 103px,#fff6f6 105.5px,#fff9f9 112.5px,#ffffff 115.8px,#fcfcff 117.5px,#ffffff 120.1px,#fffdfd 122px,#fff5f5 127.5px,#ffdede 130.5px,#ffcfcf 131px,#ff8c8c 132.5px,#ff7a7a 133px,#ff7171 136.5px,#ff7171 145.5px,#ff7272 146px,#ffa8a8 154px,#fffcfc 160px,#ffffff 160.1px,#aaaaff 164px,#a5a5ff 164.5px,#9090ff 169.5px,#fdfdff 181px,#ffffff 181.2px,#ffa2a2 189px,#ff9f9f 189.5px,#ff9191 196.5px,#ff9393 197px,#ffffff 211.4px,#fefeff 211.5px,#cbcbff 220.5px,#6c6cff 235px,#2e2eff 254.5px,#2121ff 268px)"></i><i style="top:143px;background:linear-gradient(90deg,#ebebff -1px,#fbfbff 5.5px,#fefeff 10.5px,#fcfcff 16.5px,#efefff 27px,#ededff 27.5px,#e4e4ff 29px,#ededff 31px,#f0f0ff 34.5px,#ffffff 39.6px,#fff9f9 41.5px,#fffbfb 47px,#ffffff 50px,#fefeff 50.5px,#f8f8ff 53px,#f7f7ff 54.5px,#ffffff 58.3px,#fffcfc 59.5px,#ffeded 62.5px,#ffe6e6 65.5px,#ffd5d5 70px,#ffd7d7 72.5px,#ffdcdc 74px,#ffdede 74.5px,#fff4f4 76.5px,#fff6f6 77px,#ffefef 78.5px,#ffeeee 79.5px,#fff7f7 82.5px,#ffffff 87.9px,#fdfdff 89.5px,#fafaff 96.5px,#ffffff 99.7px,#fffefe 100px,#fffdfd 102.5px,#fff7f7 105px,#fffafa 112.5px,#ffffff 115.3px,#fbfbff 117.5px,#ffffff 121.1px,#fffefe 122.5px,#fff6f6 127.5px,#ffdfdf 130.5px,#ffd0d0 131px,#ff8d8d 132.5px,#ff7a7a 133px,#ff7272 136.5px,#ff7272 145.5px,#ffa6a6 153.5px,#ffffff 160px,#ffffff 160px,#a7a7ff 164px,#9292ff 169px,#9393ff 169.5px,#ffffff 180.9px,#fffefe 181px,#ffa0a0 189px,#ff9393 196px,#ff9595 196.5px,#ffffff 210.9px,#fefeff 211px,#cbcbff 220px,#6e6eff 234px,#2f2fff 254px,#2121ff 268px)"></i><i style="top:145px;background:linear-gradient(90deg,#eeeeff -1px,#fdfdff 5.5px,#ffffff 9px,#fffefe 10.5px,#ffffff 11.8px,#fcfcff 16.5px,#efefff 27px,#eeeeff 27.5px,#e4e4ff 29px,#ededff 31px,#f1f1ff 34.5px,#ffffff 39.1px,#fff8f8 41.5px,#fff9f9 47px,#ffffff 50px,#fafaff 52.5px,#f8f8ff 54.5px,#ffffff 57.8px,#fffcfc 59.5px,#ffeaea 62.5px,#ffe3e3 65.5px,#ffd4d4 69px,#ffd7d7 72.5px,#ffdada 73.5px,#fff4f4 76px,#fff5f5 76.5px,#ffeded 78px,#ffecec 79px,#fff8f8 82.5px,#ffffff 87px,#fbfbff 89.5px,#f9f9ff 96.5px,#ffffff 101.1px,#fffefe 102px,#fff8f8 104.5px,#fffcfc 112.5px,#ffffff 114.7px,#fbfbff 117.5px,#ffffff 122.5px,#ffffff 122.5px,#fff7f7 127.5px,#ffe0e0 130.5px,#ffd1d1 131px,#ff8d8d 132.5px,#ff7b7b 133px,#ff7474 136.5px,#ff7474 145.5px,#ffa8a8 153.5px,#fffbfb 159.5px,#ffffff 159.8px,#fbfbff 160px,#aeaeff 163.5px,#a7a7ff 164px,#9292ff 169px,#fdfdff 180.5px,#ffffff 180.6px,#ffa3a3 188.5px,#ff9595 195.5px,#ff9696 196px,#ffffff 210.4px,#fefeff 210.5px,#cbcbff 219.5px,#6e6eff 233.5px,#2f2fff 253.5px,#2020ff 268px)"></i><i style="top:147px;background:linear-gradient(90deg,#f0f0ff -1px,#ffffff 5.4px,#ffffff 5.5px,#fffcfc 10.5px,#ffffff 12.9px,#efefff 27px,#eeeeff 27.5px,#e4e4ff 29px,#ededff 31px,#f1f1ff 34.5px,#ffffff 38.7px,#fff6f6 41.5px,#fff7f7 46.5px,#fffefe 49px,#ffffff 50.1px,#f9f9ff 54.5px,#ffffff 57.3px,#fffbfb 59.5px,#ffe6e6 62.5px,#ffdfdf 65.5px,#ffd4d4 68.5px,#ffd9d9 73px,#fff4f4 75.5px,#fff4f4 76px,#ffe9e9 78px,#fff9f9 82.5px,#ffffff 86.2px,#fafaff 89.5px,#f7f7ff 96.5px,#ffffff 100.9px,#fff9f9 104.5px,#fffdfd 112.5px,#ffffff 114px,#fafaff 117.5px,#fefeff 122.5px,#ffffff 123.3px,#fff8f8 127.5px,#ffe1e1 130.5px,#ffd2d2 131px,#ff8e8e 132.5px,#ff7c7c 133px,#ff7575 136.5px,#ff7575 145px,#ff7676 145.5px,#ffabab 153.5px,#fffdfd 159.5px,#ffffff 159.6px,#ababff 163.5px,#a7a7ff 164px,#9494ff 168.5px,#9494ff 169px,#ffffff 180.3px,#fffdfd 180.5px,#ffa2a2 188.5px,#ff9797 195px,#ff9898 195.5px,#ffffff 209.9px,#fefeff 210px,#cbcbff 219px,#6e6eff 233px,#2f2fff 253px,#2020ff 268px)"></i><i style="top:149px;background:linear-gradient(90deg,#f2f2ff -1px,#ffffff 4.4px,#fffcfc 5.5px,#fffafa 10.5px,#ffffff 14.2px,#efefff 27px,#eeeeff 27.5px,#e4e4ff 29px,#eeeeff 31px,#f2f2ff 34.5px,#ffffff 38.3px,#fff4f4 41.5px,#fff5f5 46px,#fffdfd 48.5px,#ffffff 50.6px,#fafaff 54.5px,#ffffff 56.8px,#fffafa 59.5px,#ffe3e3 62.5px,#ffdbdb 65.5px,#ffd3d3 67.5px,#ffd7d7 72.5px,#fff5f5 75px,#fff3f3 75.5px,#ffe6e6 77.5px,#fffafa 82.5px,#ffffff 85.5px,#f8f8ff 89.5px,#f6f6ff 96.5px,#fdfdff 99.5px,#ffffff 100.7px,#fffafa 104.5px,#fffefe 112.5px,#ffffff 113.3px,#f9f9ff 117.5px,#fcfcff 122.5px,#ffffff 124px,#fff9f9 127.5px,#ffe2e2 130.5px,#ffd3d3 131px,#ff8e8e 132.5px,#ff7c7c 133px,#ff7777 136.5px,#ff7777 145px,#ffaaaa 153px,#ffafaf 153.5px,#ffffff 159.4px,#fefeff 159.5px,#a9a9ff 163.5px,#9494ff 168.5px,#9797ff 169px,#fefeff 180px,#ffffff 180.1px,#ffa4a4 188px,#ff9999 195px,#fffdfd 209px,#ffffff 209.4px,#cbcbff 218.5px,#6e6eff 232.5px,#3030ff 252.5px,#2020ff 268px)"></i><i style="top:151px;background:linear-gradient(90deg,#f5f5ff -1px,#ffffff 3.4px,#fffafa 5.5px,#fff9f9 10.5px,#ffffff 15.3px,#efefff 27px,#eeeeff 27.5px,#e5e5ff 29px,#eeeeff 31px,#f3f3ff 34.5px,#ffffff 38px,#fff2f2 41.5px,#fff3f3 45.5px,#fffcfc 48px,#fffcfc 50.5px,#ffffff 52.5px,#fbfbff 54.5px,#ffffff 56.3px,#fff9f9 59px,#ffdfdf 62.5px,#ffd2d2 67px,#ffd7d7 72px,#fff5f5 74.5px,#ffe4e4 77px,#fffbfb 82.5px,#ffffff 84.8px,#f7f7ff 89.5px,#f5f5ff 96.5px,#fefeff 99.5px,#fefeff 101.5px,#ffffff 102px,#fffbfb 104.5px,#ffffff 112.5px,#ffffff 112.5px,#f8f8ff 117.5px,#fbfbff 122.5px,#ffffff 124.7px,#fffafa 127.5px,#ffe3e3 130.5px,#ffd3d3 131px,#ff8f8f 132.5px,#ff7d7d 133px,#ff7979 136.5px,#ff7979 145px,#ffacac 153px,#fffcfc 159px,#ffffff 159.2px,#fafaff 159.5px,#afafff 163px,#a9a9ff 163.5px,#9595ff 168.5px,#fcfcff 179.5px,#ffffff 179.7px,#ffa7a7 187.5px,#ffa4a4 188px,#ff9b9b 194.5px,#fffdfd 208.5px,#ffffff 208.9px,#cbcbff 218px,#6e6eff 232px,#3030ff 252px,#1f1fff 268px)"></i><i style="top:153px;background:linear-gradient(90deg,#f7f7ff -1px,#ffffff 2.5px,#fff8f8 5.5px,#fff7f7 10.5px,#ffffff 16.3px,#f0f0ff 27px,#eeeeff 27.5px,#e5e5ff 29px,#eeeeff 31px,#f3f3ff 34.5px,#ffffff 37.7px,#fff1f1 41.5px,#fff1f1 45px,#fffcfc 47.5px,#fff8f8 50px,#ffffff 53.2px,#fcfcff 54.5px,#ffffff 55.7px,#fff9f9 58.5px,#fff4f4 59.5px,#ffdcdc 62.5px,#ffd2d2 66px,#ffd7d7 71.5px,#fff5f5 74px,#ffe2e2 76.5px,#ffe4e4 77.5px,#fffcfc 82.5px,#ffffff 84.2px,#f5f5ff 89.5px,#f4f4ff 96px,#fcfcff 98.5px,#fcfcff 101px,#ffffff 102.5px,#fffcfc 104.5px,#ffffff 110.5px,#fefeff 112.5px,#f8f8ff 117.5px,#fafaff 122.5px,#ffffff 125.3px,#fffbfb 127.5px,#ffe4e4 130.5px,#ffd4d4 131px,#ff9090 132.5px,#ff7d7d 133px,#ff7a7a 136.5px,#ff7a7a 144.5px,#ff7a7a 145px,#ffafaf 153px,#fffefe 159px,#ffffff 159px,#acacff 163px,#9696ff 168px,#9898ff 168.5px,#ffffff 179.5px,#ffffff 179.5px,#ffa5a5 187.5px,#ff9c9c 194px,#fffdfd 208px,#ffffff 208.3px,#cacaff 217.5px,#6f6fff 231.5px,#3131ff 251.5px,#1e1eff 268px)"></i><i style="top:155px;background:linear-gradient(90deg,#f9f9ff -1px,#ffffff 1.5px,#fff6f6 5.5px,#fff5f5 10.5px,#ffffff 15.9px,#fefeff 16.5px,#f0f0ff 27px,#efefff 27.5px,#e5e5ff 29px,#efefff 31px,#f4f4ff 34.5px,#ffffff 37.4px,#ffefef 41.5px,#ffefef 44.5px,#fffbfb 47px,#fff5f5 49.5px,#ffffff 53.8px,#fdfdff 54.5px,#ffffff 55.4px,#fffcfc 57px,#fff1f1 59.5px,#ffd8d8 62.5px,#ffd1d1 65.5px,#ffd8d8 71px,#fff0f0 73px,#fff3f3 73.5px,#ffe0e0 76px,#ffe3e3 77.5px,#fffdfd 82.5px,#ffffff 83.7px,#f4f4ff 89.5px,#f3f3ff 95.5px,#fcfcff 98px,#fafaff 100.5px,#ffffff 103.1px,#fffdfd 104.5px,#ffffff 108.6px,#fdfdff 112.5px,#f7f7ff 117.5px,#f8f8ff 122.5px,#ffffff 125.9px,#fffcfc 127.5px,#ffe5e5 130.5px,#ffd5d5 131px,#ff9090 132.5px,#ff7e7e 133px,#ff7c7c 136.5px,#ff7c7c 144.5px,#ff7d7d 145px,#ffb2b2 153px,#ffffff 158.8px,#fdfdff 159px,#b3b3ff 162.5px,#ababff 163px,#9797ff 168px,#fdfdff 179px,#ffffff 179.1px,#ffa8a8 187px,#ffa5a5 187.5px,#ff9e9e 193.5px,#fffdfd 207.5px,#ffffff 207.8px,#cacaff 217px,#6f6fff 231px,#3131ff 251px,#1e1eff 268px)"></i><i style="top:157px;background:linear-gradient(90deg,#fbfbff -1px,#ffffff 0.5px,#fff3f3 5.5px,#fff3f3 10.5px,#ffffff 16.2px,#fefeff 16.5px,#f0f0ff 27px,#efefff 27.5px,#e5e5ff 29px,#efefff 31px,#f4f4ff 34.5px,#ffffff 37.1px,#ffeded 41.5px,#ffeded 44px,#fffbfb 46.5px,#fff1f1 49px,#ffffff 54.1px,#fefeff 54.5px,#ffffff 55px,#fffcfc 56.5px,#ffeeee 59.5px,#ffd4d4 62.5px,#ffcfcf 64.5px,#ffd5d5 70px,#ffd8d8 70.5px,#fff0f0 72.5px,#fff2f2 73px,#ffe0e0 75px,#ffdede 75.5px,#ffe2e2 77.5px,#fffefe 82.5px,#ffffff 83.1px,#f2f2ff 89.5px,#f2f2ff 95px,#fbfbff 97.5px,#f8f8ff 100px,#ffffff 103.7px,#fffefe 104.5px,#ffffff 106.9px,#fcfcff 112.5px,#f6f6ff 117.5px,#f7f7ff 122.5px,#ffffff 126.4px,#fffdfd 127.5px,#ffe6e6 130.5px,#ffd6d6 131px,#ff9191 132.5px,#ff7f7f 133px,#ff7d7d 144.5px,#ffb0b0 152.5px,#fffcfc 158.5px,#ffffff 158.6px,#b0b0ff 162.5px,#ababff 163px,#9999ff 167.5px,#9a9aff 168px,#ffffff 178.8px,#fffefe 179px,#ffa7a7 187px,#ffa0a0 193px,#fffefe 207px,#ffffff 207.3px,#cacaff 216.5px,#6f6fff 230.5px,#3232ff 250.5px,#1d1dff 268px)"></i><i style="top:159px;background:linear-gradient(90deg,#fefeff -1px,#ffffff -0.4px,#fff1f1 5.5px,#fff1f1 10.5px,#ffffff 16.3px,#ffffff 16.5px,#f0f0ff 27px,#efefff 27.5px,#e5e5ff 29px,#f0f0ff 31px,#f5f5ff 34.5px,#ffffff 36.9px,#ffecec 41.5px,#ffecec 43.5px,#fffbfb 46px,#ffecec 48.5px,#fffefe 54px,#fffdfd 55.5px,#ffebeb 59.5px,#ffd1d1 62.5px,#ffcece 64px,#ffd1d1 65.5px,#ffd5d5 69.5px,#ffd9d9 70px,#fff1f1 72px,#fff0f0 72.5px,#ffdede 74.5px,#ffdcdc 75px,#ffe1e1 77.5px,#ffffff 82.5px,#ffffff 82.7px,#f1f1ff 89.5px,#f0f0ff 94px,#f9f9ff 96.5px,#f6f6ff 99.5px,#ffffff 104.2px,#ffffff 104.5px,#ffffff 105.1px,#f5f5ff 117.5px,#f6f6ff 122.5px,#ffffff 126.9px,#fffefe 127.5px,#ffe6e6 130.5px,#ffd7d7 131px,#ff9292 132.5px,#ff7f7f 133px,#ff7f7f 144.5px,#ffb2b2 152.5px,#ffffff 158.5px,#ffffff 158.5px,#adadff 162.5px,#9999ff 167.5px,#fefeff 178.5px,#ffffff 178.6px,#ffa9a9 186.5px,#ffa2a2 192.5px,#fffefe 206.5px,#ffffff 206.7px,#cdcdff 215.5px,#6f6fff 230px,#3333ff 249.5px,#1d1dff 268px)"></i><i style="top:161px;background:linear-gradient(90deg,#ffffff -1px,#fff0f0 5.5px,#fff0f0 10.5px,#ffffff 16.3px,#ffffff 16.5px,#f0f0ff 27px,#efefff 27.5px,#e5e5ff 29px,#f0f0ff 31px,#f6f6ff 34.5px,#ffffff 36.7px,#ffeaea 41.5px,#ffebeb 43px,#fffbfb 45.5px,#ffebeb 48px,#fffdfd 54px,#fffefe 55px,#ffe9e9 59.5px,#ffd2d2 62px,#ffcccc 63px,#ffd2d2 65.5px,#ffd5d5 69px,#fff1f1 71.5px,#ffefef 72px,#ffdbdb 74px,#ffdbdb 74.5px,#ffe1e1 77.5px,#ffffff 82.4px,#ffffff 82.5px,#f0f0ff 89.5px,#f0f0ff 93.5px,#fafaff 96px,#f4f4ff 98.5px,#ffffff 104.5px,#f5f5ff 117.5px,#f5f5ff 122.5px,#ffffff 127.2px,#fffefe 127.5px,#ffe7e7 130.5px,#ffd8d8 131px,#ff9292 132.5px,#ff8080 133px,#ff8080 144px,#ff8181 144.5px,#ffb5b5 152.5px,#ffffff 158.2px,#fbfbff 158.5px,#b4b4ff 162px,#adadff 162.5px,#9b9bff 167px,#9b9bff 167.5px,#fcfcff 178px,#ffffff 178.2px,#ffabab 186px,#ffa8a8 186.5px,#ffa4a4 192px,#ffa5a5 192.5px,#ffcece 198.5px,#fffefe 206px,#ffffff 206.2px,#cacaff 215.5px,#6f6fff 229.5px,#3434ff 249px,#1c1cff 268px)"></i><i style="top:163px;background:linear-gradient(90deg,#fffefe -1px,#fff0f0 5.5px,#fff1f1 10.5px,#ffffff 16px,#fefeff 16.5px,#f0f0ff 27px,#efefff 27.5px,#e5e5ff 29px,#f1f1ff 31px,#f7f7ff 34.5px,#ffffff 36.4px,#ffeaea 41.5px,#ffebeb 42.5px,#fffafa 45px,#ffeaea 47.5px,#ffeaea 48px,#fffefe 54.5px,#ffe7e7 59.5px,#ffcccc 62.5px,#ffd4d4 65.5px,#ffd6d6 68.5px,#fff3f3 71px,#ffdada 73.5px,#ffdada 74px,#ffe3e3 77.5px,#ffffff 82.3px,#fefeff 82.5px,#efefff 89.5px,#efefff 93px,#fafaff 95.5px,#f2f2ff 98px,#fefeff 104.5px,#f5f5ff 117.5px,#f5f5ff 122.5px,#ffffff 127.5px,#ffffff 127.5px,#ffe8e8 130.5px,#ffd9d9 131px,#ff9393 132.5px,#ff8181 133px,#ff8181 144px,#ffb3b3 152px,#fffefe 158px,#ffffff 158.1px,#b1b1ff 162px,#adadff 162.5px,#9b9bff 167px,#ffffff 178px,#ffffff 178px,#ffa9a9 186px,#ffa4a4 191.5px,#ffa5a5 192px,#ffcfcf 198px,#fffefe 205.5px,#ffffff 205.7px,#cdcdff 214.5px,#7272ff 228.5px,#3333ff 248.5px,#1c1cff 268px)"></i><i style="top:165px;background:linear-gradient(90deg,#fffdfd -1px,#fff0f0 5.5px,#fff2f2 10.5px,#ffffff 15.7px,#fdfdff 16.5px,#f0f0ff 27px,#efefff 27.5px,#e5e5ff 29px,#f1f1ff 31px,#f9f9ff 34.5px,#ffffff 36.1px,#ffeaea 41.5px,#ffebeb 42px,#fffafa 44.5px,#ffeaea 47px,#ffeaea 48px,#fffbfb 53.5px,#fffbfb 54.5px,#ffe5e5 59.5px,#ffd2d2 61.5px,#ffcece 62.5px,#ffd6d6 65.5px,#ffd8d8 68px,#fff3f3 70.5px,#ffd9d9 73px,#ffe4e4 77.5px,#ffffff 82.2px,#fdfdff 82.5px,#efefff 89.5px,#f0f0ff 92.5px,#f9f9ff 95px,#f1f1ff 97.5px,#fdfdff 104.5px,#f4f4ff 117.5px,#f5f5ff 122.5px,#fefeff 127.5px,#ffffff 127.6px,#ffe9e9 130.5px,#ffdada 131px,#ff9494 132.5px,#ff8282 133px,#ff8282 144px,#ffb5b5 152px,#ffffff 157.9px,#fdfdff 158px,#afafff 162px,#9c9cff 167px,#fdfdff 177.5px,#ffffff 177.7px,#ffaaaa 185.5px,#ffa5a5 191.5px,#ffcfcf 197.5px,#fffefe 205px,#ffffff 205.2px,#ccccff 214px,#7272ff 228px,#3333ff 248px,#1b1bff 268px)"></i><i style="top:167px;background:linear-gradient(90deg,#fffcfc -1px,#fff0f0 5.5px,#fff3f3 10.5px,#ffffff 15.4px,#fcfcff 16.5px,#efefff 27px,#eeeeff 27.5px,#e4e4ff 29px,#f2f2ff 31px,#fafaff 34.5px,#ffffff 35.7px,#ffebeb 41px,#ffebeb 41.5px,#fff9f9 43.5px,#fff9f9 44px,#ffeaea 46.5px,#ffeaea 48.5px,#fff8f8 53px,#fff9f9 54.5px,#ffe6e6 59px,#ffd6d6 61px,#ffd0d0 62.5px,#ffdbdb 67.5px,#fff0f0 69.5px,#fff2f2 70px,#ffd8d8 72.5px,#ffe5e5 77.5px,#ffffff 82.1px,#fdfdff 82.5px,#eeeeff 89.5px,#eeeeff 91.5px,#f9f9ff 94px,#efefff 96.5px,#efefff 97px,#fcfcff 104.5px,#f4f4ff 117.5px,#f4f4ff 122.5px,#fefeff 127.5px,#ffffff 127.7px,#ffeaea 130.5px,#ffdbdb 131px,#ff9595 132.5px,#ff8383 133px,#ff8383 144px,#ffb7b7 152px,#fffcfc 157.5px,#ffffff 157.6px,#b4b4ff 161.5px,#afafff 162px,#9d9dff 166.5px,#9f9fff 167px,#ffffff 177.4px,#fffefe 177.5px,#ffacac 185px,#ffa9a9 185.5px,#ffa5a5 191px,#ffd0d0 197px,#fffefe 204.5px,#ffffff 204.6px,#ccccff 213.5px,#7272ff 227.5px,#3333ff 247.5px,#1b1bff 268px)"></i><i style="top:169px;background:linear-gradient(90deg,#fffbfb -1px,#fff1f1 5.5px,#fff3f3 10.5px,#ffffff 15.1px,#fcfcff 16.5px,#efefff 27px,#eeeeff 27.5px,#e4e4ff 29px,#f2f2ff 31px,#fcfcff 34.5px,#ffffff 35.4px,#ffecec 40.5px,#ffeeee 41.5px,#fff9f9 43px,#fff9f9 43.5px,#ffe9e9 46px,#ffeaea 48.5px,#fff5f5 52px,#fff6f6 54.5px,#ffe4e4 59px,#ffdada 60.5px,#ffd2d2 62.5px,#ffdada 66.5px,#ffdddd 67px,#fff1f1 69px,#fff2f2 69.5px,#ffdcdc 71.5px,#ffd8d8 72px,#ffd8d8 72.5px,#ffe6e6 77.5px,#ffffff 82px,#fcfcff 82.5px,#eeeeff 89.5px,#eeeeff 91px,#fafaff 93.5px,#eeeeff 96px,#fbfbff 104.5px,#f4f4ff 117.5px,#f4f4ff 122.5px,#fdfdff 127.5px,#ffffff 127.7px,#ffebeb 130.5px,#ffdcdc 131px,#ff9696 132.5px,#ff8484 133px,#ff8484 143.5px,#ff8484 144px,#ffbaba 152px,#ffffff 157.5px,#ffffff 157.5px,#b1b1ff 161.5px,#9d9dff 166.5px,#fefeff 177px,#ffffff 177.1px,#ffa9a9 185px,#ffa6a6 190.5px,#ffa8a8 191px,#ffd1d1 196.5px,#ffffff 204.3px,#ccccff 213px,#7373ff 227px,#3333ff 247px,#1a1aff 268px)"></i><i style="top:171px;background:linear-gradient(90deg,#fffafa -1px,#fff1f1 5.5px,#fff4f4 10.5px,#ffffff 14.8px,#fbfbff 16.5px,#efefff 27px,#eeeeff 27.5px,#e3e3ff 29px,#f3f3ff 31px,#ffffff 34.6px,#ffeded 40px,#ffefef 41px,#fff9f9 42.5px,#fff8f8 43px,#ffeaea 45px,#ffe9e9 45.5px,#ffeaea 48.5px,#fff3f3 51.5px,#fff4f4 54.5px,#ffd4d4 62.5px,#ffdcdc 66px,#fff3f3 68.5px,#fff1f1 69px,#ffdbdb 71px,#ffd9d9 72.5px,#ffe7e7 77.5px,#ffffff 81.9px,#fcfcff 82.5px,#eeeeff 89.5px,#eeeeff 90.5px,#f9f9ff 93px,#eeeeff 95.5px,#fafaff 104.5px,#f4f4ff 117.5px,#f4f4ff 122.5px,#fdfdff 127.5px,#ffffff 127.8px,#ffecec 130.5px,#ffdddd 131px,#ff9797 132.5px,#ff8585 133px,#ff8585 143.5px,#ff8686 144px,#ffb7b7 151.5px,#fffbfb 157px,#ffffff 157.2px,#fbfbff 157.5px,#b7b7ff 161px,#b1b1ff 161.5px,#9f9fff 166px,#a0a0ff 166.5px,#fcfcff 176.5px,#ffffff 176.7px,#ffaaaa 184.5px,#ffa6a6 190px,#ffa7a7 190.5px,#ffd1d1 196px,#ffffff 203.7px,#cbcbff 212.5px,#7373ff 226.5px,#3333ff 246.5px,#1a1aff 268px)"></i><i style="top:173px;background:linear-gradient(90deg,#fff9f9 -1px,#fff1f1 5.5px,#fff5f5 10.5px,#ffffff 14.5px,#fafaff 16.5px,#efefff 27px,#eeeeff 27.5px,#e3e3ff 29px,#f4f4ff 31px,#ffffff 34.5px,#ffeeee 39.5px,#fff1f1 40.5px,#fff9f9 42px,#fff8f8 42.5px,#ffeaea 44.5px,#ffe9e9 45px,#ffeaea 48.5px,#fff0f0 50.5px,#fff1f1 54.5px,#ffe2e2 58.5px,#ffe2e2 59.5px,#ffd6d6 62.5px,#ffdddd 65.5px,#fff4f4 68px,#ffdbdb 70.5px,#ffd9d9 72.5px,#ffe8e8 77.5px,#ffffff 81.8px,#fbfbff 82.5px,#ededff 89.5px,#f9f9ff 92px,#f8f8ff 92.5px,#ededff 95px,#ededff 96.5px,#f9f9ff 104.5px,#f4f4ff 117.5px,#f4f4ff 122.5px,#fcfcff 127.5px,#ffffff 127.9px,#ffeded 130.5px,#ffdede 131px,#ff9898 132.5px,#ff8686 133px,#ff8686 143.5px,#ffb9b9 151.5px,#fffefe 157px,#ffffff 157.1px,#b4b4ff 161px,#9f9fff 166px,#cbcbff 171px,#ffffff 176.5px,#ffffff 176.5px,#ffacac 184px,#ffa9a9 184.5px,#ffa7a7 190px,#ffd2d2 195.5px,#ffffff 203.2px,#cbcbff 212px,#7373ff 226px,#3333ff 246px,#1a1aff 268px)"></i><i style="top:175px;background:linear-gradient(90deg,#fff8f8 -1px,#fff1f1 5.5px,#fff5f5 10px,#ffffff 14.1px,#f9f9ff 16.5px,#efefff 27px,#eeeeff 27.5px,#e3e3ff 29px,#f4f4ff 31px,#ffffff 34.3px,#ffefef 39px,#fff2f2 40px,#fffafa 41.5px,#ffe9e9 44px,#ffe8e8 44.5px,#ffe9e9 48.5px,#ffeeee 50px,#ffefef 54.5px,#ffe2e2 58px,#ffe4e4 59.5px,#ffd8d8 62.5px,#ffdede 65px,#fff5f5 67.5px,#ffdada 70px,#ffd9d9 72.5px,#ffe9e9 77.5px,#ffffff 81.7px,#fbfbff 82.5px,#eeeeff 89px,#f9f9ff 91.5px,#ededff 94px,#ededff 94.5px,#ededff 96.5px,#f8f8ff 104.5px,#f4f4ff 122.5px,#fbfbff 127.5px,#ffffff 128px,#ffeeee 130.5px,#ffdfdf 131px,#ff9999 132.5px,#ff8787 133px,#ff8787 143.5px,#ffbcbc 151.5px,#ffffff 156.8px,#fdfdff 157px,#babaff 160.5px,#b3b3ff 161px,#a1a1ff 166px,#fdfdff 176px,#ffffff 176.2px,#ffaaaa 184px,#ffa7a7 189.5px,#ffd2d2 195px,#ffffff 202.6px,#ceceff 211px,#7474ff 225.5px,#3333ff 245.5px,#1919ff 268px)"></i><i style="top:177px;background:linear-gradient(90deg,#fff7f7 -1px,#fff1f1 5.5px,#fff6f6 10px,#ffffff 13.8px,#f9f9ff 16.5px,#eeeeff 27px,#ededff 27.5px,#e2e2ff 29px,#f5f5ff 31px,#ffffff 33.7px,#fffcfc 34.5px,#fff0f0 38.5px,#fff3f3 39.5px,#fffafa 41px,#ffe8e8 43.5px,#ffecec 54.5px,#ffe3e3 57px,#ffe6e6 59.5px,#ffdada 62.5px,#ffe0e0 64.5px,#ffeaea 65.5px,#fff4f4 67px,#ffdbdb 69.5px,#ffdada 72px,#ffeaea 77.5px,#ffffff 81.5px,#fafaff 82.5px,#efefff 88.5px,#f9f9ff 91px,#ededff 93.5px,#ededff 96.5px,#f7f7ff 104.5px,#f3f3ff 122.5px,#fbfbff 127.5px,#ffffff 128.1px,#ffefef 130.5px,#ffe0e0 131px,#ff9a9a 132.5px,#ff8787 133px,#ff8888 143.5px,#ffbaba 151px,#ffbfbf 151.5px,#fffdfd 156.5px,#ffffff 156.6px,#b7b7ff 160.5px,#b3b3ff 161px,#a2a2ff 165.5px,#a4a4ff 166px,#ccccff 170.5px,#ffffff 175.9px,#fffefe 176px,#ffabab 183.5px,#ffa8a8 189px,#ffaaaa 189.5px,#ffd6d6 195px,#ffffff 202px,#cdcdff 210.5px,#7474ff 225px,#3434ff 244.5px,#1919ff 268px)"></i><i style="top:179px;background:linear-gradient(90deg,#fff6f6 -1px,#fff2f2 5.5px,#fff6f6 10px,#ffffff 13.5px,#f8f8ff 16.5px,#eeeeff 27px,#ededff 27.5px,#e2e2ff 29px,#f5f5ff 31px,#ffffff 33.4px,#fffbfb 34.5px,#fff1f1 38px,#fffbfb 40.5px,#ffe7e7 43px,#ffeaea 54px,#ffe3e3 56.5px,#ffe8e8 59.5px,#ffdcdc 62.5px,#ffdede 63.5px,#fff3f3 66px,#fff3f3 66.5px,#ffdede 68.5px,#ffdbdb 69px,#ffdada 72px,#ffecec 77.5px,#ffffff 81.4px,#f9f9ff 82.5px,#f0f0ff 87.5px,#f8f8ff 90.5px,#ececff 93px,#ececff 96.5px,#f6f6ff 104.5px,#f3f3ff 122.5px,#fafaff 127.5px,#ffffff 128.2px,#fff0f0 130.5px,#ffe1e1 131px,#ff9b9b 132.5px,#ff8888 133px,#ff8888 143px,#ff8989 143.5px,#ffbbbb 151px,#ffffff 156.5px,#fefeff 156.5px,#b4b4ff 160.5px,#a2a2ff 165.5px,#ceceff 170.5px,#fefeff 175.5px,#ffffff 175.6px,#ffadad 183px,#ffaaaa 183.5px,#ffa9a9 188.5px,#ffa9a9 189px,#ffd7d7 194.5px,#ffffff 201.4px,#cdcdff 210px,#7474ff 224.5px,#3333ff 244px,#1818ff 268px)"></i><i style="top:181px;background:linear-gradient(90deg,#fff5f5 -1px,#fff2f2 5.5px,#fff7f7 10px,#ffffff 13.2px,#f7f7ff 16.5px,#eeeeff 27px,#ededff 27.5px,#e2e2ff 29px,#f6f6ff 31px,#ffffff 33.1px,#fffbfb 34px,#fff1f1 37.5px,#fffafa 40px,#ffe7e7 42.5px,#ffe8e8 54px,#ffe4e4 55.5px,#ffeaea 59.5px,#ffdddd 62.5px,#ffdfdf 63px,#fff4f4 65.5px,#fff3f3 66px,#ffdede 68px,#ffdbdb 68.5px,#ffdada 72px,#ffeded 77.5px,#ffffff 81.2px,#f9f9ff 82.5px,#f0f0ff 87px,#f9f9ff 89.5px,#ececff 92.5px,#ececff 96.5px,#f5f5ff 104.5px,#f3f3ff 122.5px,#fafaff 127.5px,#ffffff 128.3px,#fff1f1 130.5px,#ffe1e1 131px,#ff9c9c 132.5px,#ff8989 133px,#ff8989 143px,#ff8b8b 143.5px,#ffbebe 151px,#fffcfc 156px,#ffffff 156.2px,#babaff 160px,#b4b4ff 160.5px,#a4a4ff 165px,#a5a5ff 165.5px,#cdcdff 170px,#fcfcff 175px,#ffffff 175.3px,#ffaaaa 183px,#ffa9a9 188.5px,#ffd7d7 194px,#ffffff 200.8px,#cdcdff 209.5px,#7777ff 223.5px,#3333ff 243.5px,#1818ff 268px)"></i><i style="top:183px;background:linear-gradient(90deg,#fff4f4 -1px,#fff2f2 5.5px,#fff8f8 10px,#ffffff 12.9px,#f6f6ff 16.5px,#eeeeff 27px,#ededff 27.5px,#e1e1ff 29px,#f7f7ff 31px,#ffffff 32.8px,#fffafa 34px,#fff2f2 37px,#fffafa 39.5px,#ffe6e6 42px,#ffe8e8 47px,#ffe5e5 48.5px,#ffe4e4 55px,#ffebeb 59.5px,#ffdfdf 62.5px,#fff5f5 65px,#fff2f2 65.5px,#ffdede 67.5px,#ffdbdb 68.5px,#ffdbdb 72px,#ffeeee 77.5px,#ffffff 81.1px,#f8f8ff 82.5px,#f1f1ff 86.5px,#f9f9ff 89px,#ebebff 91.5px,#ebebff 96.5px,#f4f4ff 104.5px,#f3f3ff 122.5px,#f9f9ff 127.5px,#ffffff 128.4px,#fff2f2 130.5px,#ffe2e2 131px,#ff9d9d 132.5px,#ff8a8a 133px,#ff8a8a 143px,#ffbcbc 150.5px,#ffc1c1 151px,#fffefe 156px,#ffffff 156px,#b7b7ff 160px,#a4a4ff 165px,#cfcfff 170px,#ffffff 175px,#ffffff 175px,#ffabab 182.5px,#ffaaaa 188px,#ffd8d8 193.5px,#ffffff 200.4px,#ffffff 200.5px,#7777ff 223px,#3333ff 243px,#1818ff 268px)"></i><i style="top:185px;background:linear-gradient(90deg,#fff3f3 -1px,#fff2f2 5.5px,#fff9f9 10.5px,#ffffff 12.7px,#f5f5ff 16.5px,#eeeeff 27px,#ededff 27.5px,#e1e1ff 29px,#f7f7ff 31px,#ffffff 32.6px,#fff8f8 34px,#fff2f2 36.5px,#fffafa 39px,#ffe6e6 41.5px,#ffe7e7 46px,#ffe3e3 48.5px,#ffe3e3 54px,#ffeded 59.5px,#ffe3e3 62px,#ffe5e5 62.5px,#fff6f6 64.5px,#ffdede 67px,#ffdbdb 68.5px,#ffdbdb 72px,#ffefef 77.5px,#ffffff 80.9px,#f8f8ff 82.5px,#f2f2ff 86px,#f9f9ff 88.5px,#ebebff 91px,#ebebff 96.5px,#f3f3ff 104.5px,#f3f3ff 122.5px,#f9f9ff 127.5px,#ffffff 128.5px,#fff3f3 130.5px,#ffe3e3 131px,#ff9e9e 132.5px,#ff8b8b 133px,#ff8b8b 143px,#ffbebe 150.5px,#ffffff 155.8px,#fcfcff 156px,#bdbdff 159.5px,#b6b6ff 160px,#a6a6ff 164.5px,#a6a6ff 165px,#d2d2ff 170px,#fdfdff 174.5px,#ffffff 174.7px,#ffadad 182px,#ffabab 182.5px,#ffaaaa 187.5px,#ffacac 188px,#ffd9d9 193px,#ffffff 199.9px,#ffffff 200px,#7777ff 222.5px,#3333ff 242.5px,#1717ff 268px)"></i><i style="top:187px;background:linear-gradient(90deg,#fff2f2 -1px,#fff2f2 5.5px,#fffafa 10.5px,#ffffff 12.4px,#f5f5ff 16.5px,#ededff 27px,#ececff 27.5px,#e0e0ff 29px,#f8f8ff 31px,#ffffff 32.4px,#fff5f5 34.5px,#fff2f2 36px,#fffafa 38px,#fffafa 38.5px,#ffe9e9 40.5px,#ffe6e6 41.5px,#ffe7e7 45.5px,#ffe0e0 48.5px,#ffe0e0 53px,#ffe6e6 54.5px,#ffefef 59px,#ffefef 59.5px,#ffe7e7 61.5px,#ffe8e8 62px,#fff5f5 64px,#ffdfdf 66.5px,#ffdbdb 68.5px,#ffdbdb 72px,#ffeeee 77px,#ffffff 80.8px,#f7f7ff 82.5px,#f3f3ff 85px,#f9f9ff 87.5px,#ebebff 90.5px,#ebebff 96.5px,#f2f2ff 104.5px,#f2f2ff 122.5px,#f8f8ff 127.5px,#ffffff 128.6px,#fff3f3 130.5px,#ffe4e4 131px,#ff9f9f 132.5px,#ff8c8c 133px,#ff8c8c 142.5px,#ff8d8d 143px,#ffc0c0 150.5px,#fffdfd 155.5px,#ffffff 155.6px,#babaff 159.5px,#b6b6ff 160px,#a6a6ff 164.5px,#a9a9ff 165px,#d0d0ff 169.5px,#fbfbff 174px,#ffffff 174.4px,#ffabab 182px,#ffabab 187px,#ffacac 187.5px,#ffd9d9 192.5px,#ffffff 199.4px,#fefeff 199.5px,#7878ff 222px,#3333ff 242px,#1717ff 268px)"></i><i style="top:189px;background:linear-gradient(90deg,#fff1f1 -1px,#fff3f3 5.5px,#fffbfb 10.5px,#ffffff 12.1px,#f4f4ff 16.5px,#ededff 27px,#ececff 27.5px,#e0e0ff 29px,#f8f8ff 31px,#ffffff 32.2px,#fff3f3 34.5px,#fff2f2 35.5px,#fffafa 37.5px,#fff9f9 38px,#ffe7e7 40.5px,#ffe5e5 41.5px,#ffe6e6 44.5px,#ffdede 48.5px,#ffdede 52.5px,#ffe7e7 54.5px,#fff1f1 59px,#fff1f1 59.5px,#ffebeb 61px,#ffebeb 61.5px,#fff4f4 63.5px,#ffdfdf 66px,#ffdbdb 68.5px,#ffdcdc 72.5px,#ffffff 80.6px,#f7f7ff 82.5px,#f3f3ff 84.5px,#fafaff 87px,#eaeaff 89.5px,#eaeaff 96.5px,#f1f1ff 104.5px,#f2f2ff 122.5px,#f7f7ff 127.5px,#ffffff 128.8px,#fff4f4 130.5px,#ffe5e5 131px,#ffa0a0 132.5px,#ff8d8d 133px,#ff8d8d 142.5px,#ff8f8f 143px,#ffc3c3 150.5px,#ffffff 155.4px,#fefeff 155.5px,#b8b8ff 159.5px,#a7a7ff 164.5px,#d2d2ff 169.5px,#fefeff 174px,#ffffff 174.1px,#ffacac 181.5px,#ffabab 187px,#ffdada 192px,#ffffff 198.9px,#fefeff 199px,#7878ff 221.5px,#3333ff 241.5px,#1717ff 268px)"></i><i style="top:191px;background:linear-gradient(90deg,#fff0f0 -1px,#fff3f3 5.5px,#fffcfc 10.5px,#ffffff 11.8px,#f3f3ff 16.5px,#ededff 27px,#ececff 27.5px,#e0e0ff 29px,#f9f9ff 31px,#ffffff 32.1px,#fff2f2 34.5px,#fffbfb 37px,#fff9f9 37.5px,#ffe7e7 40px,#ffe5e5 41.5px,#ffe6e6 44px,#ffdcdc 48.5px,#ffdcdc 52px,#ffe8e8 54.5px,#fff3f3 59px,#ffefef 61px,#fff4f4 62.5px,#fff3f3 63px,#ffe2e2 65px,#ffe0e0 65.5px,#ffdbdb 68.5px,#ffdcdc 72.5px,#ffffff 80.4px,#f6f6ff 82.5px,#f4f4ff 84px,#fafaff 86.5px,#ebebff 89px,#eaeaff 89.5px,#eaeaff 96.5px,#f0f0ff 104.5px,#f2f2ff 122.5px,#f7f7ff 127.5px,#ffffff 128.9px,#fff5f5 130.5px,#ffe6e6 131px,#ffa1a1 132.5px,#ff8e8e 133px,#ff8e8e 142.5px,#ffc0c0 150px,#fffcfc 155px,#ffffff 155.2px,#bdbdff 159px,#b8b8ff 159.5px,#a8a8ff 164px,#aaaaff 164.5px,#d0d0ff 169px,#fcfcff 173.5px,#ffffff 173.8px,#ffaeae 181px,#ffabab 181.5px,#ffacac 186.5px,#ffdada 191.5px,#ffffff 198.3px,#fefeff 198.5px,#7878ff 221px,#3333ff 241px,#1616ff 268px)"></i><i style="top:193px;background:linear-gradient(90deg,#ffefef -1px,#fff3f3 5.5px,#fffcfc 10.5px,#ffffff 11.5px,#f2f2ff 16.5px,#ededff 27px,#ececff 27.5px,#dfdfff 29px,#fafaff 31px,#ffffff 31.9px,#fff3f3 34px,#fff2f2 34.5px,#fffbfb 36.5px,#ffe9e9 39px,#ffe8e8 39.5px,#ffe4e4 41.5px,#ffe4e4 43.5px,#ffdada 48.5px,#ffdada 51px,#ffeaea 54.5px,#fff4f4 59px,#fff2f2 60.5px,#fff6f6 62px,#ffe1e1 64.5px,#ffdbdb 68.5px,#ffdddd 72.5px,#ffffff 80.3px,#f5f5ff 82.5px,#f5f5ff 83.5px,#fafaff 85.5px,#f9f9ff 86px,#ededff 88px,#e9e9ff 89.5px,#eaeaff 96.5px,#efefff 104.5px,#f2f2ff 122.5px,#f6f6ff 127.5px,#ffffff 129px,#fff6f6 130.5px,#ffe7e7 131px,#ffa2a2 132.5px,#ff8f8f 133px,#ff8f8f 142.5px,#ffc3c3 150px,#ffffff 155px,#ffffff 155px,#bbbbff 159px,#a9a9ff 164px,#d3d3ff 169px,#ffffff 173.5px,#ffffff 173.5px,#ffabab 181px,#ffacac 186px,#ffafaf 186.5px,#ffdbdb 191px,#ffffff 197.8px,#fefeff 198px,#7979ff 220.5px,#3333ff 240.5px,#1616ff 268px)"></i><i style="top:195px;background:linear-gradient(90deg,#ffeeee -1px,#fff3f3 5.5px,#ffffff 10.7px,#f2f2ff 16.5px,#ededff 27px,#ececff 27.5px,#dfdfff 29px,#fafaff 31px,#ffffff 31.8px,#fff4f4 33.5px,#fff4f4 34.5px,#fffbfb 36px,#ffe9e9 38.5px,#ffe4e4 42.5px,#ffd8d8 48.5px,#ffd8d8 50px,#ffd8d8 50.5px,#ffebeb 54.5px,#fff5f5 58.5px,#fff5f5 60.5px,#fff7f7 61.5px,#ffe1e1 64px,#ffdbdb 68.5px,#ffdddd 72.5px,#ffffff 80.2px,#f5f5ff 82.5px,#fafaff 85px,#ededff 87.5px,#e9e9ff 89.5px,#e9e9ff 96.5px,#eeeeff 104.5px,#f2f2ff 122.5px,#f6f6ff 127.5px,#ffffff 129.1px,#fff7f7 130.5px,#ffe8e8 131px,#ffa3a3 132.5px,#ff9090 133px,#ff9090 142px,#ff9090 142.5px,#ffc5c5 150px,#ffffff 154.8px,#fcfcff 155px,#c0c0ff 158.5px,#babaff 159px,#ababff 163.5px,#ababff 164px,#d1d1ff 168.5px,#fdfdff 173px,#ffffff 173.2px,#ffacac 180.5px,#ffadad 185.5px,#ffaeae 186px,#ffdbdb 190.5px,#ffdede 191px,#ffffff 197.3px,#fefeff 197.5px,#cacaff 206px,#7979ff 220px,#3434ff 239.5px,#1616ff 268px)"></i><i style="top:197px;background:linear-gradient(90deg,#ffeeee -1px,#fff3f3 5.5px,#ffffff 10.5px,#f1f1ff 16.5px,#ececff 27px,#ebebff 27.5px,#dfdfff 29px,#fbfbff 31px,#ffffff 31.6px,#fff6f6 33px,#fff5f5 34px,#fffbfb 35.5px,#ffe8e8 38px,#ffd6d6 49.5px,#ffecec 54.5px,#fff4f4 57.5px,#fff8f8 61px,#ffe8e8 62.5px,#ffe0e0 63.5px,#ffe0e0 65.5px,#ffdbdb 68.5px,#ffdede 72.5px,#fff6f6 77.5px,#ffffff 79.8px,#f6f6ff 82px,#fafaff 84.5px,#ededff 87px,#e9e9ff 89.5px,#e9e9ff 96.5px,#eeeeff 104.5px,#f1f1ff 122.5px,#f4f4ff 127px,#f5f5ff 127.5px,#ffffff 129.3px,#fff8f8 130.5px,#ffe9e9 131px,#ffa4a4 132.5px,#ff9191 133px,#ff9191 142px,#ff9292 142.5px,#ffc3c3 149.5px,#ffc8c8 150px,#fffdfd 154.5px,#ffffff 154.6px,#bebeff 158.5px,#babaff 159px,#ababff 163.5px,#d4d4ff 168.5px,#fbfbff 172.5px,#ffffff 172.9px,#ffaeae 180px,#ffacac 180.5px,#ffaeae 185.5px,#ffdfdf 190.5px,#ffffff 196.8px,#fefeff 197px,#cdcdff 205px,#7979ff 219.5px,#3333ff 239px,#1515ff 268px)"></i><i style="top:199px;background:linear-gradient(90deg,#ffeded -1px,#fff4f4 5.5px,#ffffff 10.3px,#f0f0ff 16.5px,#ececff 27px,#ebebff 27.5px,#dedeff 29px,#fbfbff 31px,#ffffff 31.5px,#fff9f9 32.5px,#fff6f6 33.5px,#fffbfb 35px,#ffe8e8 37.5px,#ffe4e4 41px,#ffd4d4 48.5px,#ffd4d4 49px,#ffeeee 54.5px,#fff9f9 59.5px,#fff9f9 60.5px,#fff0f0 61.5px,#ffe3e3 62.5px,#ffe0e0 63px,#ffe0e0 65.5px,#ffdbdb 68.5px,#ffdede 72.5px,#fff7f7 77.5px,#ffffff 79.6px,#f9f9ff 81px,#f7f7ff 82px,#fafaff 84px,#ededff 86.5px,#e8e8ff 89.5px,#e8e8ff 96.5px,#f4f4ff 127px,#f4f4ff 127.5px,#ffffff 129.4px,#fff9f9 130.5px,#ffeaea 131px,#ffa4a4 132.5px,#ff9292 133px,#ff9292 142px,#ffc5c5 149.5px,#ffffff 154.4px,#fefeff 154.5px,#bcbcff 158.5px,#acacff 163.5px,#d2d2ff 168px,#fefeff 172.5px,#ffffff 172.6px,#ffacac 180px,#ffaeae 185px,#ffe0e0 190px,#ffffff 196.2px,#fefeff 196.5px,#ccccff 204.5px,#7a7aff 219px,#3333ff 238.5px,#1515ff 268px)"></i><i style="top:201px;background:linear-gradient(90deg,#ffecec -1px,#fff4f4 5.5px,#ffffff 10.1px,#efefff 16.5px,#ececff 27px,#ebebff 27.5px,#dedeff 29px,#fcfcff 31px,#ffffff 31.5px,#fff9f9 32.5px,#fffafa 34.5px,#ffe7e7 37px,#ffe4e4 40px,#ffd3d3 48px,#ffefef 54.5px,#fffbfb 59.5px,#fff6f6 60.5px,#ffe0e0 62.5px,#ffe0e0 65.5px,#ffdbdb 68.5px,#ffdede 72.5px,#fff8f8 77.5px,#ffffff 79.3px,#fbfbff 80.5px,#f9f9ff 82px,#fbfbff 83px,#efefff 85.5px,#e8e8ff 89.5px,#e8e8ff 96.5px,#f3f3ff 127px,#f4f4ff 127.5px,#ffffff 129.6px,#fffafa 130.5px,#ffebeb 131px,#ffa5a5 132.5px,#ff9393 133px,#ff9393 142px,#ffc8c8 149.5px,#fffcfc 154px,#ffffff 154.2px,#c1c1ff 158px,#bcbcff 158.5px,#adadff 163px,#afafff 163.5px,#d4d4ff 168px,#fcfcff 172px,#ffffff 172.3px,#ffadad 179.5px,#ffafaf 184.5px,#ffb1b1 185px,#ffe0e0 189.5px,#ffffff 195.7px,#fefeff 196px,#ccccff 204px,#7c7cff 218px,#3333ff 238px,#1515ff 268px)"></i><i style="top:203px;background:linear-gradient(90deg,#ffebeb -1px,#fff4f4 5.5px,#ffffff 9.9px,#efefff 16.5px,#ececff 27px,#ebebff 27.5px,#ddddff 29px,#fdfdff 31px,#ffffff 31.5px,#fffafa 32.5px,#fffafa 34px,#ffe7e7 36.5px,#ffe4e4 39.5px,#ffdddd 41.5px,#ffd2d2 47.5px,#fff0f0 54.5px,#fff4f4 56.5px,#fffbfb 59px,#fff7f7 60px,#ffe8e8 61.5px,#ffe0e0 62.5px,#ffe0e0 65.5px,#ffdbdb 68.5px,#ffdede 72px,#ffdfdf 72.5px,#fff9f9 77.5px,#ffffff 79.1px,#fcfcff 80px,#fbfbff 82.5px,#efefff 85px,#e8e8ff 89.5px,#e8e8ff 96.5px,#f1f1ff 117.5px,#f3f3ff 127px,#f3f3ff 127.5px,#ffffff 129.7px,#fffbfb 130.5px,#ffecec 131px,#ffa6a6 132.5px,#ff9494 133px,#ff9494 142px,#ffcaca 149.5px,#ffffff 154px,#ffffff 154px,#bebeff 158px,#adadff 163px,#d2d2ff 167.5px,#ffffff 172px,#ffffff 172px,#ffafaf 179px,#ffadad 179.5px,#ffafaf 184px,#ffb0b0 184.5px,#ffe1e1 189px,#ffffff 195.2px,#fdfdff 195.5px,#ccccff 203.5px,#7c7cff 217.5px,#3333ff 237.5px,#1414ff 268px)"></i><i style="top:205px;background:linear-gradient(90deg,#ffeaea -1px,#fff4f4 5.5px,#ffffff 9.8px,#eeeeff 16.5px,#ececff 27px,#ebebff 27.5px,#ddddff 29px,#fdfdff 31px,#ffffff 31.3px,#fffcfc 32px,#fffafa 33.5px,#ffe8e8 35.5px,#ffe6e6 36px,#ffe4e4 38.5px,#ffdbdb 41.5px,#ffd1d1 46.5px,#ffd7d7 48.5px,#fff2f2 54.5px,#fff3f3 56px,#fffcfc 58.5px,#fff9f9 59.5px,#ffeaea 61px,#ffe0e0 62.5px,#ffe0e0 65.5px,#ffdbdb 68.5px,#ffdede 72px,#ffdfdf 72.5px,#fffafa 77.5px,#ffffff 78.8px,#fdfdff 79.5px,#fbfbff 82px,#efefff 84.5px,#e7e7ff 89.5px,#e7e7ff 96.5px,#f1f1ff 117.5px,#f2f2ff 127px,#f3f3ff 127.5px,#ffffff 129.9px,#fffcfc 130.5px,#ffeded 131px,#ffa7a7 132.5px,#ff9595 133px,#ff9595 141.5px,#ff9696 142px,#ffc7c7 149px,#ffffff 153.7px,#fcfcff 154px,#c3c3ff 157.5px,#bebeff 158px,#afafff 162.5px,#b0b0ff 163px,#d5d5ff 167.5px,#ffffff 171.7px,#fffcfc 172px,#ffadad 179px,#ffb0b0 184px,#ffe2e2 188.5px,#ffffff 194.6px,#fdfdff 195px,#cbcbff 203px,#7d7dff 217px,#3333ff 237px,#1414ff 268px)"></i><i style="top:207px;background:linear-gradient(90deg,#ffe9e9 -1px,#fff4f4 5.5px,#ffffff 9.6px,#ededff 16.5px,#ebebff 27px,#eaeaff 27.5px,#ddddff 29px,#fefeff 31px,#ffffff 31.3px,#fffbfb 33px,#ffe7e7 35px,#ffe4e4 38px,#ffd9d9 41.5px,#ffd0d0 46px,#ffd8d8 48.5px,#fff1f1 54px,#fff3f3 55.5px,#fffcfc 58px,#fff7f7 59.5px,#ffeded 60.5px,#ffe0e0 62.5px,#ffe0e0 65.5px,#ffdbdb 68.5px,#ffdfdf 72px,#ffe0e0 72.5px,#fff9f9 77px,#ffffff 78.5px,#ffffff 78.6px,#fbfbff 81.5px,#efefff 84px,#e7e7ff 89.5px,#e9e9ff 104px,#f0f0ff 117.5px,#f2f2ff 127px,#f2f2ff 127.5px,#ffffff 130px,#fffdfd 130.5px,#ffeeee 131px,#ffa8a8 132.5px,#ff9696 133px,#ff9696 141.5px,#ff9797 142px,#ffcaca 149px,#fffefe 153.5px,#ffffff 153.6px,#c1c1ff 157.5px,#b0b0ff 162.5px,#d3d3ff 167px,#fbfbff 171px,#ffffff 171.4px,#ffadad 178.5px,#ffb0b0 183.5px,#ffb4b4 184px,#ffe2e2 188px,#fffefe 194px,#ffffff 194.1px,#cbcbff 202.5px,#7f7fff 216px,#3434ff 236px,#1414ff 268px)"></i><i style="top:209px;background:linear-gradient(90deg,#ffe8e8 -1px,#fff5f5 5.5px,#ffffff 9.4px,#ececff 16.5px,#ebebff 27px,#eaeaff 27.5px,#dcdcff 29px,#f9f9ff 30.5px,#ffffff 31px,#ffffff 31.1px,#fffbfb 32.5px,#fff3f3 33.5px,#ffe5e5 34.5px,#ffe2e2 37.5px,#ffd6d6 41.5px,#ffd0d0 45px,#ffdada 48.5px,#ffeeee 53px,#fff2f2 55px,#fffbfb 57.5px,#fff5f5 59.5px,#ffe0e0 62.5px,#ffe0e0 65.5px,#ffdbdb 68.5px,#ffdfdf 72px,#ffe0e0 72.5px,#fffefe 78px,#ffffff 78.6px,#fdfdff 80.5px,#f0f0ff 83px,#e6e6ff 89.5px,#e8e8ff 104.5px,#f0f0ff 117.5px,#f1f1ff 127px,#f2f2ff 127.5px,#ffffff 130.2px,#fffefe 130.5px,#ffefef 131px,#ffa9a9 132.5px,#ff9797 133px,#ff9797 141.5px,#ffcccc 149px,#ffffff 153.4px,#fdfdff 153.5px,#c0c0ff 157.5px,#b1b1ff 162.5px,#d5d5ff 167px,#fefeff 171px,#ffffff 171.1px,#ffafaf 178px,#ffadad 178.5px,#ffb1b1 183px,#ffb3b3 183.5px,#ffe3e3 187.5px,#fffefe 193.5px,#ffffff 193.6px,#cbcbff 202px,#8080ff 215.5px,#3434ff 235.5px,#1414ff 268px)"></i><i style="top:211px;background:linear-gradient(90deg,#ffe7e7 -1px,#fff5f5 5.5px,#ffffff 9.3px,#ececff 16.5px,#eaeaff 27.5px,#dcdcff 29px,#f3f3ff 30px,#fbfbff 30.5px,#ffffff 31px,#ffffff 31px,#fff9f9 32.5px,#ffe3e3 34.5px,#ffe2e2 36.5px,#ffd4d4 41.5px,#ffcfcf 44.5px,#fffafa 56.5px,#fff4f4 59.5px,#ffe0e0 62.5px,#ffe0e0 65.5px,#ffdbdb 68.5px,#ffdfdf 72px,#ffe0e0 72.5px,#fffefe 77.5px,#ffffff 78.4px,#fdfdff 80px,#f0f0ff 82.5px,#e6e6ff 89.5px,#e7e7ff 104.5px,#f0f0ff 117.5px,#f0f0ff 127px,#f1f1ff 127.5px,#ffffff 130.4px,#ffffff 130.5px,#fff0f0 131px,#ffaaaa 132.5px,#ff9898 133px,#ff9898 141.5px,#ffcaca 148.5px,#ffcfcf 149px,#fffdfd 153px,#ffffff 153.1px,#c4c4ff 157px,#c0c0ff 157.5px,#b2b2ff 162px,#b4b4ff 162.5px,#d8d8ff 167px,#ffffff 170.8px,#fffdfd 171px,#ffadad 178px,#ffb1b1 182.5px,#ffb2b2 183px,#ffe4e4 187px,#fffefe 193px,#ffffff 193.1px,#cacaff 201.5px,#8080ff 215px,#3434ff 235px,#1414ff 268px)"></i><i style="top:213px;background:linear-gradient(90deg,#ffe6e6 -1px,#fff5f5 5.5px,#ffffff 9.2px,#ebebff 16.5px,#ebebff 27px,#eaeaff 27.5px,#e0e0ff 28.5px,#e1e1ff 29px,#f6f6ff 30px,#fcfcff 30.5px,#ffffff 31.1px,#fffafa 32px,#ffe9e9 33.5px,#ffe1e1 34.5px,#ffe0e0 36px,#ffcece 43.5px,#ffdede 48.5px,#ffeaea 51.5px,#ffeeee 53.5px,#fffafa 56px,#fff4f4 59.5px,#ffe0e0 62.5px,#ffe0e0 65.5px,#ffdbdb 68.5px,#ffe0e0 72px,#ffe1e1 72.5px,#ffffff 77.5px,#ffffff 77.6px,#fdfdff 79.5px,#f0f0ff 82.5px,#e6e6ff 89.5px,#e6e6ff 104.5px,#f0f0ff 117.5px,#f0f0ff 127px,#f0f0ff 127.5px,#fefeff 130.5px,#ffffff 130.5px,#fff1f1 131px,#ffabab 132.5px,#ff9999 133px,#ff9999 141px,#ff9999 141.5px,#ffcccc 148.5px,#ffffff 153px,#ffffff 153px,#c1c1ff 157px,#b2b2ff 162px,#d6d6ff 166.5px,#ffffff 170.5px,#ffffff 170.5px,#ffaeae 177.5px,#ffaeae 178px,#ffb2b2 182.5px,#ffe4e4 186.5px,#fffefe 192.5px,#ffffff 192.6px,#cdcdff 200.5px,#8080ff 214.5px,#3434ff 234.5px,#1414ff 268px)"></i><i style="top:215px;background:linear-gradient(90deg,#ffe5e5 -1px,#ffffff 8.7px,#ebebff 16.5px,#ebebff 27px,#eaeaff 27.5px,#e2e2ff 28.5px,#e3e3ff 29px,#efefff 29.5px,#fdfdff 30.5px,#ffffff 30.9px,#fff9f9 32px,#ffe8e8 33.5px,#ffe0e0 34.5px,#ffe0e0 35.5px,#ffcece 43.5px,#ffdede 48.5px,#ffebeb 51.5px,#ffefef 53.5px,#fffbfb 56px,#fff5f5 58px,#fff4f4 59.5px,#ffe0e0 62.5px,#ffe0e0 65.5px,#ffdbdb 68.5px,#ffe0e0 72px,#ffe1e1 72.5px,#ffffff 77.5px,#ffffff 77.5px,#fcfcff 79.5px,#f0f0ff 82.5px,#e6e6ff 89.5px,#e6e6ff 104.5px,#f0f0ff 117.5px,#f0f0ff 127px,#f0f0ff 127.5px,#fefeff 130.5px,#ffffff 130.5px,#fff1f1 131px,#ffacac 132.5px,#ff9999 133px,#ff9999 141px,#ff9a9a 141.5px,#ffcdcd 148.5px,#ffffff 152.9px,#fdfdff 153px,#c1c1ff 157px,#b3b3ff 162px,#d7d7ff 166.5px,#ffffff 170.4px,#fffefe 170.5px,#ffaeae 177.5px,#ffb4b4 182.5px,#ffe6e6 186.5px,#ffffff 192.4px,#fefeff 192.5px,#cbcbff 200.5px,#7f7fff 214.5px,#3535ff 234px,#1414ff 268px)"></i></div><div class="hm" style="left:434.4px;top:278.3px;width:267.0px;height:214.8px"><i style="top:-1px;background:linear-gradient(90deg,#1a1aff -1px,#2424ff 11.5px,#3333ff 17.5px,#4242ff 25.5px,#5151ff 35.5px,#5252ff 42.5px,#4d4dff 49.5px,#3333ff 60.5px,#4747ff 65.5px,#4c4cff 80.5px,#5c5cff 95.5px,#c1c1ff 115.5px,#e5e5ff 121.5px,#efefff 126.5px,#f0f0ff 131.5px,#ffffff 131.6px,#ff0f0f 132.5px,#ff2929 145.5px,#ffb1b1 153.5px,#ffffff 159.6px,#1b1bff 177.5px,#1919ff 178px,#0f0fff 187.5px,#1e1eff 197.5px,#2121ff 198px,#4c4cff 205.5px,#c0c0ff 213.5px,#ffffff 221.1px,#ffebeb 223.5px,#ffffff 231.5px,#ffffff 231.6px,#d7d7ff 243.5px,#9a9aff 255.5px,#7171ff 266.5px,#7070ff 268px)"></i><i style="top:1px;background:linear-gradient(90deg,#1a1aff -1px,#2424ff 11.5px,#3434ff 18px,#4242ff 25.5px,#5151ff 35.5px,#5151ff 42.5px,#4d4dff 49.5px,#3333ff 60.5px,#4848ff 65.5px,#4d4dff 80.5px,#5d5dff 95.5px,#c1c1ff 115px,#e7e7ff 121.5px,#f0f0ff 126.5px,#f0f0ff 131.5px,#ffffff 131.6px,#ff1010 132.5px,#ff2929 145px,#ff2c2c 145.5px,#ffb7b7 153.5px,#ffffff 159.2px,#1d1dff 177px,#1919ff 177.5px,#1010ff 187.5px,#2020ff 197.5px,#4c4cff 205px,#bfbfff 213px,#ffffff 220.7px,#ffecec 223px,#ffffff 230.5px,#fefeff 231px,#d4d4ff 243px,#9797ff 255px,#6f6fff 266px,#6e6eff 268px)"></i><i style="top:3px;background:linear-gradient(90deg,#1a1aff -1px,#2424ff 11.5px,#3535ff 18px,#4343ff 25.5px,#5151ff 35.5px,#5151ff 42.5px,#4d4dff 49.5px,#3333ff 60.5px,#4848ff 65.5px,#4d4dff 80px,#5e5eff 95.5px,#c4c4ff 115px,#e7e7ff 121px,#f1f1ff 126.5px,#f0f0ff 131.5px,#ffffff 131.6px,#ff1010 132.5px,#ff2b2b 145px,#ff3232 145.5px,#ffb6b6 153px,#ffffff 158.8px,#b2b2ff 165px,#6363ff 171px,#1919ff 177px,#0f0fff 187px,#1f1fff 197px,#4b4bff 204.5px,#5151ff 205px,#bebeff 212.5px,#ffffff 220.4px,#ffeded 222.5px,#ffffff 229.4px,#fcfcff 230.5px,#d4d4ff 242px,#9494ff 254.5px,#6d6dff 265.5px,#6c6cff 268px)"></i><i style="top:5px;background:linear-gradient(90deg,#1b1bff -1px,#2525ff 11.5px,#3535ff 18px,#4343ff 25.5px,#5151ff 35.5px,#5151ff 42.5px,#4d4dff 49.5px,#3434ff 60.5px,#4949ff 65.5px,#4d4dff 80px,#5d5dff 95px,#9090ff 105px,#e9e9ff 121px,#f1f1ff 126px,#f0f0ff 131.5px,#ffffff 131.6px,#ff1111 132.5px,#ff2e2e 145px,#ffb5b5 152.5px,#ffbcbc 153px,#ffffff 158.4px,#b4b4ff 164.5px,#5e5eff 171px,#1a1aff 176.5px,#1919ff 177px,#0f0fff 186.5px,#1f1fff 196.5px,#4b4bff 204px,#5050ff 204.5px,#c2c2ff 212.5px,#ffffff 220px,#ffeeee 222px,#ffffff 228.3px,#fbfbff 230px,#d2d2ff 241.5px,#9292ff 254px,#6b6bff 265px,#6a6aff 268px)"></i><i style="top:7px;background:linear-gradient(90deg,#1b1bff -1px,#2525ff 11.5px,#3636ff 18px,#4444ff 25.5px,#5151ff 35.5px,#5151ff 42.5px,#4d4dff 49.5px,#3434ff 60.5px,#4949ff 65.5px,#4d4dff 80px,#5e5eff 95px,#9191ff 105px,#ebebff 121px,#f2f2ff 126px,#f0f0ff 131.5px,#ffffff 131.6px,#ff1111 132.5px,#ff2e2e 144.5px,#ff3333 145px,#ffbbbb 152.5px,#ffffff 158px,#b6b6ff 164px,#5f5fff 170.5px,#1c1cff 176px,#1919ff 176.5px,#0f0fff 186.5px,#1e1eff 196px,#2121ff 196.5px,#4f4fff 204px,#c1c1ff 212px,#ffffff 219.6px,#ffefef 221.5px,#ffffff 227.3px,#f9f9ff 229.5px,#cfcfff 241px,#8f8fff 253.5px,#6767ff 265px,#6868ff 268px)"></i><i style="top:9px;background:linear-gradient(90deg,#1b1bff -1px,#2626ff 11.5px,#3737ff 18px,#4444ff 25.5px,#5151ff 35.5px,#5151ff 42.5px,#4d4dff 49.5px,#3434ff 60.5px,#4a4aff 65.5px,#4d4dff 79.5px,#5e5eff 94.5px,#9090ff 104.5px,#ebebff 120.5px,#f2f2ff 126px,#f0f0ff 131.5px,#ffffff 131.6px,#ff1111 132.5px,#ff3030 144.5px,#ffbaba 152px,#ffffff 157.7px,#b1b1ff 164px,#6060ff 170px,#1818ff 176px,#0f0fff 186px,#2020ff 196px,#4e4eff 203.5px,#c0c0ff 211.5px,#ffffff 219.2px,#fff0f0 221px,#ffffff 226.3px,#f7f7ff 229px,#cdcdff 240.5px,#8d8dff 253px,#6565ff 264.5px,#6666ff 268px)"></i><i style="top:11px;background:linear-gradient(90deg,#1c1cff -1px,#2626ff 11.5px,#3737ff 18px,#4444ff 25.5px,#5151ff 35.5px,#4d4dff 49.5px,#3535ff 60.5px,#4545ff 64px,#4a4aff 65.5px,#4e4eff 79.5px,#5e5eff 94.5px,#9191ff 104.5px,#ededff 120.5px,#f3f3ff 125.5px,#f0f0ff 131.5px,#ffffff 131.6px,#ff1212 132.5px,#ff3030 144px,#ff3535 144.5px,#ffc0c0 152px,#ffffff 157.2px,#b4b4ff 163.5px,#5b5bff 170px,#1919ff 175.5px,#1010ff 186px,#1f1fff 195.5px,#4e4eff 203px,#bfbfff 211px,#ffffff 218.8px,#fff2f2 220.5px,#ffffff 225.3px,#f6f6ff 228.5px,#cbcbff 240px,#8a8aff 252.5px,#6363ff 264px,#6464ff 268px)"></i><i style="top:13px;background:linear-gradient(90deg,#1c1cff -1px,#2626ff 11.5px,#3838ff 18px,#4545ff 25.5px,#5151ff 35.5px,#4d4dff 49.5px,#3838ff 58.5px,#3535ff 60.5px,#4444ff 63.5px,#4a4aff 65.5px,#4e4eff 79.5px,#5f5fff 94.5px,#9393ff 104.5px,#ededff 120px,#f4f4ff 125.5px,#f0f0ff 129px,#f0f0ff 131.5px,#ffffff 131.6px,#ff1212 132.5px,#ff3232 144px,#ffc0c0 151.5px,#ffffff 156.8px,#b6b6ff 163px,#5c5cff 169.5px,#1b1bff 175px,#1818ff 175.5px,#0f0fff 185.5px,#1f1fff 195px,#4d4dff 202.5px,#bebeff 210.5px,#ffffff 218.5px,#fff3f3 220px,#ffffff 224.3px,#f4f4ff 228px,#c9c9ff 239.5px,#8888ff 252px,#6161ff 263.5px,#6060ff 267px,#6262ff 268px)"></i><i style="top:15px;background:linear-gradient(90deg,#1d1dff -1px,#2727ff 11.5px,#3838ff 18px,#4545ff 25.5px,#5151ff 35.5px,#4d4dff 49.5px,#3939ff 58px,#3636ff 60.5px,#4343ff 63px,#4a4aff 65.5px,#4e4eff 79px,#5f5fff 94px,#9191ff 104px,#f0f0ff 120px,#f4f4ff 125.5px,#f0f0ff 128.5px,#f0f0ff 131.5px,#ffffff 131.6px,#ff1313 132.5px,#ff3333 143.5px,#ff3737 144px,#ffbebe 151px,#ffc5c5 151.5px,#ffffff 156.6px,#fafaff 157px,#b8b8ff 162.5px,#5d5dff 169px,#1818ff 175px,#0f0fff 185px,#1e1eff 194.5px,#2121ff 195px,#4c4cff 202px,#bdbdff 210px,#ffffff 218.1px,#fff4f4 219.5px,#ffffff 223.3px,#f3f3ff 227.5px,#c8c8ff 238.5px,#8686ff 251.5px,#5f5fff 263px,#5e5eff 267px,#6060ff 268px)"></i><i style="top:17px;background:linear-gradient(90deg,#1d1dff -1px,#2727ff 11.5px,#3939ff 18px,#4646ff 25.5px,#5151ff 35.5px,#4d4dff 49.5px,#3939ff 58px,#3737ff 60.5px,#4444ff 63px,#4a4aff 65.5px,#4e4eff 79px,#6060ff 94px,#9393ff 104px,#cdcdff 113.5px,#f2f2ff 120px,#f5f5ff 125px,#f0f0ff 128.5px,#f0f0ff 131.5px,#ffffff 131.6px,#ff1313 132.5px,#ff3434 143.5px,#ffc5c5 151px,#ffffff 156.2px,#f5f5ff 157px,#b3b3ff 162.5px,#5757ff 169px,#1919ff 174.5px,#0f0fff 185px,#2020ff 194.5px,#4c4cff 201.5px,#bcbcff 209.5px,#ffffff 217.8px,#fff5f5 219px,#ffffff 222.3px,#f1f1ff 227px,#c6c6ff 238px,#8383ff 251px,#5c5cff 263px,#5c5cff 267px,#5e5eff 268px)"></i><i style="top:19px;background:linear-gradient(90deg,#1d1dff -1px,#2727ff 11.5px,#3939ff 18px,#4646ff 25.5px,#5151ff 35.5px,#4d4dff 49.5px,#3a3aff 57.5px,#3838ff 60.5px,#4242ff 62.5px,#4b4bff 65.5px,#4e4eff 78.5px,#6161ff 94px,#9191ff 103.5px,#d0d0ff 113.5px,#f1f1ff 119.5px,#f5f5ff 125px,#f0f0ff 128.5px,#f0f0ff 131.5px,#ffffff 131.6px,#ff1313 132.5px,#ff3535 143px,#ff3939 143.5px,#ffc3c3 150.5px,#ffffff 155.8px,#f7f7ff 156.5px,#b5b5ff 162px,#5959ff 168.5px,#1a1aff 174px,#1717ff 174.5px,#0f0fff 184.5px,#1f1fff 194px,#4c4cff 201px,#babaff 209px,#ffffff 217.4px,#fff6f6 218.5px,#ffffff 221.3px,#efefff 226.5px,#c4c4ff 237.5px,#8282ff 250px,#5959ff 262.5px,#5959ff 267px,#5c5cff 268px)"></i><i style="top:21px;background:linear-gradient(90deg,#1e1eff -1px,#2828ff 11.5px,#3a3aff 18px,#4646ff 25.5px,#5151ff 35.5px,#4d4dff 49.5px,#3b3bff 57px,#3939ff 60.5px,#4343ff 62.5px,#4b4bff 65.5px,#4d4dff 68.5px,#4b4bff 72px,#4f4fff 78.5px,#6060ff 93.5px,#9393ff 103.5px,#d0d0ff 113px,#f4f4ff 119.5px,#f6f6ff 125px,#f0f0ff 128.5px,#f0f0ff 131.5px,#ffffff 131.6px,#ff1414 132.5px,#ff3737 143px,#ff3f3f 143.5px,#ffc9c9 150.5px,#ffffff 155.4px,#f2f2ff 156.5px,#b7b7ff 161.5px,#5353ff 168.5px,#1717ff 174px,#1010ff 184.5px,#1f1fff 193.5px,#4b4bff 200.5px,#b9b9ff 208.5px,#ffffff 217.1px,#fff8f8 218px,#ffffff 220.4px,#eeeeff 226px,#c1c1ff 237px,#8080ff 249.5px,#5757ff 262px,#5757ff 267px,#5b5bff 268px)"></i><i style="top:23px;background:linear-gradient(90deg,#1e1eff -1px,#2828ff 11.5px,#3a3aff 18px,#4747ff 25.5px,#5151ff 35.5px,#4d4dff 49.5px,#3b3bff 57px,#3a3aff 60.5px,#4242ff 62px,#4b4bff 65.5px,#4d4dff 68px,#4b4bff 71.5px,#4f4fff 78.5px,#6161ff 93.5px,#9494ff 103.5px,#d2d2ff 113px,#f5f5ff 119.5px,#f6f6ff 124.5px,#f0f0ff 128.5px,#f0f0ff 131.5px,#ffffff 131.6px,#ff1414 132.5px,#ff3a3a 143px,#ffc9c9 150px,#ffffff 155px,#f4f4ff 156px,#b3b3ff 161.5px,#5454ff 168px,#1818ff 173.5px,#0f0fff 184px,#1e1eff 193px,#2121ff 193.5px,#4b4bff 200px,#5050ff 200.5px,#bdbdff 208.5px,#ffffff 216.5px,#fffbfb 217px,#fff9f9 217.5px,#ffffff 219.5px,#ececff 225.5px,#bfbfff 236.5px,#7d7dff 249px,#5555ff 261.5px,#5555ff 267px,#5959ff 268px)"></i><i style="top:25px;background:linear-gradient(90deg,#1e1eff -1px,#2929ff 11.5px,#3b3bff 18px,#4747ff 25.5px,#5151ff 35.5px,#4d4dff 49.5px,#3d3dff 56.5px,#3b3bff 60.5px,#4242ff 62px,#4b4bff 65.5px,#4d4dff 68px,#4b4bff 71.5px,#4f4fff 78px,#6161ff 93px,#9393ff 103px,#d2d2ff 112.5px,#f6f6ff 119px,#f7f7ff 124.5px,#f0f0ff 128px,#f0f0ff 131.5px,#ffffff 131.6px,#ff1515 132.5px,#ff3939 142.5px,#ff4040 143px,#ffc7c7 149.5px,#ffcece 150px,#ffffff 154.6px,#f5f5ff 155.5px,#b5b5ff 161px,#4f4fff 168px,#1a1aff 173px,#1717ff 173.5px,#0f0fff 183.5px,#2020ff 193px,#4b4bff 199.5px,#4f4fff 200px,#bcbcff 208px,#ffffff 216.1px,#fffcfc 216.5px,#fffafa 217px,#ffffff 218.6px,#ebebff 225px,#bfbfff 235.5px,#7b7bff 248.5px,#5353ff 261px,#5353ff 267px,#5757ff 268px)"></i><i style="top:27px;background:linear-gradient(90deg,#1f1fff -1px,#2929ff 11.5px,#3c3cff 18px,#4747ff 25.5px,#5252ff 35.5px,#4d4dff 49.5px,#3d3dff 56.5px,#3c3cff 60.5px,#4141ff 61.5px,#4b4bff 65.5px,#4e4eff 67.5px,#4b4bff 71px,#4f4fff 78px,#6161ff 93px,#9494ff 103px,#d5d5ff 112.5px,#f8f8ff 119px,#f8f8ff 124.5px,#f0f0ff 128px,#f0f0ff 131.5px,#ffffff 131.6px,#ff1515 132.5px,#ff3c3c 142.5px,#ffcece 149.5px,#ffffff 154.2px,#f1f1ff 155.5px,#b7b7ff 160.5px,#5050ff 167.5px,#1717ff 173px,#0f0fff 183.5px,#1f1fff 192.5px,#4f4fff 199.5px,#bbbbff 207.5px,#ffffff 215.8px,#fffdfd 216px,#fffbfb 216.5px,#ffffff 217.7px,#e9e9ff 224.5px,#bdbdff 235px,#7878ff 248px,#5050ff 261px,#5050ff 267px,#5555ff 268px)"></i><i style="top:29px;background:linear-gradient(90deg,#1f1fff -1px,#2929ff 11.5px,#3c3cff 18px,#4848ff 25.5px,#5252ff 35.5px,#4d4dff 49.5px,#3e3eff 56px,#3d3dff 60.5px,#4e4eff 67px,#4b4bff 70.5px,#4f4fff 77.5px,#6262ff 93px,#9696ff 103px,#d4d4ff 112px,#f8f8ff 118.5px,#f9f9ff 119px,#f8f8ff 124px,#f0f0ff 128px,#f0f0ff 131.5px,#ffffff 131.6px,#ff1515 132.5px,#ff3c3c 142px,#ff4242 142.5px,#ffcccc 149px,#ffffff 153.8px,#f2f2ff 155px,#b3b3ff 160.5px,#5151ff 167px,#1717ff 172.5px,#0f0fff 183px,#1f1fff 192px,#4e4eff 199px,#babaff 207px,#ffffff 215.4px,#fffefe 215.5px,#fffcfc 216px,#ffffff 216.8px,#e7e7ff 224px,#babaff 234.5px,#7676ff 247.5px,#4e4eff 260.5px,#4e4eff 267px,#5353ff 268px)"></i><i style="top:31px;background:linear-gradient(90deg,#2020ff -1px,#2a2aff 11.5px,#3d3dff 18px,#4848ff 25.5px,#5252ff 35.5px,#4d4dff 49.5px,#3e3eff 56px,#3f3fff 60.5px,#4e4eff 67px,#4b4bff 70.5px,#4f4fff 77.5px,#6262ff 92.5px,#9494ff 102.5px,#d7d7ff 112px,#fafaff 118.5px,#f9f9ff 124px,#f0f0ff 128px,#f0f0ff 131.5px,#ffffff 131.6px,#ff1616 132.5px,#ff3e3e 142px,#ffcaca 148.5px,#ffd3d3 149px,#ffffff 153.3px,#eeeeff 155px,#b5b5ff 160px,#4c4cff 167px,#1919ff 172px,#1616ff 172.5px,#1010ff 183px,#1e1eff 191.5px,#2121ff 192px,#4d4dff 198.5px,#b9b9ff 206.5px,#ffffff 215px,#ffffff 215px,#fffefe 215.5px,#ffffff 215.9px,#e6e6ff 223.5px,#b8b8ff 234px,#7373ff 247px,#4c4cff 260px,#4c4cff 267px,#5252ff 268px)"></i><i style="top:33px;background:linear-gradient(90deg,#2020ff -1px,#2a2aff 11.5px,#3d3dff 18px,#4949ff 25.5px,#5252ff 35.5px,#4d4dff 49.5px,#3f3fff 55.5px,#4040ff 60.5px,#4343ff 63px,#4e4eff 66.5px,#4b4bff 70px,#5050ff 77.5px,#6363ff 92.5px,#9696ff 102.5px,#d9d9ff 112px,#fcfcff 118.5px,#f9f9ff 124px,#f0f0ff 128px,#f0f0ff 131.5px,#ffffff 131.6px,#ff1616 132.5px,#ff3e3e 141.5px,#ff4444 142px,#ffd2d2 148.5px,#ffffff 152.9px,#efefff 154.5px,#b7b7ff 159.5px,#b1b1ff 160px,#4d4dff 166.5px,#1616ff 172px,#0f0fff 182.5px,#2020ff 191.5px,#4c4cff 198px,#b8b8ff 206px,#fefeff 214.5px,#ffffff 214.9px,#ffffff 215px,#ffffff 215px,#e4e4ff 223px,#b6b6ff 233.5px,#7171ff 246.5px,#4a4aff 259.5px,#4a4aff 267px,#5050ff 268px)"></i><i style="top:35px;background:linear-gradient(90deg,#2020ff -1px,#2a2aff 11.5px,#3e3eff 18px,#4949ff 25.5px,#5252ff 35.5px,#4d4dff 49.5px,#4040ff 55px,#4040ff 61px,#4343ff 63px,#4e4eff 66px,#4b4bff 70px,#5050ff 77px,#6464ff 92.5px,#9494ff 102px,#d9d9ff 111.5px,#fcfcff 118px,#fafaff 124px,#f0f0ff 127.5px,#f0f0ff 131.5px,#ffffff 131.6px,#ff1717 132.5px,#ff4040 141.5px,#ffcfcf 148px,#ffd7d7 148.5px,#ffffff 152.5px,#f0f0ff 154px,#b3b3ff 159.5px,#4e4eff 166px,#1717ff 171.5px,#0f0fff 182px,#1f1fff 191px,#4c4cff 197.5px,#b7b7ff 205.5px,#fdfdff 214px,#fefeff 214.5px,#e2e2ff 222.5px,#b6b6ff 232.5px,#7070ff 245.5px,#4848ff 259px,#4747ff 266.5px,#4848ff 267px,#4e4eff 268px)"></i><i style="top:37px;background:linear-gradient(90deg,#2121ff -1px,#2b2bff 11.5px,#3e3eff 18px,#4949ff 25.5px,#5252ff 35.5px,#4d4dff 49.5px,#4040ff 55px,#4343ff 59.5px,#4040ff 61px,#4242ff 62.5px,#4f4fff 66px,#4a4aff 69.5px,#5050ff 77px,#6363ff 92px,#9696ff 102px,#dcdcff 111.5px,#fefeff 118px,#fbfbff 123.5px,#f0f0ff 127.5px,#f0f0ff 131.5px,#ffffff 131.6px,#ff1717 132.5px,#ff4040 141px,#ff4545 141.5px,#ffd7d7 148px,#ffffff 152.1px,#ececff 154px,#b5b5ff 159px,#4949ff 166px,#1818ff 171px,#1616ff 171.5px,#0f0fff 182px,#1f1fff 190.5px,#4c4cff 197px,#b6b6ff 205px,#fcfcff 213.5px,#fdfdff 214px,#e3e3ff 221.5px,#b3b3ff 232px,#6e6eff 245px,#4545ff 259px,#4545ff 266.5px,#4646ff 267px,#4c4cff 268px)"></i><i style="top:39px;background:linear-gradient(90deg,#2121ff -1px,#2b2bff 11.5px,#3f3fff 18px,#4a4aff 25.5px,#5252ff 35.5px,#4d4dff 49.5px,#4141ff 54.5px,#4444ff 59.5px,#4040ff 61px,#4848ff 64.5px,#4e4eff 65.5px,#4a4aff 69px,#5050ff 76.5px,#6464ff 92px,#9797ff 102px,#dbdbff 111px,#ffffff 117.8px,#fffefe 118px,#ffffff 119.1px,#fbfbff 123.5px,#f0f0ff 127.5px,#f0f0ff 131.5px,#ffffff 131.6px,#ff1717 132.5px,#ff4343 141px,#ff4c4c 141.5px,#ffd5d5 147.5px,#ffdcdc 148px,#ffffff 151.7px,#ededff 153.5px,#b7b7ff 158.5px,#b1b1ff 159px,#4a4aff 165.5px,#1616ff 171px,#0f0fff 181.5px,#1e1eff 190px,#2121ff 190.5px,#4b4bff 196.5px,#b4b4ff 204.5px,#fbfbff 213px,#fbfbff 213.5px,#dfdfff 221.5px,#b1b1ff 231.5px,#6b6bff 244.5px,#4343ff 258.5px,#4343ff 266.5px,#4a4aff 268px)"></i><i style="top:41px;background:linear-gradient(90deg,#2121ff -1px,#2c2cff 11.5px,#4040ff 18px,#4a4aff 25.5px,#5252ff 35.5px,#4d4dff 49.5px,#4242ff 54.5px,#4646ff 59px,#3f3fff 61px,#4747ff 64px,#4f4fff 65.5px,#4a4aff 69px,#5151ff 77px,#6464ff 91.5px,#9696ff 101.5px,#dedeff 111px,#ffffff 117.2px,#fffefe 117.5px,#ffffff 119.3px,#fcfcff 123.5px,#f0f0ff 127.5px,#f0f0ff 131.5px,#ffffff 131.6px,#ff1818 132.5px,#ff4343 140.5px,#ff4747 141px,#ffd2d2 147px,#ffdcdc 147.5px,#ffffff 151.2px,#e9e9ff 153.5px,#b3b3ff 158.5px,#4545ff 165.5px,#1616ff 170.5px,#1010ff 181.5px,#2020ff 190px,#4b4bff 196px,#b3b3ff 204px,#fafaff 212.5px,#fafaff 213px,#ddddff 221px,#afafff 231px,#6969ff 244px,#4040ff 258px,#4040ff 266.5px,#4848ff 268px)"></i><i style="top:43px;background:linear-gradient(90deg,#2222ff -1px,#2c2cff 11.5px,#3f3fff 17.5px,#4b4bff 26px,#5151ff 36px,#4d4dff 42.5px,#4d4dff 49.5px,#4242ff 54px,#4747ff 59px,#3f3fff 60.5px,#3f3fff 61px,#4747ff 64px,#4e4eff 65.5px,#4a4aff 69px,#5151ff 76.5px,#6464ff 91.5px,#9797ff 101.5px,#dedeff 110.5px,#ffffff 116.8px,#fffbfb 117.5px,#ffffff 120.7px,#fcfcff 123.5px,#f0f0ff 127px,#f0f0ff 131.5px,#ffffff 131.6px,#ff1818 132.5px,#ff4545 140.5px,#ff4e4e 141px,#ffdbdb 147px,#ffffff 150.8px,#ebebff 153px,#b5b5ff 158px,#4545ff 165px,#1717ff 170px,#1515ff 170.5px,#0f0fff 181px,#1f1fff 189.5px,#4b4bff 195.5px,#b7b7ff 204px,#f9f9ff 212px,#dcdcff 220.5px,#acacff 230.5px,#6666ff 243.5px,#3e3eff 257.5px,#3e3eff 266.5px,#4646ff 268px)"></i><i style="top:45px;background:linear-gradient(90deg,#2222ff -1px,#2c2cff 11.5px,#4040ff 17.5px,#4b4bff 26px,#5252ff 35.5px,#4d4dff 42.5px,#4d4dff 49.5px,#4343ff 54px,#4848ff 58.5px,#3f3fff 60.5px,#3e3eff 61px,#4545ff 63.5px,#4e4eff 65.5px,#4a4aff 68.5px,#5151ff 76px,#6565ff 91.5px,#9999ff 101.5px,#e1e1ff 110.5px,#ffffff 116.3px,#fffcfc 117px,#fffafa 117.5px,#ffffff 121.4px,#fdfdff 123px,#f0f0ff 127px,#f0f0ff 131.5px,#ffffff 131.6px,#ff1919 132.5px,#ff4848 140.5px,#ffd8d8 146.5px,#ffe0e0 147px,#ffffff 150.3px,#ebebff 152.5px,#b7b7ff 157.5px,#b1b1ff 158px,#4747ff 164.5px,#4141ff 165px,#1515ff 170px,#0f0fff 180.5px,#1f1fff 189px,#4f4fff 195.5px,#b6b6ff 203.5px,#f8f8ff 211.5px,#dadaff 220px,#aaaaff 230px,#6464ff 243px,#3c3cff 257px,#3c3cff 266.5px,#4545ff 268px)"></i><i style="top:47px;background:linear-gradient(90deg,#2323ff -1px,#2d2dff 11.5px,#4040ff 17.5px,#4c4cff 26px,#5252ff 35.5px,#4d4dff 42.5px,#4d4dff 49.5px,#4444ff 53.5px,#4a4aff 58.5px,#3e3eff 60.5px,#3e3eff 61px,#4545ff 63.5px,#4c4cff 64.5px,#4d4dff 65.5px,#4a4aff 68px,#5151ff 76px,#6565ff 91px,#9797ff 101px,#e0e0ff 110px,#ffffff 115.9px,#fff9f9 117px,#ffffff 121.7px,#fdfdff 123px,#f0f0ff 127px,#f0f0ff 131.5px,#ffffff 131.6px,#ff1919 132.5px,#ff4747 140px,#ff4f4f 140.5px,#ffe1e1 146.5px,#ffffff 149.9px,#e8e8ff 152.5px,#b3b3ff 157.5px,#4141ff 164.5px,#1515ff 169.5px,#0f0fff 180.5px,#1e1eff 188.5px,#4e4eff 195px,#b5b5ff 203px,#f7f7ff 211px,#d9d9ff 219.5px,#a8a8ff 229.5px,#6161ff 242.5px,#3939ff 257px,#3939ff 266.5px,#4343ff 268px)"></i><i style="top:49px;background:linear-gradient(90deg,#2323ff -1px,#2d2dff 11.5px,#4141ff 17.5px,#4c4cff 26px,#5252ff 35.5px,#4d4dff 42.5px,#4d4dff 49.5px,#4545ff 53px,#4b4bff 58px,#3d3dff 60.5px,#4444ff 63px,#4a4aff 64px,#4d4dff 65.5px,#4a4aff 68px,#5151ff 75.5px,#6666ff 91px,#9999ff 101px,#e3e3ff 110px,#ffffff 115.5px,#fff7f7 117px,#ffffff 122px,#fdfdff 123px,#f0f0ff 127px,#f0f0ff 131.5px,#ffffff 131.6px,#ff1919 132.5px,#ff4a4a 140px,#ffdede 146px,#ffe5e5 146.5px,#ffffff 149.5px,#e9e9ff 152px,#b5b5ff 157px,#4343ff 164px,#1717ff 169px,#1515ff 169.5px,#0f0fff 180px,#2020ff 188.5px,#4d4dff 194.5px,#b4b4ff 202.5px,#f6f6ff 210.5px,#d7d7ff 219px,#a8a8ff 228.5px,#5f5fff 242px,#3737ff 256.5px,#3737ff 266.5px,#3f3fff 267.5px,#4141ff 268px)"></i><i style="top:51px;background:linear-gradient(90deg,#2323ff -1px,#2d2dff 11.5px,#4141ff 17.5px,#4c4cff 25.5px,#5252ff 35.5px,#4d4dff 42.5px,#4d4dff 49.5px,#4545ff 53px,#4d4dff 57.5px,#4c4cff 58px,#3d3dff 60.5px,#4242ff 62.5px,#4a4aff 64px,#4c4cff 65.5px,#4949ff 67.5px,#5151ff 75.5px,#6767ff 91px,#9797ff 100.5px,#e5e5ff 110px,#ffffff 115px,#fff7f7 116.5px,#fff6f6 117px,#ffffff 122.4px,#ffffff 122.5px,#f0f0ff 126.5px,#f0f0ff 131.5px,#ffffff 131.6px,#ff1a1a 132.5px,#ff4949 139.5px,#ff5151 140px,#ffdbdb 145.5px,#ffe5e5 146px,#ffffff 149px,#e5e5ff 152px,#b6b6ff 156.5px,#b1b1ff 157px,#3d3dff 164px,#1515ff 169px,#1010ff 180px,#1f1fff 188px,#4d4dff 194px,#b3b3ff 202px,#f5f5ff 210px,#d8d8ff 218px,#a5a5ff 228px,#5d5dff 241.5px,#3535ff 256px,#3535ff 266.5px,#3e3eff 267.5px,#3f3fff 268px)"></i><i style="top:53px;background:linear-gradient(90deg,#2424ff -1px,#2e2eff 11.5px,#4242ff 17.5px,#4d4dff 25.5px,#5252ff 35.5px,#4d4dff 42.5px,#4d4dff 49.5px,#4646ff 52.5px,#4f4fff 57.5px,#3d3dff 60.5px,#4242ff 62.5px,#4949ff 63.5px,#4a4aff 64px,#4c4cff 65.5px,#4a4aff 67.5px,#5252ff 75.5px,#6666ff 90.5px,#9999ff 100.5px,#e6e6ff 109.5px,#ffffff 114.5px,#fff5f5 116.5px,#ffffff 122.5px,#ffffff 122.5px,#f0f0ff 126.5px,#f0f0ff 131.5px,#ffffff 131.6px,#ff1b1b 132.5px,#ff4d4d 139.5px,#ffe4e4 145.5px,#ffffff 148.6px,#e6e6ff 151.5px,#b3b3ff 156.5px,#3e3eff 163.5px,#1515ff 168.5px,#0f0fff 179.5px,#1f1fff 187.5px,#4c4cff 193.5px,#b2b2ff 201.5px,#f4f4ff 209.5px,#d6d6ff 217.5px,#a3a3ff 227.5px,#5c5cff 240.5px,#3333ff 255.5px,#3333ff 266.5px,#3c3cff 267.5px,#3d3dff 268px)"></i><i style="top:55px;background:linear-gradient(90deg,#2323ff -1px,#2f2fff 11.5px,#4343ff 17.5px,#4d4dff 25.5px,#5252ff 35.5px,#4e4eff 42.5px,#4e4eff 49.5px,#4848ff 52.5px,#5252ff 57px,#5151ff 57.5px,#4040ff 60.5px,#4343ff 62px,#4b4bff 63.5px,#4d4dff 65.5px,#4b4bff 67px,#5454ff 75.5px,#6868ff 90px,#9b9bff 100px,#e7e7ff 109px,#ffffff 113.9px,#fff5f5 116px,#ffffff 121.6px,#fefeff 122px,#efefff 126px,#eeeeff 131.5px,#ffffff 131.6px,#ff1d1d 132.5px,#ff5353 139.5px,#ffdddd 145px,#ffe8e8 145.5px,#ffffff 148.2px,#e3e3ff 151.5px,#b5b5ff 156px,#b0b0ff 156.5px,#3c3cff 163.5px,#1414ff 168.5px,#1010ff 179.5px,#2121ff 187.5px,#5050ff 193.5px,#b5b5ff 201.5px,#f2f2ff 209px,#f2f2ff 209.5px,#d4d4ff 217px,#a1a1ff 227px,#5a5aff 240px,#3333ff 255px,#3333ff 266.5px,#3c3cff 267.5px,#3d3dff 268px)"></i><i style="top:57px;background:linear-gradient(90deg,#2323ff -1px,#3030ff 11.5px,#4444ff 17.5px,#4e4eff 25.5px,#5353ff 35.5px,#4f4fff 42.5px,#4f4fff 49.5px,#4a4aff 52px,#5656ff 57px,#4646ff 59.5px,#4242ff 60.5px,#4545ff 62px,#4c4cff 63px,#4e4eff 65.5px,#4d4dff 66.5px,#5555ff 75px,#6a6aff 89.5px,#9d9dff 99.5px,#e8e8ff 108.5px,#ffffff 113.1px,#fff6f6 115px,#fff5f5 115.5px,#ffffff 120.7px,#fdfdff 121.5px,#eeeeff 126px,#ededff 131.5px,#ffffff 131.6px,#ff2020 132.5px,#ff5252 139px,#ff5a5a 139.5px,#ffe3e3 145px,#ffebeb 145.5px,#ffffff 147.9px,#e5e5ff 151px,#b2b2ff 156px,#4040ff 163px,#3a3aff 163.5px,#1616ff 168px,#1414ff 168.5px,#0f0fff 179px,#2020ff 187px,#4e4eff 193px,#b3b3ff 201px,#f0f0ff 208.5px,#f2f2ff 209px,#d0d0ff 217px,#5858ff 239.5px,#3232ff 254.5px,#3232ff 266.5px,#3b3bff 267.5px,#3c3cff 268px)"></i><i style="top:59px;background:linear-gradient(90deg,#2323ff -1px,#3131ff 11.5px,#4545ff 17.5px,#4f4fff 25.5px,#5454ff 35.5px,#5050ff 42.5px,#5151ff 49.5px,#4d4dff 52px,#5959ff 56.5px,#5858ff 57px,#4a4aff 59px,#4444ff 60.5px,#4646ff 61.5px,#4e4eff 63px,#4e4eff 66.5px,#5757ff 75px,#6c6cff 89.5px,#9f9fff 99px,#eaeaff 108px,#ffffff 112.5px,#fff5f5 114.5px,#ffffff 119.9px,#fefeff 120.5px,#ededff 125.5px,#ececff 131.5px,#ffffff 131.6px,#ff2222 132.5px,#ff5757 139px,#ff6262 139.5px,#ffe9e9 145px,#ffffff 147.6px,#e3e3ff 151px,#b0b0ff 156px,#3c3cff 163px,#1515ff 168px,#1010ff 179px,#1f1fff 186.5px,#4d4dff 192.5px,#b1b1ff 200.5px,#f1f1ff 208.5px,#cfcfff 216.5px,#5656ff 239px,#3232ff 254px,#3232ff 266.5px,#3b3bff 267.5px,#3c3cff 268px)"></i><i style="top:61px;background:linear-gradient(90deg,#2323ff -1px,#3232ff 11.5px,#4646ff 17.5px,#5050ff 25.5px,#5555ff 35.5px,#5151ff 42.5px,#5252ff 49.5px,#4e4eff 51.5px,#5d5dff 56.5px,#4c4cff 59px,#4747ff 60.5px,#4848ff 61.5px,#4f4fff 62.5px,#5050ff 66px,#5959ff 75px,#6e6eff 89px,#a0a0ff 98.5px,#e8e8ff 107px,#ffffff 111.8px,#fff5f5 114px,#ffffff 119.1px,#fdfdff 120px,#ececff 125px,#eaeaff 131.5px,#ffffff 131.6px,#ff2525 132.5px,#ff5d5d 139px,#ffe3e3 144.5px,#ffecec 145px,#ffffff 147.3px,#e5e5ff 150.5px,#b2b2ff 155.5px,#acacff 156px,#3a3aff 163px,#1414ff 168px,#0f0fff 178.5px,#2121ff 186.5px,#5151ff 192.5px,#afafff 200px,#f0f0ff 208px,#cdcdff 216px,#5555ff 238px,#3131ff 253.5px,#3131ff 266px,#3232ff 266.5px,#3b3bff 267.5px,#3c3cff 268px)"></i><i style="top:63px;background:linear-gradient(90deg,#2323ff -1px,#3434ff 11.5px,#4747ff 17.5px,#5151ff 25.5px,#5555ff 35.5px,#5151ff 42.5px,#5353ff 49.5px,#5151ff 51px,#5f5fff 56px,#5e5eff 56.5px,#4e4eff 59px,#4949ff 60.5px,#4949ff 61px,#5151ff 62.5px,#5252ff 66px,#5a5aff 74.5px,#6f6fff 88.5px,#a2a2ff 98px,#eaeaff 106.5px,#ffffff 111.1px,#fff4f4 113.5px,#ffffff 118.4px,#fdfdff 119.5px,#ebebff 124.5px,#e9e9ff 131.5px,#ffffff 131.6px,#ff2727 132.5px,#ff5d5d 138.5px,#ff6464 139px,#ffe9e9 144.5px,#ffefef 145px,#ffffff 146.9px,#e2e2ff 150.5px,#afafff 155.5px,#3e3eff 162.5px,#1515ff 167.5px,#0f0fff 178.5px,#2020ff 186px,#4f4fff 192px,#b2b2ff 200px,#ededff 207.5px,#ededff 208px,#cbcbff 215.5px,#5454ff 237.5px,#3131ff 253px,#3131ff 266px,#3232ff 266.5px,#3a3aff 267.5px,#3b3bff 268px)"></i><i style="top:65px;background:linear-gradient(90deg,#2323ff -1px,#3535ff 11.5px,#4848ff 17.5px,#5252ff 25.5px,#5656ff 35.5px,#5252ff 42.5px,#5555ff 49.5px,#5252ff 51px,#6363ff 56px,#5252ff 58.5px,#4b4bff 60.5px,#4b4bff 61px,#5353ff 62px,#5353ff 65.5px,#5c5cff 74.5px,#7272ff 88.5px,#a4a4ff 97.5px,#ececff 106px,#ffffff 110.4px,#fff4f4 113px,#ffffff 117.7px,#fcfcff 119px,#eaeaff 124px,#e8e8ff 131.5px,#ffffff 131.6px,#ff2a2a 132.5px,#ff6262 138.5px,#ff6b6b 139px,#ffeeee 144.5px,#ffffff 146.6px,#e4e4ff 150px,#acacff 155.5px,#3b3bff 162.5px,#1414ff 167.5px,#0f0fff 178px,#2323ff 186px,#5353ff 192px,#b0b0ff 199.5px,#ebebff 207px,#ededff 207.5px,#cacaff 215px,#5252ff 237px,#3131ff 252px,#3131ff 266px,#3232ff 266.5px,#3a3aff 267.5px,#3b3bff 268px)"></i><i style="top:67px;background:linear-gradient(90deg,#2222ff -1px,#3636ff 11.5px,#4949ff 17.5px,#5353ff 25.5px,#5757ff 35.5px,#5353ff 42.5px,#5656ff 49.5px,#5454ff 50.5px,#6666ff 55.5px,#6565ff 56px,#5454ff 58.5px,#4d4dff 60.5px,#5454ff 62px,#5454ff 65px,#5e5eff 74.5px,#7373ff 88px,#a6a6ff 97px,#ededff 105.5px,#ffffff 109.8px,#fff4f4 112.5px,#ffffff 117px,#fbfbff 118.5px,#eaeaff 123.5px,#e6e6ff 131.5px,#ffffff 131.6px,#ff2c2c 132.5px,#ff6767 138.5px,#ffe9e9 144px,#fff1f1 144.5px,#ffffff 146.3px,#e1e1ff 150px,#aeaeff 155px,#3f3fff 162px,#3939ff 162.5px,#1414ff 167.5px,#0f0fff 178px,#2222ff 185.5px,#5151ff 191.5px,#afafff 199px,#ececff 207px,#c8c8ff 214.5px,#5151ff 236px,#3131ff 251.5px,#3030ff 266px,#3232ff 266.5px,#3a3aff 267.5px,#3a3aff 268px)"></i><i style="top:69px;background:linear-gradient(90deg,#2222ff -1px,#3737ff 11.5px,#4a4aff 17.5px,#5454ff 25.5px,#5858ff 35.5px,#5454ff 42.5px,#5656ff 50.5px,#6a6aff 55.5px,#5858ff 58px,#4f4fff 60.5px,#5656ff 61.5px,#5555ff 65px,#6060ff 74.5px,#7575ff 87.5px,#a8a8ff 96.5px,#eeeeff 105px,#ffffff 109px,#fff4f4 111.5px,#fff4f4 112px,#ffffff 116.3px,#fafaff 118px,#e8e8ff 123.5px,#e5e5ff 131.5px,#ffffff 131.6px,#ff2f2f 132.5px,#ff6e6e 138.5px,#ffeeee 144px,#ffffff 146px,#dfdfff 150px,#acacff 155px,#3b3bff 162px,#1515ff 167px,#0f0fff 177.5px,#2121ff 185px,#5050ff 191px,#adadff 198.5px,#ebebff 206.5px,#c6c6ff 214px,#9090ff 223.5px,#4f4fff 235.5px,#3030ff 251px,#3030ff 266px,#3131ff 266.5px,#3939ff 267.5px,#3a3aff 268px)"></i><i style="top:71px;background:linear-gradient(90deg,#2222ff -1px,#3838ff 11.5px,#4b4bff 17.5px,#5555ff 25.5px,#5959ff 35.5px,#5555ff 42.5px,#5858ff 50px,#6c6cff 55px,#6b6bff 55.5px,#5a5aff 58px,#5353ff 60.5px,#5757ff 61.5px,#5656ff 64.5px,#6262ff 74.5px,#7777ff 87.5px,#a9a9ff 96px,#ededff 104px,#ffffff 108.3px,#fff4f4 111px,#ffffff 115.4px,#fafaff 117.5px,#e7e7ff 123px,#e4e4ff 131.5px,#ffffff 131.6px,#ff3131 132.5px,#ff6d6d 138px,#ff7575 138.5px,#fff2f2 144px,#ffffff 145.6px,#e1e1ff 149.5px,#aeaeff 154.5px,#a8a8ff 155px,#3939ff 162px,#1414ff 167px,#0f0fff 177.5px,#2323ff 185px,#5353ff 191px,#b0b0ff 198.5px,#e9e9ff 206px,#e9e9ff 206.5px,#c5c5ff 213.5px,#8d8dff 223px,#4e4eff 235px,#3030ff 250.5px,#3030ff 266px,#3939ff 267.5px,#3a3aff 268px)"></i><i style="top:73px;background:linear-gradient(90deg,#2222ff -1px,#3939ff 11.5px,#4c4cff 17.5px,#5656ff 25.5px,#5959ff 35.5px,#5656ff 42.5px,#5a5aff 50px,#7070ff 55px,#5e5eff 57.5px,#5555ff 60px,#5959ff 61px,#5757ff 64.5px,#5b5bff 66px,#6363ff 74px,#7979ff 87px,#ababff 95.5px,#efefff 103.5px,#ffffff 107.5px,#fff3f3 110.5px,#ffffff 114.8px,#f9f9ff 117px,#e6e6ff 122.5px,#e2e2ff 131.5px,#ffffff 131.6px,#ff3434 132.5px,#ff7272 138px,#ffeeee 143.5px,#fff5f5 144px,#ffffff 145.3px,#dedeff 149.5px,#ababff 154.5px,#3d3dff 161.5px,#3737ff 162px,#1616ff 166.5px,#1414ff 167px,#1010ff 177.5px,#2222ff 184.5px,#5252ff 190.5px,#aeaeff 198px,#e7e7ff 205.5px,#e8e8ff 206px,#c3c3ff 213px,#8b8bff 222.5px,#4c4cff 234.5px,#2f2fff 250px,#2f2fff 266px,#3939ff 267.5px,#3939ff 268px)"></i><i style="top:75px;background:linear-gradient(90deg,#2222ff -1px,#3a3aff 11.5px,#4d4dff 17.5px,#5757ff 25.5px,#5a5aff 35.5px,#5757ff 42.5px,#5b5bff 49.5px,#7272ff 54.5px,#7171ff 55px,#6262ff 57px,#5959ff 59.5px,#5b5bff 61px,#5858ff 64px,#5d5dff 66px,#6565ff 74px,#7b7bff 86.5px,#adadff 95px,#f0f0ff 103px,#ffffff 106.8px,#fff3f3 110px,#ffffff 114.2px,#f8f8ff 116.5px,#e5e5ff 122px,#e1e1ff 131.5px,#ffffff 131.6px,#ff3636 132.5px,#ff7878 138px,#fff4f4 143.5px,#ffffff 145px,#e0e0ff 149px,#a8a8ff 154.5px,#3939ff 161.5px,#1515ff 166.5px,#0f0fff 177px,#2525ff 184.5px,#5656ff 190.5px,#adadff 197.5px,#e8e8ff 205.5px,#c2c2ff 212.5px,#8989ff 222px,#4b4bff 233.5px,#2f2fff 249.5px,#2f2fff 266px,#3838ff 267.5px,#3939ff 268px)"></i><i style="top:77px;background:linear-gradient(90deg,#2121ff -1px,#3c3cff 11.5px,#4e4eff 17.5px,#5858ff 25.5px,#5b5bff 35.5px,#5858ff 42.5px,#5c5cff 49px,#5d5dff 49.5px,#7676ff 54.5px,#6363ff 57px,#5c5cff 59px,#5b5bff 59.5px,#5d5dff 60.5px,#5959ff 64px,#5f5fff 66px,#6767ff 74px,#7d7dff 86.5px,#afafff 94.5px,#f2f2ff 102.5px,#ffffff 106.2px,#fff3f3 109.5px,#ffffff 113.3px,#e5e5ff 121.5px,#e0e0ff 131.5px,#ffffff 131.6px,#ff3939 132.5px,#ff7777 137.5px,#ff7f7f 138px,#ffeeee 143px,#fff7f7 143.5px,#ffffff 144.6px,#ddddff 149px,#aaaaff 154px,#a4a4ff 154.5px,#3737ff 161.5px,#1414ff 166.5px,#1010ff 177px,#2323ff 184px,#5454ff 190px,#ababff 197px,#e6e6ff 205px,#c0c0ff 212px,#8686ff 221.5px,#4949ff 233px,#2e2eff 249px,#2e2eff 266px,#3838ff 267.5px,#3939ff 268px)"></i><i style="top:79px;background:linear-gradient(90deg,#2121ff -1px,#3d3dff 11.5px,#4e4eff 17.5px,#5959ff 25.5px,#5c5cff 35.5px,#5959ff 42.5px,#5e5eff 49px,#7979ff 54px,#7777ff 54.5px,#6767ff 56.5px,#5e5eff 59px,#6060ff 60px,#5b5bff 63.5px,#6161ff 66px,#6969ff 74px,#7f7fff 86px,#b0b0ff 94px,#f0f0ff 101.5px,#ffffff 105.5px,#fff3f3 108.5px,#fff3f3 109px,#ffffff 112.7px,#e4e4ff 121px,#dedeff 131.5px,#ffffff 131.6px,#ff3b3b 132.5px,#ff7d7d 137.5px,#fff4f4 143px,#fffafa 143.5px,#ffffff 144.2px,#dfdfff 148.5px,#a8a8ff 154px,#3b3bff 161px,#1515ff 166px,#0f0fff 176.5px,#2323ff 183.5px,#5353ff 189.5px,#adadff 197px,#e4e4ff 204.5px,#e4e4ff 205px,#bfbfff 211.5px,#8484ff 221px,#4747ff 232.5px,#2e2eff 248.5px,#2e2eff 266px,#3838ff 267.5px,#3838ff 268px)"></i><i style="top:81px;background:linear-gradient(90deg,#2121ff -1px,#3e3eff 11.5px,#4f4fff 17.5px,#5a5aff 25.5px,#5c5cff 35.5px,#5a5aff 42.5px,#5e5eff 48.5px,#5f5fff 49px,#7c7cff 54px,#6868ff 56.5px,#6262ff 58.5px,#6161ff 59px,#6363ff 60px,#5f5fff 61px,#5c5cff 63.5px,#6262ff 65.5px,#6a6aff 73.5px,#8080ff 85.5px,#8282ff 86px,#b2b2ff 93.5px,#f2f2ff 101px,#ffffff 104.7px,#fff3f3 108px,#ffffff 111.9px,#e2e2ff 121px,#ddddff 131.5px,#ffffff 131.7px,#ff3e3e 132.5px,#ff8282 137.5px,#fff9f9 143px,#ffffff 143.9px,#ddddff 148.5px,#aaaaff 153.5px,#a5a5ff 154px,#3838ff 161px,#1414ff 166px,#0f0fff 176.5px,#2525ff 183.5px,#5656ff 189.5px,#acacff 196.5px,#e2e2ff 204px,#e4e4ff 204.5px,#8484ff 220px,#4747ff 231.5px,#2e2eff 248px,#2e2eff 266px,#3737ff 267.5px,#3838ff 268px)"></i><i style="top:83px;background:linear-gradient(90deg,#2121ff -1px,#3f3fff 11.5px,#5050ff 17.5px,#5b5bff 25.5px,#5d5dff 35.5px,#5b5bff 42.5px,#6060ff 48.5px,#7e7eff 53.5px,#6a6aff 56.5px,#6363ff 58.5px,#6666ff 59.5px,#6262ff 60.5px,#5d5dff 63px,#6464ff 65.5px,#6c6cff 73.5px,#8383ff 85.5px,#b8b8ff 93.5px,#f3f3ff 100.5px,#ffffff 103.8px,#fff2f2 107.5px,#ffffff 111.4px,#e1e1ff 120.5px,#dcdcff 131.5px,#ffffff 131.7px,#ff4040 132.5px,#ff8989 137.5px,#fff4f4 142.5px,#fffbfb 143px,#ffffff 143.5px,#dedeff 148px,#a7a7ff 153.5px,#3c3cff 160.5px,#3636ff 161px,#1414ff 166px,#0f0fff 176px,#2424ff 183px,#5454ff 189px,#aaaaff 196px,#e3e3ff 204px,#8282ff 219.5px,#4545ff 231px,#2d2dff 247.5px,#2d2dff 266px,#3737ff 267.5px,#3737ff 268px)"></i><i style="top:85px;background:linear-gradient(90deg,#2121ff -1px,#2222ff 0px,#5252ff 18px,#5c5cff 25.5px,#5e5eff 35.5px,#5c5cff 42.5px,#6161ff 48px,#6262ff 48.5px,#6d6dff 50px,#8181ff 53.5px,#6e6eff 56px,#6767ff 58px,#6969ff 59.5px,#6363ff 60.5px,#5f5fff 63px,#6666ff 65.5px,#6e6eff 73.5px,#8484ff 85px,#babaff 93px,#f5f5ff 100px,#ffffff 103px,#fff2f2 107px,#ffffff 110.9px,#e0e0ff 120px,#dadaff 131.5px,#ffffff 131.7px,#ff4343 132.5px,#ff8787 137px,#fff9f9 142.5px,#ffffff 143.3px,#dcdcff 148px,#a4a4ff 153.5px,#3838ff 160.5px,#1515ff 165.5px,#0f0fff 176px,#2626ff 183px,#5858ff 189px,#a8a8ff 195.5px,#e2e2ff 203.5px,#8080ff 219px,#4343ff 230.5px,#2d2dff 246.5px,#2d2dff 266px,#3636ff 267.5px,#3737ff 268px)"></i><i style="top:87px;background:linear-gradient(90deg,#2020ff -1px,#2222ff 0px,#5353ff 18px,#5d5dff 25.5px,#5f5fff 35.5px,#5d5dff 42.5px,#6262ff 48px,#8484ff 53px,#6f6fff 56px,#6969ff 58px,#6c6cff 59px,#6464ff 60.5px,#6060ff 62.5px,#6868ff 65.5px,#6f6fff 73px,#8686ff 84.5px,#8888ff 85px,#b8b8ff 92px,#f6f6ff 99.5px,#ffffff 102.3px,#fff2f2 106.5px,#ffffff 110.3px,#e0e0ff 119.5px,#d9d9ff 131.5px,#ffffff 131.7px,#ff4545 132.5px,#ff8d8d 137px,#fffdfd 142.5px,#ffffff 142.8px,#d9d9ff 148px,#a1a1ff 153.5px,#3636ff 160.5px,#1414ff 165.5px,#0f0fff 175.5px,#2525ff 182.5px,#5656ff 188.5px,#ababff 195.5px,#e0e0ff 203px,#dfdfff 203.5px,#7d7dff 218.5px,#4141ff 230px,#2d2dff 246px,#2c2cff 265.5px,#2d2dff 266px,#3636ff 267.5px,#3737ff 268px)"></i><i style="top:89px;background:linear-gradient(90deg,#2020ff -1px,#2121ff 0px,#5454ff 18px,#5e5eff 25.5px,#5f5fff 35.5px,#5e5eff 42.5px,#6363ff 47.5px,#6464ff 48px,#7171ff 49.5px,#8585ff 52.5px,#8787ff 53px,#7373ff 55.5px,#6b6bff 58px,#6e6eff 59px,#6666ff 60.5px,#6262ff 62.5px,#6a6aff 65.5px,#7171ff 73px,#8888ff 84.5px,#bdbdff 92px,#f4f4ff 98.5px,#ffffff 101.7px,#fff2f2 105.5px,#fff2f2 106px,#ffffff 109.7px,#dfdfff 119px,#d8d8ff 131.5px,#ffffff 131.7px,#ff4848 132.5px,#ff9494 137px,#fff9f9 142px,#ffffff 142.5px,#fefeff 142.5px,#dbdbff 147.5px,#a4a4ff 153px,#3a3aff 160px,#3434ff 160.5px,#1616ff 165px,#1414ff 165.5px,#0f0fff 175.5px,#2525ff 182px,#5555ff 188px,#a9a9ff 195px,#dedeff 202.5px,#dfdfff 203px,#7b7bff 218px,#4141ff 229px,#2c2cff 245.5px,#2c2cff 265.5px,#2d2dff 266px,#3636ff 267.5px,#3636ff 268px)"></i><i style="top:91px;background:linear-gradient(90deg,#2020ff -1px,#2121ff 0px,#5555ff 18px,#5f5fff 25.5px,#5f5fff 42.5px,#6464ff 47.5px,#8a8aff 52.5px,#7474ff 55.5px,#6d6dff 57.5px,#7171ff 58.5px,#6767ff 60.5px,#6363ff 62px,#6c6cff 65.5px,#7373ff 73px,#8a8aff 84px,#bfbfff 91.5px,#f6f6ff 98px,#ffffff 100.8px,#fff2f2 105px,#ffffff 108.9px,#dedeff 118.5px,#d6d6ff 131.5px,#ffffff 131.7px,#ff4b4b 132.5px,#ff9a9a 137px,#fffefe 142px,#ffffff 142.1px,#d9d9ff 147.5px,#a1a1ff 153px,#3636ff 160px,#1515ff 165px,#1010ff 175.5px,#2727ff 182px,#5959ff 188px,#a8a8ff 194.5px,#dfdfff 202.5px,#7878ff 217.5px,#3f3fff 228.5px,#2c2cff 245px,#2c2cff 265.5px,#3636ff 268px)"></i><i style="top:93px;background:linear-gradient(90deg,#2020ff -1px,#2121ff 0px,#4545ff 11.5px,#5656ff 18px,#6060ff 25.5px,#6060ff 42.5px,#6464ff 47px,#6666ff 47.5px,#7878ff 49.5px,#8b8bff 52px,#8c8cff 52.5px,#7878ff 55px,#7171ff 57px,#7373ff 58.5px,#6868ff 60.5px,#6464ff 62px,#6d6dff 65.5px,#7474ff 72.5px,#8c8cff 83.5px,#8d8dff 84px,#c1c1ff 91px,#f8f8ff 97.5px,#ffffff 99.9px,#fff1f1 104.5px,#ffffff 108.2px,#f3f3ff 111.5px,#dcdcff 118.5px,#d5d5ff 131.5px,#ffffff 131.7px,#ff4d4d 132.5px,#ff9797 136.5px,#fff9f9 141.5px,#ffffff 141.9px,#fdfdff 142px,#dbdbff 147px,#a3a3ff 152.5px,#3535ff 160px,#1414ff 165px,#0f0fff 175px,#2626ff 181.5px,#5757ff 187.5px,#a6a6ff 194px,#ddddff 202px,#7676ff 217px,#3d3dff 228px,#2b2bff 244.5px,#2b2bff 265.5px,#3636ff 268px)"></i><i style="top:95px;background:linear-gradient(90deg,#2020ff -1px,#2121ff 0px,#4646ff 11.5px,#5757ff 18px,#6060ff 25.5px,#6161ff 42.5px,#6666ff 47px,#7c7cff 49.5px,#8f8fff 52px,#7b7bff 54.5px,#7272ff 57px,#7676ff 58px,#6969ff 60.5px,#6666ff 61.5px,#6f6fff 65.5px,#7676ff 72.5px,#8e8eff 83.5px,#c2c2ff 90.5px,#fafaff 97px,#ffffff 98.9px,#fff1f1 104px,#ffffff 107.7px,#f2f2ff 111px,#dcdcff 118px,#d4d4ff 131.5px,#ffffff 131.7px,#ff5050 132.5px,#fffefe 141.5px,#ffffff 141.5px,#fafaff 142px,#d8d8ff 147px,#a0a0ff 152.5px,#3838ff 159.5px,#1515ff 164.5px,#1010ff 175px,#2626ff 181px,#5b5bff 187.5px,#a8a8ff 194px,#dbdbff 201.5px,#dbdbff 202px,#7373ff 216.5px,#3b3bff 227.5px,#2b2bff 244px,#2b2bff 265.5px,#3535ff 268px)"></i><i style="top:97px;background:linear-gradient(90deg,#1f1fff -1px,#2121ff 0px,#4747ff 11.5px,#5858ff 18px,#6161ff 25.5px,#6262ff 42.5px,#6666ff 46.5px,#6868ff 47px,#8080ff 49.5px,#9090ff 51.5px,#9191ff 52px,#7c7cff 54.5px,#7575ff 56.5px,#7878ff 58px,#6a6aff 60.5px,#6868ff 61.5px,#7171ff 65.5px,#7878ff 72.5px,#9090ff 83px,#c4c4ff 90px,#fbfbff 96.5px,#ffffff 98.1px,#fff1f1 103.5px,#ffffff 107px,#f3f3ff 110px,#dbdbff 117.5px,#d2d2ff 131.5px,#ffffff 131.7px,#ff5252 132.5px,#ffa4a4 136.5px,#ffffff 141.3px,#fbfbff 141.5px,#dadaff 146.5px,#9d9dff 152.5px,#3535ff 159.5px,#1414ff 164.5px,#0f0fff 174.5px,#2727ff 181px,#5959ff 187px,#a7a7ff 193.5px,#d9d9ff 201px,#dadaff 201.5px,#7171ff 216px,#3b3bff 226.5px,#2b2bff 243.5px,#2b2bff 265.5px,#3535ff 268px)"></i><i style="top:99px;background:linear-gradient(90deg,#1f1fff -1px,#2121ff 0px,#4848ff 11.5px,#5959ff 18px,#6262ff 25.5px,#6262ff 42.5px,#6767ff 46.5px,#8484ff 49.5px,#9595ff 51.5px,#8080ff 54px,#7777ff 56.5px,#7b7bff 57.5px,#6969ff 61px,#7373ff 65.5px,#7a7aff 72.5px,#9393ff 83px,#c6c6ff 89.5px,#f9f9ff 95.5px,#fcfcff 96px,#ffffff 97.2px,#fff1f1 102.5px,#fff1f1 103px,#ffffff 106.4px,#f1f1ff 110px,#dadaff 117px,#d1d1ff 128.5px,#d1d1ff 131.5px,#ffffff 131.7px,#ff5555 132.5px,#ffa1a1 136px,#ffffff 141px,#ffffff 141px,#f8f8ff 141.5px,#d8d8ff 146.5px,#9f9fff 152px,#3939ff 159px,#3333ff 159.5px,#1414ff 164.5px,#1010ff 174.5px,#2727ff 180.5px,#5858ff 186.5px,#a5a5ff 193px,#dadaff 201px,#a8a8ff 207.5px,#6f6fff 215.5px,#3939ff 226px,#2a2aff 243px,#2a2aff 265.5px,#3434ff 268px)"></i><i style="top:101px;background:linear-gradient(90deg,#1f1fff -1px,#2121ff 0px,#4949ff 11.5px,#5959ff 17.5px,#6363ff 25.5px,#6363ff 42.5px,#6868ff 46px,#6a6aff 46.5px,#9595ff 51px,#9696ff 51.5px,#8181ff 54px,#7a7aff 56px,#7d7dff 57.5px,#6c6cff 60.5px,#6b6bff 61px,#7575ff 65.5px,#7b7bff 72px,#9494ff 82.5px,#c8c8ff 89px,#fbfbff 95px,#ffffff 96.6px,#fff1f1 102px,#ffffff 105.6px,#f2f2ff 109px,#d9d9ff 116.5px,#d0d0ff 128.5px,#d0d0ff 131.5px,#ffffff 131.7px,#ff5757 132.5px,#ffa8a8 136px,#ffffff 140.7px,#fafaff 141px,#d9d9ff 146px,#9d9dff 152px,#3636ff 159px,#1515ff 164px,#0f0fff 174px,#2929ff 180.5px,#5b5bff 186.5px,#a3a3ff 192.5px,#d9d9ff 200.5px,#6c6cff 215px,#3737ff 225.5px,#2a2aff 242.5px,#2a2aff 265.5px,#3434ff 268px)"></i><i style="top:103px;background:linear-gradient(90deg,#1f1fff -1px,#2020ff 0px,#4a4aff 11.5px,#5a5aff 17.5px,#6464ff 25.5px,#6464ff 42.5px,#6969ff 46px,#9a9aff 51px,#8484ff 53.5px,#7b7bff 56px,#8080ff 57px,#6d6dff 60.5px,#7777ff 65.5px,#7d7dff 72px,#9595ff 82px,#fcfcff 94.5px,#ffffff 95.5px,#fff0f0 101.5px,#ffffff 105.1px,#f1f1ff 108.5px,#d8d8ff 116.5px,#ceceff 128.5px,#ceceff 131.5px,#ffffff 131.7px,#ff5a5a 132.5px,#ffafaf 136px,#ffffff 140.5px,#f7f7ff 141px,#d7d7ff 146px,#9f9fff 151.5px,#9999ff 152px,#3333ff 159px,#1414ff 164px,#0f0fff 174px,#2828ff 180px,#5a5aff 186px,#a6a6ff 192.5px,#d7d7ff 200px,#d6d6ff 200.5px,#a5a5ff 206.5px,#6a6aff 214.5px,#3636ff 224.5px,#2929ff 242px,#2929ff 265.5px,#3434ff 268px)"></i><i style="top:105px;background:linear-gradient(90deg,#1f1fff -1px,#2020ff 0px,#4b4bff 11.5px,#5b5bff 17.5px,#6565ff 25.5px,#6565ff 42.5px,#6969ff 45.5px,#6c6cff 46px,#9a9aff 50.5px,#9a9aff 51px,#8585ff 53.5px,#7e7eff 55.5px,#8282ff 57px,#6f6fff 60.5px,#7979ff 65.5px,#7f7fff 72px,#9999ff 82px,#fefeff 94px,#ffffff 94.4px,#fff0f0 101px,#ffffff 104.5px,#f0f0ff 108px,#d7d7ff 116px,#cdcdff 128.5px,#cdcdff 131.5px,#ffffff 131.7px,#ff5d5d 132.5px,#ffabab 135.5px,#ffb5b5 136px,#ffffff 140.2px,#fafaff 140.5px,#f4f4ff 141px,#d4d4ff 146px,#9c9cff 151.5px,#3737ff 158.5px,#3232ff 159px,#1414ff 164px,#0f0fff 173.5px,#2727ff 179.5px,#5e5eff 186px,#a4a4ff 192px,#d5d5ff 199.5px,#d6d6ff 200px,#a4a4ff 206px,#6767ff 214px,#3434ff 224px,#2929ff 241px,#2929ff 265.5px,#3333ff 268px)"></i><i style="top:107px;background:linear-gradient(90deg,#2020ff -1px,#2121ff 0px,#4d4dff 11.5px,#5c5cff 17.5px,#6666ff 25.5px,#6666ff 42.5px,#6b6bff 45.5px,#9e9eff 50.5px,#8888ff 53px,#7f7fff 55.5px,#8585ff 56.5px,#7171ff 60px,#7b7bff 65.5px,#8181ff 72px,#9a9aff 81.5px,#fefeff 93.5px,#ffffff 93.8px,#fff1f1 100.5px,#ffffff 103.8px,#efefff 107.5px,#d6d6ff 115.5px,#cbcbff 128.5px,#cbcbff 131.5px,#ffffff 131.7px,#ff6060 132.5px,#ffb1b1 135.5px,#ffffff 140px,#f6f6ff 140.5px,#d6d6ff 145.5px,#9999ff 151.5px,#3434ff 158.5px,#1515ff 163.5px,#0f0fff 173.5px,#2929ff 179.5px,#5c5cff 185.5px,#a3a3ff 191.5px,#d6d6ff 199.5px,#a3a3ff 205.5px,#6666ff 213.5px,#3333ff 223.5px,#2929ff 240.5px,#2929ff 265.5px,#3333ff 267.5px,#3333ff 268px)"></i><i style="top:109px;background:linear-gradient(90deg,#2323ff -1px,#2525ff 0px,#4f4fff 11.5px,#5e5eff 18px,#6868ff 25.5px,#6767ff 42.5px,#6b6bff 45px,#6e6eff 45.5px,#9e9eff 50px,#9e9eff 50.5px,#8888ff 53px,#8181ff 55px,#8686ff 56.5px,#7272ff 60px,#7c7cff 65.5px,#8181ff 71.5px,#9b9bff 81px,#fbfbff 93px,#ffffff 94.9px,#fff4f4 100px,#ffffff 102.8px,#ececff 107.5px,#d3d3ff 115.5px,#cacaff 128.5px,#cacaff 131.5px,#ffffff 131.8px,#ff6565 132.5px,#ffb6b6 135.5px,#ffffff 139.8px,#f4f4ff 140.5px,#d4d4ff 145.5px,#9b9bff 151px,#3232ff 158.5px,#1515ff 163.5px,#1010ff 173.5px,#2828ff 179px,#5a5aff 185px,#a5a5ff 191.5px,#d4d4ff 199px,#d1d1ff 199.5px,#a2a2ff 205px,#6565ff 213px,#3333ff 223px,#2828ff 240px,#2828ff 265px,#2929ff 265.5px,#3434ff 267.5px,#3434ff 268px)"></i><i style="top:111px;background:linear-gradient(90deg,#2626ff -1px,#2828ff 0px,#5151ff 11.5px,#6060ff 18px,#6a6aff 25.5px,#6969ff 42.5px,#6c6cff 45px,#a2a2ff 50px,#8a8aff 52.5px,#8282ff 55px,#8888ff 56px,#7474ff 59.5px,#7474ff 60.5px,#7e7eff 65.5px,#8383ff 71.5px,#9d9dff 81px,#fbfbff 93px,#ffffff 95.2px,#fff7f7 99.5px,#ffffff 101.7px,#eaeaff 107px,#d1d1ff 115.5px,#c8c8ff 128.5px,#c8c8ff 131.5px,#ffffff 131.8px,#ff6a6a 132.5px,#ffbaba 135.5px,#ffffff 139.7px,#f2f2ff 140.5px,#d1d1ff 145.5px,#9898ff 151px,#3535ff 158px,#1515ff 163.5px,#1010ff 173px,#2929ff 179px,#5d5dff 185px,#a3a3ff 191px,#d2d2ff 198.5px,#d1d1ff 199px,#a2a2ff 204.5px,#6464ff 212.5px,#3232ff 222.5px,#2727ff 240px,#2727ff 265px,#3535ff 267.5px,#3535ff 268px)"></i><i style="top:113px;background:linear-gradient(90deg,#2a2aff -1px,#2b2bff 0px,#5252ff 11.5px,#6161ff 18px,#6c6cff 25.5px,#6a6aff 42.5px,#6c6cff 44.5px,#7070ff 45px,#a1a1ff 49.5px,#a1a1ff 50px,#8a8aff 52.5px,#8484ff 54.5px,#8989ff 56px,#7575ff 59.5px,#7676ff 61px,#7f7fff 65.5px,#8585ff 71.5px,#a1a1ff 81px,#f8f8ff 92.5px,#ffffff 96.3px,#fffafa 99px,#fffafa 99.5px,#ffffff 100.9px,#e7e7ff 107px,#cfcfff 115.5px,#c6c6ff 128.5px,#c6c6ff 131.5px,#ffffff 131.8px,#ff6f6f 132.5px,#ffbebe 135.5px,#ffffff 139.5px,#f7f7ff 140px,#f1f1ff 140.5px,#d3d3ff 145px,#9595ff 151px,#3333ff 158px,#1515ff 163.5px,#1010ff 173px,#2a2aff 179px,#5b5bff 184.5px,#a1a1ff 190.5px,#d0d0ff 198px,#d1d1ff 198.5px,#9d9dff 204.5px,#6464ff 212px,#3232ff 222px,#2727ff 239.5px,#2727ff 265px,#3636ff 267.5px,#3636ff 268px)"></i><i style="top:115px;background:linear-gradient(90deg,#2d2dff -1px,#2f2fff 0px,#5656ff 12px,#6262ff 17.5px,#6e6eff 25.5px,#6b6bff 42.5px,#6e6eff 44.5px,#a4a4ff 49.5px,#8d8dff 52px,#8a8aff 52.5px,#8484ff 54.5px,#8b8bff 55.5px,#8989ff 56px,#7777ff 59px,#7676ff 59.5px,#8181ff 65.5px,#8787ff 71.5px,#a1a1ff 80.5px,#ceceff 86.5px,#f7f7ff 92.5px,#ffffff 97.2px,#fffcfc 99px,#ffffff 99.8px,#e6e6ff 106.5px,#cdcdff 115px,#c4c4ff 128.5px,#c4c4ff 131.5px,#ffffff 131.8px,#ff7575 132.5px,#ffb7b7 135px,#ffc2c2 135.5px,#ffffff 139.3px,#f4f4ff 140px,#d0d0ff 145px,#9292ff 151px,#3737ff 157.5px,#3232ff 158px,#1717ff 163px,#1010ff 172.5px,#2929ff 178.5px,#5e5eff 184.5px,#a3a3ff 190.5px,#d1d1ff 198px,#9c9cff 204px,#6363ff 211.5px,#3232ff 221.5px,#2626ff 239px,#2626ff 264.5px,#2727ff 265px,#3737ff 267.5px,#3737ff 268px)"></i><i style="top:117px;background:linear-gradient(90deg,#3131ff -1px,#3232ff 0px,#5757ff 12px,#6464ff 17.5px,#7070ff 25.5px,#6c6cff 42.5px,#6e6eff 44px,#7171ff 44.5px,#a3a3ff 49px,#a3a3ff 49.5px,#8c8cff 52px,#8686ff 54px,#8d8dff 55.5px,#7878ff 59px,#7878ff 60.5px,#8282ff 65.5px,#8787ff 71px,#a2a2ff 80px,#f5f5ff 92px,#ffffff 98.5px,#ffffff 98.5px,#ffffff 98.5px,#e3e3ff 106.5px,#cbcbff 115px,#c2c2ff 128px,#c2c2ff 131.5px,#ffffff 131.8px,#ff7a7a 132.5px,#ffbcbc 135px,#ffc6c6 135.5px,#ffffff 139.2px,#f2f2ff 140px,#cdcdff 145px,#9494ff 150.5px,#3535ff 157.5px,#1616ff 163px,#1010ff 172.5px,#2a2aff 178.5px,#5c5cff 184px,#a1a1ff 190px,#cfcfff 197.5px,#cdcdff 198px,#9c9cff 203.5px,#6363ff 211px,#3131ff 221.5px,#2626ff 238.5px,#2626ff 264.5px,#2727ff 265px,#3838ff 267.5px,#3838ff 268px)"></i><i style="top:119px;background:linear-gradient(90deg,#3434ff -1px,#3535ff 0px,#5858ff 11.5px,#6565ff 17.5px,#7272ff 25.5px,#6d6dff 42.5px,#6f6fff 44px,#a6a6ff 49px,#8f8fff 51.5px,#8c8cff 52px,#8787ff 54px,#8d8dff 55px,#8d8dff 55.5px,#7a7aff 58.5px,#7979ff 59px,#7a7aff 60.5px,#8484ff 65.5px,#8989ff 71px,#a5a5ff 80px,#cfcfff 86px,#f2f2ff 91.5px,#fcfcff 98px,#e1e1ff 106px,#c8c8ff 115px,#c0c0ff 131.5px,#ffffff 131.8px,#ff7f7f 132.5px,#ffc1c1 135px,#ffffff 139px,#f0f0ff 140px,#cfcfff 144.5px,#9191ff 150.5px,#3333ff 157.5px,#1717ff 163px,#1111ff 172.5px,#2c2cff 178.5px,#5f5fff 184px,#9e9eff 189.5px,#cdcdff 197px,#cdcdff 197.5px,#9b9bff 203px,#6262ff 210.5px,#3030ff 221px,#2525ff 238.5px,#2525ff 264.5px,#3636ff 267px,#3939ff 268px)"></i><i style="top:121px;background:linear-gradient(90deg,#3838ff -1px,#3939ff 0px,#5a5aff 11.5px,#6767ff 17.5px,#7474ff 25.5px,#7070ff 36px,#6f6fff 43.5px,#7373ff 44px,#a6a6ff 48.5px,#a5a5ff 49px,#8e8eff 51.5px,#8888ff 53.5px,#9090ff 55px,#7a7aff 58.5px,#7b7bff 60.5px,#8585ff 65.5px,#8b8bff 71px,#a6a6ff 79.5px,#d1d1ff 86px,#f1f1ff 91.5px,#f9f9ff 97.5px,#f9f9ff 98px,#dedeff 106px,#c6c6ff 115px,#bebeff 131.5px,#ffffff 131.8px,#ff8484 132.5px,#ffc6c6 135px,#ffffff 138.9px,#efefff 140px,#cdcdff 144.5px,#8e8eff 150.5px,#3636ff 157px,#3232ff 157.5px,#1717ff 163px,#1111ff 172px,#2a2aff 178px,#5d5dff 183.5px,#a1a1ff 189.5px,#ccccff 196.5px,#cdcdff 197px,#9a9aff 202.5px,#6262ff 210px,#3030ff 220.5px,#2525ff 238px,#2525ff 264.5px,#3737ff 267px,#3a3aff 268px)"></i><i style="top:123px;background:linear-gradient(90deg,#3b3bff -1px,#3c3cff 0px,#5c5cff 11.5px,#7676ff 25.5px,#7070ff 43px,#7171ff 43.5px,#a9a9ff 48.5px,#8e8eff 51.5px,#8989ff 53.5px,#9090ff 54.5px,#9090ff 55px,#7c7cff 58.5px,#7d7dff 60.5px,#8787ff 65.5px,#8c8cff 71px,#a9a9ff 79.5px,#d0d0ff 85.5px,#efefff 91px,#f7f7ff 97.5px,#ddddff 105.5px,#c3c3ff 115px,#bcbcff 131.5px,#ffffff 131.9px,#ff8989 132.5px,#ffcaca 135px,#ffffff 138.6px,#f3f3ff 139.5px,#cacaff 144.5px,#9090ff 150px,#3434ff 157px,#1818ff 162.5px,#1111ff 172px,#2c2cff 178px,#6060ff 183.5px,#9f9fff 189px,#cdcdff 196.5px,#9a9aff 202px,#5e5eff 210px,#3030ff 220px,#2424ff 237.5px,#2424ff 264px,#2525ff 264.5px,#3939ff 267px,#3b3bff 268px)"></i><i style="top:125px;background:linear-gradient(90deg,#3e3eff -1px,#5e5eff 11.5px,#7777ff 25.5px,#7171ff 43px,#7575ff 43.5px,#a9a9ff 48px,#a8a8ff 48.5px,#9090ff 51px,#8a8aff 53px,#9393ff 54.5px,#7d7dff 58px,#7e7eff 60.5px,#8888ff 65.5px,#8e8eff 71px,#aaaaff 79px,#ceceff 85px,#ececff 90.5px,#f4f4ff 97px,#dbdbff 105px,#c1c1ff 115px,#babaff 131.5px,#ffffff 131.9px,#ff8e8e 132.5px,#ffcece 135px,#ffffff 138.5px,#f0f0ff 139.5px,#ccccff 144px,#8d8dff 150px,#3232ff 157px,#1818ff 162.5px,#1212ff 172px,#2b2bff 177.5px,#2e2eff 178px,#5e5eff 183px,#a1a1ff 189px,#cbcbff 196px,#c8c8ff 196.5px,#9595ff 202px,#5d5dff 209.5px,#2f2fff 219.5px,#2424ff 237px,#2424ff 264px,#3a3aff 267px,#3c3cff 268px)"></i><i style="top:127px;background:linear-gradient(90deg,#4242ff -1px,#6060ff 11.5px,#7979ff 25.5px,#7272ff 42.5px,#7373ff 43px,#a7a7ff 47.5px,#ababff 48px,#9090ff 51px,#8b8bff 53px,#9393ff 54px,#9494ff 54.5px,#7e7eff 58px,#8080ff 60.5px,#8a8aff 65.5px,#8f8fff 70.5px,#adadff 79px,#d0d0ff 85px,#ebebff 90.5px,#ececff 91px,#f0f0ff 97px,#d8d8ff 105px,#bfbfff 115px,#b8b8ff 131.5px,#ffffff 131.9px,#ff9393 132.5px,#ffc7c7 134.5px,#ffd2d2 135px,#ffffff 138.3px,#efefff 139.5px,#c9c9ff 144px,#8a8aff 150px,#3535ff 156.5px,#1818ff 162.5px,#1111ff 171.5px,#2c2cff 177.5px,#6161ff 183px,#9f9fff 188.5px,#c9c9ff 195.5px,#c8c8ff 196px,#9595ff 201.5px,#5c5cff 209px,#2f2fff 219px,#2323ff 237px,#2323ff 264px,#3b3bff 267px,#3d3dff 268px)"></i><i style="top:129px;background:linear-gradient(90deg,#4545ff -1px,#6262ff 11.5px,#7b7bff 25.5px,#7373ff 42.5px,#7777ff 43px,#ababff 47.5px,#aaaaff 48px,#9292ff 50.5px,#8c8cff 52.5px,#9696ff 54px,#8080ff 57.5px,#8181ff 60.5px,#8b8bff 65.5px,#9090ff 70.5px,#aeaeff 78.5px,#cfcfff 84.5px,#eaeaff 90.5px,#eeeeff 96.5px,#d6d6ff 104.5px,#bcbcff 115px,#b7b7ff 131.5px,#ffffff 131.9px,#ff9898 132.5px,#ffcccc 134.5px,#ffd6d6 135px,#ffffff 138.1px,#ededff 139.5px,#c6c6ff 144px,#8c8cff 149.5px,#3333ff 156.5px,#1919ff 162.5px,#1111ff 171.5px,#2d2dff 177.5px,#5f5fff 182.5px,#9c9cff 188px,#c7c7ff 195px,#c8c8ff 195.5px,#9494ff 201px,#5c5cff 208.5px,#2f2fff 218.5px,#2222ff 236.5px,#2222ff 263.5px,#2323ff 264px,#3c3cff 267px,#3e3eff 268px)"></i><i style="top:131px;background:linear-gradient(90deg,#4949ff -1px,#6464ff 11.5px,#7d7dff 25.5px,#7676ff 35.5px,#7575ff 42.5px,#aaaaff 47px,#adadff 47.5px,#9292ff 50.5px,#8d8dff 52.5px,#9797ff 54px,#8181ff 57.5px,#8383ff 60.5px,#8d8dff 65.5px,#9292ff 70.5px,#b1b1ff 78.5px,#d1d1ff 84.5px,#e8e8ff 90px,#ebebff 96px,#bbbbff 114.5px,#b5b5ff 131.5px,#ffffff 131.9px,#ff9d9d 132.5px,#ffd1d1 134.5px,#ffdada 135px,#ffffff 137.9px,#f1f1ff 139px,#c3c3ff 144px,#8989ff 149.5px,#3737ff 156px,#3232ff 156.5px,#1919ff 162.5px,#1313ff 171.5px,#2c2cff 177px,#6262ff 182.5px,#9f9fff 188px,#c8c8ff 195px,#9393ff 200.5px,#5b5bff 208px,#2f2fff 218px,#2222ff 236px,#2222ff 263.5px,#2424ff 264px,#3d3dff 267px,#3f3fff 268px)"></i><i style="top:133px;background:linear-gradient(90deg,#4c4cff -1px,#7f7fff 25.5px,#7575ff 42px,#7979ff 42.5px,#aeaeff 47px,#acacff 47.5px,#9494ff 50px,#9292ff 50.5px,#8e8eff 52px,#9898ff 53.5px,#9797ff 54px,#8383ff 57px,#8282ff 57.5px,#8484ff 60.5px,#8e8eff 65.5px,#9494ff 70.5px,#b2b2ff 78px,#d0d0ff 84px,#e6e6ff 90px,#e7e7ff 96px,#b8b8ff 114.5px,#b3b3ff 131.5px,#ffffff 132px,#ffa3a3 132.5px,#ffd6d6 134.5px,#ffdddd 135px,#ffffff 137.7px,#efefff 139px,#c6c6ff 143.5px,#8686ff 149.5px,#3535ff 156px,#1a1aff 162px,#1212ff 171px,#2d2dff 177px,#6060ff 182px,#9d9dff 187.5px,#c6c6ff 194.5px,#c4c4ff 195px,#9393ff 200px,#5b5bff 207.5px,#2e2eff 218px,#2121ff 235.5px,#2121ff 263.5px,#3f3fff 267px,#4040ff 268px)"></i><i style="top:135px;background:linear-gradient(90deg,#4f4fff -1px,#8181ff 25.5px,#7777ff 41.5px,#7878ff 42px,#acacff 46.5px,#b0b0ff 47px,#9393ff 50px,#8f8fff 52px,#9a9aff 53.5px,#8383ff 57px,#8686ff 60.5px,#9090ff 65.5px,#9595ff 70.5px,#b5b5ff 78px,#d2d2ff 84px,#e4e4ff 89.5px,#e5e5ff 95.5px,#b6b6ff 114.5px,#b1b1ff 131.5px,#ffffff 132px,#ffa8a8 132.5px,#ffdada 134.5px,#ffe1e1 135px,#ffffff 137.5px,#ededff 139px,#c3c3ff 143.5px,#8383ff 149.5px,#3333ff 156px,#1a1aff 162px,#1212ff 171px,#2c2cff 176.5px,#2f2fff 177px,#5d5dff 181.5px,#9f9fff 187.5px,#c4c4ff 194px,#c4c4ff 194.5px,#8e8eff 200px,#5a5aff 207px,#2d2dff 217.5px,#2121ff 235.5px,#2121ff 263px,#2121ff 263.5px,#4040ff 267px,#4141ff 268px)"></i><i style="top:137px;background:linear-gradient(90deg,#5353ff -1px,#8383ff 25.5px,#7a7aff 35.5px,#7878ff 41.5px,#8181ff 42.5px,#b1b1ff 46.5px,#aeaeff 47px,#9696ff 49.5px,#9393ff 50px,#8f8fff 51.5px,#9a9aff 53px,#9a9aff 53.5px,#8686ff 56.5px,#8585ff 57px,#8787ff 60.5px,#9191ff 65.5px,#9797ff 70.5px,#d1d1ff 83.5px,#e2e2ff 89px,#e2e2ff 95px,#b3b3ff 114.5px,#afafff 131.5px,#ffffff 132px,#ffadad 132.5px,#ffdfdf 134.5px,#ffffff 137.3px,#ebebff 139px,#c0c0ff 143.5px,#8585ff 149px,#3636ff 155.5px,#3232ff 156px,#1a1aff 162px,#1212ff 170.5px,#2d2dff 176.5px,#6060ff 181.5px,#9d9dff 187px,#c4c4ff 194px,#8e8eff 199.5px,#5959ff 206.5px,#2d2dff 217px,#2020ff 235px,#2020ff 263px,#2222ff 263.5px,#4141ff 267px,#4242ff 268px)"></i><i style="top:139px;background:linear-gradient(90deg,#5656ff -1px,#7474ff 17.5px,#8585ff 25.5px,#7c7cff 35.5px,#7979ff 41px,#7b7bff 41.5px,#afafff 46px,#b2b2ff 46.5px,#9494ff 49.5px,#9191ff 51.5px,#9d9dff 53px,#8686ff 56.5px,#8989ff 60.5px,#9393ff 65.5px,#9999ff 70.5px,#d1d1ff 83px,#e0e0ff 89px,#e0e0ff 94.5px,#b1b1ff 114.5px,#adadff 131.5px,#ffffff 132px,#ffb2b2 132.5px,#ffe2e2 134.5px,#ffffff 137.1px,#e9e9ff 139px,#c2c2ff 143px,#8282ff 149px,#3434ff 155.5px,#1a1aff 162px,#1212ff 170.5px,#2f2fff 176.5px,#9a9aff 186.5px,#c3c3ff 193.5px,#8d8dff 199px,#5959ff 206px,#2d2dff 216.5px,#2020ff 234.5px,#2020ff 263px,#4242ff 267px,#4242ff 268px)"></i><i style="top:141px;background:linear-gradient(90deg,#5a5aff -1px,#7676ff 17.5px,#8787ff 25.5px,#7d7dff 35.5px,#7a7aff 41px,#8989ff 42.5px,#b4b4ff 46px,#9494ff 49.5px,#9090ff 51px,#9c9cff 52.5px,#9d9dff 53px,#8888ff 56px,#8787ff 56.5px,#8a8aff 60.5px,#9494ff 65.5px,#9b9bff 70.5px,#b9b9ff 77px,#d2d2ff 83px,#dedeff 88.5px,#dcdcff 94.5px,#afafff 114.5px,#ababff 131.5px,#ffffff 132px,#ffb7b7 132.5px,#ffdcdc 134px,#ffe6e6 134.5px,#ffffff 136.9px,#7f7fff 149px,#3838ff 155px,#3333ff 155.5px,#1b1bff 162px,#1313ff 170.5px,#2e2eff 176px,#3131ff 176.5px,#9d9dff 186.5px,#c2c2ff 193px,#bfbfff 193.5px,#8c8cff 198.5px,#5555ff 206px,#2c2cff 216px,#1f1fff 234px,#1f1fff 263px,#4343ff 267px,#4343ff 268px)"></i><i style="top:143px;background:linear-gradient(90deg,#5d5dff -1px,#7777ff 17.5px,#8989ff 25.5px,#7e7eff 35.5px,#7c7cff 40.5px,#7e7eff 41px,#b2b2ff 45.5px,#b5b5ff 46px,#9696ff 49px,#9292ff 51px,#a0a0ff 52.5px,#8888ff 56px,#8c8cff 60.5px,#9696ff 65.5px,#9b9bff 70px,#bcbcff 77px,#d2d2ff 82.5px,#dcdcff 88px,#dadaff 94px,#acacff 114.5px,#a9a9ff 131.5px,#ffffff 132.1px,#ffbcbc 132.5px,#ffe1e1 134px,#ffe9e9 134.5px,#ffffff 136.6px,#8181ff 148.5px,#3535ff 155px,#1c1cff 161.5px,#1313ff 170px,#2f2fff 176px,#9b9bff 186px,#c0c0ff 192.5px,#bfbfff 193px,#8c8cff 198px,#5454ff 205.5px,#2c2cff 215.5px,#1e1eff 234px,#1e1eff 262.5px,#2020ff 263px,#4444ff 267px,#4444ff 268px)"></i><i style="top:145px;background:linear-gradient(90deg,#6161ff -1px,#7979ff 17.5px,#8a8aff 25.5px,#8080ff 35.5px,#7d7dff 40.5px,#9292ff 42.5px,#b7b7ff 45.5px,#9696ff 49px,#9292ff 50.5px,#9e9eff 52px,#9f9fff 52.5px,#8989ff 56px,#8d8dff 60.5px,#9898ff 65.5px,#9d9dff 70px,#bdbdff 76.5px,#d3d3ff 82.5px,#dadaff 88px,#d7d7ff 93.5px,#ababff 114px,#a7a7ff 131.5px,#ffffff 132.1px,#ffc1c1 132.5px,#ffe6e6 134px,#ffeded 134.5px,#ffffff 136.3px,#e9e9ff 138.5px,#7e7eff 148.5px,#3333ff 155px,#1c1cff 161.5px,#1313ff 170px,#3030ff 176px,#9d9dff 186px,#bfbfff 192.5px,#8c8cff 197.5px,#5454ff 205px,#2c2cff 215px,#1e1eff 233.5px,#1e1eff 262.5px,#2020ff 263px,#4545ff 267px,#4545ff 268px)"></i><i style="top:147px;background:linear-gradient(90deg,#6464ff -1px,#7b7bff 17.5px,#8c8cff 25.5px,#8181ff 35.5px,#7f7fff 40px,#8181ff 40.5px,#9696ff 42.5px,#b5b5ff 45px,#b7b7ff 45.5px,#9797ff 48.5px,#9595ff 49px,#9494ff 50.5px,#a2a2ff 52px,#8a8aff 55.5px,#8f8fff 60.5px,#9999ff 65.5px,#9e9eff 70px,#c0c0ff 76.5px,#d3d3ff 82px,#d8d8ff 87.5px,#d4d4ff 93px,#a8a8ff 114px,#a5a5ff 131.5px,#ffffff 132.1px,#ffc6c6 132.5px,#ffeaea 134px,#fff0f0 134.5px,#ffffff 136px,#e7e7ff 138.5px,#7b7bff 148.5px,#3737ff 154.5px,#3232ff 155px,#1c1cff 161.5px,#1414ff 170px,#2f2fff 175.5px,#3333ff 176px,#6666ff 180.5px,#9b9bff 185.5px,#bfbfff 192px,#8787ff 197.5px,#5353ff 204.5px,#2b2bff 214.5px,#1d1dff 233px,#1d1dff 262.5px,#4343ff 266.5px,#4646ff 267px,#4646ff 268px)"></i><i style="top:149px;background:linear-gradient(90deg,#6767ff -1px,#7c7cff 17.5px,#8e8eff 25.5px,#8282ff 35.5px,#8080ff 40px,#9b9bff 42.5px,#babaff 45px,#9797ff 48.5px,#9393ff 50px,#a0a0ff 51.5px,#a2a2ff 52px,#8b8bff 55.5px,#9090ff 60.5px,#9b9bff 65.5px,#a0a0ff 70px,#c1c1ff 76px,#d4d4ff 82px,#d6d6ff 87px,#d1d1ff 93px,#a6a6ff 114px,#a4a4ff 131.5px,#ffffff 132.1px,#ffcbcb 132.5px,#ffefef 134px,#ffffff 135.7px,#e6e6ff 138.5px,#3434ff 154.5px,#1c1cff 161.5px,#1313ff 169.5px,#3030ff 175.5px,#6363ff 180px,#9898ff 185px,#bdbdff 191.5px,#babaff 192px,#8686ff 197px,#5252ff 204px,#2b2bff 214px,#1d1dff 232.5px,#1d1dff 262px,#1d1dff 262.5px,#4444ff 266.5px,#4747ff 267px,#4747ff 268px)"></i><i style="top:151px;background:linear-gradient(90deg,#6b6bff -1px,#7e7eff 17.5px,#9090ff 25.5px,#8484ff 35.5px,#8181ff 39.5px,#8383ff 40px,#9f9fff 42.5px,#b8b8ff 44.5px,#babaff 45px,#9999ff 48px,#9494ff 49.5px,#9595ff 50px,#a3a3ff 51.5px,#a2a2ff 52px,#8d8dff 55px,#9292ff 60.5px,#9c9cff 65.5px,#a2a2ff 70px,#c4c4ff 76px,#d4d4ff 82px,#d5d5ff 87px,#ceceff 92.5px,#a3a3ff 114px,#a2a2ff 131.5px,#ffffff 132.2px,#ffd0d0 132.5px,#fff3f3 134px,#ffffff 135.4px,#e9e9ff 138px,#3333ff 154.5px,#1d1dff 161px,#1414ff 169.5px,#2f2fff 175px,#3232ff 175.5px,#6767ff 180px,#9b9bff 185px,#bbbbff 191px,#bbbbff 191.5px,#8585ff 196.5px,#5252ff 203.5px,#2a2aff 214px,#1c1cff 232.5px,#1c1cff 262px,#1e1eff 262.5px,#4646ff 266.5px,#4848ff 267px,#4848ff 268px)"></i><i style="top:153px;background:linear-gradient(90deg,#6e6eff -1px,#7f7fff 17.5px,#9292ff 25.5px,#8585ff 35.5px,#8383ff 39.5px,#a4a4ff 42.5px,#bdbdff 44.5px,#9898ff 48px,#9494ff 49.5px,#a5a5ff 51.5px,#8d8dff 55px,#9393ff 60.5px,#9e9eff 65.5px,#a4a4ff 70px,#c5c5ff 75.5px,#d5d5ff 81.5px,#d3d3ff 86.5px,#ccccff 92px,#a1a1ff 114px,#a0a0ff 131.5px,#ffffff 132.2px,#ffd6d6 132.5px,#fff6f6 134px,#ffffff 135.1px,#e7e7ff 138px,#b3b3ff 142.5px,#3636ff 154px,#3232ff 154.5px,#1d1dff 161px,#1414ff 169px,#3030ff 175px,#3535ff 175.5px,#6464ff 179.5px,#9999ff 184.5px,#bbbbff 191px,#8585ff 196px,#5151ff 203px,#2a2aff 213.5px,#1c1cff 232px,#1c1cff 262px,#4747ff 266.5px,#4949ff 267px,#4949ff 268px)"></i><i style="top:155px;background:linear-gradient(90deg,#7272ff -1px,#8181ff 17.5px,#9494ff 25.5px,#8686ff 35.5px,#8484ff 39px,#8787ff 39.5px,#bbbbff 44px,#bcbcff 44.5px,#9b9bff 47.5px,#9898ff 48px,#9595ff 49px,#9797ff 49.5px,#a5a5ff 51px,#a5a5ff 51.5px,#8f8fff 54.5px,#8e8eff 55px,#a4a4ff 69.5px,#c8c8ff 75.5px,#d5d5ff 81.5px,#d1d1ff 86.5px,#c9c9ff 91.5px,#9f9fff 114px,#9e9eff 131.5px,#ffffff 132.2px,#ffdbdb 132.5px,#fff1f1 133.5px,#fff9f9 134px,#ffffff 134.7px,#e6e6ff 138px,#b6b6ff 142px,#3434ff 154px,#1d1dff 161px,#1414ff 169px,#3232ff 175px,#6767ff 179.5px,#9b9bff 184.5px,#babaff 190.5px,#8484ff 195.5px,#5151ff 202.5px,#2a2aff 213px,#1b1bff 231.5px,#1b1bff 262px,#4848ff 266.5px,#4a4aff 268px)"></i><i style="top:157px;background:linear-gradient(90deg,#7575ff -1px,#8282ff 17.5px,#9696ff 25.5px,#8888ff 35.5px,#8585ff 39px,#c0c0ff 44px,#9999ff 47.5px,#9595ff 49px,#a8a8ff 51px,#8f8fff 54.5px,#a6a6ff 69.5px,#c9c9ff 75px,#d6d6ff 81px,#b6b6ff 101px,#9d9dff 113.5px,#9c9cff 131.5px,#ffffff 132.3px,#ffe0e0 132.5px,#fff6f6 133.5px,#fffdfd 134px,#ffffff 134.3px,#e4e4ff 138px,#b3b3ff 142px,#3737ff 153.5px,#3333ff 154px,#1e1eff 161px,#1515ff 169px,#3030ff 174.5px,#3434ff 175px,#6565ff 179px,#9999ff 184px,#b8b8ff 190px,#b6b6ff 190.5px,#8080ff 195.5px,#5050ff 202px,#2929ff 212.5px,#1b1bff 231px,#1a1aff 261.5px,#1c1cff 262px,#4949ff 266.5px,#4b4bff 268px)"></i><i style="top:159px;background:linear-gradient(90deg,#7979ff -1px,#7e7eff 11.5px,#8484ff 17.5px,#9898ff 25.5px,#8989ff 35.5px,#8787ff 38.5px,#8a8aff 39px,#bfbfff 43.5px,#bfbfff 44px,#9c9cff 47px,#9999ff 47.5px,#9696ff 48.5px,#9898ff 49px,#a7a7ff 50.5px,#a7a7ff 51px,#9191ff 54px,#9090ff 54.5px,#a7a7ff 69.5px,#cbcbff 75px,#d6d6ff 80.5px,#b3b3ff 101px,#9b9bff 113.5px,#9a9aff 131.5px,#ffffff 132.3px,#ffe5e5 132.5px,#fffafa 133.5px,#ffffff 133.9px,#fefeff 134px,#e7e7ff 137.5px,#b0b0ff 142px,#7373ff 147.5px,#3535ff 153.5px,#1e1eff 161px,#1515ff 168.5px,#3232ff 174.5px,#6868ff 179px,#9797ff 183.5px,#b7b7ff 189.5px,#b6b6ff 190px,#7f7fff 195px,#5050ff 201.5px,#2929ff 212px,#1a1aff 231px,#1a1aff 261.5px,#1d1dff 262px,#4b4bff 266.5px,#4c4cff 268px)"></i><i style="top:161px;background:linear-gradient(90deg,#7a7aff -1px,#7f7fff 11.5px,#8484ff 17.5px,#9898ff 25.5px,#8a8aff 35.5px,#8888ff 38.5px,#c2c2ff 43.5px,#9a9aff 47px,#9696ff 48.5px,#a9a9ff 50.5px,#9090ff 54px,#9090ff 54.5px,#a8a8ff 69.5px,#cbcbff 74.5px,#d5d5ff 80.5px,#c1c1ff 90.5px,#b1b1ff 101px,#9999ff 113.5px,#9999ff 131.5px,#ffffff 132.3px,#ffe8e8 132.5px,#fffdfd 133.5px,#ffffff 133.7px,#e6e6ff 137.5px,#adadff 142px,#7171ff 147.5px,#3434ff 153.5px,#1e1eff 161px,#1515ff 168.5px,#3333ff 174.5px,#6666ff 178.5px,#9999ff 183.5px,#b7b7ff 189.5px,#7f7fff 194.5px,#4c4cff 201.5px,#2929ff 211.5px,#1919ff 230.5px,#1a1aff 261.5px,#4e4eff 266.5px,#4f4fff 268px)"></i><i style="top:163px;background:linear-gradient(90deg,#7979ff -1px,#7e7eff 11.5px,#8383ff 17.5px,#9898ff 25.5px,#8989ff 35.5px,#8888ff 38px,#8b8bff 38.5px,#bfbfff 43px,#bfbfff 43.5px,#9898ff 47px,#9595ff 48px,#9797ff 48.5px,#a6a6ff 50px,#a8a8ff 50.5px,#9090ff 54px,#9898ff 60.5px,#a8a8ff 69.5px,#cacaff 74.5px,#d2d2ff 80.5px,#bdbdff 91px,#afafff 101px,#9797ff 114px,#9999ff 131.5px,#ffffff 132.3px,#ffeaea 132.5px,#ffffff 133.5px,#ffffff 133.5px,#e5e5ff 137.5px,#acacff 142px,#7070ff 147.5px,#3333ff 153.5px,#1f1fff 160.5px,#1515ff 168.5px,#3131ff 174px,#3434ff 174.5px,#6868ff 178.5px,#9797ff 183px,#b7b7ff 189px,#7f7fff 194px,#4c4cff 201px,#2828ff 211px,#1919ff 230px,#1919ff 261px,#1c1cff 261.5px,#5454ff 266.5px,#5555ff 268px)"></i><i style="top:165px;background:linear-gradient(90deg,#7979ff -1px,#7e7eff 11.5px,#8383ff 17.5px,#9797ff 25.5px,#8989ff 35.5px,#8888ff 38px,#c2c2ff 43px,#9999ff 46.5px,#9797ff 47px,#9494ff 48px,#a8a8ff 50px,#a6a6ff 50.5px,#9090ff 53.5px,#8f8fff 54px,#9898ff 60.5px,#a8a8ff 69.5px,#c9c9ff 74.5px,#cfcfff 80px,#bbbbff 91px,#acacff 101.5px,#9696ff 114.5px,#9797ff 127.5px,#9999ff 131.5px,#ffffff 132.3px,#ffecec 132.5px,#ffffff 133.4px,#fefeff 133.5px,#e4e4ff 137.5px,#b0b0ff 141.5px,#6e6eff 147.5px,#3333ff 153.5px,#1e1eff 160.5px,#1616ff 168.5px,#3232ff 174px,#3636ff 174.5px,#6565ff 178px,#9999ff 183px,#b6b6ff 188.5px,#b4b4ff 189px,#7f7fff 193.5px,#4b4bff 200.5px,#2828ff 210.5px,#1919ff 229.5px,#1919ff 261px,#5a5aff 266.5px,#5a5aff 268px)"></i><i style="top:167px;background:linear-gradient(90deg,#7878ff -1px,#7d7dff 11.5px,#8282ff 17.5px,#9797ff 25.5px,#8787ff 37.5px,#8b8bff 38px,#bfbfff 42.5px,#bebeff 43px,#9797ff 46.5px,#9494ff 47.5px,#9696ff 48px,#a8a8ff 50px,#8f8fff 53.5px,#9898ff 60.5px,#a8a8ff 69.5px,#c8c8ff 74.5px,#cdcdff 80px,#b8b8ff 91px,#aaaaff 102px,#9494ff 115px,#9696ff 127.5px,#9999ff 131.5px,#ffffff 132.4px,#ffeeee 132.5px,#ffffff 133.4px,#fcfcff 133.5px,#e3e3ff 137.5px,#afafff 141.5px,#6d6dff 147.5px,#3636ff 153px,#3333ff 153.5px,#1e1eff 160.5px,#1515ff 168px,#3333ff 174px,#3838ff 174.5px,#6868ff 178px,#9797ff 182.5px,#b5b5ff 188px,#b5b5ff 188.5px,#7b7bff 193.5px,#4b4bff 200px,#2727ff 210px,#1919ff 228.5px,#1919ff 260.5px,#1c1cff 261px,#6060ff 266.5px,#6060ff 268px)"></i><i style="top:169px;background:linear-gradient(90deg,#7777ff -1px,#7c7cff 11.5px,#8181ff 17.5px,#9696ff 25.5px,#8888ff 35.5px,#8888ff 37.5px,#c1c1ff 42.5px,#9999ff 46px,#9595ff 46.5px,#9393ff 47.5px,#a6a6ff 49.5px,#a7a7ff 50px,#9090ff 53px,#8f8fff 53.5px,#9797ff 60.5px,#a8a8ff 69px,#a9a9ff 69.5px,#c7c7ff 74.5px,#cacaff 80px,#b5b5ff 91.5px,#a7a7ff 102.5px,#9393ff 115px,#9595ff 127.5px,#9999ff 131.5px,#ffffff 132.4px,#fff0f0 132.5px,#ffffff 133.3px,#fbfbff 133.5px,#e2e2ff 137.5px,#aeaeff 141.5px,#6c6cff 147.5px,#3636ff 153px,#3232ff 153.5px,#1e1eff 160.5px,#1515ff 168px,#3434ff 174px,#6a6aff 178px,#9999ff 182.5px,#b6b6ff 188px,#7b7bff 193px,#4b4bff 199.5px,#2727ff 209.5px,#1919ff 228px,#1919ff 260.5px,#6666ff 266.5px,#6666ff 268px)"></i><i style="top:171px;background:linear-gradient(90deg,#7676ff -1px,#7b7bff 11.5px,#8080ff 17.5px,#9696ff 25.5px,#8787ff 37px,#8b8bff 37.5px,#c0c0ff 42px,#bebeff 42.5px,#9696ff 46px,#9292ff 47px,#9595ff 47.5px,#a7a7ff 49.5px,#8f8fff 53px,#9797ff 60.5px,#a8a8ff 69px,#c6c6ff 74.5px,#c8c8ff 80px,#b2b2ff 91.5px,#a5a5ff 102.5px,#9292ff 115.5px,#9494ff 128px,#9999ff 131.5px,#ffffff 132.4px,#fff2f2 132.5px,#ffffff 133.2px,#fafaff 133.5px,#e1e1ff 137.5px,#acacff 141.5px,#7070ff 147px,#3535ff 153px,#1e1eff 160.5px,#1515ff 168px,#3535ff 174px,#6767ff 177.5px,#9797ff 182px,#b6b6ff 187.5px,#7b7bff 192.5px,#4b4bff 199px,#2727ff 209px,#1919ff 227.5px,#1919ff 260px,#1b1bff 260.5px,#6c6cff 266.5px,#6c6cff 268px)"></i><i style="top:173px;background:linear-gradient(90deg,#7575ff -1px,#7b7bff 11.5px,#8080ff 17.5px,#9595ff 25.5px,#8787ff 35.5px,#8888ff 37px,#bdbdff 41.5px,#c1c1ff 42px,#9393ff 46px,#9191ff 47px,#a7a7ff 49.5px,#8e8eff 53px,#9696ff 60.5px,#a8a8ff 69px,#c5c5ff 74.5px,#c5c5ff 80px,#afafff 92px,#9090ff 116px,#9393ff 128px,#9999ff 131.5px,#ffffff 132.4px,#fff4f4 132.5px,#ffffff 133.1px,#f9f9ff 133.5px,#e0e0ff 137.5px,#ababff 141.5px,#6f6fff 147px,#3434ff 153px,#1f1fff 160px,#1616ff 167.5px,#1616ff 168px,#3737ff 174px,#6a6aff 177.5px,#9999ff 182px,#b5b5ff 187px,#b3b3ff 187.5px,#7c7cff 192px,#4a4aff 198.5px,#2626ff 208.5px,#1818ff 227px,#1919ff 260px,#1e1eff 260.5px,#6c6cff 266px,#7171ff 266.5px,#7171ff 268px)"></i><i style="top:175px;background:linear-gradient(90deg,#7575ff -1px,#7a7aff 11.5px,#7f7fff 17.5px,#9494ff 25.5px,#8787ff 36.5px,#8b8bff 37px,#c0c0ff 41.5px,#bebeff 42px,#9595ff 45.5px,#9090ff 46.5px,#9393ff 47px,#a6a6ff 49px,#a6a6ff 49.5px,#8f8fff 52.5px,#8e8eff 53px,#9696ff 60.5px,#a8a8ff 69px,#c2c2ff 74px,#c3c3ff 74.5px,#c2c2ff 80px,#adadff 92px,#9090ff 116px,#9292ff 128px,#9999ff 131.5px,#ffffff 132.4px,#fff5f5 132.5px,#ffffff 133.1px,#f8f8ff 133.5px,#dfdfff 137.5px,#aaaaff 141.5px,#6e6eff 147px,#3333ff 153px,#1f1fff 160px,#1616ff 167.5px,#1717ff 168px,#3434ff 173.5px,#3939ff 174px,#6c6cff 177.5px,#9797ff 181.5px,#b4b4ff 186.5px,#b4b4ff 187px,#7c7cff 191.5px,#4a4aff 198px,#2626ff 208px,#1818ff 226.5px,#1919ff 259.5px,#1a1aff 260px,#7272ff 266px,#7777ff 266.5px,#7777ff 268px)"></i><i style="top:177px;background:linear-gradient(90deg,#7474ff -1px,#7979ff 11.5px,#7e7eff 17.5px,#9494ff 25.5px,#8686ff 36px,#8888ff 36.5px,#bdbdff 41px,#c1c1ff 41.5px,#9292ff 45.5px,#9090ff 46px,#9090ff 46.5px,#a8a8ff 49px,#8d8dff 52.5px,#9696ff 60.5px,#a8a8ff 69px,#c2c2ff 74px,#c2c2ff 74.5px,#c0c0ff 79.5px,#aaaaff 92px,#8e8eff 116.5px,#9191ff 128px,#9999ff 131.5px,#ffffff 132.4px,#fff7f7 132.5px,#ffffff 133px,#f7f7ff 133.5px,#dedeff 137.5px,#a8a8ff 141.5px,#6d6dff 147px,#3333ff 153px,#1f1fff 160px,#1616ff 167.5px,#3535ff 173.5px,#6969ff 177px,#9a9aff 181.5px,#b5b5ff 186.5px,#7c7cff 191px,#4747ff 198px,#2525ff 207.5px,#1818ff 225.5px,#1919ff 259.5px,#1e1eff 260px,#7878ff 266px,#7d7dff 266.5px,#7d7dff 268px)"></i><i style="top:179px;background:linear-gradient(90deg,#7373ff -1px,#7878ff 11.5px,#7d7dff 17.5px,#9393ff 25.5px,#8686ff 36px,#c0c0ff 41px,#bebeff 41.5px,#9494ff 45px,#8f8fff 46px,#a5a5ff 48.5px,#a6a6ff 49px,#8d8dff 52.5px,#9595ff 60.5px,#a8a8ff 69px,#c1c1ff 74px,#c1c1ff 74.5px,#bdbdff 79.5px,#a7a7ff 92.5px,#8d8dff 117px,#9090ff 128px,#9999ff 131.5px,#ffffff 132.4px,#fff9f9 132.5px,#ffffff 132.9px,#f6f6ff 133.5px,#e2e2ff 137px,#ddddff 137.5px,#a7a7ff 141.5px,#6c6cff 147px,#3333ff 153px,#1e1eff 160px,#1616ff 167.5px,#3636ff 173.5px,#6b6bff 177px,#9797ff 181px,#b5b5ff 186px,#7878ff 191px,#4747ff 197.5px,#2525ff 207px,#1818ff 225px,#1a1aff 259.5px,#7f7fff 266px,#8282ff 266.5px,#8282ff 268px)"></i><i style="top:181px;background:linear-gradient(90deg,#7272ff -1px,#7878ff 11.5px,#7d7dff 17.5px,#9393ff 25.5px,#8686ff 35.5px,#8787ff 36px,#bebeff 40.5px,#c1c1ff 41px,#9191ff 45px,#8e8eff 45.5px,#8e8eff 46px,#a6a6ff 48.5px,#a5a5ff 49px,#8e8eff 52px,#8d8dff 52.5px,#9595ff 60.5px,#a8a8ff 69px,#c0c0ff 74px,#babaff 79.5px,#a4a4ff 92.5px,#8b8bff 117.5px,#8f8fff 128px,#9999ff 131.5px,#ffffff 132.5px,#fffbfb 132.5px,#ffffff 132.8px,#f5f5ff 133.5px,#e1e1ff 137px,#a5a5ff 141.5px,#6b6bff 147px,#3232ff 153px,#1e1eff 160px,#1717ff 167px,#1717ff 167.5px,#3838ff 173.5px,#6868ff 176.5px,#9595ff 180.5px,#9a9aff 181px,#b4b4ff 185.5px,#b2b2ff 186px,#7878ff 190.5px,#4646ff 197px,#2525ff 206px,#1818ff 224.5px,#1919ff 259px,#1d1dff 259.5px,#8585ff 266px,#8888ff 266.5px,#8888ff 268px)"></i><i style="top:183px;background:linear-gradient(90deg,#7272ff -1px,#7777ff 11.5px,#7c7cff 17.5px,#9292ff 25.5px,#8585ff 35.5px,#c1c1ff 40.5px,#bdbdff 41px,#8e8eff 45px,#8d8dff 45.5px,#a7a7ff 48.5px,#8c8cff 52px,#9595ff 60.5px,#9f9fff 65.5px,#a8a8ff 69px,#bfbfff 74px,#a1a1ff 93px,#8a8aff 117.5px,#8e8eff 128px,#9999ff 131.5px,#ffffff 132.5px,#fffdfd 132.5px,#ffffff 132.7px,#f3f3ff 133.5px,#e0e0ff 137px,#a4a4ff 141.5px,#6969ff 147px,#3535ff 152.5px,#1f1fff 159.5px,#1717ff 167px,#1818ff 167.5px,#3636ff 173px,#3a3aff 173.5px,#6b6bff 176.5px,#9898ff 180.5px,#b3b3ff 185px,#b3b3ff 185.5px,#7878ff 190px,#4646ff 196.5px,#2525ff 205.5px,#1717ff 224px,#1919ff 259px,#8b8bff 266px,#8e8eff 266.5px,#8e8eff 268px)"></i><i style="top:185px;background:linear-gradient(90deg,#7171ff -1px,#7676ff 11.5px,#7b7bff 17.5px,#9292ff 25.5px,#8686ff 35px,#8787ff 35.5px,#bebeff 40px,#c0c0ff 40.5px,#9090ff 44.5px,#8d8dff 45px,#8d8dff 45.5px,#a5a5ff 48px,#a6a6ff 48.5px,#8e8eff 51.5px,#8c8cff 52px,#9494ff 60.5px,#9e9eff 65.5px,#a8a8ff 69px,#bebeff 74px,#9e9eff 93px,#8989ff 118px,#8d8dff 128px,#9999ff 131.5px,#ffffff 132.5px,#ffffff 132.5px,#ffffff 132.5px,#f2f2ff 133.5px,#dfdfff 137px,#a3a3ff 141.5px,#6d6dff 146.5px,#3535ff 152.5px,#1f1fff 159.5px,#1717ff 167px,#3737ff 173px,#3d3dff 173.5px,#6d6dff 176.5px,#9595ff 180px,#9a9aff 180.5px,#b5b5ff 185px,#7878ff 189.5px,#4646ff 196px,#2424ff 205px,#1717ff 223.5px,#1919ff 258.5px,#1d1dff 259px,#9191ff 266px,#9393ff 266.5px,#9393ff 268px)"></i><i style="top:187px;background:linear-gradient(90deg,#7070ff -1px,#7575ff 11.5px,#7a7aff 17.5px,#9191ff 25.5px,#8585ff 35px,#8a8aff 35.5px,#c1c1ff 40px,#bdbdff 40.5px,#8d8dff 44.5px,#8b8bff 45px,#a6a6ff 48px,#8c8cff 51.5px,#8c8cff 52px,#9494ff 60.5px,#9e9eff 65.5px,#a8a8ff 69px,#bcbcff 74px,#9b9bff 93.5px,#8787ff 118.5px,#8c8cff 128px,#9999ff 131.5px,#fefeff 132.5px,#f1f1ff 133.5px,#dedeff 137px,#a1a1ff 141.5px,#6c6cff 146.5px,#3434ff 152.5px,#1f1fff 159.5px,#1717ff 167px,#3838ff 173px,#6969ff 176px,#9898ff 180px,#b4b4ff 184.5px,#afafff 185px,#7979ff 189px,#4646ff 195.5px,#2424ff 204.5px,#1717ff 223px,#1919ff 258.5px,#9797ff 266px,#9999ff 268px)"></i><i style="top:189px;background:linear-gradient(90deg,#6f6fff -1px,#7474ff 11.5px,#7a7aff 17.5px,#9090ff 25.5px,#8686ff 34.5px,#8787ff 35px,#bebeff 39.5px,#c0c0ff 40px,#8b8bff 44.5px,#8c8cff 45px,#a6a6ff 48px,#8b8bff 51.5px,#9393ff 60.5px,#9e9eff 65.5px,#a8a8ff 69px,#bbbbff 74px,#b0b0ff 79px,#9898ff 93.5px,#8686ff 119px,#8b8bff 128px,#9999ff 131.5px,#fcfcff 132.5px,#f0f0ff 133.5px,#dedeff 137px,#a0a0ff 141.5px,#6b6bff 146.5px,#3333ff 152.5px,#1f1fff 159.5px,#1717ff 167px,#3939ff 173px,#6d6dff 176px,#9595ff 179.5px,#9a9aff 180px,#b3b3ff 184px,#b1b1ff 184.5px,#7a7aff 188.5px,#7575ff 189px,#4545ff 195px,#2424ff 204px,#1717ff 222.5px,#1919ff 258px,#1c1cff 258.5px,#9e9eff 266px,#9f9fff 268px)"></i><i style="top:191px;background:linear-gradient(90deg,#6f6fff -1px,#7474ff 11.5px,#7979ff 17.5px,#9090ff 25.5px,#8585ff 34.5px,#8f8fff 35.5px,#c1c1ff 39.5px,#8d8dff 44px,#8989ff 44.5px,#a5a5ff 47.5px,#a5a5ff 48px,#8d8dff 51px,#8b8bff 51.5px,#9393ff 60.5px,#9d9dff 65.5px,#babaff 74px,#adadff 79px,#9696ff 93.5px,#8585ff 119px,#8a8aff 128px,#9999ff 131.5px,#fafaff 132.5px,#efefff 133.5px,#ddddff 137px,#a4a4ff 141px,#6a6aff 146.5px,#3333ff 152.5px,#1f1fff 159.5px,#1818ff 167px,#3737ff 172.5px,#3b3bff 173px,#6f6fff 176px,#9898ff 179.5px,#b2b2ff 183.5px,#b3b3ff 184px,#7575ff 188.5px,#4545ff 194.5px,#2323ff 203.5px,#1717ff 222px,#1919ff 258px,#2020ff 258.5px,#a4a4ff 266px,#a5a5ff 268px)"></i><i style="top:193px;background:linear-gradient(90deg,#6e6eff -1px,#7373ff 11.5px,#7878ff 17.5px,#8f8fff 25.5px,#8585ff 34px,#8787ff 34.5px,#9292ff 35.5px,#bdbdff 39px,#bfbfff 39.5px,#8989ff 44px,#8a8aff 44.5px,#a6a6ff 47.5px,#8b8bff 51px,#8b8bff 51.5px,#9393ff 60.5px,#9d9dff 65.5px,#b9b9ff 73.5px,#aaaaff 79px,#9393ff 94px,#8383ff 119.5px,#8989ff 128px,#9999ff 131.5px,#f8f8ff 132.5px,#eeeeff 133.5px,#dcdcff 137px,#a3a3ff 141px,#6969ff 146.5px,#3636ff 152px,#3333ff 152.5px,#1e1eff 159.5px,#1818ff 166.5px,#1919ff 167px,#3838ff 172.5px,#3e3eff 173px,#6c6cff 175.5px,#9595ff 179px,#b4b4ff 183.5px,#7575ff 188px,#4545ff 194px,#2323ff 203px,#1616ff 221.5px,#1919ff 257.5px,#1b1bff 258px,#aaaaff 266px,#aaaaff 268px)"></i><i style="top:195px;background:linear-gradient(90deg,#6d6dff -1px,#7272ff 11.5px,#7777ff 17.5px,#8f8fff 25.5px,#8585ff 34px,#9595ff 35.5px,#c0c0ff 39px,#8888ff 44px,#a3a3ff 47px,#a5a5ff 47.5px,#8b8bff 51px,#9393ff 61px,#9c9cff 65.5px,#b8b8ff 73.5px,#a7a7ff 79px,#9090ff 94px,#8282ff 120px,#8888ff 128px,#9999ff 131.5px,#f6f6ff 132.5px,#ededff 133.5px,#dbdbff 137px,#a1a1ff 141px,#6868ff 146.5px,#3636ff 152px,#3232ff 152.5px,#1e1eff 159.5px,#1818ff 166.5px,#3939ff 172.5px,#6e6eff 175.5px,#9898ff 179px,#b4b4ff 183px,#afafff 183.5px,#7575ff 187.5px,#4545ff 193.5px,#2222ff 202.5px,#1616ff 221px,#1919ff 257.5px,#1f1fff 258px,#b0b0ff 266px,#b0b0ff 268px)"></i><i style="top:197px;background:linear-gradient(90deg,#6c6cff -1px,#7171ff 11.5px,#7676ff 17.5px,#8e8eff 25.5px,#8585ff 33.5px,#8787ff 34px,#9898ff 35.5px,#bdbdff 38.5px,#bebeff 39px,#8989ff 43.5px,#8989ff 44px,#a5a5ff 47px,#a4a4ff 47.5px,#8c8cff 50.5px,#8b8bff 51px,#9393ff 61px,#9c9cff 65.5px,#b7b7ff 73.5px,#a5a5ff 78.5px,#8d8dff 94px,#8585ff 107.5px,#8080ff 120.5px,#8787ff 128px,#9898ff 131.5px,#f5f5ff 132.5px,#ececff 133.5px,#dadaff 137px,#a0a0ff 141px,#6c6cff 146px,#3535ff 152px,#1e1eff 159.5px,#1818ff 166.5px,#3a3aff 172.5px,#6a6aff 175px,#9595ff 178.5px,#b3b3ff 182.5px,#b0b0ff 183px,#7676ff 187px,#4545ff 193px,#2222ff 202px,#1616ff 220.5px,#1919ff 257px,#1a1aff 257.5px,#b6b6ff 266px,#b6b6ff 268px)"></i><i style="top:199px;background:linear-gradient(90deg,#6c6cff -1px,#7171ff 11.5px,#7676ff 17.5px,#8e8eff 25.5px,#8585ff 33.5px,#9b9bff 35.5px,#c0c0ff 38.5px,#8686ff 43.5px,#a6a6ff 47px,#8a8aff 50.5px,#9292ff 61px,#9c9cff 65.5px,#a9a9ff 69px,#b6b6ff 73.5px,#a2a2ff 78.5px,#8a8aff 94.5px,#8282ff 108px,#7f7fff 120.5px,#8686ff 128px,#9898ff 131.5px,#f3f3ff 132.5px,#ebebff 133.5px,#d9d9ff 137px,#9f9fff 141px,#6a6aff 146px,#3434ff 152px,#1f1fff 159px,#1919ff 166.5px,#3838ff 172px,#3c3cff 172.5px,#6e6eff 175px,#9999ff 178.5px,#b1b1ff 182px,#b2b2ff 182.5px,#7676ff 186.5px,#4545ff 192.5px,#4141ff 193px,#2121ff 201.5px,#1616ff 220px,#1919ff 257px,#1e1eff 257.5px,#b4b4ff 265.5px,#bbbbff 266px,#bbbbff 268px)"></i><i style="top:201px;background:linear-gradient(90deg,#6b6bff -1px,#7070ff 11.5px,#7575ff 17.5px,#8d8dff 25.5px,#8585ff 33px,#8787ff 33.5px,#9d9dff 35.5px,#bdbdff 38px,#bdbdff 38.5px,#8888ff 43px,#8787ff 43.5px,#a3a3ff 46.5px,#a5a5ff 47px,#8d8dff 50px,#8a8aff 50.5px,#9292ff 61px,#9b9bff 65.5px,#a9a9ff 69px,#b5b5ff 73.5px,#a0a0ff 78.5px,#8787ff 94.5px,#8080ff 108px,#7e7eff 121.5px,#8686ff 128.5px,#9898ff 131.5px,#f1f1ff 132.5px,#d7d7ff 137px,#9d9dff 141px,#6969ff 146px,#3434ff 152px,#1f1fff 159px,#1919ff 166.5px,#3939ff 172px,#3f3fff 172.5px,#7070ff 175px,#9696ff 178px,#b3b3ff 182px,#7777ff 186px,#7272ff 186.5px,#4141ff 192.5px,#2121ff 201px,#1616ff 219.5px,#1919ff 257px,#bbbbff 265.5px,#c1c1ff 266px,#c1c1ff 268px)"></i><i style="top:203px;background:linear-gradient(90deg,#6a6aff -1px,#6f6fff 11.5px,#7474ff 17.5px,#8c8cff 25.5px,#8484ff 33px,#a0a0ff 35.5px,#c0c0ff 38px,#8585ff 43px,#a5a5ff 46.5px,#a3a3ff 47px,#8b8bff 50px,#8a8aff 50.5px,#9292ff 61px,#9b9bff 65.5px,#a9a9ff 69px,#b3b3ff 73.5px,#9d9dff 78.5px,#8585ff 94.5px,#7e7eff 108.5px,#7d7dff 122px,#8585ff 128.5px,#9898ff 131.5px,#efefff 132.5px,#dbdbff 136.5px,#d6d6ff 137px,#9c9cff 141px,#6868ff 146px,#3333ff 152px,#1f1fff 159px,#1919ff 166px,#3a3aff 172px,#4141ff 172.5px,#6c6cff 174.5px,#7373ff 175px,#9999ff 178px,#b3b3ff 181.5px,#aeaeff 182px,#7272ff 186px,#4040ff 192px,#2121ff 200.5px,#1515ff 218.5px,#1919ff 256.5px,#1d1dff 257px,#c1c1ff 265.5px,#c7c7ff 266px,#c7c7ff 268px)"></i><i style="top:205px;background:linear-gradient(90deg,#6969ff -1px,#6e6eff 11.5px,#7373ff 17.5px,#8c8cff 25.5px,#8585ff 32.5px,#8787ff 33px,#a3a3ff 35.5px,#bcbcff 37.5px,#bcbcff 38px,#8888ff 42.5px,#8686ff 43px,#a5a5ff 46.5px,#8a8aff 50px,#9090ff 60.5px,#9a9aff 65.5px,#a9a9ff 69px,#b2b2ff 73.5px,#9b9bff 78px,#8282ff 94.5px,#7b7bff 109px,#7b7bff 122px,#8484ff 128.5px,#9898ff 131.5px,#ededff 132.5px,#dadaff 136.5px,#d5d5ff 137px,#9b9bff 141px,#6767ff 146px,#3333ff 152px,#1f1fff 159px,#1919ff 166px,#3b3bff 172px,#7070ff 174.5px,#9696ff 177.5px,#b2b2ff 181px,#afafff 181.5px,#7272ff 185.5px,#4040ff 191.5px,#2020ff 200px,#1515ff 218px,#1919ff 256.5px,#c7c7ff 265.5px,#ccccff 266px,#ccccff 268px)"></i><i style="top:207px;background:linear-gradient(90deg,#6969ff -1px,#6e6eff 11.5px,#7373ff 17.5px,#8b8bff 25.5px,#8484ff 32.5px,#a6a6ff 35.5px,#bfbfff 37.5px,#8585ff 42.5px,#8787ff 43px,#a4a4ff 46px,#a4a4ff 46.5px,#8c8cff 49.5px,#8a8aff 50px,#9090ff 60.5px,#9a9aff 65.5px,#a9a9ff 69px,#b1b1ff 73px,#b0b0ff 73.5px,#9898ff 78px,#7f7fff 95px,#7979ff 109.5px,#7a7aff 122.5px,#8383ff 128.5px,#9898ff 131.5px,#ececff 132.5px,#d9d9ff 136.5px,#d4d4ff 137px,#9999ff 141px,#6666ff 146px,#3636ff 151.5px,#3333ff 152px,#1e1eff 159px,#1919ff 166px,#3c3cff 172px,#6a6aff 174px,#7272ff 174.5px,#9999ff 177.5px,#b0b0ff 180.5px,#b1b1ff 181px,#7272ff 185px,#4040ff 191px,#2020ff 199.5px,#1515ff 217.5px,#1919ff 256px,#1c1cff 256.5px,#ceceff 265.5px,#d2d2ff 266px,#d2d2ff 268px)"></i><i style="top:209px;background:linear-gradient(90deg,#6868ff -1px,#6d6dff 11.5px,#7272ff 17.5px,#8b8bff 25.5px,#8484ff 32px,#8787ff 32.5px,#a9a9ff 35.5px,#bcbcff 37px,#bbbbff 37.5px,#8787ff 42px,#8585ff 42.5px,#a5a5ff 46px,#8a8aff 49.5px,#8a8aff 50px,#9090ff 60.5px,#9a9aff 65.5px,#a9a9ff 69px,#b0b0ff 73px,#9595ff 78px,#7c7cff 95px,#7676ff 109.5px,#7878ff 122.5px,#8282ff 128.5px,#9898ff 131.5px,#eaeaff 132.5px,#d8d8ff 136.5px,#d3d3ff 137px,#9898ff 141px,#6565ff 146px,#3535ff 151.5px,#1e1eff 159px,#1a1aff 166px,#3a3aff 171.5px,#3f3fff 172px,#6e6eff 174px,#7575ff 174.5px,#9b9bff 177.5px,#b3b3ff 180.5px,#7373ff 184.5px,#4040ff 190.5px,#1f1fff 199px,#1515ff 217px,#1919ff 256px,#2121ff 256.5px,#d4d4ff 265.5px,#d8d8ff 266px,#d8d8ff 268px)"></i><i style="top:211px;background:linear-gradient(90deg,#6767ff -1px,#6c6cff 11.5px,#7171ff 17.5px,#8a8aff 25.5px,#8484ff 32px,#bebeff 37px,#8484ff 42px,#8686ff 42.5px,#a2a2ff 45.5px,#a4a4ff 46px,#8a8aff 49.5px,#8f8fff 60.5px,#9999ff 65.5px,#a8a8ff 68.5px,#afafff 73px,#9292ff 78px,#7979ff 95.5px,#7474ff 110px,#7777ff 123px,#8181ff 128.5px,#9898ff 131.5px,#e8e8ff 132.5px,#d8d8ff 136.5px,#9797ff 141px,#6969ff 145.5px,#3535ff 151.5px,#1f1fff 158.5px,#1919ff 165.5px,#1b1bff 166px,#3b3bff 171.5px,#4343ff 172px,#7272ff 174px,#9999ff 177px,#b2b2ff 180px,#adadff 180.5px,#7474ff 184px,#4040ff 190px,#1f1fff 198.5px,#1515ff 216.5px,#1919ff 255.5px,#1b1bff 256px,#dadaff 265.5px,#dedeff 266px,#dedeff 268px)"></i><i style="top:213px;background:linear-gradient(90deg,#6666ff -1px,#6b6bff 11.5px,#7070ff 17.5px,#8a8aff 25.5px,#8484ff 31.5px,#8787ff 32px,#bbbbff 36.5px,#babaff 37px,#8686ff 41.5px,#8484ff 42px,#a4a4ff 45.5px,#a3a3ff 46px,#8b8bff 49px,#8a8aff 49.5px,#8f8fff 60.5px,#9999ff 65.5px,#a8a8ff 68.5px,#aeaeff 73px,#9191ff 77.5px,#8f8fff 78px,#7676ff 95.5px,#7171ff 110.5px,#7676ff 123.5px,#8080ff 128.5px,#9898ff 131.5px,#e6e6ff 132.5px,#e4e4ff 133.5px,#d7d7ff 136.5px,#9b9bff 140.5px,#9595ff 141px,#6767ff 145.5px,#3434ff 151.5px,#1f1fff 158.5px,#1a1aff 165.5px,#3c3cff 171.5px,#4646ff 172px,#6c6cff 173.5px,#7474ff 174px,#9696ff 176.5px,#b0b0ff 179.5px,#aeaeff 180px,#7575ff 183.5px,#6e6eff 184px,#4040ff 189.5px,#1f1fff 198px,#1414ff 216px,#1919ff 255.5px,#2020ff 256px,#e1e1ff 265.5px,#e3e3ff 266px,#e3e3ff 268px)"></i><i style="top:215px;background:linear-gradient(90deg,#6666ff -1px,#6b6bff 11.5px,#7070ff 17.5px,#8989ff 25.5px,#8484ff 31.5px,#bcbcff 36.5px,#b9b9ff 37px,#8585ff 41.5px,#8484ff 42px,#a4a4ff 45.5px,#8a8aff 49px,#8a8aff 49.5px,#8f8fff 60.5px,#9999ff 65.5px,#a8a8ff 68.5px,#adadff 73px,#8f8fff 77.5px,#7575ff 95.5px,#7070ff 110.5px,#7575ff 123.5px,#7f7fff 128.5px,#9898ff 131.5px,#e6e6ff 132.5px,#e6e6ff 133px,#d7d7ff 136.5px,#9b9bff 140.5px,#9595ff 141px,#6767ff 145.5px,#3434ff 151.5px,#1f1fff 158.5px,#1a1aff 165.5px,#3d3dff 171.5px,#6e6eff 173.5px,#7676ff 174px,#9898ff 176.5px,#b2b2ff 179.5px,#acacff 180px,#7272ff 183.5px,#3e3eff 189.5px,#1f1fff 197.5px,#1414ff 215.5px,#1919ff 255.5px,#2222ff 256px,#e3e3ff 265.5px,#e6e6ff 266px,#e6e6ff 268px)"></i></div><svg width="750" height="540" viewBox="0 0 750 540"><rect x="54.1" y="11.8" width="268.2" height="215.0" fill="none" stroke="#000" stroke-width="2.2"/><path d="M69.0 226.8v-5.5M69.0 11.8v5.5" stroke="#000" stroke-width="1.6"/><path d="M98.8 226.8v-3.8M98.8 11.8v3.8" stroke="#000" stroke-width="1.6"/><path d="M128.6 226.8v-5.5M128.6 11.8v5.5" stroke="#000" stroke-width="1.6"/><path d="M158.4 226.8v-3.8M158.4 11.8v3.8" stroke="#000" stroke-width="1.6"/><path d="M188.2 226.8v-5.5M188.2 11.8v5.5" stroke="#000" stroke-width="1.6"/><path d="M218.0 226.8v-3.8M218.0 11.8v3.8" stroke="#000" stroke-width="1.6"/><path d="M247.8 226.8v-5.5M247.8 11.8v5.5" stroke="#000" stroke-width="1.6"/><path d="M277.6 226.8v-3.8M277.6 11.8v3.8" stroke="#000" stroke-width="1.6"/><path d="M307.4 226.8v-5.5M307.4 11.8v5.5" stroke="#000" stroke-width="1.6"/><path d="M54.1 17.0h5.5M322.3 17.0h-5.5" stroke="#000" stroke-width="1.6"/><path d="M54.1 30.4h3.8M322.3 30.4h-3.8" stroke="#000" stroke-width="1.6"/><path d="M54.1 43.9h5.5M322.3 43.9h-5.5" stroke="#000" stroke-width="1.6"/><path d="M54.1 57.3h3.8M322.3 57.3h-3.8" stroke="#000" stroke-width="1.6"/><path d="M54.1 70.8h5.5M322.3 70.8h-5.5" stroke="#000" stroke-width="1.6"/><path d="M54.1 84.2h3.8M322.3 84.2h-3.8" stroke="#000" stroke-width="1.6"/><path d="M54.1 97.7h5.5M322.3 97.7h-5.5" stroke="#000" stroke-width="1.6"/><path d="M54.1 111.1h3.8M322.3 111.1h-3.8" stroke="#000" stroke-width="1.6"/><path d="M54.1 124.6h5.5M322.3 124.6h-5.5" stroke="#000" stroke-width="1.6"/><path d="M54.1 138.1h3.8M322.3 138.1h-3.8" stroke="#000" stroke-width="1.6"/><path d="M54.1 151.5h5.5M322.3 151.5h-5.5" stroke="#000" stroke-width="1.6"/><path d="M54.1 164.9h3.8M322.3 164.9h-3.8" stroke="#000" stroke-width="1.6"/><path d="M54.1 178.4h5.5M322.3 178.4h-5.5" stroke="#000" stroke-width="1.6"/><path d="M54.1 191.8h3.8M322.3 191.8h-3.8" stroke="#000" stroke-width="1.6"/><path d="M54.1 205.3h5.5M322.3 205.3h-5.5" stroke="#000" stroke-width="1.6"/><path d="M54.1 218.8h3.8M322.3 218.8h-3.8" stroke="#000" stroke-width="1.6"/><rect x="433.4" y="11.9" width="267.4" height="214.9" fill="none" stroke="#000" stroke-width="2.2"/><path d="M448.3 226.8v-5.5M448.3 11.9v5.5" stroke="#000" stroke-width="1.6"/><path d="M478.0 226.8v-3.8M478.0 11.9v3.8" stroke="#000" stroke-width="1.6"/><path d="M507.7 226.8v-5.5M507.7 11.9v5.5" stroke="#000" stroke-width="1.6"/><path d="M537.4 226.8v-3.8M537.4 11.9v3.8" stroke="#000" stroke-width="1.6"/><path d="M567.1 226.8v-5.5M567.1 11.9v5.5" stroke="#000" stroke-width="1.6"/><path d="M596.8 226.8v-3.8M596.8 11.9v3.8" stroke="#000" stroke-width="1.6"/><path d="M626.5 226.8v-5.5M626.5 11.9v5.5" stroke="#000" stroke-width="1.6"/><path d="M656.2 226.8v-3.8M656.2 11.9v3.8" stroke="#000" stroke-width="1.6"/><path d="M685.9 226.8v-5.5M685.9 11.9v5.5" stroke="#000" stroke-width="1.6"/><path d="M433.4 17.1h5.5M700.8 17.1h-5.5" stroke="#000" stroke-width="1.6"/><path d="M433.4 30.6h3.8M700.8 30.6h-3.8" stroke="#000" stroke-width="1.6"/><path d="M433.4 44.0h5.5M700.8 44.0h-5.5" stroke="#000" stroke-width="1.6"/><path d="M433.4 57.4h3.8M700.8 57.4h-3.8" stroke="#000" stroke-width="1.6"/><path d="M433.4 70.9h5.5M700.8 70.9h-5.5" stroke="#000" stroke-width="1.6"/><path d="M433.4 84.3h3.8M700.8 84.3h-3.8" stroke="#000" stroke-width="1.6"/><path d="M433.4 97.8h5.5M700.8 97.8h-5.5" stroke="#000" stroke-width="1.6"/><path d="M433.4 111.2h3.8M700.8 111.2h-3.8" stroke="#000" stroke-width="1.6"/><path d="M433.4 124.7h5.5M700.8 124.7h-5.5" stroke="#000" stroke-width="1.6"/><path d="M433.4 138.2h3.8M700.8 138.2h-3.8" stroke="#000" stroke-width="1.6"/><path d="M433.4 151.6h5.5M700.8 151.6h-5.5" stroke="#000" stroke-width="1.6"/><path d="M433.4 165.0h3.8M700.8 165.0h-3.8" stroke="#000" stroke-width="1.6"/><path d="M433.4 178.5h5.5M700.8 178.5h-5.5" stroke="#000" stroke-width="1.6"/><path d="M433.4 191.9h3.8M700.8 191.9h-3.8" stroke="#000" stroke-width="1.6"/><path d="M433.4 205.4h5.5M700.8 205.4h-5.5" stroke="#000" stroke-width="1.6"/><path d="M433.4 218.8h3.8M700.8 218.8h-3.8" stroke="#000" stroke-width="1.6"/><rect x="55.6" y="277.6" width="267.3" height="214.9" fill="none" stroke="#000" stroke-width="2.2"/><path d="M70.5 492.5v-5.5M70.5 277.6v5.5" stroke="#000" stroke-width="1.6"/><path d="M100.1 492.5v-3.8M100.1 277.6v3.8" stroke="#000" stroke-width="1.6"/><path d="M129.8 492.5v-5.5M129.8 277.6v5.5" stroke="#000" stroke-width="1.6"/><path d="M159.5 492.5v-3.8M159.5 277.6v3.8" stroke="#000" stroke-width="1.6"/><path d="M189.2 492.5v-5.5M189.2 277.6v5.5" stroke="#000" stroke-width="1.6"/><path d="M218.9 492.5v-3.8M218.9 277.6v3.8" stroke="#000" stroke-width="1.6"/><path d="M248.6 492.5v-5.5M248.6 277.6v5.5" stroke="#000" stroke-width="1.6"/><path d="M278.3 492.5v-3.8M278.3 277.6v3.8" stroke="#000" stroke-width="1.6"/><path d="M308.0 492.5v-5.5M308.0 277.6v5.5" stroke="#000" stroke-width="1.6"/><path d="M55.6 282.7h5.5M322.9 282.7h-5.5" stroke="#000" stroke-width="1.6"/><path d="M55.6 309.6h3.8M322.9 309.6h-3.8" stroke="#000" stroke-width="1.6"/><path d="M55.6 336.5h5.5M322.9 336.5h-5.5" stroke="#000" stroke-width="1.6"/><path d="M55.6 363.4h3.8M322.9 363.4h-3.8" stroke="#000" stroke-width="1.6"/><path d="M55.6 390.3h5.5M322.9 390.3h-5.5" stroke="#000" stroke-width="1.6"/><path d="M55.6 417.3h3.8M322.9 417.3h-3.8" stroke="#000" stroke-width="1.6"/><path d="M55.6 444.2h5.5M322.9 444.2h-5.5" stroke="#000" stroke-width="1.6"/><path d="M55.6 471.1h3.8M322.9 471.1h-3.8" stroke="#000" stroke-width="1.6"/><rect x="434.4" y="278.3" width="267.0" height="214.8" fill="none" stroke="#000" stroke-width="2.2"/><path d="M449.2 493.1v-5.5M449.2 278.3v5.5" stroke="#000" stroke-width="1.6"/><path d="M478.9 493.1v-3.8M478.9 278.3v3.8" stroke="#000" stroke-width="1.6"/><path d="M508.6 493.1v-5.5M508.6 278.3v5.5" stroke="#000" stroke-width="1.6"/><path d="M538.2 493.1v-3.8M538.2 278.3v3.8" stroke="#000" stroke-width="1.6"/><path d="M567.9 493.1v-5.5M567.9 278.3v5.5" stroke="#000" stroke-width="1.6"/><path d="M597.6 493.1v-3.8M597.6 278.3v3.8" stroke="#000" stroke-width="1.6"/><path d="M627.2 493.1v-5.5M627.2 278.3v5.5" stroke="#000" stroke-width="1.6"/><path d="M656.9 493.1v-3.8M656.9 278.3v3.8" stroke="#000" stroke-width="1.6"/><path d="M686.6 493.1v-5.5M686.6 278.3v5.5" stroke="#000" stroke-width="1.6"/><path d="M434.4 283.4h5.5M701.4 283.4h-5.5" stroke="#000" stroke-width="1.6"/><path d="M434.4 310.3h3.8M701.4 310.3h-3.8" stroke="#000" stroke-width="1.6"/><path d="M434.4 337.2h5.5M701.4 337.2h-5.5" stroke="#000" stroke-width="1.6"/><path d="M434.4 364.1h3.8M701.4 364.1h-3.8" stroke="#000" stroke-width="1.6"/><path d="M434.4 391.0h5.5M701.4 391.0h-5.5" stroke="#000" stroke-width="1.6"/><path d="M434.4 418.0h3.8M701.4 418.0h-3.8" stroke="#000" stroke-width="1.6"/><path d="M434.4 444.9h5.5M701.4 444.9h-5.5" stroke="#000" stroke-width="1.6"/><path d="M434.4 471.8h3.8M701.4 471.8h-3.8" stroke="#000" stroke-width="1.6"/><path d="M210.9 12.5L196.7 226.3" stroke="#0e6633" stroke-width="2.4" stroke-dasharray="3 5.8" fill="none" stroke-linecap="butt"/><path d="M293.2 12.5L231.6 226.3" stroke="#0e6633" stroke-width="2.4" stroke-dasharray="8.2 6.2" fill="none" stroke-linecap="butt"/><path d="M618.0 12.5L588.5 226.3" stroke="#45166c" stroke-width="2.4" stroke-dasharray="9.6 3.2 2.8 3.1" fill="none" stroke-linecap="butt"/><path d="M697.2 12.5L619.2 226.3" stroke="#45166c" stroke-width="2.4" stroke-dasharray="8.2 6.2" fill="none" stroke-linecap="butt"/><path d="M212.0 278.3L198.3 492.0" stroke="#0e6633" stroke-width="2.4" stroke-dasharray="3 5.8" fill="none" stroke-linecap="butt"/><path d="M239.6 278.3L210.1 492.0" stroke="#45166c" stroke-width="2.4" stroke-dasharray="9.6 3.2 2.8 3.1" fill="none" stroke-linecap="butt"/><path d="M294.0 278.3L232.0 492.0" stroke="#0e6633" stroke-width="2.4" stroke-dasharray="8.2 6.2" fill="none" stroke-linecap="butt"/><path d="M318.0 278.3L242.1 492.0" stroke="#45166c" stroke-width="2.4" stroke-dasharray="8.2 6.2" fill="none" stroke-linecap="butt"/><path d="M590.6 279.0L577.3 492.5" stroke="#0e6633" stroke-width="2.4" stroke-dasharray="3 5.8" fill="none" stroke-linecap="butt"/><path d="M618.4 279.0L589.6 492.5" stroke="#6a2a82" stroke-width="1.9" stroke-dasharray="9.6 3.2 2.8 3.1" fill="none" stroke-linecap="butt"/><path d="M673.0 279.0L610.5 492.5" stroke="#0e6633" stroke-width="2.4" stroke-dasharray="8.2 6.2" fill="none" stroke-linecap="butt"/><path d="M698.0 279.0L620.5 492.5" stroke="#632a86" stroke-width="2.2" stroke-dasharray="8.2 6.2" fill="none" stroke-linecap="butt"/><path d="M173.5 63.6L207 71" stroke="#0e6633" stroke-width="1.1" fill="none"/><path d="M173.2 168.9L241 184.5" stroke="#0e6633" stroke-width="1.1" fill="none"/><path d="M551.5 76.5L608 83" stroke="#45166c" stroke-width="1.1" fill="none"/><path d="M551.7 177L632.4 192.5" stroke="#45166c" stroke-width="1.1" fill="none"/><rect x="113.0" y="37.0" width="59.4" height="58.4" fill="#fff" stroke="#0b5a2c" stroke-width="2.4" stroke-dasharray="4.6 4.2" stroke-dashoffset="1.7"/><linearGradient id="ia1" x1="0" y1="0" x2="1" y2="0"><stop offset="0" stop-color="#c8b8e8"/><stop offset="0.5" stop-color="#ecdcf0"/><stop offset="1" stop-color="#c8b8e8"/></linearGradient><circle cx="143.0" cy="67.0" r="18.0" fill="none" stroke="url(#ia1)" stroke-width="0.9"/><path d="M134.6 50.1h4.4M136.8 47.9v4.4" stroke="#ff0a0a" stroke-width="1.7"/><rect x="135.7" y="49.0" width="2.2" height="2.2" fill="#ff0a0a" transform="rotate(45 136.8 50.1)"/><path d="M129.2 53.2h4.4M131.4 51.0v4.4" stroke="#ff0a0a" stroke-width="1.7"/><rect x="130.3" y="52.1" width="2.2" height="2.2" fill="#ff0a0a" transform="rotate(45 131.4 53.2)"/><path d="M158.5 70.1h4.4M160.7 67.9v4.4" stroke="#ff0a0a" stroke-width="1.7"/><rect x="159.6" y="69.0" width="2.2" height="2.2" fill="#ff0a0a" transform="rotate(45 160.7 70.1)"/><path d="M158.5 63.9h4.4M160.7 61.7v4.4" stroke="#ff0a0a" stroke-width="1.7"/><rect x="159.6" y="62.8" width="2.2" height="2.2" fill="#ff0a0a" transform="rotate(45 160.7 63.9)"/><path d="M129.2 80.8h4.4M131.4 78.6v4.4" stroke="#ff0a0a" stroke-width="1.7"/><rect x="130.3" y="79.7" width="2.2" height="2.2" fill="#ff0a0a" transform="rotate(45 131.4 80.8)"/><path d="M134.6 83.9h4.4M136.8 81.7v4.4" stroke="#ff0a0a" stroke-width="1.7"/><rect x="135.7" y="82.8" width="2.2" height="2.2" fill="#ff0a0a" transform="rotate(45 136.8 83.9)"/><path d="M152.3 53.2h4.6" stroke="#2828ee" stroke-width="1.7"/><path d="M146.9 50.1h4.6" stroke="#2828ee" stroke-width="1.7"/><path d="M123.0 63.9h4.6" stroke="#2828ee" stroke-width="1.7"/><path d="M123.0 70.1h4.6" stroke="#2828ee" stroke-width="1.7"/><path d="M146.9 83.9h4.6" stroke="#2828ee" stroke-width="1.7"/><path d="M152.3 80.8h4.6" stroke="#2828ee" stroke-width="1.7"/><rect x="113.0" y="140.4" width="59.4" height="58.0" fill="#fff" stroke="#0b5a2c" stroke-width="2.4" stroke-dasharray="8 7" stroke-dashoffset="5.3"/><linearGradient id="ia2" x1="0" y1="0" x2="1" y2="0"><stop offset="0" stop-color="#f08080"/><stop offset="0.5" stop-color="#ecdcf0"/><stop offset="1" stop-color="#8080f0"/></linearGradient><circle cx="142.6" cy="168.7" r="18.0" fill="none" stroke="url(#ia2)" stroke-width="0.9"/><path d="M127.7 156.0h4.4M129.9 153.8v4.4" stroke="#ff0a0a" stroke-width="1.7"/><rect x="128.8" y="154.9" width="2.2" height="2.2" fill="#ff0a0a" transform="rotate(45 129.9 156.0)"/><path d="M123.8 161.7h4.4M126.0 159.5v4.4" stroke="#ff0a0a" stroke-width="1.7"/><rect x="124.9" y="160.6" width="2.2" height="2.2" fill="#ff0a0a" transform="rotate(45 126.0 161.7)"/><path d="M122.4 168.7h4.4M124.6 166.5v4.4" stroke="#ff0a0a" stroke-width="1.7"/><rect x="123.5" y="167.6" width="2.2" height="2.2" fill="#ff0a0a" transform="rotate(45 124.6 168.7)"/><path d="M123.8 175.7h4.4M126.0 173.5v4.4" stroke="#ff0a0a" stroke-width="1.7"/><rect x="124.9" y="174.6" width="2.2" height="2.2" fill="#ff0a0a" transform="rotate(45 126.0 175.7)"/><path d="M127.7 181.4h4.4M129.9 179.2v4.4" stroke="#ff0a0a" stroke-width="1.7"/><rect x="128.8" y="180.3" width="2.2" height="2.2" fill="#ff0a0a" transform="rotate(45 129.9 181.4)"/><path d="M153.0 156.0h4.6" stroke="#2828ee" stroke-width="1.7"/><path d="M156.9 161.7h4.6" stroke="#2828ee" stroke-width="1.7"/><path d="M158.3 168.7h4.6" stroke="#2828ee" stroke-width="1.7"/><path d="M156.9 175.7h4.6" stroke="#2828ee" stroke-width="1.7"/><path d="M153.0 181.4h4.6" stroke="#2828ee" stroke-width="1.7"/><rect x="492.0" y="43.1" width="58.4" height="58.4" fill="#fff" stroke="#45166c" stroke-width="2.4" stroke-dasharray="10.5 3 3.2 3" stroke-dashoffset="4.4"/><linearGradient id="ib1" x1="0" y1="0" x2="1" y2="0"><stop offset="0" stop-color="#f2e0f2"/><stop offset="0.5" stop-color="#ecdcf0"/><stop offset="1" stop-color="#f2e0f2"/></linearGradient><circle cx="521.0" cy="72.0" r="18.0" fill="none" stroke="url(#ib1)" stroke-width="0.9"/><path d="M510.1 56.3h4.4M512.3 54.1v4.4" stroke="#ff0a0a" stroke-width="1.7"/><rect x="511.2" y="55.2" width="2.2" height="2.2" fill="#ff0a0a" transform="rotate(45 512.3 56.3)"/><path d="M505.4 60.0h4.4M507.6 57.8v4.4" stroke="#ff0a0a" stroke-width="1.7"/><rect x="506.5" y="58.9" width="2.2" height="2.2" fill="#ff0a0a" transform="rotate(45 507.6 60.0)"/><path d="M504.4 82.8h4.4M506.6 80.6v4.4" stroke="#ff0a0a" stroke-width="1.7"/><rect x="505.5" y="81.7" width="2.2" height="2.2" fill="#ff0a0a" transform="rotate(45 506.6 82.8)"/><path d="M510.1 87.7h4.4M512.3 85.5v4.4" stroke="#ff0a0a" stroke-width="1.7"/><rect x="511.2" y="86.6" width="2.2" height="2.2" fill="#ff0a0a" transform="rotate(45 512.3 87.7)"/><path d="M532.1 60.0h4.6" stroke="#2828ee" stroke-width="1.7"/><path d="M526.0 55.6h4.6" stroke="#2828ee" stroke-width="1.7"/><path d="M532.7 83.3h4.6" stroke="#2828ee" stroke-width="1.7"/><path d="M524.9 88.9h4.6" stroke="#2828ee" stroke-width="1.7"/><rect x="492.0" y="147.6" width="58.6" height="58.4" fill="#fff" stroke="#45166c" stroke-width="2.4" stroke-dasharray="8 7" stroke-dashoffset="5.3"/><linearGradient id="ib2" x1="0" y1="0" x2="1" y2="0"><stop offset="0" stop-color="#c8c8f8"/><stop offset="0.5" stop-color="#ecdcf0"/><stop offset="1" stop-color="#f8c8c8"/></linearGradient><circle cx="521.0" cy="177.0" r="18.0" fill="none" stroke="url(#ib2)" stroke-width="0.9"/><path d="M531.5 164.3h4.4M533.7 162.1v4.4" stroke="#ff0a0a" stroke-width="1.7"/><rect x="532.6" y="163.2" width="2.2" height="2.2" fill="#ff0a0a" transform="rotate(45 533.7 164.3)"/><path d="M535.4 170.0h4.4M537.6 167.8v4.4" stroke="#ff0a0a" stroke-width="1.7"/><rect x="536.5" y="168.9" width="2.2" height="2.2" fill="#ff0a0a" transform="rotate(45 537.6 170.0)"/><path d="M536.8 177.0h4.4M539.0 174.8v4.4" stroke="#ff0a0a" stroke-width="1.7"/><rect x="537.9" y="175.9" width="2.2" height="2.2" fill="#ff0a0a" transform="rotate(45 539.0 177.0)"/><path d="M535.4 184.0h4.4M537.6 181.8v4.4" stroke="#ff0a0a" stroke-width="1.7"/><rect x="536.5" y="182.9" width="2.2" height="2.2" fill="#ff0a0a" transform="rotate(45 537.6 184.0)"/><path d="M531.5 189.7h4.4M533.7 187.5v4.4" stroke="#ff0a0a" stroke-width="1.7"/><rect x="532.6" y="188.6" width="2.2" height="2.2" fill="#ff0a0a" transform="rotate(45 533.7 189.7)"/><path d="M506.0 164.3h4.6" stroke="#2828ee" stroke-width="1.7"/><path d="M502.1 170.0h4.6" stroke="#2828ee" stroke-width="1.7"/><path d="M500.7 177.0h4.6" stroke="#2828ee" stroke-width="1.7"/><path d="M502.1 184.0h4.6" stroke="#2828ee" stroke-width="1.7"/><path d="M506.0 189.7h4.6" stroke="#2828ee" stroke-width="1.7"/><text x="108.7" y="29.8" font-size="16.2" text-anchor="start" textLength="74.6" lengthAdjust="spacingAndGlyphs">Sextupole</text><text x="120.0" y="134.7" font-size="16.2" text-anchor="start" textLength="47.8" lengthAdjust="spacingAndGlyphs">Dipole</text><text x="497.0" y="36.2" font-size="16.2" text-anchor="start" textLength="48.0" lengthAdjust="spacingAndGlyphs">Dipole</text><text x="496.6" y="139.6" font-size="16.2" text-anchor="start" textLength="48.3" lengthAdjust="spacingAndGlyphs">Dipole</text><text x="8.2" y="23.2" font-size="25.0" text-anchor="start" font-weight="bold">a</text><text x="385.4" y="24.4" font-size="24.0" text-anchor="start" font-weight="bold">b</text><text x="7.6" y="291.3" font-size="25.5" text-anchor="start">c</text><text x="388.8" y="293.9" font-size="25.0" text-anchor="start" font-weight="bold">d</text><text x="50.1" y="23.3" font-size="16.4" text-anchor="end" textLength="23.4" lengthAdjust="spacingAndGlyphs">1.8</text><text x="50.1" y="76.1" font-size="16.4" text-anchor="end" textLength="23.4" lengthAdjust="spacingAndGlyphs">1.7</text><text x="50.1" y="129.8" font-size="16.4" text-anchor="end" textLength="23.4" lengthAdjust="spacingAndGlyphs">1.6</text><text x="50.1" y="183.3" font-size="16.4" text-anchor="end" textLength="23.4" lengthAdjust="spacingAndGlyphs">1.5</text><text x="50.1" y="232.2" font-size="16.4" text-anchor="end" textLength="23.4" lengthAdjust="spacingAndGlyphs">1.4</text><text x="68.8" y="242.5" font-size="15.8" text-anchor="middle" textLength="28.3" lengthAdjust="spacingAndGlyphs">400</text><text x="128.4" y="242.5" font-size="15.8" text-anchor="middle" textLength="28.3" lengthAdjust="spacingAndGlyphs">500</text><text x="188.0" y="242.5" font-size="15.8" text-anchor="middle" textLength="28.3" lengthAdjust="spacingAndGlyphs">600</text><text x="247.6" y="242.5" font-size="15.8" text-anchor="middle" textLength="28.3" lengthAdjust="spacingAndGlyphs">700</text><text x="307.2" y="242.5" font-size="15.8" text-anchor="middle" textLength="28.3" lengthAdjust="spacingAndGlyphs">800</text><text transform="translate(20.7 210.5) rotate(-90)" x="0" y="0" font-size="21.4" textLength="162.8" lengthAdjust="spacingAndGlyphs">Refractive index</text><text x="111.2" y="262.6" font-size="21.4" text-anchor="start" textLength="175.8" lengthAdjust="spacingAndGlyphs">Wavelength (nm)</text><text x="430.3" y="23.3" font-size="16.4" text-anchor="end" textLength="23.4" lengthAdjust="spacingAndGlyphs">1.8</text><text x="430.3" y="76.1" font-size="16.4" text-anchor="end" textLength="23.4" lengthAdjust="spacingAndGlyphs">1.7</text><text x="430.3" y="129.8" font-size="16.4" text-anchor="end" textLength="23.4" lengthAdjust="spacingAndGlyphs">1.6</text><text x="430.3" y="183.3" font-size="16.4" text-anchor="end" textLength="23.4" lengthAdjust="spacingAndGlyphs">1.5</text><text x="430.3" y="232.2" font-size="16.4" text-anchor="end" textLength="23.4" lengthAdjust="spacingAndGlyphs">1.4</text><text x="448.1" y="243.0" font-size="15.8" text-anchor="middle" textLength="28.3" lengthAdjust="spacingAndGlyphs">400</text><text x="507.5" y="243.0" font-size="15.8" text-anchor="middle" textLength="28.3" lengthAdjust="spacingAndGlyphs">500</text><text x="566.9" y="243.0" font-size="15.8" text-anchor="middle" textLength="28.3" lengthAdjust="spacingAndGlyphs">600</text><text x="626.3" y="243.0" font-size="15.8" text-anchor="middle" textLength="28.3" lengthAdjust="spacingAndGlyphs">700</text><text x="685.7" y="243.0" font-size="15.8" text-anchor="middle" textLength="28.3" lengthAdjust="spacingAndGlyphs">800</text><text transform="translate(399.5 210.3) rotate(-90)" x="0" y="0" font-size="21.4" textLength="163.0" lengthAdjust="spacingAndGlyphs">Refractive index</text><text x="492.3" y="263.5" font-size="21.4" text-anchor="start" textLength="175.0" lengthAdjust="spacingAndGlyphs">Wavelength (nm)</text><text x="51.9" y="289.4" font-size="16.4" text-anchor="end" textLength="23.4" lengthAdjust="spacingAndGlyphs">1.8</text><text x="51.9" y="342.0" font-size="16.4" text-anchor="end" textLength="23.4" lengthAdjust="spacingAndGlyphs">1.7</text><text x="51.9" y="395.6" font-size="16.4" text-anchor="end" textLength="23.4" lengthAdjust="spacingAndGlyphs">1.6</text><text x="51.9" y="450.0" font-size="16.4" text-anchor="end" textLength="23.4" lengthAdjust="spacingAndGlyphs">1.5</text><text x="51.9" y="498.5" font-size="16.4" text-anchor="end" textLength="23.4" lengthAdjust="spacingAndGlyphs">1.4</text><text x="70.2" y="509.0" font-size="15.8" text-anchor="middle" textLength="28.3" lengthAdjust="spacingAndGlyphs">400</text><text x="129.7" y="509.0" font-size="15.8" text-anchor="middle" textLength="28.3" lengthAdjust="spacingAndGlyphs">500</text><text x="189.0" y="509.0" font-size="15.8" text-anchor="middle" textLength="28.3" lengthAdjust="spacingAndGlyphs">600</text><text x="248.4" y="509.0" font-size="15.8" text-anchor="middle" textLength="28.3" lengthAdjust="spacingAndGlyphs">700</text><text x="307.8" y="509.0" font-size="15.8" text-anchor="middle" textLength="28.3" lengthAdjust="spacingAndGlyphs">800</text><text transform="translate(22.0 477.0) rotate(-90)" x="0" y="0" font-size="21.4" textLength="162.3" lengthAdjust="spacingAndGlyphs">Refractive index</text><text x="115.6" y="528.4" font-size="21.4" text-anchor="start" textLength="176.5" lengthAdjust="spacingAndGlyphs">Wavelength (nm)</text><text x="430.9" y="290.8" font-size="16.4" text-anchor="end" textLength="23.4" lengthAdjust="spacingAndGlyphs">1.8</text><text x="430.9" y="344.0" font-size="16.4" text-anchor="end" textLength="23.4" lengthAdjust="spacingAndGlyphs">1.7</text><text x="430.9" y="397.4" font-size="16.4" text-anchor="end" textLength="23.4" lengthAdjust="spacingAndGlyphs">1.6</text><text x="430.9" y="451.4" font-size="16.4" text-anchor="end" textLength="23.4" lengthAdjust="spacingAndGlyphs">1.5</text><text x="430.9" y="499.6" font-size="16.4" text-anchor="end" textLength="23.4" lengthAdjust="spacingAndGlyphs">1.4</text><text x="449.0" y="509.6" font-size="15.8" text-anchor="middle" textLength="28.3" lengthAdjust="spacingAndGlyphs">400</text><text x="508.4" y="509.6" font-size="15.8" text-anchor="middle" textLength="28.3" lengthAdjust="spacingAndGlyphs">500</text><text x="567.7" y="509.6" font-size="15.8" text-anchor="middle" textLength="28.3" lengthAdjust="spacingAndGlyphs">600</text><text x="627.0" y="509.6" font-size="15.8" text-anchor="middle" textLength="28.3" lengthAdjust="spacingAndGlyphs">700</text><text x="686.4" y="509.6" font-size="15.8" text-anchor="middle" textLength="28.3" lengthAdjust="spacingAndGlyphs">800</text><text transform="translate(401.9 476.1) rotate(-90)" x="0" y="0" font-size="21.4" textLength="162.3" lengthAdjust="spacingAndGlyphs">Refractive index</text><text x="494.6" y="529.8" font-size="21.4" text-anchor="start" textLength="175.3" lengthAdjust="spacingAndGlyphs">Wavelength (nm)</text><linearGradient id="cba" x1="0" y1="1" x2="0" y2="0"><stop offset="0" stop-color="#0000ff"/><stop offset="0.5" stop-color="#ffffff"/><stop offset="1" stop-color="#ff0000"/></linearGradient><rect x="327.2" y="11.3" width="18.2" height="216.3" fill="url(#cba)" stroke="#000" stroke-width="2.2"/><path d="M327.2 206.0h2.2M345.4 206.0h-2.2" stroke="#000" stroke-width="0.8" opacity="0.7"/><path d="M327.2 184.3h2.2M345.4 184.3h-2.2" stroke="#000" stroke-width="0.8" opacity="0.7"/><path d="M327.2 162.7h2.2M345.4 162.7h-2.2" stroke="#000" stroke-width="0.8" opacity="0.7"/><path d="M327.2 141.1h2.2M345.4 141.1h-2.2" stroke="#000" stroke-width="0.8" opacity="0.7"/><path d="M327.2 119.5h2.2M345.4 119.5h-2.2" stroke="#000" stroke-width="0.8" opacity="0.7"/><path d="M327.2 97.8h2.2M345.4 97.8h-2.2" stroke="#000" stroke-width="0.8" opacity="0.7"/><path d="M327.2 76.2h2.2M345.4 76.2h-2.2" stroke="#000" stroke-width="0.8" opacity="0.7"/><path d="M327.2 54.6h2.2M345.4 54.6h-2.2" stroke="#000" stroke-width="0.8" opacity="0.7"/><path d="M327.2 32.9h2.2M345.4 32.9h-2.2" stroke="#000" stroke-width="0.8" opacity="0.7"/><text x="348.6" y="16.7" font-size="14.4" text-anchor="start" textLength="22.6" lengthAdjust="spacingAndGlyphs">1.0</text><text x="348.6" y="59.6" font-size="14.4" text-anchor="start" textLength="22.6" lengthAdjust="spacingAndGlyphs">0.8</text><text x="348.6" y="102.5" font-size="14.4" text-anchor="start" textLength="22.6" lengthAdjust="spacingAndGlyphs">0.6</text><text x="348.6" y="145.4" font-size="14.4" text-anchor="start" textLength="22.6" lengthAdjust="spacingAndGlyphs">0.4</text><text x="348.6" y="188.3" font-size="14.4" text-anchor="start" textLength="22.6" lengthAdjust="spacingAndGlyphs">0.2</text><text x="348.6" y="231.2" font-size="14.4" text-anchor="start" textLength="22.6" lengthAdjust="spacingAndGlyphs">0.0</text><linearGradient id="cbb" x1="0" y1="1" x2="0" y2="0"><stop offset="0" stop-color="#0000ff"/><stop offset="0.5" stop-color="#ffffff"/><stop offset="1" stop-color="#ff0000"/></linearGradient><rect x="706.1" y="10.9" width="18.3" height="215.6" fill="url(#cbb)" stroke="#000" stroke-width="2.2"/><path d="M706.1 204.9h2.2M724.4 204.9h-2.2" stroke="#000" stroke-width="0.8" opacity="0.7"/><path d="M706.1 183.4h2.2M724.4 183.4h-2.2" stroke="#000" stroke-width="0.8" opacity="0.7"/><path d="M706.1 161.8h2.2M724.4 161.8h-2.2" stroke="#000" stroke-width="0.8" opacity="0.7"/><path d="M706.1 140.3h2.2M724.4 140.3h-2.2" stroke="#000" stroke-width="0.8" opacity="0.7"/><path d="M706.1 118.7h2.2M724.4 118.7h-2.2" stroke="#000" stroke-width="0.8" opacity="0.7"/><path d="M706.1 97.1h2.2M724.4 97.1h-2.2" stroke="#000" stroke-width="0.8" opacity="0.7"/><path d="M706.1 75.6h2.2M724.4 75.6h-2.2" stroke="#000" stroke-width="0.8" opacity="0.7"/><path d="M706.1 54.0h2.2M724.4 54.0h-2.2" stroke="#000" stroke-width="0.8" opacity="0.7"/><path d="M706.1 32.5h2.2M724.4 32.5h-2.2" stroke="#000" stroke-width="0.8" opacity="0.7"/><text x="726.7" y="15.9" font-size="14.4" text-anchor="start" textLength="22.6" lengthAdjust="spacingAndGlyphs">1.0</text><text x="726.7" y="58.8" font-size="14.4" text-anchor="start" textLength="22.6" lengthAdjust="spacingAndGlyphs">0.8</text><text x="726.7" y="101.7" font-size="14.4" text-anchor="start" textLength="22.6" lengthAdjust="spacingAndGlyphs">0.6</text><text x="726.7" y="144.6" font-size="14.4" text-anchor="start" textLength="22.6" lengthAdjust="spacingAndGlyphs">0.4</text><text x="726.7" y="187.5" font-size="14.4" text-anchor="start" textLength="22.6" lengthAdjust="spacingAndGlyphs">0.2</text><text x="726.7" y="230.4" font-size="14.4" text-anchor="start" textLength="22.6" lengthAdjust="spacingAndGlyphs">0.0</text><linearGradient id="cbc" x1="0" y1="1" x2="0" y2="0"><stop offset="0" stop-color="#0000ff"/><stop offset="0.5" stop-color="#ffffff"/><stop offset="1" stop-color="#ff0000"/></linearGradient><rect x="327.7" y="276.9" width="18.0" height="215.8" fill="url(#cbc)" stroke="#000" stroke-width="2.2"/><path d="M327.7 471.1h2.2M345.7 471.1h-2.2" stroke="#000" stroke-width="0.8" opacity="0.7"/><path d="M327.7 449.5h2.2M345.7 449.5h-2.2" stroke="#000" stroke-width="0.8" opacity="0.7"/><path d="M327.7 428.0h2.2M345.7 428.0h-2.2" stroke="#000" stroke-width="0.8" opacity="0.7"/><path d="M327.7 406.4h2.2M345.7 406.4h-2.2" stroke="#000" stroke-width="0.8" opacity="0.7"/><path d="M327.7 384.8h2.2M345.7 384.8h-2.2" stroke="#000" stroke-width="0.8" opacity="0.7"/><path d="M327.7 363.2h2.2M345.7 363.2h-2.2" stroke="#000" stroke-width="0.8" opacity="0.7"/><path d="M327.7 341.6h2.2M345.7 341.6h-2.2" stroke="#000" stroke-width="0.8" opacity="0.7"/><path d="M327.7 320.1h2.2M345.7 320.1h-2.2" stroke="#000" stroke-width="0.8" opacity="0.7"/><path d="M327.7 298.5h2.2M345.7 298.5h-2.2" stroke="#000" stroke-width="0.8" opacity="0.7"/><text x="348.2" y="281.8" font-size="14.4" text-anchor="start" textLength="22.6" lengthAdjust="spacingAndGlyphs">1.0</text><text x="348.2" y="324.7" font-size="14.4" text-anchor="start" textLength="22.6" lengthAdjust="spacingAndGlyphs">0.8</text><text x="348.2" y="367.6" font-size="14.4" text-anchor="start" textLength="22.6" lengthAdjust="spacingAndGlyphs">0.6</text><text x="348.2" y="410.5" font-size="14.4" text-anchor="start" textLength="22.6" lengthAdjust="spacingAndGlyphs">0.4</text><text x="348.2" y="453.4" font-size="14.4" text-anchor="start" textLength="22.6" lengthAdjust="spacingAndGlyphs">0.2</text><text x="348.2" y="496.3" font-size="14.4" text-anchor="start" textLength="22.6" lengthAdjust="spacingAndGlyphs">0.0</text><linearGradient id="cbd" x1="0" y1="1" x2="0" y2="0"><stop offset="0" stop-color="#0000ff"/><stop offset="0.5" stop-color="#ffffff"/><stop offset="1" stop-color="#ff0000"/></linearGradient><rect x="708.1" y="276.7" width="18.0" height="216.0" fill="url(#cbd)" stroke="#000" stroke-width="2.2"/><path d="M708.1 471.1h2.2M726.1 471.1h-2.2" stroke="#000" stroke-width="0.8" opacity="0.7"/><path d="M708.1 449.5h2.2M726.1 449.5h-2.2" stroke="#000" stroke-width="0.8" opacity="0.7"/><path d="M708.1 427.9h2.2M726.1 427.9h-2.2" stroke="#000" stroke-width="0.8" opacity="0.7"/><path d="M708.1 406.3h2.2M726.1 406.3h-2.2" stroke="#000" stroke-width="0.8" opacity="0.7"/><path d="M708.1 384.7h2.2M726.1 384.7h-2.2" stroke="#000" stroke-width="0.8" opacity="0.7"/><path d="M708.1 363.1h2.2M726.1 363.1h-2.2" stroke="#000" stroke-width="0.8" opacity="0.7"/><path d="M708.1 341.5h2.2M726.1 341.5h-2.2" stroke="#000" stroke-width="0.8" opacity="0.7"/><path d="M708.1 319.9h2.2M726.1 319.9h-2.2" stroke="#000" stroke-width="0.8" opacity="0.7"/><path d="M708.1 298.3h2.2M726.1 298.3h-2.2" stroke="#000" stroke-width="0.8" opacity="0.7"/><text x="729.2" y="282.2" font-size="14.4" text-anchor="start" textLength="16.8" lengthAdjust="spacingAndGlyphs">20</text><text x="729.2" y="325.2" font-size="14.4" text-anchor="start" textLength="16.8" lengthAdjust="spacingAndGlyphs">16</text><text x="729.2" y="368.2" font-size="14.4" text-anchor="start" textLength="16.8" lengthAdjust="spacingAndGlyphs">12</text><text x="729.2" y="411.2" font-size="14.4" text-anchor="start" textLength="8.4" lengthAdjust="spacingAndGlyphs">8</text><text x="729.2" y="454.2" font-size="14.4" text-anchor="start" textLength="8.4" lengthAdjust="spacingAndGlyphs">4</text><text x="729.2" y="497.2" font-size="14.4" text-anchor="start" textLength="8.4" lengthAdjust="spacingAndGlyphs">0</text></svg></body></html>
